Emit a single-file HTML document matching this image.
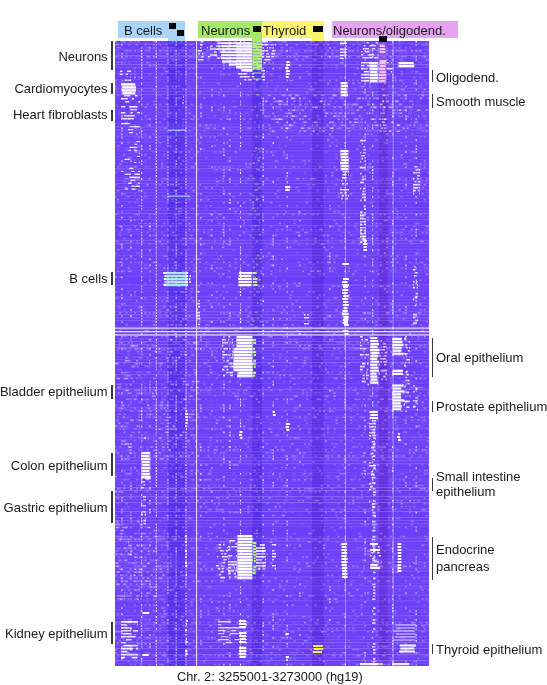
<!DOCTYPE html>
<html><head><meta charset="utf-8">
<style>
html,body{margin:0;padding:0;background:#fff;}
body{width:547px;height:685px;position:relative;overflow:hidden;font-family:"Liberation Sans",sans-serif;color:#1a1a1a;}
.t{position:absolute;font-size:13px;line-height:15px;white-space:nowrap;filter:grayscale(1);}
.r{text-align:right;}
.bar{position:absolute;background:#3a3a3a;width:1.6px;}
.box{position:absolute;}
.sq{position:absolute;background:#000;}
#hm{position:absolute;left:115px;top:41px;filter:blur(0.3px);}
</style></head><body>
<svg id="hm" width="314" height="625" viewBox="0 0 314 625"><rect width="314" height="625" fill="#6b3ef8"/><path fill="#3010d0" fill-opacity="0.3" d="M53.3 0h17.7v625h-17.7z"/><path fill="#3010c0" fill-opacity="0.3" d="M137.2 0h9.8v625h-9.8z"/><path fill="#3a10b8" fill-opacity="0.3" d="M197 0h11.6v625h-11.6z"/><path fill="#5010a0" fill-opacity="0.3" d="M264 0h8.6v625h-8.6z"/><path fill="#ffffff" fill-opacity="0.1" d="M0 2.1h314v0.9h-314zM0 8.1h314v0.9h-314zM0 11h314v0.9h-314zM0 17h314v0.9h-314zM0 20h314v0.9h-314zM0 34.9h314v0.9h-314zM0 37.9h314v0.9h-314zM0 40.8h314v0.9h-314zM0 43.8h314v0.9h-314zM0 55.7h314v0.9h-314zM0 67.7h314v0.9h-314zM0 70.6h314v0.9h-314zM0 73.6h314v0.9h-314zM0 76.6h314v0.9h-314zM0 82.6h314v0.9h-314zM0 91.5h314v0.9h-314zM0 97.5h314v0.9h-314zM0 103.4h314v0.9h-314zM0 106.4h314v0.9h-314zM0 112.4h314v0.9h-314zM0 115.3h314v0.9h-314zM0 118.3h314v0.9h-314zM0 121.3h314v0.9h-314zM0 124.3h314v0.9h-314zM0 130.2h314v0.9h-314zM0 136.2h314v0.9h-314zM0 145.1h314v0.9h-314zM0 148.1h314v0.9h-314zM0 151.1h314v0.9h-314zM0 154.1h314v0.9h-314zM0 157.1h314v0.9h-314zM0 160h314v0.9h-314zM0 166h314v0.9h-314zM0 169h314v0.9h-314zM0 174.9h314v0.9h-314zM0 189.8h314v0.9h-314zM0 192.8h314v0.9h-314zM0 204.7h314v0.9h-314zM0 210.7h314v0.9h-314zM0 216.7h314v0.9h-314zM0 222.6h314v0.9h-314zM0 225.6h314v0.9h-314zM0 228.6h314v0.9h-314zM0 231.6h314v0.9h-314zM0 234.5h314v0.9h-314zM0 246.5h314v0.9h-314zM0 249.4h314v0.9h-314zM0 267.3h314v0.9h-314zM0 285.2h314v0.9h-314zM0 294.1h314v0.9h-314zM0 297.1h314v0.9h-314zM0 309h314v0.9h-314zM0 312h314v0.9h-314zM0 315h314v0.9h-314zM0 318h314v0.9h-314zM0 323.9h314v0.9h-314zM0 329.9h314v0.9h-314zM0 335.9h314v0.9h-314zM0 341.8h314v0.9h-314zM0 350.8h314v0.9h-314zM0 359.7h314v0.9h-314zM0 362.7h314v0.9h-314zM0 374.6h314v0.9h-314zM0 377.6h314v0.9h-314zM0 380.6h314v0.9h-314zM0 383.5h314v0.9h-314zM0 392.5h314v0.9h-314zM0 401.4h314v0.9h-314zM0 404.4h314v0.9h-314zM0 407.4h314v0.9h-314zM0 413.3h314v0.9h-314zM0 428.2h314v0.9h-314zM0 431.2h314v0.9h-314zM0 434.2h314v0.9h-314zM0 437.2h314v0.9h-314zM0 440.2h314v0.9h-314zM0 443.1h314v0.9h-314zM0 458h314v0.9h-314zM0 467h314v0.9h-314zM0 484.9h314v0.9h-314zM0 502.7h314v0.9h-314zM0 505.7h314v0.9h-314zM0 511.7h314v0.9h-314zM0 514.7h314v0.9h-314zM0 517.6h314v0.9h-314zM0 523.6h314v0.9h-314zM0 538.5h314v0.9h-314zM0 541.5h314v0.9h-314zM0 550.4h314v0.9h-314zM0 565.3h314v0.9h-314zM0 568.3h314v0.9h-314zM0 571.3h314v0.9h-314zM0 577.2h314v0.9h-314zM0 580.2h314v0.9h-314zM0 586.2h314v0.9h-314zM0 595.1h314v0.9h-314zM0 598.1h314v0.9h-314zM0 604.1h314v0.9h-314zM0 616h314v0.9h-314zM0 621.9h314v0.9h-314zM0 624.9h314v0.1h-314zM21 0h2.1v1.5h-2.1zM29.4 0h2.1v1.5h-2.1zM54.6 0h2.1v1.5h-2.1zM142.8 0h2.1v1.5h-2.1zM151.2 0h2.1v1.5h-2.1zM189 0h2.1v1.5h-2.1zM212.1 0h2.1v1.5h-2.1zM218.4 0h2.1v1.5h-2.1zM233.1 0h2.1v1.5h-2.1zM245.7 0h2.1v1.5h-2.1zM287.7 0h2.1v1.5h-2.1zM14.7 3h2.1v1.5h-2.1zM18.9 3h2.1v1.5h-2.1zM33.6 3h2.1v1.5h-2.1zM58.8 3h2.1v1.5h-2.1zM98.7 3h2.1v1.5h-2.1zM100.8 3h2.1v1.5h-2.1zM111.3 3h2.1v1.5h-2.1zM117.6 3h2.1v1.5h-2.1zM123.9 3h2.1v1.5h-2.1zM136.5 3h2.1v1.5h-2.1zM165.9 3h2.1v1.5h-2.1zM220.5 3h2.1v1.5h-2.1zM228.9 3h2.1v1.5h-2.1zM262.5 3h2.1v1.5h-2.1zM296.1 3h2.1v1.5h-2.1zM302.4 3h2.1v1.5h-2.1zM8.4 6h2.1v1.5h-2.1zM33.6 6h2.1v1.5h-2.1zM46.2 6h2.1v1.5h-2.1zM58.8 6h2.1v1.5h-2.1zM107.1 6h2.1v1.5h-2.1zM130.2 6h2.1v1.5h-2.1zM151.2 6h2.1v1.5h-2.1zM168 6h2.1v1.5h-2.1zM210 6h2.1v1.5h-2.1zM260.4 6h2.1v1.5h-2.1zM310.8 6h2.1v1.5h-2.1zM0 8.9h2.1v1.5h-2.1zM8.4 8.9h2.1v1.5h-2.1zM37.8 8.9h2.1v1.5h-2.1zM56.7 8.9h2.1v1.5h-2.1zM75.6 8.9h2.1v1.5h-2.1zM94.5 8.9h2.1v1.5h-2.1zM98.7 8.9h2.1v1.5h-2.1zM140.7 8.9h2.1v1.5h-2.1zM161.7 8.9h2.1v1.5h-2.1zM176.4 8.9h2.1v1.5h-2.1zM180.6 8.9h2.1v1.5h-2.1zM218.4 8.9h2.1v1.5h-2.1zM224.7 8.9h2.1v1.5h-2.1zM273 8.9h2.1v1.5h-2.1zM294 8.9h2.1v1.5h-2.1zM310.8 8.9h2.1v1.5h-2.1zM39.9 11.9h2.1v1.5h-2.1zM44.1 11.9h2.1v1.5h-2.1zM67.2 11.9h2.1v1.5h-2.1zM130.2 11.9h2.1v1.5h-2.1zM165.9 11.9h2.1v1.5h-2.1zM170.1 11.9h2.1v1.5h-2.1zM178.5 11.9h2.1v1.5h-2.1zM256.2 11.9h2.1v1.5h-2.1zM283.5 11.9h2.1v1.5h-2.1zM285.6 11.9h2.1v1.5h-2.1zM289.8 11.9h2.1v1.5h-2.1zM298.2 11.9h2.1v1.5h-2.1zM8.4 14.9h2.1v1.5h-2.1zM18.9 14.9h2.1v1.5h-2.1zM23.1 14.9h2.1v1.5h-2.1zM39.9 14.9h2.1v1.5h-2.1zM58.8 14.9h2.1v1.5h-2.1zM65.1 14.9h2.1v1.5h-2.1zM90.3 14.9h2.1v1.5h-2.1zM92.4 14.9h2.1v1.5h-2.1zM107.1 14.9h2.1v1.5h-2.1zM111.3 14.9h2.1v1.5h-2.1zM121.8 14.9h2.1v1.5h-2.1zM123.9 14.9h2.1v1.5h-2.1zM130.2 14.9h2.1v1.5h-2.1zM134.4 14.9h2.1v1.5h-2.1zM136.5 14.9h2.1v1.5h-2.1zM163.8 14.9h2.1v1.5h-2.1zM180.6 14.9h2.1v1.5h-2.1zM193.2 14.9h2.1v1.5h-2.1zM195.3 14.9h2.1v1.5h-2.1zM201.6 14.9h2.1v1.5h-2.1zM203.7 14.9h2.1v1.5h-2.1zM207.9 14.9h2.1v1.5h-2.1zM226.8 14.9h2.1v1.5h-2.1zM235.2 14.9h2.1v1.5h-2.1zM245.7 14.9h2.1v1.5h-2.1zM252 14.9h2.1v1.5h-2.1zM270.9 14.9h2.1v1.5h-2.1zM283.5 14.9h2.1v1.5h-2.1zM302.4 14.9h2.1v1.5h-2.1zM304.5 14.9h2.1v1.5h-2.1zM312.9 14.9h1.1v1.5h-1.1zM23.1 17.9h2.1v1.5h-2.1zM130.2 17.9h2.1v1.5h-2.1zM134.4 17.9h2.1v1.5h-2.1zM142.8 17.9h2.1v1.5h-2.1zM168 17.9h2.1v1.5h-2.1zM178.5 17.9h2.1v1.5h-2.1zM210 17.9h2.1v1.5h-2.1zM222.6 17.9h2.1v1.5h-2.1zM308.7 17.9h2.1v1.5h-2.1zM130.2 20.9h2.1v1.5h-2.1zM165.9 20.9h2.1v1.5h-2.1zM178.5 20.9h2.1v1.5h-2.1zM254.1 20.9h2.1v1.5h-2.1zM281.4 20.9h2.1v1.5h-2.1zM58.8 23.8h2.1v1.5h-2.1zM69.3 23.8h2.1v1.5h-2.1zM75.6 23.8h2.1v1.5h-2.1zM98.7 23.8h2.1v1.5h-2.1zM199.5 23.8h2.1v1.5h-2.1zM210 23.8h2.1v1.5h-2.1zM216.3 23.8h2.1v1.5h-2.1zM273 23.8h2.1v1.5h-2.1zM296.1 23.8h2.1v1.5h-2.1zM142.8 26.8h2.1v1.5h-2.1zM195.3 26.8h2.1v1.5h-2.1zM207.9 26.8h2.1v1.5h-2.1zM245.7 26.8h2.1v1.5h-2.1zM247.8 26.8h2.1v1.5h-2.1zM39.9 29.8h2.1v1.5h-2.1zM48.3 29.8h2.1v1.5h-2.1zM247.8 29.8h2.1v1.5h-2.1zM275.1 29.8h2.1v1.5h-2.1zM73.5 32.8h2.1v1.5h-2.1zM176.4 32.8h2.1v1.5h-2.1zM37.8 35.8h2.1v1.5h-2.1zM50.4 35.8h2.1v1.5h-2.1zM63 35.8h2.1v1.5h-2.1zM65.1 35.8h2.1v1.5h-2.1zM178.5 35.8h2.1v1.5h-2.1zM207.9 35.8h2.1v1.5h-2.1zM252 35.8h2.1v1.5h-2.1zM10.5 38.7h2.1v1.5h-2.1zM44.1 38.7h2.1v1.5h-2.1zM77.7 38.7h2.1v1.5h-2.1zM123.9 38.7h2.1v1.5h-2.1zM207.9 38.7h2.1v1.5h-2.1zM287.7 38.7h2.1v1.5h-2.1zM296.1 38.7h2.1v1.5h-2.1zM31.5 41.7h2.1v1.5h-2.1zM136.5 41.7h2.1v1.5h-2.1zM165.9 41.7h2.1v1.5h-2.1zM174.3 41.7h2.1v1.5h-2.1zM79.8 44.7h2.1v1.5h-2.1zM168 44.7h2.1v1.5h-2.1zM191.1 44.7h2.1v1.5h-2.1zM235.2 44.7h2.1v1.5h-2.1zM266.7 44.7h2.1v1.5h-2.1zM21 47.7h2.1v1.5h-2.1zM117.6 47.7h2.1v1.5h-2.1zM119.7 47.7h2.1v1.5h-2.1zM142.8 47.7h2.1v1.5h-2.1zM144.9 47.7h2.1v1.5h-2.1zM205.8 47.7h2.1v1.5h-2.1zM245.7 47.7h2.1v1.5h-2.1zM254.1 47.7h2.1v1.5h-2.1zM63 50.7h2.1v1.5h-2.1zM224.7 50.7h2.1v1.5h-2.1zM254.1 50.7h2.1v1.5h-2.1zM260.4 50.7h2.1v1.5h-2.1zM310.8 50.7h2.1v1.5h-2.1zM159.6 53.6h2.1v1.5h-2.1zM14.7 56.6h2.1v1.5h-2.1zM65.1 56.6h2.1v1.5h-2.1zM151.2 56.6h2.1v1.5h-2.1zM14.7 59.6h2.1v1.5h-2.1zM39.9 59.6h2.1v1.5h-2.1zM98.7 59.6h2.1v1.5h-2.1zM203.7 59.6h2.1v1.5h-2.1zM0 62.6h2.1v1.5h-2.1zM21 62.6h2.1v1.5h-2.1zM98.7 62.6h2.1v1.5h-2.1zM283.5 62.6h2.1v1.5h-2.1zM285.6 62.6h2.1v1.5h-2.1zM44.1 65.6h2.1v1.5h-2.1zM58.8 65.6h2.1v1.5h-2.1zM67.2 65.6h2.1v1.5h-2.1zM105 65.6h2.1v1.5h-2.1zM138.6 65.6h2.1v1.5h-2.1zM161.7 65.6h2.1v1.5h-2.1zM180.6 65.6h2.1v1.5h-2.1zM191.1 65.6h2.1v1.5h-2.1zM218.4 65.6h2.1v1.5h-2.1zM243.6 65.6h2.1v1.5h-2.1zM50.4 68.5h2.1v1.5h-2.1zM73.5 68.5h2.1v1.5h-2.1zM105 68.5h2.1v1.5h-2.1zM294 68.5h2.1v1.5h-2.1zM304.5 68.5h2.1v1.5h-2.1zM21 71.5h2.1v1.5h-2.1zM44.1 71.5h2.1v1.5h-2.1zM147 71.5h2.1v1.5h-2.1zM189 71.5h2.1v1.5h-2.1zM306.6 71.5h2.1v1.5h-2.1zM107.1 74.5h2.1v1.5h-2.1zM151.2 74.5h2.1v1.5h-2.1zM189 74.5h2.1v1.5h-2.1zM224.7 74.5h2.1v1.5h-2.1zM245.7 74.5h2.1v1.5h-2.1zM8.4 77.5h2.1v1.5h-2.1zM168 77.5h2.1v1.5h-2.1zM180.6 77.5h2.1v1.5h-2.1zM207.9 77.5h2.1v1.5h-2.1zM260.4 77.5h2.1v1.5h-2.1zM266.7 77.5h2.1v1.5h-2.1zM302.4 77.5h2.1v1.5h-2.1zM308.7 77.5h2.1v1.5h-2.1zM254.1 80.5h2.1v1.5h-2.1zM56.7 83.4h2.1v1.5h-2.1zM63 83.4h2.1v1.5h-2.1zM73.5 83.4h2.1v1.5h-2.1zM88.2 83.4h2.1v1.5h-2.1zM92.4 83.4h2.1v1.5h-2.1zM102.9 83.4h2.1v1.5h-2.1zM138.6 83.4h2.1v1.5h-2.1zM201.6 83.4h2.1v1.5h-2.1zM239.4 83.4h2.1v1.5h-2.1zM252 83.4h2.1v1.5h-2.1zM268.8 83.4h2.1v1.5h-2.1zM289.8 83.4h2.1v1.5h-2.1zM44.1 86.4h2.1v1.5h-2.1zM67.2 86.4h2.1v1.5h-2.1zM77.7 86.4h2.1v1.5h-2.1zM79.8 86.4h2.1v1.5h-2.1zM138.6 86.4h2.1v1.5h-2.1zM199.5 86.4h2.1v1.5h-2.1zM220.5 86.4h2.1v1.5h-2.1zM233.1 86.4h2.1v1.5h-2.1zM235.2 86.4h2.1v1.5h-2.1zM306.6 86.4h2.1v1.5h-2.1zM18.9 89.4h2.1v1.5h-2.1zM138.6 89.4h2.1v1.5h-2.1zM142.8 89.4h2.1v1.5h-2.1zM153.3 89.4h2.1v1.5h-2.1zM170.1 89.4h2.1v1.5h-2.1zM176.4 89.4h2.1v1.5h-2.1zM273 89.4h2.1v1.5h-2.1zM279.3 89.4h2.1v1.5h-2.1zM4.2 92.4h2.1v1.5h-2.1zM10.5 92.4h2.1v1.5h-2.1zM33.6 92.4h2.1v1.5h-2.1zM182.7 92.4h2.1v1.5h-2.1zM18.9 95.4h2.1v1.5h-2.1zM29.4 95.4h2.1v1.5h-2.1zM39.9 95.4h2.1v1.5h-2.1zM58.8 95.4h2.1v1.5h-2.1zM69.3 95.4h2.1v1.5h-2.1zM90.3 95.4h2.1v1.5h-2.1zM142.8 95.4h2.1v1.5h-2.1zM176.4 95.4h2.1v1.5h-2.1zM264.6 95.4h2.1v1.5h-2.1zM289.8 95.4h2.1v1.5h-2.1zM69.3 101.3h2.1v1.5h-2.1zM186.9 101.3h2.1v1.5h-2.1zM222.6 101.3h2.1v1.5h-2.1zM296.1 101.3h2.1v1.5h-2.1zM44.1 104.3h2.1v1.5h-2.1zM67.2 104.3h2.1v1.5h-2.1zM136.5 104.3h2.1v1.5h-2.1zM163.8 104.3h2.1v1.5h-2.1zM195.3 104.3h2.1v1.5h-2.1zM84 107.3h2.1v1.5h-2.1zM144.9 107.3h2.1v1.5h-2.1zM165.9 107.3h2.1v1.5h-2.1zM218.4 107.3h2.1v1.5h-2.1zM228.9 107.3h2.1v1.5h-2.1zM37.8 110.3h2.1v1.5h-2.1zM84 110.3h2.1v1.5h-2.1zM142.8 110.3h2.1v1.5h-2.1zM159.6 110.3h2.1v1.5h-2.1zM222.6 110.3h2.1v1.5h-2.1zM270.9 110.3h2.1v1.5h-2.1zM281.4 110.3h2.1v1.5h-2.1zM84 113.2h2.1v1.5h-2.1zM176.4 113.2h2.1v1.5h-2.1zM56.7 116.2h2.1v1.5h-2.1zM119.7 116.2h2.1v1.5h-2.1zM138.6 116.2h2.1v1.5h-2.1zM140.7 116.2h2.1v1.5h-2.1zM161.7 116.2h2.1v1.5h-2.1zM264.6 116.2h2.1v1.5h-2.1zM279.3 116.2h2.1v1.5h-2.1zM111.3 119.2h2.1v1.5h-2.1zM199.5 119.2h2.1v1.5h-2.1zM203.7 119.2h2.1v1.5h-2.1zM262.5 119.2h2.1v1.5h-2.1zM201.6 122.2h2.1v1.5h-2.1zM203.7 122.2h2.1v1.5h-2.1zM310.8 122.2h2.1v1.5h-2.1zM4.2 125.2h2.1v1.5h-2.1zM33.6 125.2h2.1v1.5h-2.1zM50.4 125.2h2.1v1.5h-2.1zM56.7 125.2h2.1v1.5h-2.1zM58.8 125.2h2.1v1.5h-2.1zM92.4 125.2h2.1v1.5h-2.1zM117.6 125.2h2.1v1.5h-2.1zM123.9 125.2h2.1v1.5h-2.1zM138.6 125.2h2.1v1.5h-2.1zM155.4 125.2h2.1v1.5h-2.1zM199.5 125.2h2.1v1.5h-2.1zM285.6 125.2h2.1v1.5h-2.1zM14.7 128.1h2.1v1.5h-2.1zM241.5 128.1h2.1v1.5h-2.1zM98.7 131.1h2.1v1.5h-2.1zM136.5 134.1h2.1v1.5h-2.1zM195.3 134.1h2.1v1.5h-2.1zM264.6 134.1h2.1v1.5h-2.1zM2.1 137.1h2.1v1.5h-2.1zM44.1 137.1h2.1v1.5h-2.1zM54.6 137.1h2.1v1.5h-2.1zM73.5 137.1h2.1v1.5h-2.1zM75.6 137.1h2.1v1.5h-2.1zM130.2 137.1h2.1v1.5h-2.1zM189 137.1h2.1v1.5h-2.1zM210 137.1h2.1v1.5h-2.1zM226.8 137.1h2.1v1.5h-2.1zM235.2 137.1h2.1v1.5h-2.1zM243.6 137.1h2.1v1.5h-2.1zM264.6 137.1h2.1v1.5h-2.1zM273 137.1h2.1v1.5h-2.1zM10.5 140.1h2.1v1.5h-2.1zM25.2 140.1h2.1v1.5h-2.1zM73.5 140.1h2.1v1.5h-2.1zM84 140.1h2.1v1.5h-2.1zM130.2 140.1h2.1v1.5h-2.1zM216.3 140.1h2.1v1.5h-2.1zM37.8 143h2.1v1.5h-2.1zM119.7 143h2.1v1.5h-2.1zM159.6 143h2.1v1.5h-2.1zM199.5 143h2.1v1.5h-2.1zM218.4 143h2.1v1.5h-2.1zM241.5 143h2.1v1.5h-2.1zM302.4 143h2.1v1.5h-2.1zM304.5 143h2.1v1.5h-2.1zM48.3 146h2.1v1.5h-2.1zM50.4 146h2.1v1.5h-2.1zM88.2 146h2.1v1.5h-2.1zM163.8 146h2.1v1.5h-2.1zM178.5 146h2.1v1.5h-2.1zM195.3 146h2.1v1.5h-2.1zM212.1 146h2.1v1.5h-2.1zM218.4 146h2.1v1.5h-2.1zM75.6 149h2.1v1.5h-2.1zM163.8 149h2.1v1.5h-2.1zM310.8 149h2.1v1.5h-2.1zM25.2 152h2.1v1.5h-2.1zM94.5 152h2.1v1.5h-2.1zM193.2 152h2.1v1.5h-2.1zM31.5 155h2.1v1.5h-2.1zM65.1 155h2.1v1.5h-2.1zM102.9 155h2.1v1.5h-2.1zM220.5 155h2.1v1.5h-2.1zM270.9 155h2.1v1.5h-2.1zM8.4 157.9h2.1v1.5h-2.1zM81.9 157.9h2.1v1.5h-2.1zM90.3 157.9h2.1v1.5h-2.1zM228.9 157.9h2.1v1.5h-2.1zM279.3 157.9h2.1v1.5h-2.1zM12.6 160.9h2.1v1.5h-2.1zM14.7 160.9h2.1v1.5h-2.1zM21 160.9h2.1v1.5h-2.1zM23.1 160.9h2.1v1.5h-2.1zM50.4 160.9h2.1v1.5h-2.1zM65.1 160.9h2.1v1.5h-2.1zM136.5 163.9h2.1v1.5h-2.1zM199.5 163.9h2.1v1.5h-2.1zM270.9 163.9h2.1v1.5h-2.1zM90.3 166.9h2.1v1.5h-2.1zM113.4 166.9h2.1v1.5h-2.1zM218.4 166.9h2.1v1.5h-2.1zM58.8 169.9h2.1v1.5h-2.1zM81.9 169.9h2.1v1.5h-2.1zM48.3 172.8h2.1v1.5h-2.1zM159.6 172.8h2.1v1.5h-2.1zM178.5 172.8h2.1v1.5h-2.1zM186.9 172.8h2.1v1.5h-2.1zM224.7 172.8h2.1v1.5h-2.1zM228.9 172.8h2.1v1.5h-2.1zM239.4 172.8h2.1v1.5h-2.1zM56.7 175.8h2.1v1.5h-2.1zM283.5 175.8h2.1v1.5h-2.1zM285.6 175.8h2.1v1.5h-2.1zM63 178.8h2.1v1.5h-2.1zM84 178.8h2.1v1.5h-2.1zM285.6 178.8h2.1v1.5h-2.1zM287.7 178.8h2.1v1.5h-2.1zM168 181.8h2.1v1.5h-2.1zM207.9 181.8h2.1v1.5h-2.1zM44.1 184.8h2.1v1.5h-2.1zM56.7 184.8h2.1v1.5h-2.1zM75.6 184.8h2.1v1.5h-2.1zM142.8 184.8h2.1v1.5h-2.1zM197.4 184.8h2.1v1.5h-2.1zM252 184.8h2.1v1.5h-2.1zM266.7 184.8h2.1v1.5h-2.1zM275.1 184.8h2.1v1.5h-2.1zM0 187.7h2.1v1.5h-2.1zM18.9 187.7h2.1v1.5h-2.1zM56.7 187.7h2.1v1.5h-2.1zM63 187.7h2.1v1.5h-2.1zM67.2 187.7h2.1v1.5h-2.1zM84 187.7h2.1v1.5h-2.1zM92.4 187.7h2.1v1.5h-2.1zM113.4 187.7h2.1v1.5h-2.1zM159.6 187.7h2.1v1.5h-2.1zM191.1 187.7h2.1v1.5h-2.1zM224.7 187.7h2.1v1.5h-2.1zM239.4 187.7h2.1v1.5h-2.1zM308.7 187.7h2.1v1.5h-2.1zM58.8 190.7h2.1v1.5h-2.1zM117.6 190.7h2.1v1.5h-2.1zM218.4 190.7h2.1v1.5h-2.1zM252 190.7h2.1v1.5h-2.1zM264.6 190.7h2.1v1.5h-2.1zM279.3 190.7h2.1v1.5h-2.1zM283.5 190.7h2.1v1.5h-2.1zM294 190.7h2.1v1.5h-2.1zM298.2 190.7h2.1v1.5h-2.1zM54.6 193.7h2.1v1.5h-2.1zM63 193.7h2.1v1.5h-2.1zM73.5 193.7h2.1v1.5h-2.1zM210 193.7h2.1v1.5h-2.1zM239.4 193.7h2.1v1.5h-2.1zM247.8 193.7h2.1v1.5h-2.1zM266.7 193.7h2.1v1.5h-2.1zM270.9 193.7h2.1v1.5h-2.1zM31.5 196.7h2.1v1.5h-2.1zM50.4 196.7h2.1v1.5h-2.1zM65.1 196.7h2.1v1.5h-2.1zM102.9 196.7h2.1v1.5h-2.1zM134.4 196.7h2.1v1.5h-2.1zM153.3 196.7h2.1v1.5h-2.1zM178.5 196.7h2.1v1.5h-2.1zM197.4 196.7h2.1v1.5h-2.1zM254.1 196.7h2.1v1.5h-2.1zM262.5 196.7h2.1v1.5h-2.1zM273 196.7h2.1v1.5h-2.1zM65.1 199.7h2.1v1.5h-2.1zM81.9 199.7h2.1v1.5h-2.1zM84 199.7h2.1v1.5h-2.1zM155.4 199.7h2.1v1.5h-2.1zM2.1 202.6h2.1v1.5h-2.1zM50.4 202.6h2.1v1.5h-2.1zM77.7 202.6h2.1v1.5h-2.1zM98.7 202.6h2.1v1.5h-2.1zM102.9 202.6h2.1v1.5h-2.1zM138.6 202.6h2.1v1.5h-2.1zM153.3 202.6h2.1v1.5h-2.1zM262.5 202.6h2.1v1.5h-2.1zM151.2 205.6h2.1v1.5h-2.1zM155.4 205.6h2.1v1.5h-2.1zM252 205.6h2.1v1.5h-2.1zM212.1 208.6h2.1v1.5h-2.1zM302.4 208.6h2.1v1.5h-2.1zM100.8 211.6h2.1v1.5h-2.1zM123.9 211.6h2.1v1.5h-2.1zM180.6 211.6h2.1v1.5h-2.1zM285.6 211.6h2.1v1.5h-2.1zM8.4 214.6h2.1v1.5h-2.1zM159.6 214.6h2.1v1.5h-2.1zM170.1 214.6h2.1v1.5h-2.1zM247.8 214.6h2.1v1.5h-2.1zM298.2 214.6h2.1v1.5h-2.1zM73.5 217.5h2.1v1.5h-2.1zM98.7 217.5h2.1v1.5h-2.1zM100.8 217.5h2.1v1.5h-2.1zM107.1 217.5h2.1v1.5h-2.1zM128.1 217.5h2.1v1.5h-2.1zM170.1 217.5h2.1v1.5h-2.1zM224.7 217.5h2.1v1.5h-2.1zM287.7 217.5h2.1v1.5h-2.1zM312.9 217.5h1.1v1.5h-1.1zM0 220.5h2.1v1.5h-2.1zM2.1 220.5h2.1v1.5h-2.1zM21 220.5h2.1v1.5h-2.1zM54.6 220.5h2.1v1.5h-2.1zM67.2 220.5h2.1v1.5h-2.1zM79.8 220.5h2.1v1.5h-2.1zM100.8 220.5h2.1v1.5h-2.1zM105 220.5h2.1v1.5h-2.1zM165.9 220.5h2.1v1.5h-2.1zM207.9 220.5h2.1v1.5h-2.1zM222.6 220.5h2.1v1.5h-2.1zM228.9 220.5h2.1v1.5h-2.1zM252 220.5h2.1v1.5h-2.1zM63 223.5h2.1v1.5h-2.1zM79.8 223.5h2.1v1.5h-2.1zM117.6 223.5h2.1v1.5h-2.1zM151.2 223.5h2.1v1.5h-2.1zM159.6 223.5h2.1v1.5h-2.1zM189 223.5h2.1v1.5h-2.1zM233.1 223.5h2.1v1.5h-2.1zM254.1 223.5h2.1v1.5h-2.1zM298.2 223.5h2.1v1.5h-2.1zM312.9 223.5h1.1v1.5h-1.1zM2.1 226.5h2.1v1.5h-2.1zM77.7 226.5h2.1v1.5h-2.1zM102.9 226.5h2.1v1.5h-2.1zM107.1 226.5h2.1v1.5h-2.1zM163.8 226.5h2.1v1.5h-2.1zM189 226.5h2.1v1.5h-2.1zM195.3 226.5h2.1v1.5h-2.1zM199.5 226.5h2.1v1.5h-2.1zM243.6 226.5h2.1v1.5h-2.1zM279.3 226.5h2.1v1.5h-2.1zM308.7 226.5h2.1v1.5h-2.1zM25.2 229.5h2.1v1.5h-2.1zM90.3 229.5h2.1v1.5h-2.1zM275.1 229.5h2.1v1.5h-2.1zM289.8 229.5h2.1v1.5h-2.1zM304.5 229.5h2.1v1.5h-2.1zM308.7 229.5h2.1v1.5h-2.1zM25.2 232.4h2.1v1.5h-2.1zM63 232.4h2.1v1.5h-2.1zM312.9 232.4h1.1v1.5h-1.1zM33.6 235.4h2.1v1.5h-2.1zM46.2 235.4h2.1v1.5h-2.1zM159.6 235.4h2.1v1.5h-2.1zM298.2 235.4h2.1v1.5h-2.1zM2.1 238.4h2.1v1.5h-2.1zM65.1 238.4h2.1v1.5h-2.1zM233.1 238.4h2.1v1.5h-2.1zM241.5 238.4h2.1v1.5h-2.1zM296.1 238.4h2.1v1.5h-2.1zM308.7 238.4h2.1v1.5h-2.1zM12.6 241.4h2.1v1.5h-2.1zM79.8 244.4h2.1v1.5h-2.1zM94.5 244.4h2.1v1.5h-2.1zM100.8 244.4h2.1v1.5h-2.1zM161.7 244.4h2.1v1.5h-2.1zM247.8 244.4h2.1v1.5h-2.1zM262.5 244.4h2.1v1.5h-2.1zM168 247.3h2.1v1.5h-2.1zM2.1 250.3h2.1v1.5h-2.1zM50.4 250.3h2.1v1.5h-2.1zM233.1 250.3h2.1v1.5h-2.1zM247.8 250.3h2.1v1.5h-2.1zM275.1 250.3h2.1v1.5h-2.1zM287.7 250.3h2.1v1.5h-2.1zM306.6 250.3h2.1v1.5h-2.1zM92.4 253.3h2.1v1.5h-2.1zM256.2 253.3h2.1v1.5h-2.1zM14.7 256.3h2.1v1.5h-2.1zM134.4 256.3h2.1v1.5h-2.1zM182.7 256.3h2.1v1.5h-2.1zM10.5 259.3h2.1v1.5h-2.1zM29.4 259.3h2.1v1.5h-2.1zM100.8 259.3h2.1v1.5h-2.1zM222.6 259.3h2.1v1.5h-2.1zM235.2 259.3h2.1v1.5h-2.1zM18.9 262.2h2.1v1.5h-2.1zM39.9 262.2h2.1v1.5h-2.1zM210 262.2h2.1v1.5h-2.1zM73.5 265.2h2.1v1.5h-2.1zM310.8 265.2h2.1v1.5h-2.1zM4.2 268.2h2.1v1.5h-2.1zM29.4 268.2h2.1v1.5h-2.1zM50.4 268.2h2.1v1.5h-2.1zM54.6 268.2h2.1v1.5h-2.1zM98.7 268.2h2.1v1.5h-2.1zM151.2 268.2h2.1v1.5h-2.1zM159.6 268.2h2.1v1.5h-2.1zM205.8 268.2h2.1v1.5h-2.1zM14.7 271.2h2.1v1.5h-2.1zM81.9 271.2h2.1v1.5h-2.1zM170.1 271.2h2.1v1.5h-2.1zM308.7 271.2h2.1v1.5h-2.1zM312.9 271.2h1.1v1.5h-1.1zM203.7 274.2h2.1v1.5h-2.1zM21 277.1h2.1v1.5h-2.1zM134.4 277.1h2.1v1.5h-2.1zM153.3 277.1h2.1v1.5h-2.1zM197.4 277.1h2.1v1.5h-2.1zM285.6 277.1h2.1v1.5h-2.1zM289.8 277.1h2.1v1.5h-2.1zM298.2 277.1h2.1v1.5h-2.1zM310.8 277.1h2.1v1.5h-2.1zM73.5 280.1h2.1v1.5h-2.1zM88.2 280.1h2.1v1.5h-2.1zM92.4 280.1h2.1v1.5h-2.1zM186.9 280.1h2.1v1.5h-2.1zM228.9 280.1h2.1v1.5h-2.1zM245.7 280.1h2.1v1.5h-2.1zM0 283.1h2.1v1.5h-2.1zM23.1 283.1h2.1v1.5h-2.1zM33.6 283.1h2.1v1.5h-2.1zM44.1 283.1h2.1v1.5h-2.1zM69.3 283.1h2.1v1.5h-2.1zM73.5 283.1h2.1v1.5h-2.1zM77.7 283.1h2.1v1.5h-2.1zM161.7 283.1h2.1v1.5h-2.1zM182.7 283.1h2.1v1.5h-2.1zM199.5 283.1h2.1v1.5h-2.1zM247.8 283.1h2.1v1.5h-2.1zM298.2 283.1h2.1v1.5h-2.1zM14.7 286.1h2.1v1.5h-2.1zM77.7 286.1h2.1v1.5h-2.1zM178.5 286.1h2.1v1.5h-2.1zM252 286.1h2.1v1.5h-2.1zM270.9 286.1h2.1v1.5h-2.1zM10.5 289.1h2.1v1.5h-2.1zM50.4 289.1h2.1v1.5h-2.1zM105 289.1h2.1v1.5h-2.1zM203.7 289.1h2.1v1.5h-2.1zM256.2 289.1h2.1v1.5h-2.1zM275.1 289.1h2.1v1.5h-2.1zM151.2 292h2.1v1.5h-2.1zM174.3 292h2.1v1.5h-2.1zM195.3 292h2.1v1.5h-2.1zM237.3 292h2.1v1.5h-2.1zM285.6 292h2.1v1.5h-2.1zM308.7 292h2.1v1.5h-2.1zM88.2 295h2.1v1.5h-2.1zM119.7 295h2.1v1.5h-2.1zM147 295h2.1v1.5h-2.1zM151.2 295h2.1v1.5h-2.1zM222.6 295h2.1v1.5h-2.1zM252 295h2.1v1.5h-2.1zM90.3 298h2.1v1.5h-2.1zM92.4 298h2.1v1.5h-2.1zM151.2 298h2.1v1.5h-2.1zM170.1 298h2.1v1.5h-2.1zM224.7 298h2.1v1.5h-2.1zM8.4 301h2.1v1.5h-2.1zM50.4 301h2.1v1.5h-2.1zM56.7 301h2.1v1.5h-2.1zM58.8 301h2.1v1.5h-2.1zM92.4 301h2.1v1.5h-2.1zM182.7 301h2.1v1.5h-2.1zM212.1 301h2.1v1.5h-2.1zM220.5 301h2.1v1.5h-2.1zM266.7 301h2.1v1.5h-2.1zM294 301h2.1v1.5h-2.1zM18.9 304h2.1v1.5h-2.1zM75.6 304h2.1v1.5h-2.1zM102.9 304h2.1v1.5h-2.1zM105 304h2.1v1.5h-2.1zM180.6 304h2.1v1.5h-2.1zM195.3 304h2.1v1.5h-2.1zM4.2 306.9h2.1v1.5h-2.1zM21 306.9h2.1v1.5h-2.1zM37.8 306.9h2.1v1.5h-2.1zM98.7 306.9h2.1v1.5h-2.1zM128.1 306.9h2.1v1.5h-2.1zM138.6 306.9h2.1v1.5h-2.1zM144.9 306.9h2.1v1.5h-2.1zM151.2 306.9h2.1v1.5h-2.1zM165.9 306.9h2.1v1.5h-2.1zM174.3 306.9h2.1v1.5h-2.1zM178.5 306.9h2.1v1.5h-2.1zM294 306.9h2.1v1.5h-2.1zM136.5 309.9h2.1v1.5h-2.1zM161.7 309.9h2.1v1.5h-2.1zM50.4 312.9h2.1v1.5h-2.1zM65.1 312.9h2.1v1.5h-2.1zM69.3 312.9h2.1v1.5h-2.1zM77.7 312.9h2.1v1.5h-2.1zM165.9 312.9h2.1v1.5h-2.1zM2.1 315.9h2.1v1.5h-2.1zM18.9 315.9h2.1v1.5h-2.1zM94.5 315.9h2.1v1.5h-2.1zM100.8 315.9h2.1v1.5h-2.1zM136.5 315.9h2.1v1.5h-2.1zM147 315.9h2.1v1.5h-2.1zM260.4 315.9h2.1v1.5h-2.1zM186.9 318.9h2.1v1.5h-2.1zM207.9 318.9h2.1v1.5h-2.1zM252 318.9h2.1v1.5h-2.1zM65.1 321.8h2.1v1.5h-2.1zM79.8 321.8h2.1v1.5h-2.1zM105 321.8h2.1v1.5h-2.1zM107.1 321.8h2.1v1.5h-2.1zM111.3 321.8h2.1v1.5h-2.1zM128.1 321.8h2.1v1.5h-2.1zM144.9 321.8h2.1v1.5h-2.1zM218.4 321.8h2.1v1.5h-2.1zM228.9 321.8h2.1v1.5h-2.1zM239.4 321.8h2.1v1.5h-2.1zM281.4 321.8h2.1v1.5h-2.1zM18.9 324.8h2.1v1.5h-2.1zM37.8 324.8h2.1v1.5h-2.1zM48.3 324.8h2.1v1.5h-2.1zM65.1 324.8h2.1v1.5h-2.1zM119.7 324.8h2.1v1.5h-2.1zM174.3 324.8h2.1v1.5h-2.1zM199.5 324.8h2.1v1.5h-2.1zM226.8 324.8h2.1v1.5h-2.1zM140.7 327.8h2.1v1.5h-2.1zM174.3 327.8h2.1v1.5h-2.1zM218.4 327.8h2.1v1.5h-2.1zM285.6 327.8h2.1v1.5h-2.1zM79.8 330.8h2.1v1.5h-2.1zM98.7 330.8h2.1v1.5h-2.1zM189 330.8h2.1v1.5h-2.1zM113.4 333.8h2.1v1.5h-2.1zM199.5 333.8h2.1v1.5h-2.1zM270.9 333.8h2.1v1.5h-2.1zM2.1 336.7h2.1v1.5h-2.1zM44.1 336.7h2.1v1.5h-2.1zM46.2 336.7h2.1v1.5h-2.1zM50.4 336.7h2.1v1.5h-2.1zM77.7 336.7h2.1v1.5h-2.1zM79.8 336.7h2.1v1.5h-2.1zM92.4 336.7h2.1v1.5h-2.1zM224.7 336.7h2.1v1.5h-2.1zM247.8 336.7h2.1v1.5h-2.1zM252 336.7h2.1v1.5h-2.1zM270.9 336.7h2.1v1.5h-2.1zM50.4 339.7h2.1v1.5h-2.1zM73.5 339.7h2.1v1.5h-2.1zM88.2 339.7h2.1v1.5h-2.1zM105 339.7h2.1v1.5h-2.1zM111.3 339.7h2.1v1.5h-2.1zM193.2 339.7h2.1v1.5h-2.1zM243.6 339.7h2.1v1.5h-2.1zM279.3 339.7h2.1v1.5h-2.1zM285.6 339.7h2.1v1.5h-2.1zM0 342.7h2.1v1.5h-2.1zM140.7 342.7h2.1v1.5h-2.1zM199.5 342.7h2.1v1.5h-2.1zM226.8 342.7h2.1v1.5h-2.1zM289.8 342.7h2.1v1.5h-2.1zM23.1 345.7h2.1v1.5h-2.1zM46.2 345.7h2.1v1.5h-2.1zM79.8 345.7h2.1v1.5h-2.1zM84 345.7h2.1v1.5h-2.1zM100.8 345.7h2.1v1.5h-2.1zM216.3 345.7h2.1v1.5h-2.1zM224.7 345.7h2.1v1.5h-2.1zM245.7 345.7h2.1v1.5h-2.1zM39.9 348.7h2.1v1.5h-2.1zM48.3 348.7h2.1v1.5h-2.1zM63 348.7h2.1v1.5h-2.1zM67.2 348.7h2.1v1.5h-2.1zM98.7 348.7h2.1v1.5h-2.1zM105 348.7h2.1v1.5h-2.1zM151.2 348.7h2.1v1.5h-2.1zM165.9 348.7h2.1v1.5h-2.1zM189 348.7h2.1v1.5h-2.1zM220.5 348.7h2.1v1.5h-2.1zM224.7 348.7h2.1v1.5h-2.1zM233.1 348.7h2.1v1.5h-2.1zM254.1 348.7h2.1v1.5h-2.1zM266.7 348.7h2.1v1.5h-2.1zM268.8 348.7h2.1v1.5h-2.1zM279.3 348.7h2.1v1.5h-2.1zM285.6 348.7h2.1v1.5h-2.1zM287.7 348.7h2.1v1.5h-2.1zM312.9 348.7h1.1v1.5h-1.1zM29.4 351.6h2.1v1.5h-2.1zM84 351.6h2.1v1.5h-2.1zM88.2 351.6h2.1v1.5h-2.1zM94.5 351.6h2.1v1.5h-2.1zM119.7 351.6h2.1v1.5h-2.1zM130.2 351.6h2.1v1.5h-2.1zM37.8 354.6h2.1v1.5h-2.1zM207.9 354.6h2.1v1.5h-2.1zM79.8 357.6h2.1v1.5h-2.1zM94.5 357.6h2.1v1.5h-2.1zM100.8 357.6h2.1v1.5h-2.1zM111.3 357.6h2.1v1.5h-2.1zM186.9 357.6h2.1v1.5h-2.1zM207.9 357.6h2.1v1.5h-2.1zM222.6 357.6h2.1v1.5h-2.1zM224.7 357.6h2.1v1.5h-2.1zM308.7 357.6h2.1v1.5h-2.1zM2.1 360.6h2.1v1.5h-2.1zM63 360.6h2.1v1.5h-2.1zM46.2 363.6h2.1v1.5h-2.1zM56.7 363.6h2.1v1.5h-2.1zM94.5 363.6h2.1v1.5h-2.1zM102.9 363.6h2.1v1.5h-2.1zM119.7 363.6h2.1v1.5h-2.1zM168 363.6h2.1v1.5h-2.1zM252 363.6h2.1v1.5h-2.1zM14.7 366.5h2.1v1.5h-2.1zM37.8 366.5h2.1v1.5h-2.1zM39.9 366.5h2.1v1.5h-2.1zM44.1 366.5h2.1v1.5h-2.1zM84 366.5h2.1v1.5h-2.1zM117.6 366.5h2.1v1.5h-2.1zM182.7 366.5h2.1v1.5h-2.1zM241.5 366.5h2.1v1.5h-2.1zM281.4 366.5h2.1v1.5h-2.1zM58.8 369.5h2.1v1.5h-2.1zM130.2 369.5h2.1v1.5h-2.1zM168 369.5h2.1v1.5h-2.1zM241.5 369.5h2.1v1.5h-2.1zM260.4 369.5h2.1v1.5h-2.1zM281.4 369.5h2.1v1.5h-2.1zM65.1 372.5h2.1v1.5h-2.1zM132.3 372.5h2.1v1.5h-2.1zM159.6 372.5h2.1v1.5h-2.1zM254.1 372.5h2.1v1.5h-2.1zM270.9 372.5h2.1v1.5h-2.1zM8.4 375.5h2.1v1.5h-2.1zM14.7 375.5h2.1v1.5h-2.1zM54.6 375.5h2.1v1.5h-2.1zM56.7 375.5h2.1v1.5h-2.1zM65.1 375.5h2.1v1.5h-2.1zM94.5 375.5h2.1v1.5h-2.1zM105 375.5h2.1v1.5h-2.1zM134.4 375.5h2.1v1.5h-2.1zM178.5 375.5h2.1v1.5h-2.1zM191.1 375.5h2.1v1.5h-2.1zM212.1 375.5h2.1v1.5h-2.1zM222.6 375.5h2.1v1.5h-2.1zM233.1 375.5h2.1v1.5h-2.1zM266.7 375.5h2.1v1.5h-2.1zM294 375.5h2.1v1.5h-2.1zM14.7 378.5h2.1v1.5h-2.1zM67.2 378.5h2.1v1.5h-2.1zM75.6 378.5h2.1v1.5h-2.1zM84 378.5h2.1v1.5h-2.1zM144.9 378.5h2.1v1.5h-2.1zM153.3 378.5h2.1v1.5h-2.1zM161.7 378.5h2.1v1.5h-2.1zM201.6 378.5h2.1v1.5h-2.1zM203.7 378.5h2.1v1.5h-2.1zM247.8 378.5h2.1v1.5h-2.1zM262.5 378.5h2.1v1.5h-2.1zM270.9 378.5h2.1v1.5h-2.1zM306.6 378.5h2.1v1.5h-2.1zM31.5 381.4h2.1v1.5h-2.1zM207.9 381.4h2.1v1.5h-2.1zM306.6 381.4h2.1v1.5h-2.1zM2.1 384.4h2.1v1.5h-2.1zM4.2 384.4h2.1v1.5h-2.1zM98.7 384.4h2.1v1.5h-2.1zM140.7 384.4h2.1v1.5h-2.1zM304.5 384.4h2.1v1.5h-2.1zM10.5 387.4h2.1v1.5h-2.1zM73.5 387.4h2.1v1.5h-2.1zM90.3 387.4h2.1v1.5h-2.1zM92.4 387.4h2.1v1.5h-2.1zM117.6 387.4h2.1v1.5h-2.1zM132.3 387.4h2.1v1.5h-2.1zM163.8 387.4h2.1v1.5h-2.1zM176.4 387.4h2.1v1.5h-2.1zM178.5 387.4h2.1v1.5h-2.1zM270.9 387.4h2.1v1.5h-2.1zM312.9 387.4h1.1v1.5h-1.1zM75.6 390.4h2.1v1.5h-2.1zM81.9 390.4h2.1v1.5h-2.1zM107.1 390.4h2.1v1.5h-2.1zM176.4 390.4h2.1v1.5h-2.1zM29.4 393.4h2.1v1.5h-2.1zM31.5 393.4h2.1v1.5h-2.1zM50.4 393.4h2.1v1.5h-2.1zM77.7 393.4h2.1v1.5h-2.1zM100.8 393.4h2.1v1.5h-2.1zM205.8 393.4h2.1v1.5h-2.1zM222.6 393.4h2.1v1.5h-2.1zM18.9 396.3h2.1v1.5h-2.1zM63 396.3h2.1v1.5h-2.1zM65.1 396.3h2.1v1.5h-2.1zM123.9 396.3h2.1v1.5h-2.1zM142.8 396.3h2.1v1.5h-2.1zM199.5 396.3h2.1v1.5h-2.1zM279.3 396.3h2.1v1.5h-2.1zM287.7 396.3h2.1v1.5h-2.1zM289.8 396.3h2.1v1.5h-2.1zM298.2 396.3h2.1v1.5h-2.1zM304.5 396.3h2.1v1.5h-2.1zM10.5 399.3h2.1v1.5h-2.1zM67.2 399.3h2.1v1.5h-2.1zM138.6 399.3h2.1v1.5h-2.1zM140.7 399.3h2.1v1.5h-2.1zM235.2 399.3h2.1v1.5h-2.1zM128.1 402.3h2.1v1.5h-2.1zM161.7 402.3h2.1v1.5h-2.1zM174.3 402.3h2.1v1.5h-2.1zM218.4 402.3h2.1v1.5h-2.1zM294 402.3h2.1v1.5h-2.1zM8.4 405.3h2.1v1.5h-2.1zM18.9 405.3h2.1v1.5h-2.1zM44.1 405.3h2.1v1.5h-2.1zM69.3 405.3h2.1v1.5h-2.1zM98.7 405.3h2.1v1.5h-2.1zM123.9 405.3h2.1v1.5h-2.1zM161.7 405.3h2.1v1.5h-2.1zM197.4 405.3h2.1v1.5h-2.1zM279.3 405.3h2.1v1.5h-2.1zM283.5 405.3h2.1v1.5h-2.1zM287.7 405.3h2.1v1.5h-2.1zM10.5 408.3h2.1v1.5h-2.1zM63 408.3h2.1v1.5h-2.1zM69.3 408.3h2.1v1.5h-2.1zM134.4 408.3h2.1v1.5h-2.1zM199.5 408.3h2.1v1.5h-2.1zM205.8 408.3h2.1v1.5h-2.1zM235.2 408.3h2.1v1.5h-2.1zM266.7 408.3h2.1v1.5h-2.1zM279.3 408.3h2.1v1.5h-2.1zM285.6 408.3h2.1v1.5h-2.1zM298.2 408.3h2.1v1.5h-2.1zM46.2 411.2h2.1v1.5h-2.1zM212.1 411.2h2.1v1.5h-2.1zM218.4 411.2h2.1v1.5h-2.1zM2.1 414.2h2.1v1.5h-2.1zM23.1 414.2h2.1v1.5h-2.1zM29.4 414.2h2.1v1.5h-2.1zM44.1 414.2h2.1v1.5h-2.1zM69.3 414.2h2.1v1.5h-2.1zM98.7 414.2h2.1v1.5h-2.1zM102.9 414.2h2.1v1.5h-2.1zM113.4 414.2h2.1v1.5h-2.1zM168 414.2h2.1v1.5h-2.1zM182.7 414.2h2.1v1.5h-2.1zM224.7 414.2h2.1v1.5h-2.1zM239.4 414.2h2.1v1.5h-2.1zM241.5 414.2h2.1v1.5h-2.1zM254.1 414.2h2.1v1.5h-2.1zM256.2 414.2h2.1v1.5h-2.1zM268.8 414.2h2.1v1.5h-2.1zM283.5 414.2h2.1v1.5h-2.1zM310.8 414.2h2.1v1.5h-2.1zM48.3 417.2h2.1v1.5h-2.1zM65.1 417.2h2.1v1.5h-2.1zM73.5 417.2h2.1v1.5h-2.1zM105 417.2h2.1v1.5h-2.1zM107.1 417.2h2.1v1.5h-2.1zM268.8 417.2h2.1v1.5h-2.1zM67.2 420.2h2.1v1.5h-2.1zM8.4 423.2h2.1v1.5h-2.1zM25.2 423.2h2.1v1.5h-2.1zM37.8 423.2h2.1v1.5h-2.1zM50.4 423.2h2.1v1.5h-2.1zM65.1 423.2h2.1v1.5h-2.1zM132.3 423.2h2.1v1.5h-2.1zM136.5 423.2h2.1v1.5h-2.1zM155.4 423.2h2.1v1.5h-2.1zM182.7 423.2h2.1v1.5h-2.1zM279.3 423.2h2.1v1.5h-2.1zM10.5 426.1h2.1v1.5h-2.1zM37.8 426.1h2.1v1.5h-2.1zM46.2 426.1h2.1v1.5h-2.1zM264.6 426.1h2.1v1.5h-2.1zM88.2 429.1h2.1v1.5h-2.1zM98.7 429.1h2.1v1.5h-2.1zM155.4 429.1h2.1v1.5h-2.1zM197.4 429.1h2.1v1.5h-2.1zM224.7 429.1h2.1v1.5h-2.1zM275.1 429.1h2.1v1.5h-2.1zM279.3 429.1h2.1v1.5h-2.1zM283.5 429.1h2.1v1.5h-2.1zM2.1 432.1h2.1v1.5h-2.1zM8.4 432.1h2.1v1.5h-2.1zM84 432.1h2.1v1.5h-2.1zM128.1 432.1h2.1v1.5h-2.1zM153.3 432.1h2.1v1.5h-2.1zM176.4 432.1h2.1v1.5h-2.1zM212.1 432.1h2.1v1.5h-2.1zM281.4 432.1h2.1v1.5h-2.1zM287.7 432.1h2.1v1.5h-2.1zM304.5 432.1h2.1v1.5h-2.1zM10.5 435.1h2.1v1.5h-2.1zM119.7 435.1h2.1v1.5h-2.1zM153.3 435.1h2.1v1.5h-2.1zM178.5 435.1h2.1v1.5h-2.1zM189 435.1h2.1v1.5h-2.1zM0 438.1h2.1v1.5h-2.1zM4.2 438.1h2.1v1.5h-2.1zM81.9 438.1h2.1v1.5h-2.1zM123.9 438.1h2.1v1.5h-2.1zM176.4 438.1h2.1v1.5h-2.1zM191.1 438.1h2.1v1.5h-2.1zM239.4 438.1h2.1v1.5h-2.1zM260.4 438.1h2.1v1.5h-2.1zM275.1 438.1h2.1v1.5h-2.1zM308.7 438.1h2.1v1.5h-2.1zM186.9 441h2.1v1.5h-2.1zM312.9 441h1.1v1.5h-1.1zM21 444h2.1v1.5h-2.1zM23.1 444h2.1v1.5h-2.1zM44.1 444h2.1v1.5h-2.1zM69.3 444h2.1v1.5h-2.1zM84 444h2.1v1.5h-2.1zM88.2 444h2.1v1.5h-2.1zM98.7 444h2.1v1.5h-2.1zM304.5 444h2.1v1.5h-2.1zM33.6 447h2.1v1.5h-2.1zM81.9 447h2.1v1.5h-2.1zM105 447h2.1v1.5h-2.1zM140.7 447h2.1v1.5h-2.1zM155.4 447h2.1v1.5h-2.1zM199.5 447h2.1v1.5h-2.1zM201.6 447h2.1v1.5h-2.1zM203.7 447h2.1v1.5h-2.1zM29.4 450h2.1v1.5h-2.1zM67.2 450h2.1v1.5h-2.1zM79.8 450h2.1v1.5h-2.1zM102.9 450h2.1v1.5h-2.1zM161.7 450h2.1v1.5h-2.1zM163.8 450h2.1v1.5h-2.1zM197.4 450h2.1v1.5h-2.1zM235.2 450h2.1v1.5h-2.1zM23.1 453h2.1v1.5h-2.1zM29.4 453h2.1v1.5h-2.1zM81.9 453h2.1v1.5h-2.1zM134.4 453h2.1v1.5h-2.1zM142.8 453h2.1v1.5h-2.1zM163.8 453h2.1v1.5h-2.1zM260.4 453h2.1v1.5h-2.1zM8.4 455.9h2.1v1.5h-2.1zM18.9 455.9h2.1v1.5h-2.1zM25.2 455.9h2.1v1.5h-2.1zM31.5 455.9h2.1v1.5h-2.1zM39.9 455.9h2.1v1.5h-2.1zM44.1 455.9h2.1v1.5h-2.1zM48.3 455.9h2.1v1.5h-2.1zM56.7 455.9h2.1v1.5h-2.1zM79.8 455.9h2.1v1.5h-2.1zM88.2 455.9h2.1v1.5h-2.1zM136.5 455.9h2.1v1.5h-2.1zM155.4 455.9h2.1v1.5h-2.1zM176.4 455.9h2.1v1.5h-2.1zM195.3 455.9h2.1v1.5h-2.1zM205.8 455.9h2.1v1.5h-2.1zM243.6 455.9h2.1v1.5h-2.1zM252 455.9h2.1v1.5h-2.1zM283.5 455.9h2.1v1.5h-2.1zM8.4 458.9h2.1v1.5h-2.1zM75.6 458.9h2.1v1.5h-2.1zM140.7 458.9h2.1v1.5h-2.1zM144.9 458.9h2.1v1.5h-2.1zM168 458.9h2.1v1.5h-2.1zM256.2 458.9h2.1v1.5h-2.1zM73.5 461.9h2.1v1.5h-2.1zM121.8 461.9h2.1v1.5h-2.1zM176.4 461.9h2.1v1.5h-2.1zM195.3 461.9h2.1v1.5h-2.1zM205.8 461.9h2.1v1.5h-2.1zM306.6 461.9h2.1v1.5h-2.1zM8.4 464.9h2.1v1.5h-2.1zM222.6 464.9h2.1v1.5h-2.1zM264.6 464.9h2.1v1.5h-2.1zM8.4 467.9h2.1v1.5h-2.1zM12.6 467.9h2.1v1.5h-2.1zM46.2 467.9h2.1v1.5h-2.1zM81.9 467.9h2.1v1.5h-2.1zM113.4 467.9h2.1v1.5h-2.1zM123.9 467.9h2.1v1.5h-2.1zM159.6 467.9h2.1v1.5h-2.1zM161.7 467.9h2.1v1.5h-2.1zM203.7 467.9h2.1v1.5h-2.1zM224.7 467.9h2.1v1.5h-2.1zM226.8 467.9h2.1v1.5h-2.1zM241.5 467.9h2.1v1.5h-2.1zM252 467.9h2.1v1.5h-2.1zM256.2 467.9h2.1v1.5h-2.1zM310.8 467.9h2.1v1.5h-2.1zM18.9 470.8h2.1v1.5h-2.1zM241.5 470.8h2.1v1.5h-2.1zM25.2 473.8h2.1v1.5h-2.1zM29.4 473.8h2.1v1.5h-2.1zM33.6 473.8h2.1v1.5h-2.1zM144.9 473.8h2.1v1.5h-2.1zM182.7 473.8h2.1v1.5h-2.1zM281.4 473.8h2.1v1.5h-2.1zM128.1 476.8h2.1v1.5h-2.1zM14.7 479.8h2.1v1.5h-2.1zM10.5 482.8h2.1v1.5h-2.1zM31.5 482.8h2.1v1.5h-2.1zM165.9 482.8h2.1v1.5h-2.1zM186.9 482.8h2.1v1.5h-2.1zM233.1 482.8h2.1v1.5h-2.1zM264.6 482.8h2.1v1.5h-2.1zM306.6 482.8h2.1v1.5h-2.1zM0 485.7h2.1v1.5h-2.1zM33.6 485.7h2.1v1.5h-2.1zM50.4 485.7h2.1v1.5h-2.1zM84 485.7h2.1v1.5h-2.1zM130.2 485.7h2.1v1.5h-2.1zM193.2 485.7h2.1v1.5h-2.1zM29.4 488.7h2.1v1.5h-2.1zM84 488.7h2.1v1.5h-2.1zM147 488.7h2.1v1.5h-2.1zM159.6 488.7h2.1v1.5h-2.1zM94.5 491.7h2.1v1.5h-2.1zM130.2 491.7h2.1v1.5h-2.1zM144.9 491.7h2.1v1.5h-2.1zM220.5 491.7h2.1v1.5h-2.1zM266.7 491.7h2.1v1.5h-2.1zM77.7 494.7h2.1v1.5h-2.1zM144.9 494.7h2.1v1.5h-2.1zM199.5 494.7h2.1v1.5h-2.1zM302.4 494.7h2.1v1.5h-2.1zM304.5 494.7h2.1v1.5h-2.1zM31.5 497.7h2.1v1.5h-2.1zM56.7 497.7h2.1v1.5h-2.1zM176.4 497.7h2.1v1.5h-2.1zM180.6 497.7h2.1v1.5h-2.1zM186.9 497.7h2.1v1.5h-2.1zM273 497.7h2.1v1.5h-2.1zM283.5 497.7h2.1v1.5h-2.1zM33.6 500.6h2.1v1.5h-2.1zM0 503.6h2.1v1.5h-2.1zM44.1 503.6h2.1v1.5h-2.1zM48.3 503.6h2.1v1.5h-2.1zM73.5 503.6h2.1v1.5h-2.1zM90.3 503.6h2.1v1.5h-2.1zM113.4 503.6h2.1v1.5h-2.1zM178.5 503.6h2.1v1.5h-2.1zM210 503.6h2.1v1.5h-2.1zM252 503.6h2.1v1.5h-2.1zM308.7 503.6h2.1v1.5h-2.1zM0 506.6h2.1v1.5h-2.1zM33.6 506.6h2.1v1.5h-2.1zM37.8 506.6h2.1v1.5h-2.1zM54.6 506.6h2.1v1.5h-2.1zM65.1 506.6h2.1v1.5h-2.1zM168 506.6h2.1v1.5h-2.1zM220.5 506.6h2.1v1.5h-2.1zM243.6 506.6h2.1v1.5h-2.1zM245.7 506.6h2.1v1.5h-2.1zM2.1 509.6h2.1v1.5h-2.1zM18.9 512.6h2.1v1.5h-2.1zM25.2 512.6h2.1v1.5h-2.1zM46.2 512.6h2.1v1.5h-2.1zM56.7 512.6h2.1v1.5h-2.1zM121.8 512.6h2.1v1.5h-2.1zM228.9 512.6h2.1v1.5h-2.1zM247.8 512.6h2.1v1.5h-2.1zM294 512.6h2.1v1.5h-2.1zM10.5 515.5h2.1v1.5h-2.1zM14.7 515.5h2.1v1.5h-2.1zM33.6 515.5h2.1v1.5h-2.1zM81.9 515.5h2.1v1.5h-2.1zM2.1 518.5h2.1v1.5h-2.1zM44.1 518.5h2.1v1.5h-2.1zM50.4 518.5h2.1v1.5h-2.1zM176.4 518.5h2.1v1.5h-2.1zM186.9 518.5h2.1v1.5h-2.1zM245.7 518.5h2.1v1.5h-2.1zM264.6 518.5h2.1v1.5h-2.1zM2.1 521.5h2.1v1.5h-2.1zM18.9 521.5h2.1v1.5h-2.1zM44.1 521.5h2.1v1.5h-2.1zM58.8 521.5h2.1v1.5h-2.1zM90.3 521.5h2.1v1.5h-2.1zM113.4 521.5h2.1v1.5h-2.1zM252 521.5h2.1v1.5h-2.1zM294 521.5h2.1v1.5h-2.1zM304.5 521.5h2.1v1.5h-2.1zM8.4 524.5h2.1v1.5h-2.1zM18.9 524.5h2.1v1.5h-2.1zM37.8 524.5h2.1v1.5h-2.1zM46.2 524.5h2.1v1.5h-2.1zM75.6 524.5h2.1v1.5h-2.1zM123.9 524.5h2.1v1.5h-2.1zM130.2 524.5h2.1v1.5h-2.1zM142.8 524.5h2.1v1.5h-2.1zM168 524.5h2.1v1.5h-2.1zM174.3 524.5h2.1v1.5h-2.1zM228.9 524.5h2.1v1.5h-2.1zM239.4 524.5h2.1v1.5h-2.1zM18.9 527.5h2.1v1.5h-2.1zM25.2 527.5h2.1v1.5h-2.1zM81.9 527.5h2.1v1.5h-2.1zM130.2 527.5h2.1v1.5h-2.1zM10.5 530.4h2.1v1.5h-2.1zM54.6 530.4h2.1v1.5h-2.1zM266.7 530.4h2.1v1.5h-2.1zM8.4 533.4h2.1v1.5h-2.1zM73.5 533.4h2.1v1.5h-2.1zM100.8 533.4h2.1v1.5h-2.1zM105 533.4h2.1v1.5h-2.1zM174.3 533.4h2.1v1.5h-2.1zM228.9 533.4h2.1v1.5h-2.1zM117.6 536.4h2.1v1.5h-2.1zM128.1 536.4h2.1v1.5h-2.1zM130.2 536.4h2.1v1.5h-2.1zM199.5 536.4h2.1v1.5h-2.1zM14.7 539.4h2.1v1.5h-2.1zM37.8 539.4h2.1v1.5h-2.1zM39.9 539.4h2.1v1.5h-2.1zM98.7 539.4h2.1v1.5h-2.1zM151.2 539.4h2.1v1.5h-2.1zM159.6 539.4h2.1v1.5h-2.1zM170.1 539.4h2.1v1.5h-2.1zM180.6 539.4h2.1v1.5h-2.1zM197.4 539.4h2.1v1.5h-2.1zM205.8 539.4h2.1v1.5h-2.1zM237.3 539.4h2.1v1.5h-2.1zM306.6 539.4h2.1v1.5h-2.1zM2.1 542.4h2.1v1.5h-2.1zM37.8 542.4h2.1v1.5h-2.1zM48.3 542.4h2.1v1.5h-2.1zM84 542.4h2.1v1.5h-2.1zM121.8 542.4h2.1v1.5h-2.1zM170.1 542.4h2.1v1.5h-2.1zM29.4 545.3h2.1v1.5h-2.1zM117.6 545.3h2.1v1.5h-2.1zM140.7 545.3h2.1v1.5h-2.1zM222.6 545.3h2.1v1.5h-2.1zM298.2 545.3h2.1v1.5h-2.1zM69.3 548.3h2.1v1.5h-2.1zM90.3 548.3h2.1v1.5h-2.1zM138.6 548.3h2.1v1.5h-2.1zM144.9 548.3h2.1v1.5h-2.1zM222.6 548.3h2.1v1.5h-2.1zM4.2 551.3h2.1v1.5h-2.1zM306.6 551.3h2.1v1.5h-2.1zM39.9 554.3h2.1v1.5h-2.1zM46.2 554.3h2.1v1.5h-2.1zM48.3 554.3h2.1v1.5h-2.1zM84 554.3h2.1v1.5h-2.1zM100.8 554.3h2.1v1.5h-2.1zM128.1 554.3h2.1v1.5h-2.1zM144.9 554.3h2.1v1.5h-2.1zM161.7 554.3h2.1v1.5h-2.1zM176.4 554.3h2.1v1.5h-2.1zM233.1 554.3h2.1v1.5h-2.1zM243.6 554.3h2.1v1.5h-2.1zM270.9 554.3h2.1v1.5h-2.1zM289.8 554.3h2.1v1.5h-2.1zM298.2 554.3h2.1v1.5h-2.1zM310.8 554.3h2.1v1.5h-2.1zM14.7 557.3h2.1v1.5h-2.1zM18.9 557.3h2.1v1.5h-2.1zM21 557.3h2.1v1.5h-2.1zM33.6 557.3h2.1v1.5h-2.1zM69.3 557.3h2.1v1.5h-2.1zM84 557.3h2.1v1.5h-2.1zM92.4 557.3h2.1v1.5h-2.1zM111.3 557.3h2.1v1.5h-2.1zM117.6 557.3h2.1v1.5h-2.1zM132.3 557.3h2.1v1.5h-2.1zM140.7 557.3h2.1v1.5h-2.1zM161.7 557.3h2.1v1.5h-2.1zM189 557.3h2.1v1.5h-2.1zM191.1 557.3h2.1v1.5h-2.1zM233.1 557.3h2.1v1.5h-2.1zM237.3 557.3h2.1v1.5h-2.1zM239.4 557.3h2.1v1.5h-2.1zM245.7 557.3h2.1v1.5h-2.1zM262.5 557.3h2.1v1.5h-2.1zM294 557.3h2.1v1.5h-2.1zM31.5 560.2h2.1v1.5h-2.1zM140.7 560.2h2.1v1.5h-2.1zM222.6 560.2h2.1v1.5h-2.1zM266.7 560.2h2.1v1.5h-2.1zM285.6 560.2h2.1v1.5h-2.1zM25.2 563.2h2.1v1.5h-2.1zM90.3 563.2h2.1v1.5h-2.1zM140.7 563.2h2.1v1.5h-2.1zM142.8 563.2h2.1v1.5h-2.1zM243.6 563.2h2.1v1.5h-2.1zM33.6 566.2h2.1v1.5h-2.1zM92.4 566.2h2.1v1.5h-2.1zM235.2 566.2h2.1v1.5h-2.1zM2.1 569.2h2.1v1.5h-2.1zM10.5 569.2h2.1v1.5h-2.1zM75.6 569.2h2.1v1.5h-2.1zM100.8 569.2h2.1v1.5h-2.1zM107.1 569.2h2.1v1.5h-2.1zM168 569.2h2.1v1.5h-2.1zM304.5 569.2h2.1v1.5h-2.1zM310.8 569.2h2.1v1.5h-2.1zM25.2 572.2h2.1v1.5h-2.1zM67.2 572.2h2.1v1.5h-2.1zM155.4 572.2h2.1v1.5h-2.1zM178.5 572.2h2.1v1.5h-2.1zM285.6 572.2h2.1v1.5h-2.1zM312.9 572.2h1.1v1.5h-1.1zM174.3 575.1h2.1v1.5h-2.1zM178.5 575.1h2.1v1.5h-2.1zM310.8 575.1h2.1v1.5h-2.1zM312.9 575.1h1.1v1.5h-1.1zM31.5 578.1h2.1v1.5h-2.1zM39.9 578.1h2.1v1.5h-2.1zM197.4 578.1h2.1v1.5h-2.1zM212.1 578.1h2.1v1.5h-2.1zM235.2 578.1h2.1v1.5h-2.1zM2.1 581.1h2.1v1.5h-2.1zM29.4 581.1h2.1v1.5h-2.1zM50.4 581.1h2.1v1.5h-2.1zM56.7 581.1h2.1v1.5h-2.1zM119.7 581.1h2.1v1.5h-2.1zM147 581.1h2.1v1.5h-2.1zM165.9 581.1h2.1v1.5h-2.1zM176.4 581.1h2.1v1.5h-2.1zM178.5 581.1h2.1v1.5h-2.1zM285.6 581.1h2.1v1.5h-2.1zM25.2 584.1h2.1v1.5h-2.1zM48.3 584.1h2.1v1.5h-2.1zM63 584.1h2.1v1.5h-2.1zM75.6 584.1h2.1v1.5h-2.1zM105 584.1h2.1v1.5h-2.1zM136.5 584.1h2.1v1.5h-2.1zM159.6 584.1h2.1v1.5h-2.1zM186.9 584.1h2.1v1.5h-2.1zM193.2 584.1h2.1v1.5h-2.1zM310.8 584.1h2.1v1.5h-2.1zM0 587.1h2.1v1.5h-2.1zM2.1 587.1h2.1v1.5h-2.1zM14.7 587.1h2.1v1.5h-2.1zM25.2 587.1h2.1v1.5h-2.1zM48.3 587.1h2.1v1.5h-2.1zM90.3 587.1h2.1v1.5h-2.1zM98.7 587.1h2.1v1.5h-2.1zM140.7 587.1h2.1v1.5h-2.1zM161.7 587.1h2.1v1.5h-2.1zM203.7 587.1h2.1v1.5h-2.1zM228.9 587.1h2.1v1.5h-2.1zM8.4 590h2.1v1.5h-2.1zM14.7 590h2.1v1.5h-2.1zM29.4 590h2.1v1.5h-2.1zM39.9 590h2.1v1.5h-2.1zM50.4 590h2.1v1.5h-2.1zM69.3 590h2.1v1.5h-2.1zM84 590h2.1v1.5h-2.1zM94.5 590h2.1v1.5h-2.1zM121.8 590h2.1v1.5h-2.1zM132.3 590h2.1v1.5h-2.1zM142.8 590h2.1v1.5h-2.1zM174.3 590h2.1v1.5h-2.1zM182.7 590h2.1v1.5h-2.1zM222.6 590h2.1v1.5h-2.1zM239.4 590h2.1v1.5h-2.1zM256.2 590h2.1v1.5h-2.1zM281.4 590h2.1v1.5h-2.1zM296.1 590h2.1v1.5h-2.1zM304.5 590h2.1v1.5h-2.1zM12.6 593h2.1v1.5h-2.1zM69.3 593h2.1v1.5h-2.1zM81.9 593h2.1v1.5h-2.1zM92.4 593h2.1v1.5h-2.1zM138.6 593h2.1v1.5h-2.1zM207.9 593h2.1v1.5h-2.1zM218.4 593h2.1v1.5h-2.1zM222.6 593h2.1v1.5h-2.1zM224.7 593h2.1v1.5h-2.1zM254.1 593h2.1v1.5h-2.1zM4.2 596h2.1v1.5h-2.1zM21 596h2.1v1.5h-2.1zM37.8 596h2.1v1.5h-2.1zM65.1 596h2.1v1.5h-2.1zM88.2 596h2.1v1.5h-2.1zM308.7 596h2.1v1.5h-2.1zM10.5 599h2.1v1.5h-2.1zM33.6 599h2.1v1.5h-2.1zM105 599h2.1v1.5h-2.1zM117.6 599h2.1v1.5h-2.1zM285.6 599h2.1v1.5h-2.1zM163.8 602h2.1v1.5h-2.1zM195.3 602h2.1v1.5h-2.1zM203.7 602h2.1v1.5h-2.1zM235.2 602h2.1v1.5h-2.1zM287.7 602h2.1v1.5h-2.1zM304.5 602h2.1v1.5h-2.1zM31.5 604.9h2.1v1.5h-2.1zM37.8 604.9h2.1v1.5h-2.1zM39.9 604.9h2.1v1.5h-2.1zM44.1 604.9h2.1v1.5h-2.1zM111.3 604.9h2.1v1.5h-2.1zM138.6 604.9h2.1v1.5h-2.1zM182.7 604.9h2.1v1.5h-2.1zM235.2 604.9h2.1v1.5h-2.1zM247.8 604.9h2.1v1.5h-2.1zM289.8 604.9h2.1v1.5h-2.1zM8.4 607.9h2.1v1.5h-2.1zM90.3 607.9h2.1v1.5h-2.1zM243.6 607.9h2.1v1.5h-2.1zM285.6 607.9h2.1v1.5h-2.1zM298.2 607.9h2.1v1.5h-2.1zM113.4 610.9h2.1v1.5h-2.1zM140.7 610.9h2.1v1.5h-2.1zM174.3 610.9h2.1v1.5h-2.1zM178.5 610.9h2.1v1.5h-2.1zM182.7 610.9h2.1v1.5h-2.1zM294 610.9h2.1v1.5h-2.1zM306.6 610.9h2.1v1.5h-2.1zM12.6 613.9h2.1v1.5h-2.1zM31.5 613.9h2.1v1.5h-2.1zM63 613.9h2.1v1.5h-2.1zM67.2 613.9h2.1v1.5h-2.1zM81.9 613.9h2.1v1.5h-2.1zM92.4 613.9h2.1v1.5h-2.1zM121.8 613.9h2.1v1.5h-2.1zM134.4 613.9h2.1v1.5h-2.1zM136.5 613.9h2.1v1.5h-2.1zM178.5 613.9h2.1v1.5h-2.1zM193.2 613.9h2.1v1.5h-2.1zM228.9 613.9h2.1v1.5h-2.1zM237.3 613.9h2.1v1.5h-2.1zM239.4 613.9h2.1v1.5h-2.1zM281.4 613.9h2.1v1.5h-2.1zM287.7 613.9h2.1v1.5h-2.1zM294 613.9h2.1v1.5h-2.1zM298.2 613.9h2.1v1.5h-2.1zM304.5 613.9h2.1v1.5h-2.1zM306.6 613.9h2.1v1.5h-2.1zM308.7 613.9h2.1v1.5h-2.1zM18.9 616.9h2.1v1.5h-2.1zM44.1 616.9h2.1v1.5h-2.1zM262.5 616.9h2.1v1.5h-2.1zM128.1 619.8h2.1v1.5h-2.1zM203.7 619.8h2.1v1.5h-2.1zM266.7 619.8h2.1v1.5h-2.1zM275.1 619.8h2.1v1.5h-2.1zM308.7 619.8h2.1v1.5h-2.1zM4.2 622.8h2.1v1.5h-2.1zM56.7 622.8h2.1v1.5h-2.1zM79.8 622.8h2.1v1.5h-2.1zM151.2 622.8h2.1v1.5h-2.1zM176.4 622.8h2.1v1.5h-2.1zM210 622.8h2.1v1.5h-2.1zM233.1 622.8h2.1v1.5h-2.1z"/><path fill="#ffffff" fill-opacity="0.2" d="M0 14h314v0.9h-314zM0 23h314v0.9h-314zM0 25.9h314v0.9h-314zM0 31.9h314v0.9h-314zM0 46.8h314v0.9h-314zM0 49.8h314v0.9h-314zM0 52.8h314v0.9h-314zM0 64.7h314v0.9h-314zM0 85.5h314v0.9h-314zM0 88.5h314v0.9h-314zM0 94.5h314v0.9h-314zM0 100.4h314v0.9h-314zM0 109.4h314v0.9h-314zM0 127.3h314v0.9h-314zM0 139.2h314v0.9h-314zM0 142.2h314v0.9h-314zM0 172h314v0.9h-314zM0 177.9h314v0.9h-314zM0 183.9h314v0.9h-314zM0 198.8h314v0.9h-314zM0 201.8h314v0.9h-314zM0 207.7h314v0.9h-314zM0 213.7h314v0.9h-314zM0 243.5h314v0.9h-314zM0 255.4h314v0.9h-314zM0 258.4h314v0.9h-314zM0 261.4h314v0.9h-314zM0 264.3h314v0.9h-314zM0 270.3h314v0.9h-314zM0 273.3h314v0.9h-314zM0 276.3h314v0.9h-314zM0 279.2h314v0.9h-314zM0 288.2h314v0.9h-314zM0 291.2h314v0.9h-314zM0 300.1h314v0.9h-314zM0 303.1h314v0.9h-314zM0 306.1h314v0.9h-314zM0 321h314v0.9h-314zM0 332.9h314v0.9h-314zM0 347.8h314v0.9h-314zM0 353.7h314v0.9h-314zM0 365.7h314v0.9h-314zM0 368.6h314v0.9h-314zM0 386.5h314v0.9h-314zM0 395.5h314v0.9h-314zM0 398.4h314v0.9h-314zM0 410.4h314v0.9h-314zM0 416.3h314v0.9h-314zM0 419.3h314v0.9h-314zM0 422.3h314v0.9h-314zM0 446.1h314v0.9h-314zM0 449.1h314v0.9h-314zM0 455.1h314v0.9h-314zM0 461h314v0.9h-314zM0 470h314v0.9h-314zM0 475.9h314v0.9h-314zM0 478.9h314v0.9h-314zM0 481.9h314v0.9h-314zM0 496.8h314v0.9h-314zM0 499.8h314v0.9h-314zM0 508.7h314v0.9h-314zM0 520.6h314v0.9h-314zM0 526.6h314v0.9h-314zM0 529.6h314v0.9h-314zM0 535.5h314v0.9h-314zM0 544.5h314v0.9h-314zM0 547.4h314v0.9h-314zM0 553.4h314v0.9h-314zM0 559.4h314v0.9h-314zM0 574.3h314v0.9h-314zM0 583.2h314v0.9h-314zM0 589.2h314v0.9h-314zM0 601.1h314v0.9h-314zM0 607h314v0.9h-314zM0 613h314v0.9h-314zM0 619h314v0.9h-314zM18.9 0h2.1v1.5h-2.1zM23.1 0h2.1v1.5h-2.1zM37.8 0h2.1v1.5h-2.1zM84 0h2.1v1.5h-2.1zM105 0h2.1v1.5h-2.1zM113.4 0h2.1v1.5h-2.1zM153.3 0h2.1v1.5h-2.1zM161.7 0h2.1v1.5h-2.1zM163.8 0h2.1v1.5h-2.1zM165.9 0h2.1v1.5h-2.1zM203.7 0h2.1v1.5h-2.1zM205.8 0h2.1v1.5h-2.1zM210 0h2.1v1.5h-2.1zM224.7 0h2.1v1.5h-2.1zM241.5 0h2.1v1.5h-2.1zM310.8 0h2.1v1.5h-2.1zM12.6 3h2.1v1.5h-2.1zM44.1 3h2.1v1.5h-2.1zM50.4 3h2.1v1.5h-2.1zM69.3 3h2.1v1.5h-2.1zM73.5 3h2.1v1.5h-2.1zM102.9 3h2.1v1.5h-2.1zM119.7 3h2.1v1.5h-2.1zM159.6 3h2.1v1.5h-2.1zM163.8 3h2.1v1.5h-2.1zM170.1 3h2.1v1.5h-2.1zM195.3 3h2.1v1.5h-2.1zM197.4 3h2.1v1.5h-2.1zM207.9 3h2.1v1.5h-2.1zM256.2 3h2.1v1.5h-2.1zM260.4 3h2.1v1.5h-2.1zM273 3h2.1v1.5h-2.1zM275.1 3h2.1v1.5h-2.1zM283.5 3h2.1v1.5h-2.1zM308.7 3h2.1v1.5h-2.1zM48.3 6h2.1v1.5h-2.1zM54.6 6h2.1v1.5h-2.1zM56.7 6h2.1v1.5h-2.1zM98.7 6h2.1v1.5h-2.1zM117.6 6h2.1v1.5h-2.1zM123.9 6h2.1v1.5h-2.1zM174.3 6h2.1v1.5h-2.1zM176.4 6h2.1v1.5h-2.1zM193.2 6h2.1v1.5h-2.1zM203.7 6h2.1v1.5h-2.1zM241.5 6h2.1v1.5h-2.1zM270.9 6h2.1v1.5h-2.1zM289.8 6h2.1v1.5h-2.1zM294 6h2.1v1.5h-2.1zM2.1 8.9h2.1v1.5h-2.1zM12.6 8.9h2.1v1.5h-2.1zM23.1 8.9h2.1v1.5h-2.1zM25.2 8.9h2.1v1.5h-2.1zM29.4 8.9h2.1v1.5h-2.1zM33.6 8.9h2.1v1.5h-2.1zM39.9 8.9h2.1v1.5h-2.1zM46.2 8.9h2.1v1.5h-2.1zM48.3 8.9h2.1v1.5h-2.1zM63 8.9h2.1v1.5h-2.1zM65.1 8.9h2.1v1.5h-2.1zM69.3 8.9h2.1v1.5h-2.1zM73.5 8.9h2.1v1.5h-2.1zM77.7 8.9h2.1v1.5h-2.1zM79.8 8.9h2.1v1.5h-2.1zM81.9 8.9h2.1v1.5h-2.1zM84 8.9h2.1v1.5h-2.1zM90.3 8.9h2.1v1.5h-2.1zM92.4 8.9h2.1v1.5h-2.1zM102.9 8.9h2.1v1.5h-2.1zM111.3 8.9h2.1v1.5h-2.1zM121.8 8.9h2.1v1.5h-2.1zM153.3 8.9h2.1v1.5h-2.1zM163.8 8.9h2.1v1.5h-2.1zM170.1 8.9h2.1v1.5h-2.1zM178.5 8.9h2.1v1.5h-2.1zM182.7 8.9h2.1v1.5h-2.1zM191.1 8.9h2.1v1.5h-2.1zM193.2 8.9h2.1v1.5h-2.1zM197.4 8.9h2.1v1.5h-2.1zM199.5 8.9h2.1v1.5h-2.1zM205.8 8.9h2.1v1.5h-2.1zM222.6 8.9h2.1v1.5h-2.1zM226.8 8.9h2.1v1.5h-2.1zM256.2 8.9h2.1v1.5h-2.1zM268.8 8.9h2.1v1.5h-2.1zM275.1 8.9h2.1v1.5h-2.1zM279.3 8.9h2.1v1.5h-2.1zM287.7 8.9h2.1v1.5h-2.1zM10.5 11.9h2.1v1.5h-2.1zM50.4 11.9h2.1v1.5h-2.1zM58.8 11.9h2.1v1.5h-2.1zM88.2 11.9h2.1v1.5h-2.1zM90.3 11.9h2.1v1.5h-2.1zM94.5 11.9h2.1v1.5h-2.1zM159.6 11.9h2.1v1.5h-2.1zM161.7 11.9h2.1v1.5h-2.1zM163.8 11.9h2.1v1.5h-2.1zM199.5 11.9h2.1v1.5h-2.1zM266.7 11.9h2.1v1.5h-2.1zM308.7 11.9h2.1v1.5h-2.1zM0 14.9h2.1v1.5h-2.1zM14.7 14.9h2.1v1.5h-2.1zM21 14.9h2.1v1.5h-2.1zM25.2 14.9h2.1v1.5h-2.1zM44.1 14.9h2.1v1.5h-2.1zM46.2 14.9h2.1v1.5h-2.1zM48.3 14.9h2.1v1.5h-2.1zM50.4 14.9h2.1v1.5h-2.1zM63 14.9h2.1v1.5h-2.1zM67.2 14.9h2.1v1.5h-2.1zM69.3 14.9h2.1v1.5h-2.1zM77.7 14.9h2.1v1.5h-2.1zM79.8 14.9h2.1v1.5h-2.1zM84 14.9h2.1v1.5h-2.1zM88.2 14.9h2.1v1.5h-2.1zM98.7 14.9h2.1v1.5h-2.1zM165.9 14.9h2.1v1.5h-2.1zM186.9 14.9h2.1v1.5h-2.1zM216.3 14.9h2.1v1.5h-2.1zM218.4 14.9h2.1v1.5h-2.1zM224.7 14.9h2.1v1.5h-2.1zM247.8 14.9h2.1v1.5h-2.1zM254.1 14.9h2.1v1.5h-2.1zM256.2 14.9h2.1v1.5h-2.1zM262.5 14.9h2.1v1.5h-2.1zM266.7 14.9h2.1v1.5h-2.1zM268.8 14.9h2.1v1.5h-2.1zM273 14.9h2.1v1.5h-2.1zM296.1 14.9h2.1v1.5h-2.1zM298.2 14.9h2.1v1.5h-2.1zM306.6 14.9h2.1v1.5h-2.1zM310.8 14.9h2.1v1.5h-2.1zM8.4 17.9h2.1v1.5h-2.1zM58.8 17.9h2.1v1.5h-2.1zM63 17.9h2.1v1.5h-2.1zM155.4 17.9h2.1v1.5h-2.1zM197.4 17.9h2.1v1.5h-2.1zM216.3 17.9h2.1v1.5h-2.1zM260.4 17.9h2.1v1.5h-2.1zM275.1 17.9h2.1v1.5h-2.1zM283.5 17.9h2.1v1.5h-2.1zM8.4 20.9h2.1v1.5h-2.1zM12.6 20.9h2.1v1.5h-2.1zM33.6 20.9h2.1v1.5h-2.1zM111.3 20.9h2.1v1.5h-2.1zM207.9 20.9h2.1v1.5h-2.1zM241.5 20.9h2.1v1.5h-2.1zM268.8 20.9h2.1v1.5h-2.1zM275.1 20.9h2.1v1.5h-2.1zM304.5 20.9h2.1v1.5h-2.1zM54.6 23.8h2.1v1.5h-2.1zM63 23.8h2.1v1.5h-2.1zM79.8 23.8h2.1v1.5h-2.1zM165.9 23.8h2.1v1.5h-2.1zM193.2 23.8h2.1v1.5h-2.1zM197.4 23.8h2.1v1.5h-2.1zM254.1 23.8h2.1v1.5h-2.1zM310.8 23.8h2.1v1.5h-2.1zM18.9 26.8h2.1v1.5h-2.1zM203.7 26.8h2.1v1.5h-2.1zM220.5 26.8h2.1v1.5h-2.1zM4.2 29.8h2.1v1.5h-2.1zM18.9 29.8h2.1v1.5h-2.1zM105 29.8h2.1v1.5h-2.1zM121.8 29.8h2.1v1.5h-2.1zM134.4 29.8h2.1v1.5h-2.1zM142.8 29.8h2.1v1.5h-2.1zM296.1 29.8h2.1v1.5h-2.1zM302.4 29.8h2.1v1.5h-2.1zM14.7 32.8h2.1v1.5h-2.1zM18.9 32.8h2.1v1.5h-2.1zM33.6 32.8h2.1v1.5h-2.1zM46.2 32.8h2.1v1.5h-2.1zM128.1 32.8h2.1v1.5h-2.1zM203.7 32.8h2.1v1.5h-2.1zM304.5 32.8h2.1v1.5h-2.1zM10.5 35.8h2.1v1.5h-2.1zM123.9 35.8h2.1v1.5h-2.1zM163.8 35.8h2.1v1.5h-2.1zM224.7 35.8h2.1v1.5h-2.1zM304.5 35.8h2.1v1.5h-2.1zM8.4 38.7h2.1v1.5h-2.1zM14.7 38.7h2.1v1.5h-2.1zM63 38.7h2.1v1.5h-2.1zM130.2 38.7h2.1v1.5h-2.1zM155.4 38.7h2.1v1.5h-2.1zM205.8 38.7h2.1v1.5h-2.1zM237.3 38.7h2.1v1.5h-2.1zM241.5 38.7h2.1v1.5h-2.1zM308.7 38.7h2.1v1.5h-2.1zM88.2 41.7h2.1v1.5h-2.1zM100.8 41.7h2.1v1.5h-2.1zM151.2 41.7h2.1v1.5h-2.1zM193.2 41.7h2.1v1.5h-2.1zM224.7 41.7h2.1v1.5h-2.1zM264.6 41.7h2.1v1.5h-2.1zM310.8 41.7h2.1v1.5h-2.1zM8.4 44.7h2.1v1.5h-2.1zM50.4 44.7h2.1v1.5h-2.1zM63 44.7h2.1v1.5h-2.1zM73.5 44.7h2.1v1.5h-2.1zM81.9 44.7h2.1v1.5h-2.1zM138.6 44.7h2.1v1.5h-2.1zM144.9 44.7h2.1v1.5h-2.1zM151.2 44.7h2.1v1.5h-2.1zM161.7 44.7h2.1v1.5h-2.1zM220.5 44.7h2.1v1.5h-2.1zM273 44.7h2.1v1.5h-2.1zM285.6 44.7h2.1v1.5h-2.1zM0 47.7h2.1v1.5h-2.1zM18.9 47.7h2.1v1.5h-2.1zM58.8 47.7h2.1v1.5h-2.1zM113.4 47.7h2.1v1.5h-2.1zM138.6 47.7h2.1v1.5h-2.1zM193.2 47.7h2.1v1.5h-2.1zM268.8 47.7h2.1v1.5h-2.1zM23.1 50.7h2.1v1.5h-2.1zM25.2 50.7h2.1v1.5h-2.1zM102.9 50.7h2.1v1.5h-2.1zM191.1 50.7h2.1v1.5h-2.1zM203.7 50.7h2.1v1.5h-2.1zM2.1 53.6h2.1v1.5h-2.1zM44.1 53.6h2.1v1.5h-2.1zM67.2 53.6h2.1v1.5h-2.1zM77.7 53.6h2.1v1.5h-2.1zM102.9 53.6h2.1v1.5h-2.1zM142.8 53.6h2.1v1.5h-2.1zM165.9 53.6h2.1v1.5h-2.1zM170.1 53.6h2.1v1.5h-2.1zM260.4 53.6h2.1v1.5h-2.1zM310.8 53.6h2.1v1.5h-2.1zM50.4 56.6h2.1v1.5h-2.1zM25.2 59.6h2.1v1.5h-2.1zM117.6 59.6h2.1v1.5h-2.1zM178.5 59.6h2.1v1.5h-2.1zM241.5 59.6h2.1v1.5h-2.1zM287.7 59.6h2.1v1.5h-2.1zM37.8 62.6h2.1v1.5h-2.1zM105 62.6h2.1v1.5h-2.1zM189 62.6h2.1v1.5h-2.1zM191.1 62.6h2.1v1.5h-2.1zM195.3 62.6h2.1v1.5h-2.1zM212.1 62.6h2.1v1.5h-2.1zM264.6 62.6h2.1v1.5h-2.1zM8.4 65.6h2.1v1.5h-2.1zM117.6 65.6h2.1v1.5h-2.1zM163.8 65.6h2.1v1.5h-2.1zM182.7 65.6h2.1v1.5h-2.1zM203.7 65.6h2.1v1.5h-2.1zM235.2 65.6h2.1v1.5h-2.1zM48.3 68.5h2.1v1.5h-2.1zM63 68.5h2.1v1.5h-2.1zM195.3 68.5h2.1v1.5h-2.1zM218.4 68.5h2.1v1.5h-2.1zM243.6 68.5h2.1v1.5h-2.1zM254.1 68.5h2.1v1.5h-2.1zM4.2 71.5h2.1v1.5h-2.1zM65.1 71.5h2.1v1.5h-2.1zM107.1 71.5h2.1v1.5h-2.1zM130.2 71.5h2.1v1.5h-2.1zM12.6 74.5h2.1v1.5h-2.1zM39.9 74.5h2.1v1.5h-2.1zM79.8 74.5h2.1v1.5h-2.1zM98.7 74.5h2.1v1.5h-2.1zM220.5 74.5h2.1v1.5h-2.1zM260.4 74.5h2.1v1.5h-2.1zM31.5 77.5h2.1v1.5h-2.1zM81.9 77.5h2.1v1.5h-2.1zM113.4 77.5h2.1v1.5h-2.1zM119.7 77.5h2.1v1.5h-2.1zM161.7 77.5h2.1v1.5h-2.1zM176.4 77.5h2.1v1.5h-2.1zM67.2 80.5h2.1v1.5h-2.1zM132.3 80.5h2.1v1.5h-2.1zM197.4 80.5h2.1v1.5h-2.1zM203.7 80.5h2.1v1.5h-2.1zM239.4 80.5h2.1v1.5h-2.1zM310.8 80.5h2.1v1.5h-2.1zM18.9 83.4h2.1v1.5h-2.1zM31.5 83.4h2.1v1.5h-2.1zM33.6 83.4h2.1v1.5h-2.1zM67.2 83.4h2.1v1.5h-2.1zM94.5 83.4h2.1v1.5h-2.1zM98.7 83.4h2.1v1.5h-2.1zM142.8 83.4h2.1v1.5h-2.1zM168 83.4h2.1v1.5h-2.1zM235.2 83.4h2.1v1.5h-2.1zM245.7 83.4h2.1v1.5h-2.1zM260.4 83.4h2.1v1.5h-2.1zM281.4 83.4h2.1v1.5h-2.1zM283.5 83.4h2.1v1.5h-2.1zM18.9 86.4h2.1v1.5h-2.1zM21 86.4h2.1v1.5h-2.1zM48.3 86.4h2.1v1.5h-2.1zM90.3 86.4h2.1v1.5h-2.1zM113.4 86.4h2.1v1.5h-2.1zM237.3 86.4h2.1v1.5h-2.1zM256.2 86.4h2.1v1.5h-2.1zM268.8 86.4h2.1v1.5h-2.1zM279.3 86.4h2.1v1.5h-2.1zM39.9 89.4h2.1v1.5h-2.1zM73.5 89.4h2.1v1.5h-2.1zM88.2 89.4h2.1v1.5h-2.1zM203.7 89.4h2.1v1.5h-2.1zM283.5 89.4h2.1v1.5h-2.1zM289.8 89.4h2.1v1.5h-2.1zM306.6 89.4h2.1v1.5h-2.1zM29.4 92.4h2.1v1.5h-2.1zM37.8 92.4h2.1v1.5h-2.1zM79.8 92.4h2.1v1.5h-2.1zM84 92.4h2.1v1.5h-2.1zM105 92.4h2.1v1.5h-2.1zM119.7 92.4h2.1v1.5h-2.1zM195.3 92.4h2.1v1.5h-2.1zM233.1 92.4h2.1v1.5h-2.1zM243.6 92.4h2.1v1.5h-2.1zM256.2 92.4h2.1v1.5h-2.1zM296.1 92.4h2.1v1.5h-2.1zM2.1 95.4h2.1v1.5h-2.1zM23.1 95.4h2.1v1.5h-2.1zM33.6 95.4h2.1v1.5h-2.1zM44.1 95.4h2.1v1.5h-2.1zM94.5 95.4h2.1v1.5h-2.1zM140.7 95.4h2.1v1.5h-2.1zM216.3 95.4h2.1v1.5h-2.1zM247.8 95.4h2.1v1.5h-2.1zM304.5 95.4h2.1v1.5h-2.1zM308.7 95.4h2.1v1.5h-2.1zM81.9 98.3h2.1v1.5h-2.1zM100.8 98.3h2.1v1.5h-2.1zM220.5 98.3h2.1v1.5h-2.1zM12.6 101.3h2.1v1.5h-2.1zM18.9 101.3h2.1v1.5h-2.1zM216.3 101.3h2.1v1.5h-2.1zM268.8 101.3h2.1v1.5h-2.1zM25.2 104.3h2.1v1.5h-2.1zM79.8 104.3h2.1v1.5h-2.1zM155.4 104.3h2.1v1.5h-2.1zM170.1 104.3h2.1v1.5h-2.1zM201.6 104.3h2.1v1.5h-2.1zM243.6 104.3h2.1v1.5h-2.1zM2.1 107.3h2.1v1.5h-2.1zM10.5 107.3h2.1v1.5h-2.1zM18.9 107.3h2.1v1.5h-2.1zM33.6 107.3h2.1v1.5h-2.1zM75.6 107.3h2.1v1.5h-2.1zM88.2 107.3h2.1v1.5h-2.1zM123.9 107.3h2.1v1.5h-2.1zM224.7 107.3h2.1v1.5h-2.1zM98.7 110.3h2.1v1.5h-2.1zM102.9 110.3h2.1v1.5h-2.1zM144.9 110.3h2.1v1.5h-2.1zM210 110.3h2.1v1.5h-2.1zM264.6 110.3h2.1v1.5h-2.1zM69.3 113.2h2.1v1.5h-2.1zM79.8 113.2h2.1v1.5h-2.1zM140.7 113.2h2.1v1.5h-2.1zM220.5 113.2h2.1v1.5h-2.1zM252 113.2h2.1v1.5h-2.1zM90.3 116.2h2.1v1.5h-2.1zM142.8 116.2h2.1v1.5h-2.1zM245.7 116.2h2.1v1.5h-2.1zM266.7 116.2h2.1v1.5h-2.1zM270.9 116.2h2.1v1.5h-2.1zM298.2 116.2h2.1v1.5h-2.1zM29.4 119.2h2.1v1.5h-2.1zM113.4 119.2h2.1v1.5h-2.1zM161.7 119.2h2.1v1.5h-2.1zM186.9 119.2h2.1v1.5h-2.1zM294 119.2h2.1v1.5h-2.1zM140.7 122.2h2.1v1.5h-2.1zM189 122.2h2.1v1.5h-2.1zM308.7 122.2h2.1v1.5h-2.1zM2.1 125.2h2.1v1.5h-2.1zM10.5 125.2h2.1v1.5h-2.1zM14.7 125.2h2.1v1.5h-2.1zM21 125.2h2.1v1.5h-2.1zM29.4 125.2h2.1v1.5h-2.1zM31.5 125.2h2.1v1.5h-2.1zM63 125.2h2.1v1.5h-2.1zM130.2 125.2h2.1v1.5h-2.1zM134.4 125.2h2.1v1.5h-2.1zM168 125.2h2.1v1.5h-2.1zM176.4 125.2h2.1v1.5h-2.1zM182.7 125.2h2.1v1.5h-2.1zM205.8 125.2h2.1v1.5h-2.1zM228.9 125.2h2.1v1.5h-2.1zM233.1 125.2h2.1v1.5h-2.1zM298.2 125.2h2.1v1.5h-2.1zM304.5 125.2h2.1v1.5h-2.1zM2.1 128.1h2.1v1.5h-2.1zM12.6 128.1h2.1v1.5h-2.1zM81.9 128.1h2.1v1.5h-2.1zM98.7 128.1h2.1v1.5h-2.1zM105 128.1h2.1v1.5h-2.1zM199.5 128.1h2.1v1.5h-2.1zM252 128.1h2.1v1.5h-2.1zM304.5 128.1h2.1v1.5h-2.1zM0 131.1h2.1v1.5h-2.1zM79.8 131.1h2.1v1.5h-2.1zM174.3 131.1h2.1v1.5h-2.1zM189 131.1h2.1v1.5h-2.1zM134.4 134.1h2.1v1.5h-2.1zM8.4 137.1h2.1v1.5h-2.1zM12.6 137.1h2.1v1.5h-2.1zM14.7 137.1h2.1v1.5h-2.1zM46.2 137.1h2.1v1.5h-2.1zM48.3 137.1h2.1v1.5h-2.1zM56.7 137.1h2.1v1.5h-2.1zM63 137.1h2.1v1.5h-2.1zM67.2 137.1h2.1v1.5h-2.1zM100.8 137.1h2.1v1.5h-2.1zM113.4 137.1h2.1v1.5h-2.1zM136.5 137.1h2.1v1.5h-2.1zM138.6 137.1h2.1v1.5h-2.1zM186.9 137.1h2.1v1.5h-2.1zM199.5 137.1h2.1v1.5h-2.1zM220.5 137.1h2.1v1.5h-2.1zM233.1 137.1h2.1v1.5h-2.1zM266.7 137.1h2.1v1.5h-2.1zM270.9 137.1h2.1v1.5h-2.1zM275.1 137.1h2.1v1.5h-2.1zM296.1 137.1h2.1v1.5h-2.1zM8.4 140.1h2.1v1.5h-2.1zM18.9 140.1h2.1v1.5h-2.1zM102.9 140.1h2.1v1.5h-2.1zM107.1 140.1h2.1v1.5h-2.1zM147 140.1h2.1v1.5h-2.1zM237.3 140.1h2.1v1.5h-2.1zM260.4 140.1h2.1v1.5h-2.1zM264.6 140.1h2.1v1.5h-2.1zM289.8 140.1h2.1v1.5h-2.1zM310.8 140.1h2.1v1.5h-2.1zM0 143h2.1v1.5h-2.1zM21 143h2.1v1.5h-2.1zM54.6 143h2.1v1.5h-2.1zM63 143h2.1v1.5h-2.1zM100.8 143h2.1v1.5h-2.1zM191.1 143h2.1v1.5h-2.1zM193.2 143h2.1v1.5h-2.1zM226.8 143h2.1v1.5h-2.1zM8.4 146h2.1v1.5h-2.1zM81.9 146h2.1v1.5h-2.1zM144.9 146h2.1v1.5h-2.1zM174.3 146h2.1v1.5h-2.1zM193.2 146h2.1v1.5h-2.1zM25.2 149h2.1v1.5h-2.1zM201.6 149h2.1v1.5h-2.1zM18.9 152h2.1v1.5h-2.1zM29.4 152h2.1v1.5h-2.1zM81.9 152h2.1v1.5h-2.1zM273 152h2.1v1.5h-2.1zM275.1 152h2.1v1.5h-2.1zM0 155h2.1v1.5h-2.1zM10.5 155h2.1v1.5h-2.1zM48.3 155h2.1v1.5h-2.1zM69.3 155h2.1v1.5h-2.1zM90.3 155h2.1v1.5h-2.1zM140.7 155h2.1v1.5h-2.1zM161.7 155h2.1v1.5h-2.1zM207.9 155h2.1v1.5h-2.1zM262.5 155h2.1v1.5h-2.1zM268.8 155h2.1v1.5h-2.1zM312.9 155h1.1v1.5h-1.1zM21 157.9h2.1v1.5h-2.1zM56.7 157.9h2.1v1.5h-2.1zM201.6 157.9h2.1v1.5h-2.1zM266.7 157.9h2.1v1.5h-2.1zM2.1 160.9h2.1v1.5h-2.1zM18.9 160.9h2.1v1.5h-2.1zM63 160.9h2.1v1.5h-2.1zM254.1 160.9h2.1v1.5h-2.1zM256.2 160.9h2.1v1.5h-2.1zM25.2 163.9h2.1v1.5h-2.1zM90.3 163.9h2.1v1.5h-2.1zM180.6 163.9h2.1v1.5h-2.1zM205.8 163.9h2.1v1.5h-2.1zM44.1 166.9h2.1v1.5h-2.1zM75.6 166.9h2.1v1.5h-2.1zM117.6 166.9h2.1v1.5h-2.1zM121.8 166.9h2.1v1.5h-2.1zM2.1 169.9h2.1v1.5h-2.1zM65.1 169.9h2.1v1.5h-2.1zM98.7 169.9h2.1v1.5h-2.1zM18.9 172.8h2.1v1.5h-2.1zM58.8 172.8h2.1v1.5h-2.1zM63 172.8h2.1v1.5h-2.1zM79.8 172.8h2.1v1.5h-2.1zM123.9 172.8h2.1v1.5h-2.1zM128.1 172.8h2.1v1.5h-2.1zM132.3 172.8h2.1v1.5h-2.1zM136.5 172.8h2.1v1.5h-2.1zM138.6 172.8h2.1v1.5h-2.1zM195.3 172.8h2.1v1.5h-2.1zM100.8 175.8h2.1v1.5h-2.1zM18.9 178.8h2.1v1.5h-2.1zM67.2 178.8h2.1v1.5h-2.1zM92.4 178.8h2.1v1.5h-2.1zM121.8 178.8h2.1v1.5h-2.1zM132.3 178.8h2.1v1.5h-2.1zM142.8 178.8h2.1v1.5h-2.1zM178.5 178.8h2.1v1.5h-2.1zM23.1 181.8h2.1v1.5h-2.1zM25.2 181.8h2.1v1.5h-2.1zM90.3 181.8h2.1v1.5h-2.1zM233.1 181.8h2.1v1.5h-2.1zM239.4 181.8h2.1v1.5h-2.1zM241.5 181.8h2.1v1.5h-2.1zM46.2 184.8h2.1v1.5h-2.1zM73.5 184.8h2.1v1.5h-2.1zM113.4 184.8h2.1v1.5h-2.1zM136.5 184.8h2.1v1.5h-2.1zM155.4 184.8h2.1v1.5h-2.1zM170.1 184.8h2.1v1.5h-2.1zM199.5 184.8h2.1v1.5h-2.1zM222.6 184.8h2.1v1.5h-2.1zM256.2 184.8h2.1v1.5h-2.1zM10.5 187.7h2.1v1.5h-2.1zM23.1 187.7h2.1v1.5h-2.1zM88.2 187.7h2.1v1.5h-2.1zM94.5 187.7h2.1v1.5h-2.1zM130.2 187.7h2.1v1.5h-2.1zM138.6 187.7h2.1v1.5h-2.1zM161.7 187.7h2.1v1.5h-2.1zM174.3 187.7h2.1v1.5h-2.1zM199.5 187.7h2.1v1.5h-2.1zM241.5 187.7h2.1v1.5h-2.1zM245.7 187.7h2.1v1.5h-2.1zM275.1 187.7h2.1v1.5h-2.1zM279.3 187.7h2.1v1.5h-2.1zM285.6 187.7h2.1v1.5h-2.1zM310.8 187.7h2.1v1.5h-2.1zM312.9 187.7h1.1v1.5h-1.1zM4.2 190.7h2.1v1.5h-2.1zM12.6 190.7h2.1v1.5h-2.1zM31.5 190.7h2.1v1.5h-2.1zM46.2 190.7h2.1v1.5h-2.1zM92.4 190.7h2.1v1.5h-2.1zM226.8 190.7h2.1v1.5h-2.1zM260.4 190.7h2.1v1.5h-2.1zM275.1 190.7h2.1v1.5h-2.1zM14.7 193.7h2.1v1.5h-2.1zM56.7 193.7h2.1v1.5h-2.1zM58.8 193.7h2.1v1.5h-2.1zM94.5 193.7h2.1v1.5h-2.1zM205.8 193.7h2.1v1.5h-2.1zM224.7 193.7h2.1v1.5h-2.1zM285.6 193.7h2.1v1.5h-2.1zM39.9 196.7h2.1v1.5h-2.1zM46.2 196.7h2.1v1.5h-2.1zM69.3 196.7h2.1v1.5h-2.1zM77.7 196.7h2.1v1.5h-2.1zM98.7 196.7h2.1v1.5h-2.1zM121.8 196.7h2.1v1.5h-2.1zM191.1 196.7h2.1v1.5h-2.1zM228.9 196.7h2.1v1.5h-2.1zM241.5 196.7h2.1v1.5h-2.1zM247.8 196.7h2.1v1.5h-2.1zM0 199.7h2.1v1.5h-2.1zM10.5 199.7h2.1v1.5h-2.1zM21 199.7h2.1v1.5h-2.1zM98.7 199.7h2.1v1.5h-2.1zM178.5 199.7h2.1v1.5h-2.1zM180.6 199.7h2.1v1.5h-2.1zM237.3 199.7h2.1v1.5h-2.1zM247.8 199.7h2.1v1.5h-2.1zM296.1 199.7h2.1v1.5h-2.1zM304.5 199.7h2.1v1.5h-2.1zM4.2 202.6h2.1v1.5h-2.1zM33.6 202.6h2.1v1.5h-2.1zM155.4 202.6h2.1v1.5h-2.1zM163.8 202.6h2.1v1.5h-2.1zM182.7 202.6h2.1v1.5h-2.1zM191.1 202.6h2.1v1.5h-2.1zM197.4 202.6h2.1v1.5h-2.1zM207.9 202.6h2.1v1.5h-2.1zM270.9 202.6h2.1v1.5h-2.1zM296.1 202.6h2.1v1.5h-2.1zM2.1 208.6h2.1v1.5h-2.1zM117.6 208.6h2.1v1.5h-2.1zM210 208.6h2.1v1.5h-2.1zM0 211.6h2.1v1.5h-2.1zM21 211.6h2.1v1.5h-2.1zM23.1 211.6h2.1v1.5h-2.1zM88.2 211.6h2.1v1.5h-2.1zM241.5 211.6h2.1v1.5h-2.1zM262.5 211.6h2.1v1.5h-2.1zM79.8 214.6h2.1v1.5h-2.1zM130.2 214.6h2.1v1.5h-2.1zM155.4 214.6h2.1v1.5h-2.1zM264.6 214.6h2.1v1.5h-2.1zM268.8 214.6h2.1v1.5h-2.1zM18.9 217.5h2.1v1.5h-2.1zM33.6 217.5h2.1v1.5h-2.1zM56.7 217.5h2.1v1.5h-2.1zM79.8 217.5h2.1v1.5h-2.1zM136.5 217.5h2.1v1.5h-2.1zM159.6 217.5h2.1v1.5h-2.1zM186.9 217.5h2.1v1.5h-2.1zM191.1 217.5h2.1v1.5h-2.1zM218.4 217.5h2.1v1.5h-2.1zM310.8 217.5h2.1v1.5h-2.1zM18.9 220.5h2.1v1.5h-2.1zM23.1 220.5h2.1v1.5h-2.1zM39.9 220.5h2.1v1.5h-2.1zM98.7 220.5h2.1v1.5h-2.1zM119.7 220.5h2.1v1.5h-2.1zM144.9 220.5h2.1v1.5h-2.1zM151.2 220.5h2.1v1.5h-2.1zM195.3 220.5h2.1v1.5h-2.1zM205.8 220.5h2.1v1.5h-2.1zM264.6 220.5h2.1v1.5h-2.1zM294 220.5h2.1v1.5h-2.1zM29.4 223.5h2.1v1.5h-2.1zM44.1 223.5h2.1v1.5h-2.1zM58.8 223.5h2.1v1.5h-2.1zM77.7 223.5h2.1v1.5h-2.1zM197.4 223.5h2.1v1.5h-2.1zM228.9 223.5h2.1v1.5h-2.1zM31.5 226.5h2.1v1.5h-2.1zM90.3 226.5h2.1v1.5h-2.1zM94.5 226.5h2.1v1.5h-2.1zM147 226.5h2.1v1.5h-2.1zM151.2 226.5h2.1v1.5h-2.1zM285.6 226.5h2.1v1.5h-2.1zM8.4 229.5h2.1v1.5h-2.1zM54.6 229.5h2.1v1.5h-2.1zM123.9 229.5h2.1v1.5h-2.1zM140.7 229.5h2.1v1.5h-2.1zM163.8 229.5h2.1v1.5h-2.1zM170.1 229.5h2.1v1.5h-2.1zM260.4 229.5h2.1v1.5h-2.1zM266.7 229.5h2.1v1.5h-2.1zM279.3 229.5h2.1v1.5h-2.1zM312.9 229.5h1.1v1.5h-1.1zM203.7 232.4h2.1v1.5h-2.1zM207.9 232.4h2.1v1.5h-2.1zM4.2 235.4h2.1v1.5h-2.1zM56.7 235.4h2.1v1.5h-2.1zM77.7 235.4h2.1v1.5h-2.1zM105 235.4h2.1v1.5h-2.1zM111.3 235.4h2.1v1.5h-2.1zM142.8 235.4h2.1v1.5h-2.1zM197.4 235.4h2.1v1.5h-2.1zM159.6 238.4h2.1v1.5h-2.1zM168 238.4h2.1v1.5h-2.1zM29.4 241.4h2.1v1.5h-2.1zM136.5 241.4h2.1v1.5h-2.1zM256.2 241.4h2.1v1.5h-2.1zM155.4 244.4h2.1v1.5h-2.1zM216.3 244.4h2.1v1.5h-2.1zM233.1 244.4h2.1v1.5h-2.1zM270.9 244.4h2.1v1.5h-2.1zM273 244.4h2.1v1.5h-2.1zM294 244.4h2.1v1.5h-2.1zM302.4 244.4h2.1v1.5h-2.1zM163.8 247.3h2.1v1.5h-2.1zM12.6 250.3h2.1v1.5h-2.1zM58.8 250.3h2.1v1.5h-2.1zM107.1 250.3h2.1v1.5h-2.1zM121.8 250.3h2.1v1.5h-2.1zM136.5 250.3h2.1v1.5h-2.1zM228.9 250.3h2.1v1.5h-2.1zM235.2 250.3h2.1v1.5h-2.1zM252 250.3h2.1v1.5h-2.1zM18.9 253.3h2.1v1.5h-2.1zM73.5 253.3h2.1v1.5h-2.1zM105 253.3h2.1v1.5h-2.1zM176.4 253.3h2.1v1.5h-2.1zM191.1 253.3h2.1v1.5h-2.1zM0 256.3h2.1v1.5h-2.1zM2.1 256.3h2.1v1.5h-2.1zM25.2 256.3h2.1v1.5h-2.1zM37.8 256.3h2.1v1.5h-2.1zM44.1 256.3h2.1v1.5h-2.1zM48.3 256.3h2.1v1.5h-2.1zM50.4 256.3h2.1v1.5h-2.1zM132.3 256.3h2.1v1.5h-2.1zM233.1 256.3h2.1v1.5h-2.1zM235.2 256.3h2.1v1.5h-2.1zM46.2 259.3h2.1v1.5h-2.1zM56.7 259.3h2.1v1.5h-2.1zM180.6 259.3h2.1v1.5h-2.1zM212.1 259.3h2.1v1.5h-2.1zM245.7 259.3h2.1v1.5h-2.1zM260.4 259.3h2.1v1.5h-2.1zM207.9 262.2h2.1v1.5h-2.1zM247.8 262.2h2.1v1.5h-2.1zM283.5 262.2h2.1v1.5h-2.1zM2.1 265.2h2.1v1.5h-2.1zM4.2 265.2h2.1v1.5h-2.1zM165.9 265.2h2.1v1.5h-2.1zM210 265.2h2.1v1.5h-2.1zM222.6 265.2h2.1v1.5h-2.1zM241.5 265.2h2.1v1.5h-2.1zM8.4 268.2h2.1v1.5h-2.1zM44.1 268.2h2.1v1.5h-2.1zM67.2 268.2h2.1v1.5h-2.1zM176.4 268.2h2.1v1.5h-2.1zM275.1 268.2h2.1v1.5h-2.1zM44.1 271.2h2.1v1.5h-2.1zM50.4 271.2h2.1v1.5h-2.1zM111.3 271.2h2.1v1.5h-2.1zM117.6 271.2h2.1v1.5h-2.1zM14.7 274.2h2.1v1.5h-2.1zM31.5 274.2h2.1v1.5h-2.1zM37.8 274.2h2.1v1.5h-2.1zM44.1 274.2h2.1v1.5h-2.1zM123.9 274.2h2.1v1.5h-2.1zM144.9 274.2h2.1v1.5h-2.1zM178.5 274.2h2.1v1.5h-2.1zM193.2 274.2h2.1v1.5h-2.1zM218.4 274.2h2.1v1.5h-2.1zM298.2 274.2h2.1v1.5h-2.1zM54.6 277.1h2.1v1.5h-2.1zM102.9 277.1h2.1v1.5h-2.1zM174.3 277.1h2.1v1.5h-2.1zM210 277.1h2.1v1.5h-2.1zM228.9 277.1h2.1v1.5h-2.1zM256.2 277.1h2.1v1.5h-2.1zM312.9 277.1h1.1v1.5h-1.1zM37.8 280.1h2.1v1.5h-2.1zM56.7 280.1h2.1v1.5h-2.1zM94.5 280.1h2.1v1.5h-2.1zM193.2 280.1h2.1v1.5h-2.1zM241.5 280.1h2.1v1.5h-2.1zM298.2 280.1h2.1v1.5h-2.1zM239.4 283.1h2.1v1.5h-2.1zM283.5 283.1h2.1v1.5h-2.1zM37.8 286.1h2.1v1.5h-2.1zM168 286.1h2.1v1.5h-2.1zM189 286.1h2.1v1.5h-2.1zM195.3 286.1h2.1v1.5h-2.1zM207.9 286.1h2.1v1.5h-2.1zM247.8 286.1h2.1v1.5h-2.1zM46.2 289.1h2.1v1.5h-2.1zM121.8 289.1h2.1v1.5h-2.1zM165.9 289.1h2.1v1.5h-2.1zM182.7 289.1h2.1v1.5h-2.1zM201.6 289.1h2.1v1.5h-2.1zM212.1 289.1h2.1v1.5h-2.1zM243.6 289.1h2.1v1.5h-2.1zM254.1 289.1h2.1v1.5h-2.1zM281.4 289.1h2.1v1.5h-2.1zM142.8 292h2.1v1.5h-2.1zM144.9 292h2.1v1.5h-2.1zM147 292h2.1v1.5h-2.1zM153.3 292h2.1v1.5h-2.1zM189 292h2.1v1.5h-2.1zM239.4 292h2.1v1.5h-2.1zM302.4 292h2.1v1.5h-2.1zM10.5 295h2.1v1.5h-2.1zM50.4 295h2.1v1.5h-2.1zM77.7 295h2.1v1.5h-2.1zM113.4 295h2.1v1.5h-2.1zM132.3 295h2.1v1.5h-2.1zM191.1 295h2.1v1.5h-2.1zM207.9 295h2.1v1.5h-2.1zM210 295h2.1v1.5h-2.1zM216.3 295h2.1v1.5h-2.1zM279.3 295h2.1v1.5h-2.1zM296.1 295h2.1v1.5h-2.1zM25.2 298h2.1v1.5h-2.1zM54.6 298h2.1v1.5h-2.1zM67.2 298h2.1v1.5h-2.1zM73.5 298h2.1v1.5h-2.1zM128.1 298h2.1v1.5h-2.1zM178.5 298h2.1v1.5h-2.1zM180.6 298h2.1v1.5h-2.1zM197.4 298h2.1v1.5h-2.1zM207.9 298h2.1v1.5h-2.1zM302.4 298h2.1v1.5h-2.1zM63 301h2.1v1.5h-2.1zM191.1 301h2.1v1.5h-2.1zM222.6 301h2.1v1.5h-2.1zM224.7 301h2.1v1.5h-2.1zM241.5 301h2.1v1.5h-2.1zM8.4 304h2.1v1.5h-2.1zM14.7 304h2.1v1.5h-2.1zM65.1 304h2.1v1.5h-2.1zM113.4 304h2.1v1.5h-2.1zM121.8 304h2.1v1.5h-2.1zM134.4 304h2.1v1.5h-2.1zM189 304h2.1v1.5h-2.1zM237.3 304h2.1v1.5h-2.1zM312.9 304h1.1v1.5h-1.1zM10.5 306.9h2.1v1.5h-2.1zM14.7 306.9h2.1v1.5h-2.1zM18.9 306.9h2.1v1.5h-2.1zM23.1 306.9h2.1v1.5h-2.1zM33.6 306.9h2.1v1.5h-2.1zM46.2 306.9h2.1v1.5h-2.1zM63 306.9h2.1v1.5h-2.1zM65.1 306.9h2.1v1.5h-2.1zM67.2 306.9h2.1v1.5h-2.1zM100.8 306.9h2.1v1.5h-2.1zM136.5 306.9h2.1v1.5h-2.1zM142.8 306.9h2.1v1.5h-2.1zM168 306.9h2.1v1.5h-2.1zM182.7 306.9h2.1v1.5h-2.1zM191.1 306.9h2.1v1.5h-2.1zM199.5 306.9h2.1v1.5h-2.1zM228.9 306.9h2.1v1.5h-2.1zM233.1 306.9h2.1v1.5h-2.1zM235.2 306.9h2.1v1.5h-2.1zM237.3 306.9h2.1v1.5h-2.1zM252 306.9h2.1v1.5h-2.1zM281.4 306.9h2.1v1.5h-2.1zM2.1 309.9h2.1v1.5h-2.1zM37.8 309.9h2.1v1.5h-2.1zM67.2 309.9h2.1v1.5h-2.1zM75.6 309.9h2.1v1.5h-2.1zM92.4 309.9h2.1v1.5h-2.1zM100.8 309.9h2.1v1.5h-2.1zM144.9 309.9h2.1v1.5h-2.1zM224.7 309.9h2.1v1.5h-2.1zM228.9 309.9h2.1v1.5h-2.1zM294 309.9h2.1v1.5h-2.1zM12.6 312.9h2.1v1.5h-2.1zM163.8 312.9h2.1v1.5h-2.1zM31.5 315.9h2.1v1.5h-2.1zM73.5 315.9h2.1v1.5h-2.1zM119.7 315.9h2.1v1.5h-2.1zM163.8 315.9h2.1v1.5h-2.1zM170.1 315.9h2.1v1.5h-2.1zM191.1 315.9h2.1v1.5h-2.1zM205.8 315.9h2.1v1.5h-2.1zM222.6 315.9h2.1v1.5h-2.1zM233.1 315.9h2.1v1.5h-2.1zM237.3 315.9h2.1v1.5h-2.1zM56.7 318.9h2.1v1.5h-2.1zM134.4 318.9h2.1v1.5h-2.1zM270.9 318.9h2.1v1.5h-2.1zM21 321.8h2.1v1.5h-2.1zM140.7 321.8h2.1v1.5h-2.1zM186.9 321.8h2.1v1.5h-2.1zM210 321.8h2.1v1.5h-2.1zM275.1 321.8h2.1v1.5h-2.1zM296.1 321.8h2.1v1.5h-2.1zM29.4 324.8h2.1v1.5h-2.1zM75.6 324.8h2.1v1.5h-2.1zM84 324.8h2.1v1.5h-2.1zM92.4 324.8h2.1v1.5h-2.1zM142.8 324.8h2.1v1.5h-2.1zM155.4 324.8h2.1v1.5h-2.1zM170.1 324.8h2.1v1.5h-2.1zM186.9 324.8h2.1v1.5h-2.1zM283.5 324.8h2.1v1.5h-2.1zM2.1 327.8h2.1v1.5h-2.1zM69.3 327.8h2.1v1.5h-2.1zM205.8 327.8h2.1v1.5h-2.1zM222.6 327.8h2.1v1.5h-2.1zM226.8 327.8h2.1v1.5h-2.1zM268.8 327.8h2.1v1.5h-2.1zM270.9 327.8h2.1v1.5h-2.1zM281.4 327.8h2.1v1.5h-2.1zM306.6 327.8h2.1v1.5h-2.1zM12.6 330.8h2.1v1.5h-2.1zM25.2 330.8h2.1v1.5h-2.1zM48.3 330.8h2.1v1.5h-2.1zM58.8 330.8h2.1v1.5h-2.1zM161.7 330.8h2.1v1.5h-2.1zM216.3 330.8h2.1v1.5h-2.1zM245.7 330.8h2.1v1.5h-2.1zM260.4 330.8h2.1v1.5h-2.1zM262.5 330.8h2.1v1.5h-2.1zM266.7 330.8h2.1v1.5h-2.1zM0 333.8h2.1v1.5h-2.1zM8.4 333.8h2.1v1.5h-2.1zM29.4 333.8h2.1v1.5h-2.1zM92.4 333.8h2.1v1.5h-2.1zM287.7 333.8h2.1v1.5h-2.1zM306.6 333.8h2.1v1.5h-2.1zM21 336.7h2.1v1.5h-2.1zM25.2 336.7h2.1v1.5h-2.1zM136.5 336.7h2.1v1.5h-2.1zM140.7 336.7h2.1v1.5h-2.1zM147 336.7h2.1v1.5h-2.1zM153.3 336.7h2.1v1.5h-2.1zM159.6 336.7h2.1v1.5h-2.1zM163.8 336.7h2.1v1.5h-2.1zM182.7 336.7h2.1v1.5h-2.1zM189 336.7h2.1v1.5h-2.1zM226.8 336.7h2.1v1.5h-2.1zM262.5 336.7h2.1v1.5h-2.1zM266.7 336.7h2.1v1.5h-2.1zM121.8 339.7h2.1v1.5h-2.1zM168 339.7h2.1v1.5h-2.1zM275.1 339.7h2.1v1.5h-2.1zM296.1 339.7h2.1v1.5h-2.1zM10.5 342.7h2.1v1.5h-2.1zM46.2 342.7h2.1v1.5h-2.1zM88.2 342.7h2.1v1.5h-2.1zM205.8 342.7h2.1v1.5h-2.1zM294 342.7h2.1v1.5h-2.1zM10.5 345.7h2.1v1.5h-2.1zM67.2 345.7h2.1v1.5h-2.1zM75.6 345.7h2.1v1.5h-2.1zM105 345.7h2.1v1.5h-2.1zM113.4 345.7h2.1v1.5h-2.1zM147 345.7h2.1v1.5h-2.1zM193.2 345.7h2.1v1.5h-2.1zM199.5 345.7h2.1v1.5h-2.1zM207.9 345.7h2.1v1.5h-2.1zM228.9 345.7h2.1v1.5h-2.1zM235.2 345.7h2.1v1.5h-2.1zM239.4 345.7h2.1v1.5h-2.1zM247.8 345.7h2.1v1.5h-2.1zM260.4 345.7h2.1v1.5h-2.1zM262.5 345.7h2.1v1.5h-2.1zM266.7 345.7h2.1v1.5h-2.1zM275.1 345.7h2.1v1.5h-2.1zM294 345.7h2.1v1.5h-2.1zM296.1 345.7h2.1v1.5h-2.1zM298.2 345.7h2.1v1.5h-2.1zM306.6 345.7h2.1v1.5h-2.1zM8.4 348.7h2.1v1.5h-2.1zM18.9 348.7h2.1v1.5h-2.1zM37.8 348.7h2.1v1.5h-2.1zM65.1 348.7h2.1v1.5h-2.1zM79.8 348.7h2.1v1.5h-2.1zM81.9 348.7h2.1v1.5h-2.1zM88.2 348.7h2.1v1.5h-2.1zM90.3 348.7h2.1v1.5h-2.1zM94.5 348.7h2.1v1.5h-2.1zM113.4 348.7h2.1v1.5h-2.1zM121.8 348.7h2.1v1.5h-2.1zM123.9 348.7h2.1v1.5h-2.1zM147 348.7h2.1v1.5h-2.1zM174.3 348.7h2.1v1.5h-2.1zM237.3 348.7h2.1v1.5h-2.1zM247.8 348.7h2.1v1.5h-2.1zM260.4 348.7h2.1v1.5h-2.1zM25.2 351.6h2.1v1.5h-2.1zM33.6 351.6h2.1v1.5h-2.1zM92.4 351.6h2.1v1.5h-2.1zM121.8 351.6h2.1v1.5h-2.1zM128.1 351.6h2.1v1.5h-2.1zM138.6 351.6h2.1v1.5h-2.1zM191.1 351.6h2.1v1.5h-2.1zM199.5 351.6h2.1v1.5h-2.1zM203.7 351.6h2.1v1.5h-2.1zM304.5 351.6h2.1v1.5h-2.1zM312.9 351.6h1.1v1.5h-1.1zM56.7 354.6h2.1v1.5h-2.1zM98.7 354.6h2.1v1.5h-2.1zM147 354.6h2.1v1.5h-2.1zM191.1 354.6h2.1v1.5h-2.1zM254.1 354.6h2.1v1.5h-2.1zM260.4 354.6h2.1v1.5h-2.1zM308.7 354.6h2.1v1.5h-2.1zM14.7 357.6h2.1v1.5h-2.1zM18.9 357.6h2.1v1.5h-2.1zM21 357.6h2.1v1.5h-2.1zM46.2 357.6h2.1v1.5h-2.1zM56.7 357.6h2.1v1.5h-2.1zM65.1 357.6h2.1v1.5h-2.1zM90.3 357.6h2.1v1.5h-2.1zM130.2 357.6h2.1v1.5h-2.1zM147 357.6h2.1v1.5h-2.1zM210 357.6h2.1v1.5h-2.1zM241.5 357.6h2.1v1.5h-2.1zM252 357.6h2.1v1.5h-2.1zM302.4 357.6h2.1v1.5h-2.1zM310.8 357.6h2.1v1.5h-2.1zM212.1 360.6h2.1v1.5h-2.1zM0 363.6h2.1v1.5h-2.1zM37.8 363.6h2.1v1.5h-2.1zM54.6 363.6h2.1v1.5h-2.1zM58.8 363.6h2.1v1.5h-2.1zM84 363.6h2.1v1.5h-2.1zM128.1 363.6h2.1v1.5h-2.1zM207.9 363.6h2.1v1.5h-2.1zM237.3 363.6h2.1v1.5h-2.1zM239.4 363.6h2.1v1.5h-2.1zM245.7 363.6h2.1v1.5h-2.1zM260.4 363.6h2.1v1.5h-2.1zM306.6 363.6h2.1v1.5h-2.1zM8.4 366.5h2.1v1.5h-2.1zM31.5 366.5h2.1v1.5h-2.1zM105 366.5h2.1v1.5h-2.1zM178.5 366.5h2.1v1.5h-2.1zM180.6 366.5h2.1v1.5h-2.1zM203.7 366.5h2.1v1.5h-2.1zM233.1 366.5h2.1v1.5h-2.1zM235.2 366.5h2.1v1.5h-2.1zM4.2 369.5h2.1v1.5h-2.1zM25.2 369.5h2.1v1.5h-2.1zM44.1 369.5h2.1v1.5h-2.1zM170.1 369.5h2.1v1.5h-2.1zM199.5 369.5h2.1v1.5h-2.1zM235.2 369.5h2.1v1.5h-2.1zM270.9 369.5h2.1v1.5h-2.1zM275.1 369.5h2.1v1.5h-2.1zM2.1 372.5h2.1v1.5h-2.1zM23.1 372.5h2.1v1.5h-2.1zM25.2 372.5h2.1v1.5h-2.1zM140.7 372.5h2.1v1.5h-2.1zM142.8 372.5h2.1v1.5h-2.1zM197.4 372.5h2.1v1.5h-2.1zM210 372.5h2.1v1.5h-2.1zM2.1 375.5h2.1v1.5h-2.1zM23.1 375.5h2.1v1.5h-2.1zM31.5 375.5h2.1v1.5h-2.1zM39.9 375.5h2.1v1.5h-2.1zM73.5 375.5h2.1v1.5h-2.1zM75.6 375.5h2.1v1.5h-2.1zM84 375.5h2.1v1.5h-2.1zM98.7 375.5h2.1v1.5h-2.1zM102.9 375.5h2.1v1.5h-2.1zM113.4 375.5h2.1v1.5h-2.1zM119.7 375.5h2.1v1.5h-2.1zM121.8 375.5h2.1v1.5h-2.1zM180.6 375.5h2.1v1.5h-2.1zM189 375.5h2.1v1.5h-2.1zM197.4 375.5h2.1v1.5h-2.1zM210 375.5h2.1v1.5h-2.1zM220.5 375.5h2.1v1.5h-2.1zM237.3 375.5h2.1v1.5h-2.1zM243.6 375.5h2.1v1.5h-2.1zM254.1 375.5h2.1v1.5h-2.1zM289.8 375.5h2.1v1.5h-2.1zM304.5 375.5h2.1v1.5h-2.1zM306.6 375.5h2.1v1.5h-2.1zM21 378.5h2.1v1.5h-2.1zM44.1 378.5h2.1v1.5h-2.1zM48.3 378.5h2.1v1.5h-2.1zM102.9 378.5h2.1v1.5h-2.1zM111.3 378.5h2.1v1.5h-2.1zM113.4 378.5h2.1v1.5h-2.1zM132.3 378.5h2.1v1.5h-2.1zM189 378.5h2.1v1.5h-2.1zM239.4 378.5h2.1v1.5h-2.1zM254.1 378.5h2.1v1.5h-2.1zM287.7 378.5h2.1v1.5h-2.1zM155.4 381.4h2.1v1.5h-2.1zM163.8 381.4h2.1v1.5h-2.1zM170.1 381.4h2.1v1.5h-2.1zM191.1 381.4h2.1v1.5h-2.1zM235.2 381.4h2.1v1.5h-2.1zM266.7 381.4h2.1v1.5h-2.1zM279.3 381.4h2.1v1.5h-2.1zM21 384.4h2.1v1.5h-2.1zM33.6 384.4h2.1v1.5h-2.1zM113.4 384.4h2.1v1.5h-2.1zM212.1 384.4h2.1v1.5h-2.1zM256.2 384.4h2.1v1.5h-2.1zM281.4 384.4h2.1v1.5h-2.1zM8.4 387.4h2.1v1.5h-2.1zM50.4 387.4h2.1v1.5h-2.1zM75.6 387.4h2.1v1.5h-2.1zM81.9 387.4h2.1v1.5h-2.1zM98.7 387.4h2.1v1.5h-2.1zM100.8 387.4h2.1v1.5h-2.1zM128.1 387.4h2.1v1.5h-2.1zM136.5 387.4h2.1v1.5h-2.1zM155.4 387.4h2.1v1.5h-2.1zM165.9 387.4h2.1v1.5h-2.1zM174.3 387.4h2.1v1.5h-2.1zM193.2 387.4h2.1v1.5h-2.1zM199.5 387.4h2.1v1.5h-2.1zM207.9 387.4h2.1v1.5h-2.1zM241.5 387.4h2.1v1.5h-2.1zM294 387.4h2.1v1.5h-2.1zM310.8 387.4h2.1v1.5h-2.1zM168 390.4h2.1v1.5h-2.1zM193.2 390.4h2.1v1.5h-2.1zM218.4 390.4h2.1v1.5h-2.1zM247.8 390.4h2.1v1.5h-2.1zM287.7 390.4h2.1v1.5h-2.1zM302.4 390.4h2.1v1.5h-2.1zM46.2 393.4h2.1v1.5h-2.1zM117.6 393.4h2.1v1.5h-2.1zM159.6 393.4h2.1v1.5h-2.1zM260.4 393.4h2.1v1.5h-2.1zM304.5 393.4h2.1v1.5h-2.1zM14.7 396.3h2.1v1.5h-2.1zM23.1 396.3h2.1v1.5h-2.1zM29.4 396.3h2.1v1.5h-2.1zM37.8 396.3h2.1v1.5h-2.1zM44.1 396.3h2.1v1.5h-2.1zM132.3 396.3h2.1v1.5h-2.1zM147 396.3h2.1v1.5h-2.1zM174.3 396.3h2.1v1.5h-2.1zM201.6 396.3h2.1v1.5h-2.1zM216.3 396.3h2.1v1.5h-2.1zM18.9 399.3h2.1v1.5h-2.1zM39.9 399.3h2.1v1.5h-2.1zM94.5 399.3h2.1v1.5h-2.1zM132.3 399.3h2.1v1.5h-2.1zM224.7 399.3h2.1v1.5h-2.1zM283.5 399.3h2.1v1.5h-2.1zM285.6 399.3h2.1v1.5h-2.1zM296.1 399.3h2.1v1.5h-2.1zM310.8 399.3h2.1v1.5h-2.1zM50.4 402.3h2.1v1.5h-2.1zM67.2 402.3h2.1v1.5h-2.1zM73.5 402.3h2.1v1.5h-2.1zM94.5 402.3h2.1v1.5h-2.1zM216.3 402.3h2.1v1.5h-2.1zM243.6 402.3h2.1v1.5h-2.1zM266.7 402.3h2.1v1.5h-2.1zM287.7 402.3h2.1v1.5h-2.1zM289.8 402.3h2.1v1.5h-2.1zM0 405.3h2.1v1.5h-2.1zM12.6 405.3h2.1v1.5h-2.1zM31.5 405.3h2.1v1.5h-2.1zM73.5 405.3h2.1v1.5h-2.1zM144.9 405.3h2.1v1.5h-2.1zM165.9 405.3h2.1v1.5h-2.1zM174.3 405.3h2.1v1.5h-2.1zM191.1 405.3h2.1v1.5h-2.1zM239.4 405.3h2.1v1.5h-2.1zM241.5 405.3h2.1v1.5h-2.1zM252 405.3h2.1v1.5h-2.1zM23.1 408.3h2.1v1.5h-2.1zM25.2 408.3h2.1v1.5h-2.1zM46.2 408.3h2.1v1.5h-2.1zM81.9 408.3h2.1v1.5h-2.1zM88.2 408.3h2.1v1.5h-2.1zM111.3 408.3h2.1v1.5h-2.1zM119.7 408.3h2.1v1.5h-2.1zM121.8 408.3h2.1v1.5h-2.1zM144.9 408.3h2.1v1.5h-2.1zM182.7 408.3h2.1v1.5h-2.1zM273 408.3h2.1v1.5h-2.1zM302.4 408.3h2.1v1.5h-2.1zM310.8 408.3h2.1v1.5h-2.1zM54.6 411.2h2.1v1.5h-2.1zM186.9 411.2h2.1v1.5h-2.1zM266.7 411.2h2.1v1.5h-2.1zM4.2 414.2h2.1v1.5h-2.1zM10.5 414.2h2.1v1.5h-2.1zM25.2 414.2h2.1v1.5h-2.1zM48.3 414.2h2.1v1.5h-2.1zM67.2 414.2h2.1v1.5h-2.1zM136.5 414.2h2.1v1.5h-2.1zM153.3 414.2h2.1v1.5h-2.1zM180.6 414.2h2.1v1.5h-2.1zM199.5 414.2h2.1v1.5h-2.1zM273 414.2h2.1v1.5h-2.1zM279.3 414.2h2.1v1.5h-2.1zM285.6 414.2h2.1v1.5h-2.1zM296.1 414.2h2.1v1.5h-2.1zM304.5 414.2h2.1v1.5h-2.1zM94.5 417.2h2.1v1.5h-2.1zM138.6 417.2h2.1v1.5h-2.1zM212.1 417.2h2.1v1.5h-2.1zM235.2 417.2h2.1v1.5h-2.1zM241.5 417.2h2.1v1.5h-2.1zM294 417.2h2.1v1.5h-2.1zM50.4 420.2h2.1v1.5h-2.1zM113.4 420.2h2.1v1.5h-2.1zM142.8 420.2h2.1v1.5h-2.1zM33.6 423.2h2.1v1.5h-2.1zM56.7 423.2h2.1v1.5h-2.1zM69.3 423.2h2.1v1.5h-2.1zM77.7 423.2h2.1v1.5h-2.1zM121.8 423.2h2.1v1.5h-2.1zM138.6 423.2h2.1v1.5h-2.1zM218.4 423.2h2.1v1.5h-2.1zM226.8 423.2h2.1v1.5h-2.1zM252 423.2h2.1v1.5h-2.1zM260.4 423.2h2.1v1.5h-2.1zM306.6 423.2h2.1v1.5h-2.1zM50.4 426.1h2.1v1.5h-2.1zM54.6 426.1h2.1v1.5h-2.1zM63 426.1h2.1v1.5h-2.1zM65.1 426.1h2.1v1.5h-2.1zM159.6 426.1h2.1v1.5h-2.1zM165.9 426.1h2.1v1.5h-2.1zM201.6 426.1h2.1v1.5h-2.1zM228.9 426.1h2.1v1.5h-2.1zM239.4 426.1h2.1v1.5h-2.1zM252 426.1h2.1v1.5h-2.1zM14.7 429.1h2.1v1.5h-2.1zM39.9 429.1h2.1v1.5h-2.1zM46.2 429.1h2.1v1.5h-2.1zM189 429.1h2.1v1.5h-2.1zM222.6 429.1h2.1v1.5h-2.1zM260.4 429.1h2.1v1.5h-2.1zM273 429.1h2.1v1.5h-2.1zM294 429.1h2.1v1.5h-2.1zM304.5 429.1h2.1v1.5h-2.1zM23.1 432.1h2.1v1.5h-2.1zM63 432.1h2.1v1.5h-2.1zM65.1 432.1h2.1v1.5h-2.1zM117.6 432.1h2.1v1.5h-2.1zM130.2 432.1h2.1v1.5h-2.1zM140.7 432.1h2.1v1.5h-2.1zM168 432.1h2.1v1.5h-2.1zM178.5 432.1h2.1v1.5h-2.1zM186.9 432.1h2.1v1.5h-2.1zM193.2 432.1h2.1v1.5h-2.1zM205.8 432.1h2.1v1.5h-2.1zM247.8 432.1h2.1v1.5h-2.1zM264.6 432.1h2.1v1.5h-2.1zM266.7 432.1h2.1v1.5h-2.1zM285.6 432.1h2.1v1.5h-2.1zM310.8 432.1h2.1v1.5h-2.1zM29.4 435.1h2.1v1.5h-2.1zM191.1 435.1h2.1v1.5h-2.1zM212.1 435.1h2.1v1.5h-2.1zM239.4 435.1h2.1v1.5h-2.1zM10.5 438.1h2.1v1.5h-2.1zM12.6 438.1h2.1v1.5h-2.1zM75.6 438.1h2.1v1.5h-2.1zM102.9 438.1h2.1v1.5h-2.1zM140.7 438.1h2.1v1.5h-2.1zM161.7 438.1h2.1v1.5h-2.1zM165.9 438.1h2.1v1.5h-2.1zM228.9 438.1h2.1v1.5h-2.1zM237.3 438.1h2.1v1.5h-2.1zM256.2 438.1h2.1v1.5h-2.1zM279.3 438.1h2.1v1.5h-2.1zM283.5 438.1h2.1v1.5h-2.1zM304.5 438.1h2.1v1.5h-2.1zM69.3 441h2.1v1.5h-2.1zM294 441h2.1v1.5h-2.1zM77.7 444h2.1v1.5h-2.1zM102.9 444h2.1v1.5h-2.1zM147 444h2.1v1.5h-2.1zM168 444h2.1v1.5h-2.1zM247.8 444h2.1v1.5h-2.1zM298.2 444h2.1v1.5h-2.1zM302.4 444h2.1v1.5h-2.1zM306.6 444h2.1v1.5h-2.1zM4.2 447h2.1v1.5h-2.1zM31.5 447h2.1v1.5h-2.1zM65.1 447h2.1v1.5h-2.1zM69.3 447h2.1v1.5h-2.1zM75.6 447h2.1v1.5h-2.1zM77.7 447h2.1v1.5h-2.1zM92.4 447h2.1v1.5h-2.1zM94.5 447h2.1v1.5h-2.1zM128.1 447h2.1v1.5h-2.1zM130.2 447h2.1v1.5h-2.1zM134.4 447h2.1v1.5h-2.1zM165.9 447h2.1v1.5h-2.1zM189 447h2.1v1.5h-2.1zM191.1 447h2.1v1.5h-2.1zM195.3 447h2.1v1.5h-2.1zM197.4 447h2.1v1.5h-2.1zM239.4 447h2.1v1.5h-2.1zM18.9 450h2.1v1.5h-2.1zM21 450h2.1v1.5h-2.1zM48.3 450h2.1v1.5h-2.1zM73.5 450h2.1v1.5h-2.1zM75.6 450h2.1v1.5h-2.1zM88.2 450h2.1v1.5h-2.1zM94.5 450h2.1v1.5h-2.1zM119.7 450h2.1v1.5h-2.1zM138.6 450h2.1v1.5h-2.1zM155.4 450h2.1v1.5h-2.1zM170.1 450h2.1v1.5h-2.1zM174.3 450h2.1v1.5h-2.1zM189 450h2.1v1.5h-2.1zM193.2 450h2.1v1.5h-2.1zM195.3 450h2.1v1.5h-2.1zM210 450h2.1v1.5h-2.1zM222.6 450h2.1v1.5h-2.1zM228.9 450h2.1v1.5h-2.1zM252 450h2.1v1.5h-2.1zM302.4 450h2.1v1.5h-2.1zM39.9 453h2.1v1.5h-2.1zM67.2 453h2.1v1.5h-2.1zM119.7 453h2.1v1.5h-2.1zM123.9 453h2.1v1.5h-2.1zM186.9 453h2.1v1.5h-2.1zM266.7 453h2.1v1.5h-2.1zM294 453h2.1v1.5h-2.1zM0 455.9h2.1v1.5h-2.1zM46.2 455.9h2.1v1.5h-2.1zM75.6 455.9h2.1v1.5h-2.1zM107.1 455.9h2.1v1.5h-2.1zM138.6 455.9h2.1v1.5h-2.1zM147 455.9h2.1v1.5h-2.1zM170.1 455.9h2.1v1.5h-2.1zM191.1 455.9h2.1v1.5h-2.1zM193.2 455.9h2.1v1.5h-2.1zM207.9 455.9h2.1v1.5h-2.1zM216.3 455.9h2.1v1.5h-2.1zM222.6 455.9h2.1v1.5h-2.1zM226.8 455.9h2.1v1.5h-2.1zM275.1 455.9h2.1v1.5h-2.1zM294 455.9h2.1v1.5h-2.1zM308.7 455.9h2.1v1.5h-2.1zM90.3 458.9h2.1v1.5h-2.1zM102.9 458.9h2.1v1.5h-2.1zM170.1 458.9h2.1v1.5h-2.1zM254.1 458.9h2.1v1.5h-2.1zM298.2 458.9h2.1v1.5h-2.1zM2.1 461.9h2.1v1.5h-2.1zM67.2 461.9h2.1v1.5h-2.1zM161.7 461.9h2.1v1.5h-2.1zM168 461.9h2.1v1.5h-2.1zM222.6 461.9h2.1v1.5h-2.1zM298.2 461.9h2.1v1.5h-2.1zM12.6 464.9h2.1v1.5h-2.1zM73.5 464.9h2.1v1.5h-2.1zM84 464.9h2.1v1.5h-2.1zM100.8 464.9h2.1v1.5h-2.1zM243.6 464.9h2.1v1.5h-2.1zM289.8 464.9h2.1v1.5h-2.1zM294 464.9h2.1v1.5h-2.1zM92.4 467.9h2.1v1.5h-2.1zM102.9 467.9h2.1v1.5h-2.1zM132.3 467.9h2.1v1.5h-2.1zM168 467.9h2.1v1.5h-2.1zM218.4 467.9h2.1v1.5h-2.1zM235.2 467.9h2.1v1.5h-2.1zM239.4 467.9h2.1v1.5h-2.1zM247.8 467.9h2.1v1.5h-2.1zM254.1 467.9h2.1v1.5h-2.1zM294 467.9h2.1v1.5h-2.1zM33.6 470.8h2.1v1.5h-2.1zM58.8 470.8h2.1v1.5h-2.1zM117.6 470.8h2.1v1.5h-2.1zM170.1 470.8h2.1v1.5h-2.1zM176.4 470.8h2.1v1.5h-2.1zM193.2 470.8h2.1v1.5h-2.1zM10.5 473.8h2.1v1.5h-2.1zM54.6 473.8h2.1v1.5h-2.1zM63 473.8h2.1v1.5h-2.1zM73.5 473.8h2.1v1.5h-2.1zM136.5 473.8h2.1v1.5h-2.1zM159.6 473.8h2.1v1.5h-2.1zM220.5 473.8h2.1v1.5h-2.1zM296.1 473.8h2.1v1.5h-2.1zM48.3 476.8h2.1v1.5h-2.1zM210 476.8h2.1v1.5h-2.1zM222.6 476.8h2.1v1.5h-2.1zM226.8 476.8h2.1v1.5h-2.1zM273 476.8h2.1v1.5h-2.1zM283.5 476.8h2.1v1.5h-2.1zM44.1 479.8h2.1v1.5h-2.1zM161.7 479.8h2.1v1.5h-2.1zM205.8 479.8h2.1v1.5h-2.1zM8.4 482.8h2.1v1.5h-2.1zM123.9 482.8h2.1v1.5h-2.1zM245.7 482.8h2.1v1.5h-2.1zM252 482.8h2.1v1.5h-2.1zM296.1 482.8h2.1v1.5h-2.1zM29.4 485.7h2.1v1.5h-2.1zM216.3 485.7h2.1v1.5h-2.1zM235.2 485.7h2.1v1.5h-2.1zM283.5 485.7h2.1v1.5h-2.1zM23.1 488.7h2.1v1.5h-2.1zM69.3 488.7h2.1v1.5h-2.1zM77.7 488.7h2.1v1.5h-2.1zM218.4 488.7h2.1v1.5h-2.1zM8.4 491.7h2.1v1.5h-2.1zM48.3 491.7h2.1v1.5h-2.1zM142.8 491.7h2.1v1.5h-2.1zM178.5 491.7h2.1v1.5h-2.1zM312.9 491.7h1.1v1.5h-1.1zM0 494.7h2.1v1.5h-2.1zM8.4 494.7h2.1v1.5h-2.1zM29.4 494.7h2.1v1.5h-2.1zM37.8 494.7h2.1v1.5h-2.1zM39.9 494.7h2.1v1.5h-2.1zM46.2 494.7h2.1v1.5h-2.1zM48.3 494.7h2.1v1.5h-2.1zM58.8 494.7h2.1v1.5h-2.1zM119.7 494.7h2.1v1.5h-2.1zM159.6 494.7h2.1v1.5h-2.1zM174.3 494.7h2.1v1.5h-2.1zM203.7 494.7h2.1v1.5h-2.1zM245.7 494.7h2.1v1.5h-2.1zM285.6 494.7h2.1v1.5h-2.1zM310.8 494.7h2.1v1.5h-2.1zM4.2 497.7h2.1v1.5h-2.1zM10.5 497.7h2.1v1.5h-2.1zM21 497.7h2.1v1.5h-2.1zM46.2 497.7h2.1v1.5h-2.1zM48.3 497.7h2.1v1.5h-2.1zM75.6 497.7h2.1v1.5h-2.1zM81.9 497.7h2.1v1.5h-2.1zM111.3 497.7h2.1v1.5h-2.1zM159.6 497.7h2.1v1.5h-2.1zM197.4 497.7h2.1v1.5h-2.1zM199.5 497.7h2.1v1.5h-2.1zM207.9 497.7h2.1v1.5h-2.1zM260.4 497.7h2.1v1.5h-2.1zM50.4 500.6h2.1v1.5h-2.1zM153.3 500.6h2.1v1.5h-2.1zM220.5 500.6h2.1v1.5h-2.1zM46.2 503.6h2.1v1.5h-2.1zM100.8 503.6h2.1v1.5h-2.1zM155.4 503.6h2.1v1.5h-2.1zM159.6 503.6h2.1v1.5h-2.1zM163.8 503.6h2.1v1.5h-2.1zM170.1 503.6h2.1v1.5h-2.1zM174.3 503.6h2.1v1.5h-2.1zM226.8 503.6h2.1v1.5h-2.1zM247.8 503.6h2.1v1.5h-2.1zM270.9 503.6h2.1v1.5h-2.1zM287.7 503.6h2.1v1.5h-2.1zM312.9 503.6h1.1v1.5h-1.1zM46.2 506.6h2.1v1.5h-2.1zM81.9 506.6h2.1v1.5h-2.1zM98.7 506.6h2.1v1.5h-2.1zM134.4 506.6h2.1v1.5h-2.1zM178.5 506.6h2.1v1.5h-2.1zM241.5 506.6h2.1v1.5h-2.1zM264.6 506.6h2.1v1.5h-2.1zM275.1 506.6h2.1v1.5h-2.1zM289.8 506.6h2.1v1.5h-2.1zM0 509.6h2.1v1.5h-2.1zM33.6 509.6h2.1v1.5h-2.1zM100.8 509.6h2.1v1.5h-2.1zM268.8 509.6h2.1v1.5h-2.1zM8.4 512.6h2.1v1.5h-2.1zM14.7 512.6h2.1v1.5h-2.1zM21 512.6h2.1v1.5h-2.1zM31.5 512.6h2.1v1.5h-2.1zM33.6 512.6h2.1v1.5h-2.1zM50.4 512.6h2.1v1.5h-2.1zM174.3 512.6h2.1v1.5h-2.1zM207.9 512.6h2.1v1.5h-2.1zM212.1 512.6h2.1v1.5h-2.1zM254.1 512.6h2.1v1.5h-2.1zM279.3 512.6h2.1v1.5h-2.1zM84 515.5h2.1v1.5h-2.1zM117.6 515.5h2.1v1.5h-2.1zM119.7 515.5h2.1v1.5h-2.1zM210 515.5h2.1v1.5h-2.1zM310.8 515.5h2.1v1.5h-2.1zM10.5 518.5h2.1v1.5h-2.1zM18.9 518.5h2.1v1.5h-2.1zM37.8 518.5h2.1v1.5h-2.1zM54.6 518.5h2.1v1.5h-2.1zM107.1 518.5h2.1v1.5h-2.1zM132.3 518.5h2.1v1.5h-2.1zM199.5 518.5h2.1v1.5h-2.1zM262.5 518.5h2.1v1.5h-2.1zM0 521.5h2.1v1.5h-2.1zM12.6 521.5h2.1v1.5h-2.1zM14.7 521.5h2.1v1.5h-2.1zM21 521.5h2.1v1.5h-2.1zM25.2 521.5h2.1v1.5h-2.1zM39.9 521.5h2.1v1.5h-2.1zM48.3 521.5h2.1v1.5h-2.1zM75.6 521.5h2.1v1.5h-2.1zM102.9 521.5h2.1v1.5h-2.1zM226.8 521.5h2.1v1.5h-2.1zM228.9 521.5h2.1v1.5h-2.1zM275.1 521.5h2.1v1.5h-2.1zM4.2 524.5h2.1v1.5h-2.1zM21 524.5h2.1v1.5h-2.1zM50.4 524.5h2.1v1.5h-2.1zM56.7 524.5h2.1v1.5h-2.1zM117.6 524.5h2.1v1.5h-2.1zM153.3 524.5h2.1v1.5h-2.1zM191.1 524.5h2.1v1.5h-2.1zM205.8 524.5h2.1v1.5h-2.1zM233.1 524.5h2.1v1.5h-2.1zM241.5 524.5h2.1v1.5h-2.1zM260.4 524.5h2.1v1.5h-2.1zM266.7 524.5h2.1v1.5h-2.1zM275.1 524.5h2.1v1.5h-2.1zM44.1 527.5h2.1v1.5h-2.1zM224.7 527.5h2.1v1.5h-2.1zM247.8 527.5h2.1v1.5h-2.1zM262.5 527.5h2.1v1.5h-2.1zM281.4 527.5h2.1v1.5h-2.1zM37.8 530.4h2.1v1.5h-2.1zM44.1 530.4h2.1v1.5h-2.1zM46.2 530.4h2.1v1.5h-2.1zM279.3 530.4h2.1v1.5h-2.1zM23.1 533.4h2.1v1.5h-2.1zM25.2 533.4h2.1v1.5h-2.1zM48.3 533.4h2.1v1.5h-2.1zM65.1 533.4h2.1v1.5h-2.1zM75.6 533.4h2.1v1.5h-2.1zM243.6 533.4h2.1v1.5h-2.1zM12.6 536.4h2.1v1.5h-2.1zM18.9 536.4h2.1v1.5h-2.1zM37.8 536.4h2.1v1.5h-2.1zM54.6 536.4h2.1v1.5h-2.1zM138.6 536.4h2.1v1.5h-2.1zM144.9 536.4h2.1v1.5h-2.1zM180.6 536.4h2.1v1.5h-2.1zM302.4 536.4h2.1v1.5h-2.1zM0 539.4h2.1v1.5h-2.1zM8.4 539.4h2.1v1.5h-2.1zM18.9 539.4h2.1v1.5h-2.1zM23.1 539.4h2.1v1.5h-2.1zM44.1 539.4h2.1v1.5h-2.1zM46.2 539.4h2.1v1.5h-2.1zM48.3 539.4h2.1v1.5h-2.1zM56.7 539.4h2.1v1.5h-2.1zM191.1 539.4h2.1v1.5h-2.1zM212.1 539.4h2.1v1.5h-2.1zM218.4 539.4h2.1v1.5h-2.1zM235.2 539.4h2.1v1.5h-2.1zM252 539.4h2.1v1.5h-2.1zM289.8 539.4h2.1v1.5h-2.1zM308.7 539.4h2.1v1.5h-2.1zM10.5 542.4h2.1v1.5h-2.1zM29.4 542.4h2.1v1.5h-2.1zM69.3 542.4h2.1v1.5h-2.1zM207.9 542.4h2.1v1.5h-2.1zM245.7 542.4h2.1v1.5h-2.1zM23.1 545.3h2.1v1.5h-2.1zM39.9 545.3h2.1v1.5h-2.1zM67.2 545.3h2.1v1.5h-2.1zM151.2 545.3h2.1v1.5h-2.1zM189 545.3h2.1v1.5h-2.1zM8.4 548.3h2.1v1.5h-2.1zM18.9 548.3h2.1v1.5h-2.1zM39.9 548.3h2.1v1.5h-2.1zM48.3 548.3h2.1v1.5h-2.1zM56.7 548.3h2.1v1.5h-2.1zM205.8 548.3h2.1v1.5h-2.1zM283.5 548.3h2.1v1.5h-2.1zM10.5 551.3h2.1v1.5h-2.1zM138.6 551.3h2.1v1.5h-2.1zM153.3 551.3h2.1v1.5h-2.1zM186.9 551.3h2.1v1.5h-2.1zM218.4 551.3h2.1v1.5h-2.1zM8.4 554.3h2.1v1.5h-2.1zM14.7 554.3h2.1v1.5h-2.1zM21 554.3h2.1v1.5h-2.1zM29.4 554.3h2.1v1.5h-2.1zM31.5 554.3h2.1v1.5h-2.1zM37.8 554.3h2.1v1.5h-2.1zM44.1 554.3h2.1v1.5h-2.1zM58.8 554.3h2.1v1.5h-2.1zM79.8 554.3h2.1v1.5h-2.1zM102.9 554.3h2.1v1.5h-2.1zM105 554.3h2.1v1.5h-2.1zM111.3 554.3h2.1v1.5h-2.1zM163.8 554.3h2.1v1.5h-2.1zM170.1 554.3h2.1v1.5h-2.1zM195.3 554.3h2.1v1.5h-2.1zM222.6 554.3h2.1v1.5h-2.1zM237.3 554.3h2.1v1.5h-2.1zM302.4 554.3h2.1v1.5h-2.1zM31.5 557.3h2.1v1.5h-2.1zM46.2 557.3h2.1v1.5h-2.1zM48.3 557.3h2.1v1.5h-2.1zM58.8 557.3h2.1v1.5h-2.1zM67.2 557.3h2.1v1.5h-2.1zM75.6 557.3h2.1v1.5h-2.1zM121.8 557.3h2.1v1.5h-2.1zM178.5 557.3h2.1v1.5h-2.1zM182.7 557.3h2.1v1.5h-2.1zM252 557.3h2.1v1.5h-2.1zM273 557.3h2.1v1.5h-2.1zM283.5 557.3h2.1v1.5h-2.1zM298.2 557.3h2.1v1.5h-2.1zM23.1 560.2h2.1v1.5h-2.1zM48.3 560.2h2.1v1.5h-2.1zM168 560.2h2.1v1.5h-2.1zM273 560.2h2.1v1.5h-2.1zM302.4 560.2h2.1v1.5h-2.1zM18.9 563.2h2.1v1.5h-2.1zM63 563.2h2.1v1.5h-2.1zM88.2 563.2h2.1v1.5h-2.1zM119.7 563.2h2.1v1.5h-2.1zM308.7 563.2h2.1v1.5h-2.1zM102.9 566.2h2.1v1.5h-2.1zM132.3 566.2h2.1v1.5h-2.1zM216.3 566.2h2.1v1.5h-2.1zM245.7 566.2h2.1v1.5h-2.1zM18.9 569.2h2.1v1.5h-2.1zM121.8 569.2h2.1v1.5h-2.1zM128.1 569.2h2.1v1.5h-2.1zM147 569.2h2.1v1.5h-2.1zM159.6 569.2h2.1v1.5h-2.1zM170.1 569.2h2.1v1.5h-2.1zM308.7 569.2h2.1v1.5h-2.1zM44.1 572.2h2.1v1.5h-2.1zM144.9 572.2h2.1v1.5h-2.1zM159.6 572.2h2.1v1.5h-2.1zM161.7 572.2h2.1v1.5h-2.1zM226.8 572.2h2.1v1.5h-2.1zM239.4 572.2h2.1v1.5h-2.1zM279.3 572.2h2.1v1.5h-2.1zM48.3 575.1h2.1v1.5h-2.1zM65.1 575.1h2.1v1.5h-2.1zM151.2 575.1h2.1v1.5h-2.1zM189 575.1h2.1v1.5h-2.1zM193.2 575.1h2.1v1.5h-2.1zM233.1 575.1h2.1v1.5h-2.1zM241.5 575.1h2.1v1.5h-2.1zM256.2 575.1h2.1v1.5h-2.1zM294 575.1h2.1v1.5h-2.1zM29.4 578.1h2.1v1.5h-2.1zM46.2 578.1h2.1v1.5h-2.1zM77.7 578.1h2.1v1.5h-2.1zM98.7 578.1h2.1v1.5h-2.1zM111.3 578.1h2.1v1.5h-2.1zM239.4 578.1h2.1v1.5h-2.1zM260.4 578.1h2.1v1.5h-2.1zM266.7 578.1h2.1v1.5h-2.1zM298.2 578.1h2.1v1.5h-2.1zM8.4 581.1h2.1v1.5h-2.1zM10.5 581.1h2.1v1.5h-2.1zM25.2 581.1h2.1v1.5h-2.1zM31.5 581.1h2.1v1.5h-2.1zM33.6 581.1h2.1v1.5h-2.1zM39.9 581.1h2.1v1.5h-2.1zM58.8 581.1h2.1v1.5h-2.1zM67.2 581.1h2.1v1.5h-2.1zM75.6 581.1h2.1v1.5h-2.1zM92.4 581.1h2.1v1.5h-2.1zM98.7 581.1h2.1v1.5h-2.1zM159.6 581.1h2.1v1.5h-2.1zM161.7 581.1h2.1v1.5h-2.1zM201.6 581.1h2.1v1.5h-2.1zM212.1 581.1h2.1v1.5h-2.1zM220.5 581.1h2.1v1.5h-2.1zM235.2 581.1h2.1v1.5h-2.1zM247.8 581.1h2.1v1.5h-2.1zM270.9 581.1h2.1v1.5h-2.1zM279.3 581.1h2.1v1.5h-2.1zM304.5 581.1h2.1v1.5h-2.1zM306.6 581.1h2.1v1.5h-2.1zM29.4 584.1h2.1v1.5h-2.1zM37.8 584.1h2.1v1.5h-2.1zM163.8 584.1h2.1v1.5h-2.1zM237.3 584.1h2.1v1.5h-2.1zM270.9 584.1h2.1v1.5h-2.1zM308.7 584.1h2.1v1.5h-2.1zM312.9 584.1h1.1v1.5h-1.1zM29.4 587.1h2.1v1.5h-2.1zM33.6 587.1h2.1v1.5h-2.1zM63 587.1h2.1v1.5h-2.1zM69.3 587.1h2.1v1.5h-2.1zM73.5 587.1h2.1v1.5h-2.1zM75.6 587.1h2.1v1.5h-2.1zM111.3 587.1h2.1v1.5h-2.1zM159.6 587.1h2.1v1.5h-2.1zM193.2 587.1h2.1v1.5h-2.1zM197.4 587.1h2.1v1.5h-2.1zM207.9 587.1h2.1v1.5h-2.1zM226.8 587.1h2.1v1.5h-2.1zM233.1 587.1h2.1v1.5h-2.1zM10.5 590h2.1v1.5h-2.1zM18.9 590h2.1v1.5h-2.1zM21 590h2.1v1.5h-2.1zM37.8 590h2.1v1.5h-2.1zM44.1 590h2.1v1.5h-2.1zM90.3 590h2.1v1.5h-2.1zM117.6 590h2.1v1.5h-2.1zM136.5 590h2.1v1.5h-2.1zM170.1 590h2.1v1.5h-2.1zM210 590h2.1v1.5h-2.1zM237.3 590h2.1v1.5h-2.1zM275.1 590h2.1v1.5h-2.1zM279.3 590h2.1v1.5h-2.1zM289.8 590h2.1v1.5h-2.1zM298.2 590h2.1v1.5h-2.1zM308.7 590h2.1v1.5h-2.1zM8.4 593h2.1v1.5h-2.1zM67.2 593h2.1v1.5h-2.1zM151.2 593h2.1v1.5h-2.1zM191.1 593h2.1v1.5h-2.1zM212.1 593h2.1v1.5h-2.1zM8.4 596h2.1v1.5h-2.1zM12.6 596h2.1v1.5h-2.1zM48.3 596h2.1v1.5h-2.1zM54.6 596h2.1v1.5h-2.1zM81.9 596h2.1v1.5h-2.1zM98.7 596h2.1v1.5h-2.1zM105 596h2.1v1.5h-2.1zM111.3 596h2.1v1.5h-2.1zM159.6 596h2.1v1.5h-2.1zM197.4 596h2.1v1.5h-2.1zM222.6 596h2.1v1.5h-2.1zM285.6 596h2.1v1.5h-2.1zM287.7 596h2.1v1.5h-2.1zM304.5 596h2.1v1.5h-2.1zM8.4 599h2.1v1.5h-2.1zM21 599h2.1v1.5h-2.1zM39.9 599h2.1v1.5h-2.1zM50.4 599h2.1v1.5h-2.1zM65.1 599h2.1v1.5h-2.1zM69.3 599h2.1v1.5h-2.1zM100.8 599h2.1v1.5h-2.1zM134.4 599h2.1v1.5h-2.1zM138.6 599h2.1v1.5h-2.1zM140.7 599h2.1v1.5h-2.1zM163.8 599h2.1v1.5h-2.1zM191.1 599h2.1v1.5h-2.1zM264.6 599h2.1v1.5h-2.1zM270.9 599h2.1v1.5h-2.1zM294 599h2.1v1.5h-2.1zM308.7 599h2.1v1.5h-2.1zM2.1 602h2.1v1.5h-2.1zM21 602h2.1v1.5h-2.1zM130.2 602h2.1v1.5h-2.1zM252 602h2.1v1.5h-2.1zM260.4 602h2.1v1.5h-2.1zM281.4 602h2.1v1.5h-2.1zM102.9 604.9h2.1v1.5h-2.1zM161.7 604.9h2.1v1.5h-2.1zM201.6 604.9h2.1v1.5h-2.1zM212.1 604.9h2.1v1.5h-2.1zM252 604.9h2.1v1.5h-2.1zM270.9 604.9h2.1v1.5h-2.1zM23.1 607.9h2.1v1.5h-2.1zM180.6 607.9h2.1v1.5h-2.1zM239.4 607.9h2.1v1.5h-2.1zM260.4 607.9h2.1v1.5h-2.1zM29.4 610.9h2.1v1.5h-2.1zM31.5 610.9h2.1v1.5h-2.1zM33.6 610.9h2.1v1.5h-2.1zM44.1 610.9h2.1v1.5h-2.1zM111.3 610.9h2.1v1.5h-2.1zM176.4 610.9h2.1v1.5h-2.1zM180.6 610.9h2.1v1.5h-2.1zM186.9 610.9h2.1v1.5h-2.1zM218.4 610.9h2.1v1.5h-2.1zM268.8 610.9h2.1v1.5h-2.1zM281.4 610.9h2.1v1.5h-2.1zM2.1 613.9h2.1v1.5h-2.1zM8.4 613.9h2.1v1.5h-2.1zM21 613.9h2.1v1.5h-2.1zM23.1 613.9h2.1v1.5h-2.1zM37.8 613.9h2.1v1.5h-2.1zM46.2 613.9h2.1v1.5h-2.1zM50.4 613.9h2.1v1.5h-2.1zM65.1 613.9h2.1v1.5h-2.1zM69.3 613.9h2.1v1.5h-2.1zM79.8 613.9h2.1v1.5h-2.1zM88.2 613.9h2.1v1.5h-2.1zM94.5 613.9h2.1v1.5h-2.1zM98.7 613.9h2.1v1.5h-2.1zM151.2 613.9h2.1v1.5h-2.1zM159.6 613.9h2.1v1.5h-2.1zM163.8 613.9h2.1v1.5h-2.1zM191.1 613.9h2.1v1.5h-2.1zM199.5 613.9h2.1v1.5h-2.1zM207.9 613.9h2.1v1.5h-2.1zM216.3 613.9h2.1v1.5h-2.1zM283.5 613.9h2.1v1.5h-2.1zM289.8 613.9h2.1v1.5h-2.1zM0 616.9h2.1v1.5h-2.1zM25.2 616.9h2.1v1.5h-2.1zM90.3 616.9h2.1v1.5h-2.1zM178.5 616.9h2.1v1.5h-2.1zM275.1 616.9h2.1v1.5h-2.1zM302.4 616.9h2.1v1.5h-2.1zM0 619.8h2.1v1.5h-2.1zM18.9 619.8h2.1v1.5h-2.1zM21 619.8h2.1v1.5h-2.1zM54.6 619.8h2.1v1.5h-2.1zM132.3 619.8h2.1v1.5h-2.1zM151.2 619.8h2.1v1.5h-2.1zM153.3 619.8h2.1v1.5h-2.1zM233.1 619.8h2.1v1.5h-2.1zM260.4 619.8h2.1v1.5h-2.1zM14.7 622.8h2.1v1.5h-2.1zM18.9 622.8h2.1v1.5h-2.1zM33.6 622.8h2.1v1.5h-2.1zM44.1 622.8h2.1v1.5h-2.1zM98.7 622.8h2.1v1.5h-2.1zM128.1 622.8h2.1v1.5h-2.1zM138.6 622.8h2.1v1.5h-2.1zM159.6 622.8h2.1v1.5h-2.1zM174.3 622.8h2.1v1.5h-2.1zM195.3 622.8h2.1v1.5h-2.1zM254.1 622.8h2.1v1.5h-2.1zM266.7 622.8h2.1v1.5h-2.1zM270.9 622.8h2.1v1.5h-2.1zM306 53.6h3v1.6h-3zM184.6 53.6h1.3v1.6h-1.3zM220.2 53.6h2.4v1.6h-2.4zM232.8 53.6h2.2v1.6h-2.2zM179.9 53.6h3.7v1.6h-3.7zM213.7 56.6h3.6v1.6h-3.6zM266.1 56.6h1.8v1.6h-1.8zM201.7 56.6h1.3v1.6h-1.3zM254.3 56.6h1.1v1.6h-1.1zM213.9 59.6h2.7v1.6h-2.7zM219.6 59.6h2.7v1.6h-2.7zM267.8 59.6h1.2v1.6h-1.2zM301.3 59.6h2v1.6h-2zM192 59.6h1.4v1.6h-1.4zM252.2 59.6h3.2v1.6h-3.2zM227.5 62.6h2.7v1.6h-2.7zM184.8 62.6h2.4v1.6h-2.4zM257.6 62.6h2.4v1.6h-2.4zM304.7 62.6h1.1v1.6h-1.1zM300.8 62.6h1.2v1.6h-1.2zM239.5 62.6h1.8v1.6h-1.8zM239.7 62.6h2.7v1.6h-2.7zM267.1 65.6h2.6v1.6h-2.6zM160.4 65.6h1.5v1.6h-1.5zM258.5 65.6h2.6v1.6h-2.6zM164.4 65.6h1.4v1.6h-1.4zM199.9 65.6h1.8v1.6h-1.8zM280.4 65.6h2.9v1.6h-2.9zM222.4 65.6h2.9v1.6h-2.9zM292.7 65.6h1.7v1.6h-1.7zM226 68.5h1.6v1.6h-1.6zM241 68.5h3.4v1.6h-3.4zM296 68.5h1.3v1.6h-1.3zM226.5 68.5h1.5v1.6h-1.5zM266.8 68.5h3.1v1.6h-3.1zM235.9 68.5h3.8v1.6h-3.8zM180.9 68.5h4v1.6h-4zM284 68.5h2.3v1.6h-2.3zM283.4 71.5h3v1.6h-3zM281.3 71.5h1.9v1.6h-1.9zM293.3 71.5h3.4v1.6h-3.4zM281.9 71.5h2.1v1.6h-2.1zM224.3 71.5h3.4v1.6h-3.4zM294.6 71.5h2.5v1.6h-2.5zM276.9 74.5h2.2v1.6h-2.2zM167.6 74.5h3.3v1.6h-3.3zM201.7 74.5h2.4v1.6h-2.4zM162.5 74.5h1.5v1.6h-1.5zM229.5 74.5h1v1.6h-1zM267.7 74.5h1.1v1.6h-1.1zM155.6 77.5h1.9v1.6h-1.9zM268.7 77.5h1.3v1.6h-1.3zM184.3 77.5h2.6v1.6h-2.6zM270.6 77.5h2.7v1.6h-2.7zM202.3 77.5h3.7v1.6h-3.7zM161.8 80.5h2.4v1.6h-2.4zM223.3 80.5h1.1v1.6h-1.1zM234.9 80.5h1.4v1.6h-1.4zM172.5 83.4h3.8v1.6h-3.8zM291.9 83.4h1.5v1.6h-1.5zM243.7 83.4h1.4v1.6h-1.4zM251.5 83.4h3.3v1.6h-3.3zM214.6 86.4h3.8v1.6h-3.8zM286.7 86.4h2.8v1.6h-2.8zM271 86.4h1.6v1.6h-1.6zM174.7 86.4h1.9v1.6h-1.9zM169.8 86.4h3.7v1.6h-3.7zM310.8 89.4h1.9v1.6h-1.9zM251.4 89.4h2.4v1.6h-2.4zM250.4 89.4h2.1v1.6h-2.1zM187.6 89.4h1.5v1.6h-1.5zM206.7 89.4h2.6v1.6h-2.6zM260.2 89.4h2.8v1.6h-2.8zM154.7 89.4h3.6v1.6h-3.6zM188.4 89.4h2.6v1.6h-2.6zM254.6 89.4h2.3v1.6h-2.3zM157.7 89.4h2.9v1.6h-2.9zM38 295h3.5v1.6h-3.5zM8.5 295h2.6v1.6h-2.6zM59.5 295h4v1.6h-4zM65 298h1.3v1.6h-1.3zM56.3 298h2.1v1.6h-2.1zM28.4 301h2.6v1.6h-2.6zM78.6 301h3.1v1.6h-3.1zM3.2 304h2.2v1.6h-2.2zM16.7 304h1.8v1.6h-1.8zM41.3 306.9h3.6v1.6h-3.6zM13.3 306.9h2v1.6h-2zM54.2 309.9h2.2v1.6h-2.2zM60.9 315.9h3.8v1.6h-3.8zM13.2 318.9h3.4v1.6h-3.4zM54.2 324.8h3.7v1.6h-3.7zM79.2 324.8h1.2v1.6h-1.2zM44.8 327.8h1.6v1.6h-1.6zM4 327.8h3.2v1.6h-3.2zM45.5 327.8h1.5v1.6h-1.5zM67.3 327.8h1.6v1.6h-1.6zM21.5 330.8h2.8v1.6h-2.8zM62.8 336.7h1.2v1.6h-1.2zM27.6 339.7h1.2v1.6h-1.2zM40.3 342.7h1.8v1.6h-1.8zM51.8 345.7h2.7v1.6h-2.7zM2.9 345.7h2.6v1.6h-2.6zM73 351.6h1.3v1.6h-1.3zM17.2 354.6h1.4v1.6h-1.4zM20.7 354.6h1.6v1.6h-1.6zM26.9 357.6h3v1.6h-3zM48 357.6h3v1.6h-3zM23.3 360.6h4v1.6h-4zM31.2 360.6h1.9v1.6h-1.9zM33.2 366.5h1.7v1.6h-1.7zM75 366.5h1.2v1.6h-1.2zM48.1 366.5h3v1.6h-3zM2.4 366.5h3.8v1.6h-3.8zM33.6 369.5h4v1.6h-4zM65.3 372.5h1.3v1.6h-1.3zM35 372.5h3.8v1.6h-3.8zM30 375.5h2.7v1.6h-2.7zM11.5 375.5h2.3v1.6h-2.3zM75 378.5h3v1.6h-3zM45 381.4h3.8v1.6h-3.8zM52.7 381.4h4v1.6h-4zM24.1 387.4h2v1.6h-2zM52 387.4h2.4v1.6h-2.4zM19.1 387.4h3.1v1.6h-3.1zM29.5 390.4h3.2v1.6h-3.2zM8.5 390.4h1.4v1.6h-1.4zM23.4 390.4h1.6v1.6h-1.6zM77.9 393.4h2.9v1.6h-2.9zM45.8 399.3h2.5v1.6h-2.5zM6.8 402.3h2.1v1.6h-2.1zM45.8 402.3h3.1v1.6h-3.1zM57.9 402.3h3.8v1.6h-3.8zM27.8 405.3h1v1.6h-1zM47.2 408.3h3.1v1.6h-3.1zM40.1 408.3h3.2v1.6h-3.2zM14 411.2h2v1.6h-2zM17.5 411.2h3.9v1.6h-3.9zM46 417.2h2.9v1.6h-2.9zM13.8 417.2h1.4v1.6h-1.4zM21.5 479.8h2.7v1.6h-2.7zM43 488.7h2.5v1.6h-2.5zM15.6 494.7h2.2v1.6h-2.2zM10.5 494.7h2.8v1.6h-2.8zM19.4 497.7h1.4v1.6h-1.4zM35.9 500.6h1.3v1.6h-1.3zM10.9 500.6h1.1v1.6h-1.1zM28.1 503.6h1.4v1.6h-1.4zM2.1 506.6h4v1.6h-4zM19.7 512.6h1.4v1.6h-1.4zM47.4 512.6h2.4v1.6h-2.4zM7.6 515.5h2.8v1.6h-2.8zM2.9 515.5h2v1.6h-2zM34.6 518.5h3.8v1.6h-3.8zM40.7 518.5h3.4v1.6h-3.4zM40.8 518.5h2.3v1.6h-2.3zM17.8 521.5h4v1.6h-4zM19.6 524.5h1.3v1.6h-1.3zM1.5 524.5h3.1v1.6h-3.1zM43.4 527.5h3.8v1.6h-3.8zM43.4 536.4h2.9v1.6h-2.9zM31.4 539.4h1.8v1.6h-1.8zM34.3 542.4h1.9v1.6h-1.9zM12.8 545.3h1.7v1.6h-1.7zM15.2 548.3h1v1.6h-1zM12.9 548.3h3v1.6h-3zM39.1 554.3h3.7v1.6h-3.7zM15.2 557.3h1.7v1.6h-1.7zM19.6 557.3h3.9v1.6h-3.9zM106 1.3h15.5v3h-15.5zM106 4.3h15.5v3h-15.5zM106 7.3h15.5v3h-15.5zM106 10.2h15.5v3h-15.5zM106 13.2h15.5v3h-15.5zM106 16.2h15.5v3h-15.5zM107.1 19.5h14.4v3h-14.4zM113.7 22.5h7.8v3h-7.8zM123 231h14.2v3h-14.2zM123 234h14.2v3h-14.2zM123 237h14.2v3h-14.2zM123 239.9h14.2v3h-14.2zM123 242.9h14.2v3h-14.2zM255 295.9h7.3v3h-7.3zM255 298.9h8.4v3h-8.4zM255 301.9h9.3v3h-9.3zM255 304.8h7.8v3h-7.8zM255 307.8h9.8v3h-9.8zM255 310.8h9.6v3h-9.6zM255 313.8h8.4v3h-8.4zM255 316.8h7.8v3h-7.8zM255 319.7h9.2v3h-9.2zM255 322.7h7.8v3h-7.8zM255 325.7h9.1v3h-9.1zM255 328.7h9.2v3h-9.2zM255 331.7h7v3h-7zM255 334.6h7.4v3h-7.4zM255 337.6h7.8v3h-7.8zM255 340.6h8.6v3h-8.6zM277.2 296.8h9.8v3h-9.8zM277.2 299.8h10.4v3h-10.4zM277.2 302.8h11.6v3h-11.6zM277.2 305.7h9.9v3h-9.9zM277.2 308.7h9.5v3h-9.5zM277.2 311.7h11.7v3h-11.7zM277.2 343.4h11.7v3h-11.7zM277.2 346.4h9.2v3h-9.2zM277.2 349.4h12.4v3h-12.4zM277.2 352.3h9v3h-9zM277.2 355.3h9.2v3h-9.2zM277.2 358.3h12.1v3h-12.1zM277.2 361.3h9v3h-9zM277.2 364.3h9.9v3h-9.9zM277.2 367.2h9.1v3h-9.1z"/><path fill="#ffffff" fill-opacity="0.3" d="M0 0h2.1v1.5h-2.1zM14.7 0h2.1v1.5h-2.1zM39.9 0h2.1v1.5h-2.1zM56.7 0h2.1v1.5h-2.1zM65.1 0h2.1v1.5h-2.1zM100.8 0h2.1v1.5h-2.1zM128.1 0h2.1v1.5h-2.1zM140.7 0h2.1v1.5h-2.1zM155.4 0h2.1v1.5h-2.1zM168 0h2.1v1.5h-2.1zM170.1 0h2.1v1.5h-2.1zM195.3 0h2.1v1.5h-2.1zM197.4 0h2.1v1.5h-2.1zM228.9 0h2.1v1.5h-2.1zM247.8 0h2.1v1.5h-2.1zM283.5 0h2.1v1.5h-2.1zM0 3h2.1v1.5h-2.1zM21 3h2.1v1.5h-2.1zM29.4 3h2.1v1.5h-2.1zM37.8 3h2.1v1.5h-2.1zM75.6 3h2.1v1.5h-2.1zM132.3 3h2.1v1.5h-2.1zM138.6 3h2.1v1.5h-2.1zM151.2 3h2.1v1.5h-2.1zM191.1 3h2.1v1.5h-2.1zM199.5 3h2.1v1.5h-2.1zM201.6 3h2.1v1.5h-2.1zM224.7 3h2.1v1.5h-2.1zM226.8 3h2.1v1.5h-2.1zM237.3 3h2.1v1.5h-2.1zM243.6 3h2.1v1.5h-2.1zM266.7 3h2.1v1.5h-2.1zM306.6 3h2.1v1.5h-2.1zM310.8 3h2.1v1.5h-2.1zM2.1 6h2.1v1.5h-2.1zM4.2 6h2.1v1.5h-2.1zM31.5 6h2.1v1.5h-2.1zM37.8 6h2.1v1.5h-2.1zM67.2 6h2.1v1.5h-2.1zM77.7 6h2.1v1.5h-2.1zM94.5 6h2.1v1.5h-2.1zM111.3 6h2.1v1.5h-2.1zM113.4 6h2.1v1.5h-2.1zM132.3 6h2.1v1.5h-2.1zM140.7 6h2.1v1.5h-2.1zM155.4 6h2.1v1.5h-2.1zM165.9 6h2.1v1.5h-2.1zM199.5 6h2.1v1.5h-2.1zM218.4 6h2.1v1.5h-2.1zM233.1 6h2.1v1.5h-2.1zM279.3 6h2.1v1.5h-2.1zM283.5 6h2.1v1.5h-2.1zM14.7 8.9h2.1v1.5h-2.1zM18.9 8.9h2.1v1.5h-2.1zM31.5 8.9h2.1v1.5h-2.1zM50.4 8.9h2.1v1.5h-2.1zM54.6 8.9h2.1v1.5h-2.1zM58.8 8.9h2.1v1.5h-2.1zM67.2 8.9h2.1v1.5h-2.1zM105 8.9h2.1v1.5h-2.1zM107.1 8.9h2.1v1.5h-2.1zM113.4 8.9h2.1v1.5h-2.1zM119.7 8.9h2.1v1.5h-2.1zM130.2 8.9h2.1v1.5h-2.1zM132.3 8.9h2.1v1.5h-2.1zM134.4 8.9h2.1v1.5h-2.1zM165.9 8.9h2.1v1.5h-2.1zM174.3 8.9h2.1v1.5h-2.1zM189 8.9h2.1v1.5h-2.1zM195.3 8.9h2.1v1.5h-2.1zM212.1 8.9h2.1v1.5h-2.1zM216.3 8.9h2.1v1.5h-2.1zM220.5 8.9h2.1v1.5h-2.1zM228.9 8.9h2.1v1.5h-2.1zM233.1 8.9h2.1v1.5h-2.1zM235.2 8.9h2.1v1.5h-2.1zM237.3 8.9h2.1v1.5h-2.1zM241.5 8.9h2.1v1.5h-2.1zM252 8.9h2.1v1.5h-2.1zM254.1 8.9h2.1v1.5h-2.1zM260.4 8.9h2.1v1.5h-2.1zM262.5 8.9h2.1v1.5h-2.1zM264.6 8.9h2.1v1.5h-2.1zM266.7 8.9h2.1v1.5h-2.1zM283.5 8.9h2.1v1.5h-2.1zM289.8 8.9h2.1v1.5h-2.1zM302.4 8.9h2.1v1.5h-2.1zM312.9 8.9h1.1v1.5h-1.1zM2.1 11.9h2.1v1.5h-2.1zM63 11.9h2.1v1.5h-2.1zM77.7 11.9h2.1v1.5h-2.1zM180.6 11.9h2.1v1.5h-2.1zM210 11.9h2.1v1.5h-2.1zM216.3 11.9h2.1v1.5h-2.1zM2.1 14.9h2.1v1.5h-2.1zM33.6 14.9h2.1v1.5h-2.1zM54.6 14.9h2.1v1.5h-2.1zM56.7 14.9h2.1v1.5h-2.1zM75.6 14.9h2.1v1.5h-2.1zM81.9 14.9h2.1v1.5h-2.1zM94.5 14.9h2.1v1.5h-2.1zM100.8 14.9h2.1v1.5h-2.1zM105 14.9h2.1v1.5h-2.1zM113.4 14.9h2.1v1.5h-2.1zM128.1 14.9h2.1v1.5h-2.1zM132.3 14.9h2.1v1.5h-2.1zM140.7 14.9h2.1v1.5h-2.1zM144.9 14.9h2.1v1.5h-2.1zM147 14.9h2.1v1.5h-2.1zM151.2 14.9h2.1v1.5h-2.1zM155.4 14.9h2.1v1.5h-2.1zM161.7 14.9h2.1v1.5h-2.1zM182.7 14.9h2.1v1.5h-2.1zM189 14.9h2.1v1.5h-2.1zM212.1 14.9h2.1v1.5h-2.1zM222.6 14.9h2.1v1.5h-2.1zM228.9 14.9h2.1v1.5h-2.1zM241.5 14.9h2.1v1.5h-2.1zM243.6 14.9h2.1v1.5h-2.1zM260.4 14.9h2.1v1.5h-2.1zM281.4 14.9h2.1v1.5h-2.1zM285.6 14.9h2.1v1.5h-2.1zM287.7 14.9h2.1v1.5h-2.1zM289.8 14.9h2.1v1.5h-2.1zM56.7 17.9h2.1v1.5h-2.1zM92.4 17.9h2.1v1.5h-2.1zM111.3 17.9h2.1v1.5h-2.1zM186.9 17.9h2.1v1.5h-2.1zM199.5 17.9h2.1v1.5h-2.1zM226.8 17.9h2.1v1.5h-2.1zM285.6 17.9h2.1v1.5h-2.1zM310.8 17.9h2.1v1.5h-2.1zM2.1 20.9h2.1v1.5h-2.1zM119.7 20.9h2.1v1.5h-2.1zM128.1 20.9h2.1v1.5h-2.1zM174.3 20.9h2.1v1.5h-2.1zM224.7 20.9h2.1v1.5h-2.1zM37.8 23.8h2.1v1.5h-2.1zM65.1 23.8h2.1v1.5h-2.1zM113.4 23.8h2.1v1.5h-2.1zM174.3 23.8h2.1v1.5h-2.1zM220.5 23.8h2.1v1.5h-2.1zM48.3 26.8h2.1v1.5h-2.1zM73.5 26.8h2.1v1.5h-2.1zM77.7 26.8h2.1v1.5h-2.1zM113.4 26.8h2.1v1.5h-2.1zM163.8 26.8h2.1v1.5h-2.1zM63 29.8h2.1v1.5h-2.1zM151.2 29.8h2.1v1.5h-2.1zM170.1 29.8h2.1v1.5h-2.1zM191.1 29.8h2.1v1.5h-2.1zM268.8 29.8h2.1v1.5h-2.1zM285.6 29.8h2.1v1.5h-2.1zM4.2 32.8h2.1v1.5h-2.1zM65.1 32.8h2.1v1.5h-2.1zM79.8 32.8h2.1v1.5h-2.1zM105 32.8h2.1v1.5h-2.1zM113.4 32.8h2.1v1.5h-2.1zM155.4 32.8h2.1v1.5h-2.1zM193.2 32.8h2.1v1.5h-2.1zM239.4 32.8h2.1v1.5h-2.1zM260.4 32.8h2.1v1.5h-2.1zM273 32.8h2.1v1.5h-2.1zM285.6 32.8h2.1v1.5h-2.1zM23.1 35.8h2.1v1.5h-2.1zM81.9 35.8h2.1v1.5h-2.1zM279.3 35.8h2.1v1.5h-2.1zM298.2 35.8h2.1v1.5h-2.1zM0 38.7h2.1v1.5h-2.1zM140.7 38.7h2.1v1.5h-2.1zM174.3 38.7h2.1v1.5h-2.1zM176.4 38.7h2.1v1.5h-2.1zM203.7 38.7h2.1v1.5h-2.1zM220.5 38.7h2.1v1.5h-2.1zM233.1 38.7h2.1v1.5h-2.1zM279.3 38.7h2.1v1.5h-2.1zM283.5 38.7h2.1v1.5h-2.1zM285.6 38.7h2.1v1.5h-2.1zM102.9 41.7h2.1v1.5h-2.1zM138.6 41.7h2.1v1.5h-2.1zM199.5 41.7h2.1v1.5h-2.1zM243.6 41.7h2.1v1.5h-2.1zM254.1 41.7h2.1v1.5h-2.1zM287.7 41.7h2.1v1.5h-2.1zM298.2 41.7h2.1v1.5h-2.1zM0 44.7h2.1v1.5h-2.1zM12.6 44.7h2.1v1.5h-2.1zM56.7 44.7h2.1v1.5h-2.1zM121.8 44.7h2.1v1.5h-2.1zM195.3 44.7h2.1v1.5h-2.1zM245.7 44.7h2.1v1.5h-2.1zM289.8 44.7h2.1v1.5h-2.1zM304.5 44.7h2.1v1.5h-2.1zM37.8 47.7h2.1v1.5h-2.1zM67.2 47.7h2.1v1.5h-2.1zM105 47.7h2.1v1.5h-2.1zM140.7 47.7h2.1v1.5h-2.1zM159.6 47.7h2.1v1.5h-2.1zM195.3 47.7h2.1v1.5h-2.1zM197.4 47.7h2.1v1.5h-2.1zM218.4 47.7h2.1v1.5h-2.1zM222.6 47.7h2.1v1.5h-2.1zM239.4 47.7h2.1v1.5h-2.1zM285.6 47.7h2.1v1.5h-2.1zM287.7 47.7h2.1v1.5h-2.1zM84 50.7h2.1v1.5h-2.1zM247.8 50.7h2.1v1.5h-2.1zM279.3 50.7h2.1v1.5h-2.1zM306.6 50.7h2.1v1.5h-2.1zM25.2 53.6h2.1v1.5h-2.1zM132.3 53.6h2.1v1.5h-2.1zM207.9 53.6h2.1v1.5h-2.1zM268.8 53.6h2.1v1.5h-2.1zM283.5 53.6h2.1v1.5h-2.1zM63 56.6h2.1v1.5h-2.1zM88.2 56.6h2.1v1.5h-2.1zM216.3 56.6h2.1v1.5h-2.1zM226.8 56.6h2.1v1.5h-2.1zM285.6 56.6h2.1v1.5h-2.1zM312.9 56.6h1.1v1.5h-1.1zM37.8 59.6h2.1v1.5h-2.1zM294 59.6h2.1v1.5h-2.1zM31.5 62.6h2.1v1.5h-2.1zM44.1 62.6h2.1v1.5h-2.1zM50.4 62.6h2.1v1.5h-2.1zM75.6 62.6h2.1v1.5h-2.1zM155.4 62.6h2.1v1.5h-2.1zM176.4 62.6h2.1v1.5h-2.1zM18.9 65.6h2.1v1.5h-2.1zM21 65.6h2.1v1.5h-2.1zM119.7 65.6h2.1v1.5h-2.1zM207.9 65.6h2.1v1.5h-2.1zM245.7 65.6h2.1v1.5h-2.1zM273 65.6h2.1v1.5h-2.1zM102.9 68.5h2.1v1.5h-2.1zM136.5 68.5h2.1v1.5h-2.1zM207.9 68.5h2.1v1.5h-2.1zM233.1 68.5h2.1v1.5h-2.1zM241.5 68.5h2.1v1.5h-2.1zM281.4 68.5h2.1v1.5h-2.1zM289.8 68.5h2.1v1.5h-2.1zM14.7 71.5h2.1v1.5h-2.1zM54.6 71.5h2.1v1.5h-2.1zM113.4 71.5h2.1v1.5h-2.1zM119.7 71.5h2.1v1.5h-2.1zM170.1 71.5h2.1v1.5h-2.1zM254.1 71.5h2.1v1.5h-2.1zM29.4 74.5h2.1v1.5h-2.1zM77.7 74.5h2.1v1.5h-2.1zM111.3 74.5h2.1v1.5h-2.1zM153.3 74.5h2.1v1.5h-2.1zM180.6 74.5h2.1v1.5h-2.1zM218.4 74.5h2.1v1.5h-2.1zM226.8 74.5h2.1v1.5h-2.1zM283.5 74.5h2.1v1.5h-2.1zM308.7 74.5h2.1v1.5h-2.1zM39.9 77.5h2.1v1.5h-2.1zM48.3 77.5h2.1v1.5h-2.1zM67.2 77.5h2.1v1.5h-2.1zM75.6 77.5h2.1v1.5h-2.1zM77.7 77.5h2.1v1.5h-2.1zM105 77.5h2.1v1.5h-2.1zM128.1 77.5h2.1v1.5h-2.1zM134.4 77.5h2.1v1.5h-2.1zM165.9 77.5h2.1v1.5h-2.1zM186.9 77.5h2.1v1.5h-2.1zM193.2 77.5h2.1v1.5h-2.1zM226.8 77.5h2.1v1.5h-2.1zM245.7 77.5h2.1v1.5h-2.1zM10.5 80.5h2.1v1.5h-2.1zM44.1 80.5h2.1v1.5h-2.1zM138.6 80.5h2.1v1.5h-2.1zM245.7 80.5h2.1v1.5h-2.1zM153.3 83.4h2.1v1.5h-2.1zM170.1 83.4h2.1v1.5h-2.1zM264.6 83.4h2.1v1.5h-2.1zM294 83.4h2.1v1.5h-2.1zM304.5 83.4h2.1v1.5h-2.1zM25.2 86.4h2.1v1.5h-2.1zM50.4 86.4h2.1v1.5h-2.1zM107.1 86.4h2.1v1.5h-2.1zM132.3 86.4h2.1v1.5h-2.1zM134.4 86.4h2.1v1.5h-2.1zM147 86.4h2.1v1.5h-2.1zM197.4 86.4h2.1v1.5h-2.1zM207.9 86.4h2.1v1.5h-2.1zM222.6 86.4h2.1v1.5h-2.1zM287.7 86.4h2.1v1.5h-2.1zM304.5 86.4h2.1v1.5h-2.1zM25.2 89.4h2.1v1.5h-2.1zM54.6 89.4h2.1v1.5h-2.1zM63 89.4h2.1v1.5h-2.1zM69.3 89.4h2.1v1.5h-2.1zM189 89.4h2.1v1.5h-2.1zM207.9 89.4h2.1v1.5h-2.1zM153.3 92.4h2.1v1.5h-2.1zM201.6 92.4h2.1v1.5h-2.1zM252 92.4h2.1v1.5h-2.1zM270.9 92.4h2.1v1.5h-2.1zM54.6 95.4h2.1v1.5h-2.1zM98.7 95.4h2.1v1.5h-2.1zM228.9 95.4h2.1v1.5h-2.1zM174.3 98.3h2.1v1.5h-2.1zM260.4 98.3h2.1v1.5h-2.1zM270.9 98.3h2.1v1.5h-2.1zM44.1 101.3h2.1v1.5h-2.1zM84 101.3h2.1v1.5h-2.1zM111.3 101.3h2.1v1.5h-2.1zM270.9 101.3h2.1v1.5h-2.1zM285.6 101.3h2.1v1.5h-2.1zM23.1 104.3h2.1v1.5h-2.1zM54.6 104.3h2.1v1.5h-2.1zM98.7 104.3h2.1v1.5h-2.1zM25.2 107.3h2.1v1.5h-2.1zM107.1 107.3h2.1v1.5h-2.1zM195.3 107.3h2.1v1.5h-2.1zM241.5 107.3h2.1v1.5h-2.1zM254.1 107.3h2.1v1.5h-2.1zM18.9 110.3h2.1v1.5h-2.1zM21 110.3h2.1v1.5h-2.1zM23.1 110.3h2.1v1.5h-2.1zM39.9 110.3h2.1v1.5h-2.1zM58.8 110.3h2.1v1.5h-2.1zM73.5 110.3h2.1v1.5h-2.1zM81.9 110.3h2.1v1.5h-2.1zM105 110.3h2.1v1.5h-2.1zM151.2 110.3h2.1v1.5h-2.1zM296.1 110.3h2.1v1.5h-2.1zM298.2 110.3h2.1v1.5h-2.1zM8.4 113.2h2.1v1.5h-2.1zM29.4 113.2h2.1v1.5h-2.1zM48.3 113.2h2.1v1.5h-2.1zM136.5 113.2h2.1v1.5h-2.1zM168 113.2h2.1v1.5h-2.1zM12.6 116.2h2.1v1.5h-2.1zM14.7 116.2h2.1v1.5h-2.1zM33.6 116.2h2.1v1.5h-2.1zM39.9 116.2h2.1v1.5h-2.1zM75.6 116.2h2.1v1.5h-2.1zM113.4 116.2h2.1v1.5h-2.1zM170.1 116.2h2.1v1.5h-2.1zM220.5 116.2h2.1v1.5h-2.1zM233.1 116.2h2.1v1.5h-2.1zM285.6 116.2h2.1v1.5h-2.1zM67.2 119.2h2.1v1.5h-2.1zM142.8 119.2h2.1v1.5h-2.1zM159.6 119.2h2.1v1.5h-2.1zM176.4 119.2h2.1v1.5h-2.1zM189 119.2h2.1v1.5h-2.1zM193.2 119.2h2.1v1.5h-2.1zM266.7 119.2h2.1v1.5h-2.1zM308.7 119.2h2.1v1.5h-2.1zM4.2 122.2h2.1v1.5h-2.1zM39.9 122.2h2.1v1.5h-2.1zM46.2 122.2h2.1v1.5h-2.1zM65.1 122.2h2.1v1.5h-2.1zM287.7 122.2h2.1v1.5h-2.1zM18.9 125.2h2.1v1.5h-2.1zM46.2 125.2h2.1v1.5h-2.1zM75.6 125.2h2.1v1.5h-2.1zM77.7 125.2h2.1v1.5h-2.1zM98.7 125.2h2.1v1.5h-2.1zM102.9 125.2h2.1v1.5h-2.1zM111.3 125.2h2.1v1.5h-2.1zM132.3 125.2h2.1v1.5h-2.1zM144.9 125.2h2.1v1.5h-2.1zM178.5 125.2h2.1v1.5h-2.1zM203.7 125.2h2.1v1.5h-2.1zM218.4 125.2h2.1v1.5h-2.1zM243.6 125.2h2.1v1.5h-2.1zM245.7 125.2h2.1v1.5h-2.1zM252 125.2h2.1v1.5h-2.1zM254.1 125.2h2.1v1.5h-2.1zM256.2 125.2h2.1v1.5h-2.1zM308.7 125.2h2.1v1.5h-2.1zM100.8 128.1h2.1v1.5h-2.1zM111.3 128.1h2.1v1.5h-2.1zM121.8 128.1h2.1v1.5h-2.1zM220.5 128.1h2.1v1.5h-2.1zM279.3 128.1h2.1v1.5h-2.1zM65.1 131.1h2.1v1.5h-2.1zM216.3 131.1h2.1v1.5h-2.1zM254.1 131.1h2.1v1.5h-2.1zM312.9 131.1h1.1v1.5h-1.1zM210 134.1h2.1v1.5h-2.1zM235.2 134.1h2.1v1.5h-2.1zM18.9 137.1h2.1v1.5h-2.1zM21 137.1h2.1v1.5h-2.1zM50.4 137.1h2.1v1.5h-2.1zM107.1 137.1h2.1v1.5h-2.1zM132.3 137.1h2.1v1.5h-2.1zM144.9 137.1h2.1v1.5h-2.1zM151.2 137.1h2.1v1.5h-2.1zM161.7 137.1h2.1v1.5h-2.1zM180.6 137.1h2.1v1.5h-2.1zM182.7 137.1h2.1v1.5h-2.1zM228.9 137.1h2.1v1.5h-2.1zM289.8 137.1h2.1v1.5h-2.1zM304.5 137.1h2.1v1.5h-2.1zM310.8 137.1h2.1v1.5h-2.1zM46.2 140.1h2.1v1.5h-2.1zM100.8 140.1h2.1v1.5h-2.1zM210 140.1h2.1v1.5h-2.1zM304.5 140.1h2.1v1.5h-2.1zM44.1 143h2.1v1.5h-2.1zM84 143h2.1v1.5h-2.1zM197.4 143h2.1v1.5h-2.1zM220.5 143h2.1v1.5h-2.1zM65.1 146h2.1v1.5h-2.1zM75.6 146h2.1v1.5h-2.1zM90.3 146h2.1v1.5h-2.1zM107.1 146h2.1v1.5h-2.1zM142.8 146h2.1v1.5h-2.1zM180.6 146h2.1v1.5h-2.1zM224.7 146h2.1v1.5h-2.1zM289.8 146h2.1v1.5h-2.1zM306.6 146h2.1v1.5h-2.1zM58.8 149h2.1v1.5h-2.1zM161.7 149h2.1v1.5h-2.1zM182.7 149h2.1v1.5h-2.1zM212.1 149h2.1v1.5h-2.1zM262.5 149h2.1v1.5h-2.1zM270.9 149h2.1v1.5h-2.1zM285.6 149h2.1v1.5h-2.1zM8.4 152h2.1v1.5h-2.1zM113.4 152h2.1v1.5h-2.1zM134.4 152h2.1v1.5h-2.1zM159.6 152h2.1v1.5h-2.1zM222.6 152h2.1v1.5h-2.1zM270.9 152h2.1v1.5h-2.1zM306.6 152h2.1v1.5h-2.1zM12.6 155h2.1v1.5h-2.1zM29.4 155h2.1v1.5h-2.1zM73.5 155h2.1v1.5h-2.1zM117.6 155h2.1v1.5h-2.1zM222.6 155h2.1v1.5h-2.1zM285.6 155h2.1v1.5h-2.1zM73.5 157.9h2.1v1.5h-2.1zM92.4 157.9h2.1v1.5h-2.1zM134.4 157.9h2.1v1.5h-2.1zM308.7 157.9h2.1v1.5h-2.1zM113.4 160.9h2.1v1.5h-2.1zM136.5 160.9h2.1v1.5h-2.1zM191.1 160.9h2.1v1.5h-2.1zM226.8 160.9h2.1v1.5h-2.1zM23.1 163.9h2.1v1.5h-2.1zM81.9 163.9h2.1v1.5h-2.1zM94.5 163.9h2.1v1.5h-2.1zM163.8 163.9h2.1v1.5h-2.1zM222.6 163.9h2.1v1.5h-2.1zM63 166.9h2.1v1.5h-2.1zM65.1 166.9h2.1v1.5h-2.1zM77.7 166.9h2.1v1.5h-2.1zM136.5 166.9h2.1v1.5h-2.1zM279.3 166.9h2.1v1.5h-2.1zM23.1 169.9h2.1v1.5h-2.1zM170.1 169.9h2.1v1.5h-2.1zM182.7 169.9h2.1v1.5h-2.1zM218.4 169.9h2.1v1.5h-2.1zM222.6 169.9h2.1v1.5h-2.1zM281.4 169.9h2.1v1.5h-2.1zM0 172.8h2.1v1.5h-2.1zM21 172.8h2.1v1.5h-2.1zM23.1 172.8h2.1v1.5h-2.1zM33.6 172.8h2.1v1.5h-2.1zM37.8 172.8h2.1v1.5h-2.1zM81.9 172.8h2.1v1.5h-2.1zM94.5 172.8h2.1v1.5h-2.1zM102.9 172.8h2.1v1.5h-2.1zM105 172.8h2.1v1.5h-2.1zM134.4 172.8h2.1v1.5h-2.1zM140.7 172.8h2.1v1.5h-2.1zM142.8 172.8h2.1v1.5h-2.1zM147 172.8h2.1v1.5h-2.1zM161.7 172.8h2.1v1.5h-2.1zM168 172.8h2.1v1.5h-2.1zM176.4 172.8h2.1v1.5h-2.1zM182.7 172.8h2.1v1.5h-2.1zM189 172.8h2.1v1.5h-2.1zM197.4 172.8h2.1v1.5h-2.1zM201.6 172.8h2.1v1.5h-2.1zM256.2 172.8h2.1v1.5h-2.1zM264.6 172.8h2.1v1.5h-2.1zM268.8 172.8h2.1v1.5h-2.1zM281.4 172.8h2.1v1.5h-2.1zM287.7 172.8h2.1v1.5h-2.1zM14.7 175.8h2.1v1.5h-2.1zM33.6 175.8h2.1v1.5h-2.1zM73.5 175.8h2.1v1.5h-2.1zM138.6 175.8h2.1v1.5h-2.1zM147 175.8h2.1v1.5h-2.1zM233.1 175.8h2.1v1.5h-2.1zM273 175.8h2.1v1.5h-2.1zM281.4 175.8h2.1v1.5h-2.1zM312.9 175.8h1.1v1.5h-1.1zM128.1 178.8h2.1v1.5h-2.1zM218.4 178.8h2.1v1.5h-2.1zM252 178.8h2.1v1.5h-2.1zM268.8 178.8h2.1v1.5h-2.1zM270.9 178.8h2.1v1.5h-2.1zM29.4 181.8h2.1v1.5h-2.1zM37.8 181.8h2.1v1.5h-2.1zM48.3 181.8h2.1v1.5h-2.1zM56.7 181.8h2.1v1.5h-2.1zM63 181.8h2.1v1.5h-2.1zM65.1 181.8h2.1v1.5h-2.1zM102.9 181.8h2.1v1.5h-2.1zM128.1 181.8h2.1v1.5h-2.1zM178.5 181.8h2.1v1.5h-2.1zM260.4 181.8h2.1v1.5h-2.1zM264.6 181.8h2.1v1.5h-2.1zM302.4 181.8h2.1v1.5h-2.1zM18.9 184.8h2.1v1.5h-2.1zM25.2 184.8h2.1v1.5h-2.1zM182.7 184.8h2.1v1.5h-2.1zM216.3 184.8h2.1v1.5h-2.1zM224.7 184.8h2.1v1.5h-2.1zM239.4 184.8h2.1v1.5h-2.1zM260.4 184.8h2.1v1.5h-2.1zM298.2 184.8h2.1v1.5h-2.1zM310.8 184.8h2.1v1.5h-2.1zM312.9 184.8h1.1v1.5h-1.1zM12.6 187.7h2.1v1.5h-2.1zM14.7 187.7h2.1v1.5h-2.1zM21 187.7h2.1v1.5h-2.1zM33.6 187.7h2.1v1.5h-2.1zM37.8 187.7h2.1v1.5h-2.1zM77.7 187.7h2.1v1.5h-2.1zM81.9 187.7h2.1v1.5h-2.1zM142.8 187.7h2.1v1.5h-2.1zM165.9 187.7h2.1v1.5h-2.1zM186.9 187.7h2.1v1.5h-2.1zM195.3 187.7h2.1v1.5h-2.1zM203.7 187.7h2.1v1.5h-2.1zM222.6 187.7h2.1v1.5h-2.1zM264.6 187.7h2.1v1.5h-2.1zM287.7 187.7h2.1v1.5h-2.1zM296.1 187.7h2.1v1.5h-2.1zM302.4 187.7h2.1v1.5h-2.1zM88.2 190.7h2.1v1.5h-2.1zM107.1 190.7h2.1v1.5h-2.1zM128.1 190.7h2.1v1.5h-2.1zM147 190.7h2.1v1.5h-2.1zM180.6 190.7h2.1v1.5h-2.1zM189 190.7h2.1v1.5h-2.1zM191.1 190.7h2.1v1.5h-2.1zM233.1 190.7h2.1v1.5h-2.1zM281.4 190.7h2.1v1.5h-2.1zM285.6 190.7h2.1v1.5h-2.1zM306.6 190.7h2.1v1.5h-2.1zM310.8 190.7h2.1v1.5h-2.1zM4.2 193.7h2.1v1.5h-2.1zM37.8 193.7h2.1v1.5h-2.1zM48.3 193.7h2.1v1.5h-2.1zM75.6 193.7h2.1v1.5h-2.1zM134.4 193.7h2.1v1.5h-2.1zM159.6 193.7h2.1v1.5h-2.1zM207.9 193.7h2.1v1.5h-2.1zM235.2 193.7h2.1v1.5h-2.1zM296.1 193.7h2.1v1.5h-2.1zM8.4 196.7h2.1v1.5h-2.1zM73.5 196.7h2.1v1.5h-2.1zM84 196.7h2.1v1.5h-2.1zM105 196.7h2.1v1.5h-2.1zM216.3 196.7h2.1v1.5h-2.1zM243.6 196.7h2.1v1.5h-2.1zM252 196.7h2.1v1.5h-2.1zM256.2 196.7h2.1v1.5h-2.1zM260.4 196.7h2.1v1.5h-2.1zM279.3 196.7h2.1v1.5h-2.1zM285.6 196.7h2.1v1.5h-2.1zM298.2 196.7h2.1v1.5h-2.1zM2.1 199.7h2.1v1.5h-2.1zM79.8 199.7h2.1v1.5h-2.1zM140.7 199.7h2.1v1.5h-2.1zM199.5 199.7h2.1v1.5h-2.1zM212.1 199.7h2.1v1.5h-2.1zM224.7 199.7h2.1v1.5h-2.1zM266.7 199.7h2.1v1.5h-2.1zM294 199.7h2.1v1.5h-2.1zM46.2 202.6h2.1v1.5h-2.1zM67.2 202.6h2.1v1.5h-2.1zM88.2 202.6h2.1v1.5h-2.1zM107.1 202.6h2.1v1.5h-2.1zM111.3 202.6h2.1v1.5h-2.1zM243.6 202.6h2.1v1.5h-2.1zM279.3 202.6h2.1v1.5h-2.1zM174.3 205.6h2.1v1.5h-2.1zM207.9 205.6h2.1v1.5h-2.1zM216.3 205.6h2.1v1.5h-2.1zM270.9 205.6h2.1v1.5h-2.1zM12.6 208.6h2.1v1.5h-2.1zM56.7 208.6h2.1v1.5h-2.1zM241.5 208.6h2.1v1.5h-2.1zM262.5 208.6h2.1v1.5h-2.1zM65.1 211.6h2.1v1.5h-2.1zM302.4 211.6h2.1v1.5h-2.1zM48.3 214.6h2.1v1.5h-2.1zM50.4 214.6h2.1v1.5h-2.1zM151.2 214.6h2.1v1.5h-2.1zM212.1 214.6h2.1v1.5h-2.1zM220.5 214.6h2.1v1.5h-2.1zM275.1 214.6h2.1v1.5h-2.1zM281.4 214.6h2.1v1.5h-2.1zM77.7 217.5h2.1v1.5h-2.1zM84 217.5h2.1v1.5h-2.1zM102.9 217.5h2.1v1.5h-2.1zM119.7 217.5h2.1v1.5h-2.1zM155.4 217.5h2.1v1.5h-2.1zM279.3 217.5h2.1v1.5h-2.1zM75.6 220.5h2.1v1.5h-2.1zM90.3 220.5h2.1v1.5h-2.1zM113.4 220.5h2.1v1.5h-2.1zM182.7 220.5h2.1v1.5h-2.1zM193.2 220.5h2.1v1.5h-2.1zM201.6 220.5h2.1v1.5h-2.1zM218.4 220.5h2.1v1.5h-2.1zM270.9 220.5h2.1v1.5h-2.1zM281.4 220.5h2.1v1.5h-2.1zM304.5 220.5h2.1v1.5h-2.1zM306.6 220.5h2.1v1.5h-2.1zM25.2 223.5h2.1v1.5h-2.1zM155.4 223.5h2.1v1.5h-2.1zM241.5 223.5h2.1v1.5h-2.1zM308.7 223.5h2.1v1.5h-2.1zM29.4 226.5h2.1v1.5h-2.1zM56.7 226.5h2.1v1.5h-2.1zM73.5 226.5h2.1v1.5h-2.1zM79.8 226.5h2.1v1.5h-2.1zM100.8 226.5h2.1v1.5h-2.1zM105 226.5h2.1v1.5h-2.1zM119.7 226.5h2.1v1.5h-2.1zM218.4 226.5h2.1v1.5h-2.1zM233.1 226.5h2.1v1.5h-2.1zM270.9 226.5h2.1v1.5h-2.1zM310.8 226.5h2.1v1.5h-2.1zM2.1 229.5h2.1v1.5h-2.1zM12.6 229.5h2.1v1.5h-2.1zM14.7 229.5h2.1v1.5h-2.1zM58.8 229.5h2.1v1.5h-2.1zM67.2 229.5h2.1v1.5h-2.1zM77.7 229.5h2.1v1.5h-2.1zM79.8 229.5h2.1v1.5h-2.1zM84 229.5h2.1v1.5h-2.1zM98.7 229.5h2.1v1.5h-2.1zM113.4 229.5h2.1v1.5h-2.1zM144.9 229.5h2.1v1.5h-2.1zM155.4 229.5h2.1v1.5h-2.1zM186.9 229.5h2.1v1.5h-2.1zM195.3 229.5h2.1v1.5h-2.1zM197.4 229.5h2.1v1.5h-2.1zM203.7 229.5h2.1v1.5h-2.1zM216.3 229.5h2.1v1.5h-2.1zM228.9 229.5h2.1v1.5h-2.1zM233.1 229.5h2.1v1.5h-2.1zM239.4 229.5h2.1v1.5h-2.1zM254.1 229.5h2.1v1.5h-2.1zM69.3 232.4h2.1v1.5h-2.1zM102.9 232.4h2.1v1.5h-2.1zM128.1 232.4h2.1v1.5h-2.1zM132.3 232.4h2.1v1.5h-2.1zM155.4 232.4h2.1v1.5h-2.1zM193.2 232.4h2.1v1.5h-2.1zM262.5 232.4h2.1v1.5h-2.1zM0 235.4h2.1v1.5h-2.1zM69.3 235.4h2.1v1.5h-2.1zM138.6 235.4h2.1v1.5h-2.1zM44.1 238.4h2.1v1.5h-2.1zM56.7 238.4h2.1v1.5h-2.1zM142.8 238.4h2.1v1.5h-2.1zM239.4 238.4h2.1v1.5h-2.1zM264.6 238.4h2.1v1.5h-2.1zM304.5 238.4h2.1v1.5h-2.1zM92.4 241.4h2.1v1.5h-2.1zM178.5 241.4h2.1v1.5h-2.1zM182.7 241.4h2.1v1.5h-2.1zM285.6 241.4h2.1v1.5h-2.1zM289.8 241.4h2.1v1.5h-2.1zM132.3 244.4h2.1v1.5h-2.1zM180.6 244.4h2.1v1.5h-2.1zM182.7 244.4h2.1v1.5h-2.1zM218.4 244.4h2.1v1.5h-2.1zM222.6 244.4h2.1v1.5h-2.1zM266.7 244.4h2.1v1.5h-2.1zM75.6 247.3h2.1v1.5h-2.1zM128.1 247.3h2.1v1.5h-2.1zM138.6 247.3h2.1v1.5h-2.1zM0 250.3h2.1v1.5h-2.1zM18.9 250.3h2.1v1.5h-2.1zM65.1 250.3h2.1v1.5h-2.1zM75.6 250.3h2.1v1.5h-2.1zM111.3 250.3h2.1v1.5h-2.1zM123.9 250.3h2.1v1.5h-2.1zM134.4 250.3h2.1v1.5h-2.1zM140.7 250.3h2.1v1.5h-2.1zM142.8 250.3h2.1v1.5h-2.1zM159.6 250.3h2.1v1.5h-2.1zM176.4 250.3h2.1v1.5h-2.1zM193.2 250.3h2.1v1.5h-2.1zM197.4 250.3h2.1v1.5h-2.1zM270.9 250.3h2.1v1.5h-2.1zM281.4 250.3h2.1v1.5h-2.1zM138.6 253.3h2.1v1.5h-2.1zM174.3 253.3h2.1v1.5h-2.1zM203.7 253.3h2.1v1.5h-2.1zM207.9 253.3h2.1v1.5h-2.1zM228.9 253.3h2.1v1.5h-2.1zM29.4 256.3h2.1v1.5h-2.1zM75.6 256.3h2.1v1.5h-2.1zM100.8 256.3h2.1v1.5h-2.1zM119.7 256.3h2.1v1.5h-2.1zM174.3 256.3h2.1v1.5h-2.1zM218.4 256.3h2.1v1.5h-2.1zM220.5 256.3h2.1v1.5h-2.1zM308.7 256.3h2.1v1.5h-2.1zM21 259.3h2.1v1.5h-2.1zM50.4 259.3h2.1v1.5h-2.1zM77.7 259.3h2.1v1.5h-2.1zM92.4 259.3h2.1v1.5h-2.1zM147 259.3h2.1v1.5h-2.1zM8.4 262.2h2.1v1.5h-2.1zM65.1 262.2h2.1v1.5h-2.1zM94.5 262.2h2.1v1.5h-2.1zM102.9 262.2h2.1v1.5h-2.1zM144.9 262.2h2.1v1.5h-2.1zM262.5 262.2h2.1v1.5h-2.1zM275.1 262.2h2.1v1.5h-2.1zM304.5 262.2h2.1v1.5h-2.1zM23.1 265.2h2.1v1.5h-2.1zM132.3 265.2h2.1v1.5h-2.1zM161.7 265.2h2.1v1.5h-2.1zM201.6 265.2h2.1v1.5h-2.1zM268.8 265.2h2.1v1.5h-2.1zM25.2 268.2h2.1v1.5h-2.1zM69.3 268.2h2.1v1.5h-2.1zM130.2 268.2h2.1v1.5h-2.1zM168 268.2h2.1v1.5h-2.1zM304.5 268.2h2.1v1.5h-2.1zM308.7 268.2h2.1v1.5h-2.1zM10.5 271.2h2.1v1.5h-2.1zM18.9 271.2h2.1v1.5h-2.1zM33.6 271.2h2.1v1.5h-2.1zM37.8 271.2h2.1v1.5h-2.1zM54.6 271.2h2.1v1.5h-2.1zM105 271.2h2.1v1.5h-2.1zM134.4 271.2h2.1v1.5h-2.1zM186.9 271.2h2.1v1.5h-2.1zM195.3 271.2h2.1v1.5h-2.1zM224.7 271.2h2.1v1.5h-2.1zM254.1 271.2h2.1v1.5h-2.1zM273 271.2h2.1v1.5h-2.1zM287.7 271.2h2.1v1.5h-2.1zM304.5 271.2h2.1v1.5h-2.1zM50.4 274.2h2.1v1.5h-2.1zM56.7 274.2h2.1v1.5h-2.1zM121.8 274.2h2.1v1.5h-2.1zM212.1 274.2h2.1v1.5h-2.1zM281.4 274.2h2.1v1.5h-2.1zM39.9 277.1h2.1v1.5h-2.1zM84 277.1h2.1v1.5h-2.1zM113.4 277.1h2.1v1.5h-2.1zM207.9 277.1h2.1v1.5h-2.1zM245.7 277.1h2.1v1.5h-2.1zM262.5 277.1h2.1v1.5h-2.1zM287.7 277.1h2.1v1.5h-2.1zM39.9 280.1h2.1v1.5h-2.1zM65.1 280.1h2.1v1.5h-2.1zM84 280.1h2.1v1.5h-2.1zM132.3 280.1h2.1v1.5h-2.1zM147 280.1h2.1v1.5h-2.1zM151.2 280.1h2.1v1.5h-2.1zM224.7 280.1h2.1v1.5h-2.1zM252 280.1h2.1v1.5h-2.1zM260.4 280.1h2.1v1.5h-2.1zM310.8 280.1h2.1v1.5h-2.1zM10.5 283.1h2.1v1.5h-2.1zM54.6 283.1h2.1v1.5h-2.1zM56.7 283.1h2.1v1.5h-2.1zM63 283.1h2.1v1.5h-2.1zM65.1 283.1h2.1v1.5h-2.1zM90.3 283.1h2.1v1.5h-2.1zM92.4 283.1h2.1v1.5h-2.1zM117.6 283.1h2.1v1.5h-2.1zM134.4 283.1h2.1v1.5h-2.1zM168 283.1h2.1v1.5h-2.1zM170.1 283.1h2.1v1.5h-2.1zM203.7 283.1h2.1v1.5h-2.1zM212.1 283.1h2.1v1.5h-2.1zM220.5 283.1h2.1v1.5h-2.1zM264.6 283.1h2.1v1.5h-2.1zM304.5 283.1h2.1v1.5h-2.1zM312.9 283.1h1.1v1.5h-1.1zM90.3 286.1h2.1v1.5h-2.1zM205.8 286.1h2.1v1.5h-2.1zM306.6 286.1h2.1v1.5h-2.1zM4.2 289.1h2.1v1.5h-2.1zM29.4 289.1h2.1v1.5h-2.1zM90.3 289.1h2.1v1.5h-2.1zM180.6 289.1h2.1v1.5h-2.1zM222.6 289.1h2.1v1.5h-2.1zM241.5 289.1h2.1v1.5h-2.1zM268.8 289.1h2.1v1.5h-2.1zM58.8 292h2.1v1.5h-2.1zM105 292h2.1v1.5h-2.1zM176.4 292h2.1v1.5h-2.1zM182.7 292h2.1v1.5h-2.1zM18.9 295h2.1v1.5h-2.1zM46.2 295h2.1v1.5h-2.1zM79.8 295h2.1v1.5h-2.1zM153.3 295h2.1v1.5h-2.1zM168 295h2.1v1.5h-2.1zM195.3 295h2.1v1.5h-2.1zM233.1 295h2.1v1.5h-2.1zM254.1 295h2.1v1.5h-2.1zM302.4 295h2.1v1.5h-2.1zM4.2 298h2.1v1.5h-2.1zM134.4 298h2.1v1.5h-2.1zM174.3 298h2.1v1.5h-2.1zM270.9 298h2.1v1.5h-2.1zM4.2 301h2.1v1.5h-2.1zM12.6 301h2.1v1.5h-2.1zM77.7 301h2.1v1.5h-2.1zM81.9 301h2.1v1.5h-2.1zM90.3 301h2.1v1.5h-2.1zM147 301h2.1v1.5h-2.1zM170.1 301h2.1v1.5h-2.1zM174.3 301h2.1v1.5h-2.1zM226.8 301h2.1v1.5h-2.1zM233.1 301h2.1v1.5h-2.1zM247.8 301h2.1v1.5h-2.1zM312.9 301h1.1v1.5h-1.1zM31.5 304h2.1v1.5h-2.1zM90.3 304h2.1v1.5h-2.1zM304.5 304h2.1v1.5h-2.1zM308.7 304h2.1v1.5h-2.1zM25.2 306.9h2.1v1.5h-2.1zM44.1 306.9h2.1v1.5h-2.1zM48.3 306.9h2.1v1.5h-2.1zM54.6 306.9h2.1v1.5h-2.1zM58.8 306.9h2.1v1.5h-2.1zM75.6 306.9h2.1v1.5h-2.1zM79.8 306.9h2.1v1.5h-2.1zM81.9 306.9h2.1v1.5h-2.1zM88.2 306.9h2.1v1.5h-2.1zM147 306.9h2.1v1.5h-2.1zM186.9 306.9h2.1v1.5h-2.1zM189 306.9h2.1v1.5h-2.1zM193.2 306.9h2.1v1.5h-2.1zM203.7 306.9h2.1v1.5h-2.1zM205.8 306.9h2.1v1.5h-2.1zM241.5 306.9h2.1v1.5h-2.1zM243.6 306.9h2.1v1.5h-2.1zM247.8 306.9h2.1v1.5h-2.1zM270.9 306.9h2.1v1.5h-2.1zM273 306.9h2.1v1.5h-2.1zM312.9 306.9h1.1v1.5h-1.1zM12.6 309.9h2.1v1.5h-2.1zM44.1 309.9h2.1v1.5h-2.1zM65.1 309.9h2.1v1.5h-2.1zM69.3 309.9h2.1v1.5h-2.1zM113.4 309.9h2.1v1.5h-2.1zM247.8 309.9h2.1v1.5h-2.1zM270.9 309.9h2.1v1.5h-2.1zM275.1 309.9h2.1v1.5h-2.1zM283.5 309.9h2.1v1.5h-2.1zM308.7 309.9h2.1v1.5h-2.1zM117.6 312.9h2.1v1.5h-2.1zM132.3 312.9h2.1v1.5h-2.1zM201.6 312.9h2.1v1.5h-2.1zM216.3 312.9h2.1v1.5h-2.1zM10.5 315.9h2.1v1.5h-2.1zM23.1 315.9h2.1v1.5h-2.1zM25.2 315.9h2.1v1.5h-2.1zM50.4 315.9h2.1v1.5h-2.1zM63 315.9h2.1v1.5h-2.1zM98.7 315.9h2.1v1.5h-2.1zM111.3 315.9h2.1v1.5h-2.1zM178.5 315.9h2.1v1.5h-2.1zM180.6 315.9h2.1v1.5h-2.1zM189 315.9h2.1v1.5h-2.1zM220.5 315.9h2.1v1.5h-2.1zM245.7 315.9h2.1v1.5h-2.1zM296.1 315.9h2.1v1.5h-2.1zM10.5 318.9h2.1v1.5h-2.1zM12.6 318.9h2.1v1.5h-2.1zM92.4 318.9h2.1v1.5h-2.1zM189 318.9h2.1v1.5h-2.1zM0 321.8h2.1v1.5h-2.1zM8.4 321.8h2.1v1.5h-2.1zM23.1 321.8h2.1v1.5h-2.1zM88.2 321.8h2.1v1.5h-2.1zM90.3 321.8h2.1v1.5h-2.1zM174.3 321.8h2.1v1.5h-2.1zM189 321.8h2.1v1.5h-2.1zM205.8 321.8h2.1v1.5h-2.1zM233.1 321.8h2.1v1.5h-2.1zM285.6 321.8h2.1v1.5h-2.1zM287.7 321.8h2.1v1.5h-2.1zM31.5 324.8h2.1v1.5h-2.1zM44.1 324.8h2.1v1.5h-2.1zM94.5 324.8h2.1v1.5h-2.1zM113.4 324.8h2.1v1.5h-2.1zM195.3 324.8h2.1v1.5h-2.1zM203.7 324.8h2.1v1.5h-2.1zM224.7 324.8h2.1v1.5h-2.1zM310.8 324.8h2.1v1.5h-2.1zM77.7 327.8h2.1v1.5h-2.1zM94.5 327.8h2.1v1.5h-2.1zM117.6 327.8h2.1v1.5h-2.1zM119.7 327.8h2.1v1.5h-2.1zM168 327.8h2.1v1.5h-2.1zM182.7 327.8h2.1v1.5h-2.1zM8.4 330.8h2.1v1.5h-2.1zM10.5 330.8h2.1v1.5h-2.1zM31.5 330.8h2.1v1.5h-2.1zM33.6 330.8h2.1v1.5h-2.1zM65.1 330.8h2.1v1.5h-2.1zM94.5 330.8h2.1v1.5h-2.1zM147 330.8h2.1v1.5h-2.1zM151.2 330.8h2.1v1.5h-2.1zM153.3 330.8h2.1v1.5h-2.1zM228.9 330.8h2.1v1.5h-2.1zM233.1 330.8h2.1v1.5h-2.1zM298.2 330.8h2.1v1.5h-2.1zM73.5 333.8h2.1v1.5h-2.1zM79.8 333.8h2.1v1.5h-2.1zM102.9 333.8h2.1v1.5h-2.1zM163.8 333.8h2.1v1.5h-2.1zM174.3 333.8h2.1v1.5h-2.1zM296.1 333.8h2.1v1.5h-2.1zM37.8 336.7h2.1v1.5h-2.1zM65.1 336.7h2.1v1.5h-2.1zM67.2 336.7h2.1v1.5h-2.1zM100.8 336.7h2.1v1.5h-2.1zM123.9 336.7h2.1v1.5h-2.1zM176.4 336.7h2.1v1.5h-2.1zM178.5 336.7h2.1v1.5h-2.1zM197.4 336.7h2.1v1.5h-2.1zM201.6 336.7h2.1v1.5h-2.1zM218.4 336.7h2.1v1.5h-2.1zM235.2 336.7h2.1v1.5h-2.1zM275.1 336.7h2.1v1.5h-2.1zM283.5 336.7h2.1v1.5h-2.1zM308.7 336.7h2.1v1.5h-2.1zM54.6 339.7h2.1v1.5h-2.1zM79.8 339.7h2.1v1.5h-2.1zM174.3 339.7h2.1v1.5h-2.1zM195.3 339.7h2.1v1.5h-2.1zM254.1 339.7h2.1v1.5h-2.1zM287.7 339.7h2.1v1.5h-2.1zM4.2 342.7h2.1v1.5h-2.1zM67.2 342.7h2.1v1.5h-2.1zM178.5 342.7h2.1v1.5h-2.1zM262.5 342.7h2.1v1.5h-2.1zM2.1 345.7h2.1v1.5h-2.1zM29.4 345.7h2.1v1.5h-2.1zM37.8 345.7h2.1v1.5h-2.1zM90.3 345.7h2.1v1.5h-2.1zM94.5 345.7h2.1v1.5h-2.1zM132.3 345.7h2.1v1.5h-2.1zM174.3 345.7h2.1v1.5h-2.1zM210 345.7h2.1v1.5h-2.1zM222.6 345.7h2.1v1.5h-2.1zM264.6 345.7h2.1v1.5h-2.1zM279.3 345.7h2.1v1.5h-2.1zM302.4 345.7h2.1v1.5h-2.1zM304.5 345.7h2.1v1.5h-2.1zM10.5 348.7h2.1v1.5h-2.1zM12.6 348.7h2.1v1.5h-2.1zM21 348.7h2.1v1.5h-2.1zM23.1 348.7h2.1v1.5h-2.1zM29.4 348.7h2.1v1.5h-2.1zM75.6 348.7h2.1v1.5h-2.1zM77.7 348.7h2.1v1.5h-2.1zM92.4 348.7h2.1v1.5h-2.1zM128.1 348.7h2.1v1.5h-2.1zM130.2 348.7h2.1v1.5h-2.1zM142.8 348.7h2.1v1.5h-2.1zM155.4 348.7h2.1v1.5h-2.1zM163.8 348.7h2.1v1.5h-2.1zM186.9 348.7h2.1v1.5h-2.1zM195.3 348.7h2.1v1.5h-2.1zM216.3 348.7h2.1v1.5h-2.1zM228.9 348.7h2.1v1.5h-2.1zM239.4 348.7h2.1v1.5h-2.1zM256.2 348.7h2.1v1.5h-2.1zM273 348.7h2.1v1.5h-2.1zM14.7 351.6h2.1v1.5h-2.1zM46.2 351.6h2.1v1.5h-2.1zM81.9 351.6h2.1v1.5h-2.1zM117.6 351.6h2.1v1.5h-2.1zM186.9 351.6h2.1v1.5h-2.1zM287.7 351.6h2.1v1.5h-2.1zM73.5 354.6h2.1v1.5h-2.1zM121.8 354.6h2.1v1.5h-2.1zM134.4 354.6h2.1v1.5h-2.1zM136.5 354.6h2.1v1.5h-2.1zM178.5 354.6h2.1v1.5h-2.1zM210 354.6h2.1v1.5h-2.1zM212.1 354.6h2.1v1.5h-2.1zM256.2 354.6h2.1v1.5h-2.1zM294 354.6h2.1v1.5h-2.1zM302.4 354.6h2.1v1.5h-2.1zM10.5 357.6h2.1v1.5h-2.1zM12.6 357.6h2.1v1.5h-2.1zM54.6 357.6h2.1v1.5h-2.1zM69.3 357.6h2.1v1.5h-2.1zM73.5 357.6h2.1v1.5h-2.1zM77.7 357.6h2.1v1.5h-2.1zM81.9 357.6h2.1v1.5h-2.1zM84 357.6h2.1v1.5h-2.1zM128.1 357.6h2.1v1.5h-2.1zM159.6 357.6h2.1v1.5h-2.1zM161.7 357.6h2.1v1.5h-2.1zM168 357.6h2.1v1.5h-2.1zM174.3 357.6h2.1v1.5h-2.1zM176.4 357.6h2.1v1.5h-2.1zM191.1 357.6h2.1v1.5h-2.1zM201.6 357.6h2.1v1.5h-2.1zM203.7 357.6h2.1v1.5h-2.1zM218.4 357.6h2.1v1.5h-2.1zM228.9 357.6h2.1v1.5h-2.1zM243.6 357.6h2.1v1.5h-2.1zM254.1 357.6h2.1v1.5h-2.1zM264.6 357.6h2.1v1.5h-2.1zM273 357.6h2.1v1.5h-2.1zM275.1 357.6h2.1v1.5h-2.1zM142.8 360.6h2.1v1.5h-2.1zM12.6 363.6h2.1v1.5h-2.1zM50.4 363.6h2.1v1.5h-2.1zM107.1 363.6h2.1v1.5h-2.1zM287.7 363.6h2.1v1.5h-2.1zM298.2 363.6h2.1v1.5h-2.1zM18.9 366.5h2.1v1.5h-2.1zM33.6 366.5h2.1v1.5h-2.1zM48.3 366.5h2.1v1.5h-2.1zM218.4 366.5h2.1v1.5h-2.1zM264.6 366.5h2.1v1.5h-2.1zM270.9 366.5h2.1v1.5h-2.1zM308.7 366.5h2.1v1.5h-2.1zM23.1 369.5h2.1v1.5h-2.1zM29.4 369.5h2.1v1.5h-2.1zM50.4 369.5h2.1v1.5h-2.1zM178.5 369.5h2.1v1.5h-2.1zM203.7 369.5h2.1v1.5h-2.1zM207.9 369.5h2.1v1.5h-2.1zM216.3 369.5h2.1v1.5h-2.1zM268.8 369.5h2.1v1.5h-2.1zM4.2 372.5h2.1v1.5h-2.1zM8.4 372.5h2.1v1.5h-2.1zM81.9 372.5h2.1v1.5h-2.1zM94.5 372.5h2.1v1.5h-2.1zM193.2 372.5h2.1v1.5h-2.1zM201.6 372.5h2.1v1.5h-2.1zM241.5 372.5h2.1v1.5h-2.1zM33.6 375.5h2.1v1.5h-2.1zM44.1 375.5h2.1v1.5h-2.1zM50.4 375.5h2.1v1.5h-2.1zM81.9 375.5h2.1v1.5h-2.1zM88.2 375.5h2.1v1.5h-2.1zM90.3 375.5h2.1v1.5h-2.1zM107.1 375.5h2.1v1.5h-2.1zM117.6 375.5h2.1v1.5h-2.1zM136.5 375.5h2.1v1.5h-2.1zM140.7 375.5h2.1v1.5h-2.1zM142.8 375.5h2.1v1.5h-2.1zM151.2 375.5h2.1v1.5h-2.1zM165.9 375.5h2.1v1.5h-2.1zM226.8 375.5h2.1v1.5h-2.1zM235.2 375.5h2.1v1.5h-2.1zM245.7 375.5h2.1v1.5h-2.1zM247.8 375.5h2.1v1.5h-2.1zM256.2 375.5h2.1v1.5h-2.1zM273 375.5h2.1v1.5h-2.1zM279.3 375.5h2.1v1.5h-2.1zM281.4 375.5h2.1v1.5h-2.1zM308.7 375.5h2.1v1.5h-2.1zM312.9 375.5h1.1v1.5h-1.1zM25.2 378.5h2.1v1.5h-2.1zM50.4 378.5h2.1v1.5h-2.1zM77.7 378.5h2.1v1.5h-2.1zM79.8 378.5h2.1v1.5h-2.1zM100.8 378.5h2.1v1.5h-2.1zM235.2 378.5h2.1v1.5h-2.1zM260.4 378.5h2.1v1.5h-2.1zM268.8 378.5h2.1v1.5h-2.1zM296.1 378.5h2.1v1.5h-2.1zM302.4 378.5h2.1v1.5h-2.1zM308.7 378.5h2.1v1.5h-2.1zM10.5 381.4h2.1v1.5h-2.1zM144.9 381.4h2.1v1.5h-2.1zM220.5 381.4h2.1v1.5h-2.1zM252 381.4h2.1v1.5h-2.1zM8.4 384.4h2.1v1.5h-2.1zM10.5 384.4h2.1v1.5h-2.1zM81.9 384.4h2.1v1.5h-2.1zM111.3 384.4h2.1v1.5h-2.1zM182.7 384.4h2.1v1.5h-2.1zM243.6 384.4h2.1v1.5h-2.1zM4.2 387.4h2.1v1.5h-2.1zM46.2 387.4h2.1v1.5h-2.1zM56.7 387.4h2.1v1.5h-2.1zM58.8 387.4h2.1v1.5h-2.1zM77.7 387.4h2.1v1.5h-2.1zM134.4 387.4h2.1v1.5h-2.1zM140.7 387.4h2.1v1.5h-2.1zM153.3 387.4h2.1v1.5h-2.1zM205.8 387.4h2.1v1.5h-2.1zM212.1 387.4h2.1v1.5h-2.1zM218.4 387.4h2.1v1.5h-2.1zM228.9 387.4h2.1v1.5h-2.1zM254.1 387.4h2.1v1.5h-2.1zM266.7 387.4h2.1v1.5h-2.1zM279.3 387.4h2.1v1.5h-2.1zM281.4 387.4h2.1v1.5h-2.1zM8.4 390.4h2.1v1.5h-2.1zM212.1 390.4h2.1v1.5h-2.1zM273 390.4h2.1v1.5h-2.1zM39.9 393.4h2.1v1.5h-2.1zM142.8 393.4h2.1v1.5h-2.1zM161.7 393.4h2.1v1.5h-2.1zM207.9 393.4h2.1v1.5h-2.1zM245.7 393.4h2.1v1.5h-2.1zM56.7 396.3h2.1v1.5h-2.1zM77.7 396.3h2.1v1.5h-2.1zM94.5 396.3h2.1v1.5h-2.1zM178.5 396.3h2.1v1.5h-2.1zM180.6 396.3h2.1v1.5h-2.1zM182.7 396.3h2.1v1.5h-2.1zM237.3 396.3h2.1v1.5h-2.1zM273 396.3h2.1v1.5h-2.1zM312.9 396.3h1.1v1.5h-1.1zM37.8 399.3h2.1v1.5h-2.1zM105 399.3h2.1v1.5h-2.1zM163.8 399.3h2.1v1.5h-2.1zM195.3 399.3h2.1v1.5h-2.1zM312.9 399.3h1.1v1.5h-1.1zM14.7 402.3h2.1v1.5h-2.1zM84 402.3h2.1v1.5h-2.1zM130.2 402.3h2.1v1.5h-2.1zM151.2 402.3h2.1v1.5h-2.1zM189 402.3h2.1v1.5h-2.1zM193.2 402.3h2.1v1.5h-2.1zM220.5 402.3h2.1v1.5h-2.1zM270.9 402.3h2.1v1.5h-2.1zM4.2 405.3h2.1v1.5h-2.1zM56.7 405.3h2.1v1.5h-2.1zM67.2 405.3h2.1v1.5h-2.1zM79.8 405.3h2.1v1.5h-2.1zM84 405.3h2.1v1.5h-2.1zM100.8 405.3h2.1v1.5h-2.1zM119.7 405.3h2.1v1.5h-2.1zM132.3 405.3h2.1v1.5h-2.1zM159.6 405.3h2.1v1.5h-2.1zM218.4 405.3h2.1v1.5h-2.1zM237.3 405.3h2.1v1.5h-2.1zM245.7 405.3h2.1v1.5h-2.1zM262.5 405.3h2.1v1.5h-2.1zM264.6 405.3h2.1v1.5h-2.1zM266.7 405.3h2.1v1.5h-2.1zM0 408.3h2.1v1.5h-2.1zM12.6 408.3h2.1v1.5h-2.1zM31.5 408.3h2.1v1.5h-2.1zM37.8 408.3h2.1v1.5h-2.1zM155.4 408.3h2.1v1.5h-2.1zM168 408.3h2.1v1.5h-2.1zM180.6 408.3h2.1v1.5h-2.1zM210 408.3h2.1v1.5h-2.1zM216.3 408.3h2.1v1.5h-2.1zM256.2 408.3h2.1v1.5h-2.1zM264.6 408.3h2.1v1.5h-2.1zM275.1 408.3h2.1v1.5h-2.1zM281.4 408.3h2.1v1.5h-2.1zM308.7 408.3h2.1v1.5h-2.1zM31.5 411.2h2.1v1.5h-2.1zM39.9 411.2h2.1v1.5h-2.1zM63 411.2h2.1v1.5h-2.1zM98.7 411.2h2.1v1.5h-2.1zM105 411.2h2.1v1.5h-2.1zM155.4 411.2h2.1v1.5h-2.1zM189 411.2h2.1v1.5h-2.1zM235.2 411.2h2.1v1.5h-2.1zM294 411.2h2.1v1.5h-2.1zM298.2 411.2h2.1v1.5h-2.1zM310.8 411.2h2.1v1.5h-2.1zM12.6 414.2h2.1v1.5h-2.1zM18.9 414.2h2.1v1.5h-2.1zM37.8 414.2h2.1v1.5h-2.1zM50.4 414.2h2.1v1.5h-2.1zM65.1 414.2h2.1v1.5h-2.1zM81.9 414.2h2.1v1.5h-2.1zM92.4 414.2h2.1v1.5h-2.1zM170.1 414.2h2.1v1.5h-2.1zM178.5 414.2h2.1v1.5h-2.1zM186.9 414.2h2.1v1.5h-2.1zM210 414.2h2.1v1.5h-2.1zM212.1 414.2h2.1v1.5h-2.1zM216.3 414.2h2.1v1.5h-2.1zM228.9 414.2h2.1v1.5h-2.1zM233.1 414.2h2.1v1.5h-2.1zM245.7 414.2h2.1v1.5h-2.1zM264.6 414.2h2.1v1.5h-2.1zM266.7 414.2h2.1v1.5h-2.1zM281.4 414.2h2.1v1.5h-2.1zM287.7 414.2h2.1v1.5h-2.1zM46.2 417.2h2.1v1.5h-2.1zM178.5 417.2h2.1v1.5h-2.1zM228.9 417.2h2.1v1.5h-2.1zM266.7 417.2h2.1v1.5h-2.1zM79.8 420.2h2.1v1.5h-2.1zM123.9 420.2h2.1v1.5h-2.1zM197.4 420.2h2.1v1.5h-2.1zM247.8 420.2h2.1v1.5h-2.1zM75.6 423.2h2.1v1.5h-2.1zM105 423.2h2.1v1.5h-2.1zM186.9 423.2h2.1v1.5h-2.1zM270.9 423.2h2.1v1.5h-2.1zM294 423.2h2.1v1.5h-2.1zM312.9 423.2h1.1v1.5h-1.1zM48.3 426.1h2.1v1.5h-2.1zM170.1 426.1h2.1v1.5h-2.1zM247.8 426.1h2.1v1.5h-2.1zM8.4 429.1h2.1v1.5h-2.1zM21 429.1h2.1v1.5h-2.1zM81.9 429.1h2.1v1.5h-2.1zM94.5 429.1h2.1v1.5h-2.1zM138.6 429.1h2.1v1.5h-2.1zM203.7 429.1h2.1v1.5h-2.1zM247.8 429.1h2.1v1.5h-2.1zM308.7 429.1h2.1v1.5h-2.1zM310.8 429.1h2.1v1.5h-2.1zM10.5 432.1h2.1v1.5h-2.1zM75.6 432.1h2.1v1.5h-2.1zM92.4 432.1h2.1v1.5h-2.1zM94.5 432.1h2.1v1.5h-2.1zM163.8 432.1h2.1v1.5h-2.1zM189 432.1h2.1v1.5h-2.1zM195.3 432.1h2.1v1.5h-2.1zM224.7 432.1h2.1v1.5h-2.1zM226.8 432.1h2.1v1.5h-2.1zM228.9 432.1h2.1v1.5h-2.1zM252 432.1h2.1v1.5h-2.1zM254.1 432.1h2.1v1.5h-2.1zM256.2 432.1h2.1v1.5h-2.1zM308.7 432.1h2.1v1.5h-2.1zM56.7 435.1h2.1v1.5h-2.1zM67.2 435.1h2.1v1.5h-2.1zM163.8 435.1h2.1v1.5h-2.1zM220.5 435.1h2.1v1.5h-2.1zM222.6 435.1h2.1v1.5h-2.1zM247.8 435.1h2.1v1.5h-2.1zM8.4 438.1h2.1v1.5h-2.1zM21 438.1h2.1v1.5h-2.1zM31.5 438.1h2.1v1.5h-2.1zM77.7 438.1h2.1v1.5h-2.1zM88.2 438.1h2.1v1.5h-2.1zM92.4 438.1h2.1v1.5h-2.1zM94.5 438.1h2.1v1.5h-2.1zM100.8 438.1h2.1v1.5h-2.1zM117.6 438.1h2.1v1.5h-2.1zM134.4 438.1h2.1v1.5h-2.1zM136.5 438.1h2.1v1.5h-2.1zM178.5 438.1h2.1v1.5h-2.1zM182.7 438.1h2.1v1.5h-2.1zM195.3 438.1h2.1v1.5h-2.1zM222.6 438.1h2.1v1.5h-2.1zM235.2 438.1h2.1v1.5h-2.1zM243.6 438.1h2.1v1.5h-2.1zM287.7 438.1h2.1v1.5h-2.1zM298.2 438.1h2.1v1.5h-2.1zM312.9 438.1h1.1v1.5h-1.1zM14.7 441h2.1v1.5h-2.1zM170.1 441h2.1v1.5h-2.1zM8.4 444h2.1v1.5h-2.1zM25.2 444h2.1v1.5h-2.1zM81.9 444h2.1v1.5h-2.1zM92.4 444h2.1v1.5h-2.1zM134.4 444h2.1v1.5h-2.1zM138.6 444h2.1v1.5h-2.1zM170.1 444h2.1v1.5h-2.1zM205.8 444h2.1v1.5h-2.1zM212.1 444h2.1v1.5h-2.1zM222.6 444h2.1v1.5h-2.1zM245.7 444h2.1v1.5h-2.1zM8.4 447h2.1v1.5h-2.1zM21 447h2.1v1.5h-2.1zM29.4 447h2.1v1.5h-2.1zM56.7 447h2.1v1.5h-2.1zM58.8 447h2.1v1.5h-2.1zM67.2 447h2.1v1.5h-2.1zM117.6 447h2.1v1.5h-2.1zM123.9 447h2.1v1.5h-2.1zM176.4 447h2.1v1.5h-2.1zM182.7 447h2.1v1.5h-2.1zM193.2 447h2.1v1.5h-2.1zM205.8 447h2.1v1.5h-2.1zM216.3 447h2.1v1.5h-2.1zM256.2 447h2.1v1.5h-2.1zM281.4 447h2.1v1.5h-2.1zM304.5 447h2.1v1.5h-2.1zM306.6 447h2.1v1.5h-2.1zM312.9 447h1.1v1.5h-1.1zM2.1 450h2.1v1.5h-2.1zM4.2 450h2.1v1.5h-2.1zM31.5 450h2.1v1.5h-2.1zM46.2 450h2.1v1.5h-2.1zM111.3 450h2.1v1.5h-2.1zM140.7 450h2.1v1.5h-2.1zM199.5 450h2.1v1.5h-2.1zM203.7 450h2.1v1.5h-2.1zM245.7 450h2.1v1.5h-2.1zM260.4 450h2.1v1.5h-2.1zM283.5 450h2.1v1.5h-2.1zM310.8 450h2.1v1.5h-2.1zM2.1 453h2.1v1.5h-2.1zM14.7 453h2.1v1.5h-2.1zM33.6 453h2.1v1.5h-2.1zM48.3 453h2.1v1.5h-2.1zM113.4 453h2.1v1.5h-2.1zM245.7 453h2.1v1.5h-2.1zM14.7 455.9h2.1v1.5h-2.1zM50.4 455.9h2.1v1.5h-2.1zM100.8 455.9h2.1v1.5h-2.1zM102.9 455.9h2.1v1.5h-2.1zM142.8 455.9h2.1v1.5h-2.1zM237.3 455.9h2.1v1.5h-2.1zM241.5 455.9h2.1v1.5h-2.1zM245.7 455.9h2.1v1.5h-2.1zM289.8 455.9h2.1v1.5h-2.1zM142.8 458.9h2.1v1.5h-2.1zM182.7 458.9h2.1v1.5h-2.1zM186.9 458.9h2.1v1.5h-2.1zM199.5 458.9h2.1v1.5h-2.1zM201.6 458.9h2.1v1.5h-2.1zM281.4 458.9h2.1v1.5h-2.1zM285.6 458.9h2.1v1.5h-2.1zM302.4 458.9h2.1v1.5h-2.1zM10.5 461.9h2.1v1.5h-2.1zM44.1 461.9h2.1v1.5h-2.1zM88.2 461.9h2.1v1.5h-2.1zM98.7 461.9h2.1v1.5h-2.1zM102.9 461.9h2.1v1.5h-2.1zM113.4 461.9h2.1v1.5h-2.1zM117.6 461.9h2.1v1.5h-2.1zM151.2 461.9h2.1v1.5h-2.1zM203.7 461.9h2.1v1.5h-2.1zM233.1 461.9h2.1v1.5h-2.1zM237.3 461.9h2.1v1.5h-2.1zM260.4 461.9h2.1v1.5h-2.1zM273 461.9h2.1v1.5h-2.1zM308.7 461.9h2.1v1.5h-2.1zM90.3 464.9h2.1v1.5h-2.1zM136.5 464.9h2.1v1.5h-2.1zM163.8 464.9h2.1v1.5h-2.1zM262.5 464.9h2.1v1.5h-2.1zM285.6 464.9h2.1v1.5h-2.1zM298.2 464.9h2.1v1.5h-2.1zM33.6 467.9h2.1v1.5h-2.1zM37.8 467.9h2.1v1.5h-2.1zM69.3 467.9h2.1v1.5h-2.1zM94.5 467.9h2.1v1.5h-2.1zM100.8 467.9h2.1v1.5h-2.1zM105 467.9h2.1v1.5h-2.1zM107.1 467.9h2.1v1.5h-2.1zM140.7 467.9h2.1v1.5h-2.1zM153.3 467.9h2.1v1.5h-2.1zM191.1 467.9h2.1v1.5h-2.1zM205.8 467.9h2.1v1.5h-2.1zM279.3 467.9h2.1v1.5h-2.1zM308.7 467.9h2.1v1.5h-2.1zM90.3 470.8h2.1v1.5h-2.1zM107.1 470.8h2.1v1.5h-2.1zM119.7 470.8h2.1v1.5h-2.1zM121.8 470.8h2.1v1.5h-2.1zM132.3 470.8h2.1v1.5h-2.1zM210 470.8h2.1v1.5h-2.1zM220.5 470.8h2.1v1.5h-2.1zM224.7 470.8h2.1v1.5h-2.1zM294 470.8h2.1v1.5h-2.1zM0 473.8h2.1v1.5h-2.1zM50.4 473.8h2.1v1.5h-2.1zM67.2 473.8h2.1v1.5h-2.1zM165.9 473.8h2.1v1.5h-2.1zM205.8 473.8h2.1v1.5h-2.1zM310.8 473.8h2.1v1.5h-2.1zM75.6 476.8h2.1v1.5h-2.1zM252 476.8h2.1v1.5h-2.1zM281.4 476.8h2.1v1.5h-2.1zM159.6 479.8h2.1v1.5h-2.1zM296.1 479.8h2.1v1.5h-2.1zM98.7 482.8h2.1v1.5h-2.1zM260.4 482.8h2.1v1.5h-2.1zM10.5 485.7h2.1v1.5h-2.1zM25.2 485.7h2.1v1.5h-2.1zM67.2 485.7h2.1v1.5h-2.1zM273 485.7h2.1v1.5h-2.1zM48.3 488.7h2.1v1.5h-2.1zM197.4 488.7h2.1v1.5h-2.1zM207.9 488.7h2.1v1.5h-2.1zM4.2 491.7h2.1v1.5h-2.1zM23.1 491.7h2.1v1.5h-2.1zM33.6 491.7h2.1v1.5h-2.1zM39.9 491.7h2.1v1.5h-2.1zM81.9 491.7h2.1v1.5h-2.1zM92.4 491.7h2.1v1.5h-2.1zM111.3 491.7h2.1v1.5h-2.1zM138.6 491.7h2.1v1.5h-2.1zM195.3 491.7h2.1v1.5h-2.1zM243.6 491.7h2.1v1.5h-2.1zM264.6 491.7h2.1v1.5h-2.1zM2.1 494.7h2.1v1.5h-2.1zM4.2 494.7h2.1v1.5h-2.1zM56.7 494.7h2.1v1.5h-2.1zM63 494.7h2.1v1.5h-2.1zM92.4 494.7h2.1v1.5h-2.1zM123.9 494.7h2.1v1.5h-2.1zM130.2 494.7h2.1v1.5h-2.1zM140.7 494.7h2.1v1.5h-2.1zM212.1 494.7h2.1v1.5h-2.1zM222.6 494.7h2.1v1.5h-2.1zM243.6 494.7h2.1v1.5h-2.1zM260.4 494.7h2.1v1.5h-2.1zM268.8 494.7h2.1v1.5h-2.1zM275.1 494.7h2.1v1.5h-2.1zM308.7 494.7h2.1v1.5h-2.1zM14.7 497.7h2.1v1.5h-2.1zM18.9 497.7h2.1v1.5h-2.1zM33.6 497.7h2.1v1.5h-2.1zM44.1 497.7h2.1v1.5h-2.1zM79.8 497.7h2.1v1.5h-2.1zM84 497.7h2.1v1.5h-2.1zM94.5 497.7h2.1v1.5h-2.1zM136.5 497.7h2.1v1.5h-2.1zM155.4 497.7h2.1v1.5h-2.1zM182.7 497.7h2.1v1.5h-2.1zM212.1 497.7h2.1v1.5h-2.1zM256.2 497.7h2.1v1.5h-2.1zM264.6 497.7h2.1v1.5h-2.1zM310.8 497.7h2.1v1.5h-2.1zM105 500.6h2.1v1.5h-2.1zM121.8 500.6h2.1v1.5h-2.1zM203.7 500.6h2.1v1.5h-2.1zM21 503.6h2.1v1.5h-2.1zM29.4 503.6h2.1v1.5h-2.1zM33.6 503.6h2.1v1.5h-2.1zM50.4 503.6h2.1v1.5h-2.1zM67.2 503.6h2.1v1.5h-2.1zM121.8 503.6h2.1v1.5h-2.1zM144.9 503.6h2.1v1.5h-2.1zM224.7 503.6h2.1v1.5h-2.1zM273 503.6h2.1v1.5h-2.1zM12.6 506.6h2.1v1.5h-2.1zM18.9 506.6h2.1v1.5h-2.1zM29.4 506.6h2.1v1.5h-2.1zM31.5 506.6h2.1v1.5h-2.1zM39.9 506.6h2.1v1.5h-2.1zM75.6 506.6h2.1v1.5h-2.1zM77.7 506.6h2.1v1.5h-2.1zM90.3 506.6h2.1v1.5h-2.1zM100.8 506.6h2.1v1.5h-2.1zM121.8 506.6h2.1v1.5h-2.1zM199.5 506.6h2.1v1.5h-2.1zM10.5 509.6h2.1v1.5h-2.1zM25.2 509.6h2.1v1.5h-2.1zM123.9 509.6h2.1v1.5h-2.1zM252 509.6h2.1v1.5h-2.1zM254.1 509.6h2.1v1.5h-2.1zM12.6 512.6h2.1v1.5h-2.1zM54.6 512.6h2.1v1.5h-2.1zM123.9 512.6h2.1v1.5h-2.1zM136.5 512.6h2.1v1.5h-2.1zM151.2 512.6h2.1v1.5h-2.1zM252 512.6h2.1v1.5h-2.1zM308.7 512.6h2.1v1.5h-2.1zM312.9 512.6h1.1v1.5h-1.1zM18.9 515.5h2.1v1.5h-2.1zM25.2 515.5h2.1v1.5h-2.1zM29.4 515.5h2.1v1.5h-2.1zM44.1 515.5h2.1v1.5h-2.1zM54.6 515.5h2.1v1.5h-2.1zM186.9 515.5h2.1v1.5h-2.1zM191.1 515.5h2.1v1.5h-2.1zM201.6 515.5h2.1v1.5h-2.1zM39.9 518.5h2.1v1.5h-2.1zM136.5 518.5h2.1v1.5h-2.1zM216.3 518.5h2.1v1.5h-2.1zM247.8 518.5h2.1v1.5h-2.1zM31.5 521.5h2.1v1.5h-2.1zM73.5 521.5h2.1v1.5h-2.1zM84 521.5h2.1v1.5h-2.1zM105 521.5h2.1v1.5h-2.1zM121.8 521.5h2.1v1.5h-2.1zM123.9 521.5h2.1v1.5h-2.1zM182.7 521.5h2.1v1.5h-2.1zM197.4 521.5h2.1v1.5h-2.1zM210 521.5h2.1v1.5h-2.1zM262.5 521.5h2.1v1.5h-2.1zM264.6 521.5h2.1v1.5h-2.1zM273 521.5h2.1v1.5h-2.1zM308.7 521.5h2.1v1.5h-2.1zM0 524.5h2.1v1.5h-2.1zM23.1 524.5h2.1v1.5h-2.1zM29.4 524.5h2.1v1.5h-2.1zM48.3 524.5h2.1v1.5h-2.1zM54.6 524.5h2.1v1.5h-2.1zM67.2 524.5h2.1v1.5h-2.1zM88.2 524.5h2.1v1.5h-2.1zM121.8 524.5h2.1v1.5h-2.1zM128.1 524.5h2.1v1.5h-2.1zM147 524.5h2.1v1.5h-2.1zM178.5 524.5h2.1v1.5h-2.1zM220.5 524.5h2.1v1.5h-2.1zM237.3 524.5h2.1v1.5h-2.1zM247.8 524.5h2.1v1.5h-2.1zM279.3 524.5h2.1v1.5h-2.1zM281.4 524.5h2.1v1.5h-2.1zM289.8 524.5h2.1v1.5h-2.1zM308.7 524.5h2.1v1.5h-2.1zM14.7 527.5h2.1v1.5h-2.1zM37.8 527.5h2.1v1.5h-2.1zM90.3 527.5h2.1v1.5h-2.1zM119.7 527.5h2.1v1.5h-2.1zM140.7 527.5h2.1v1.5h-2.1zM21 530.4h2.1v1.5h-2.1zM23.1 530.4h2.1v1.5h-2.1zM25.2 530.4h2.1v1.5h-2.1zM31.5 530.4h2.1v1.5h-2.1zM105 530.4h2.1v1.5h-2.1zM113.4 530.4h2.1v1.5h-2.1zM121.8 530.4h2.1v1.5h-2.1zM136.5 530.4h2.1v1.5h-2.1zM182.7 530.4h2.1v1.5h-2.1zM245.7 530.4h2.1v1.5h-2.1zM302.4 530.4h2.1v1.5h-2.1zM0 533.4h2.1v1.5h-2.1zM10.5 533.4h2.1v1.5h-2.1zM18.9 533.4h2.1v1.5h-2.1zM67.2 533.4h2.1v1.5h-2.1zM79.8 533.4h2.1v1.5h-2.1zM212.1 533.4h2.1v1.5h-2.1zM216.3 533.4h2.1v1.5h-2.1zM296.1 533.4h2.1v1.5h-2.1zM21 536.4h2.1v1.5h-2.1zM46.2 536.4h2.1v1.5h-2.1zM119.7 536.4h2.1v1.5h-2.1zM123.9 536.4h2.1v1.5h-2.1zM159.6 536.4h2.1v1.5h-2.1zM195.3 536.4h2.1v1.5h-2.1zM228.9 536.4h2.1v1.5h-2.1zM298.2 536.4h2.1v1.5h-2.1zM21 539.4h2.1v1.5h-2.1zM25.2 539.4h2.1v1.5h-2.1zM29.4 539.4h2.1v1.5h-2.1zM31.5 539.4h2.1v1.5h-2.1zM84 539.4h2.1v1.5h-2.1zM90.3 539.4h2.1v1.5h-2.1zM105 539.4h2.1v1.5h-2.1zM128.1 539.4h2.1v1.5h-2.1zM165.9 539.4h2.1v1.5h-2.1zM222.6 539.4h2.1v1.5h-2.1zM254.1 539.4h2.1v1.5h-2.1zM262.5 539.4h2.1v1.5h-2.1zM270.9 539.4h2.1v1.5h-2.1zM273 539.4h2.1v1.5h-2.1zM312.9 539.4h1.1v1.5h-1.1zM8.4 542.4h2.1v1.5h-2.1zM14.7 542.4h2.1v1.5h-2.1zM21 542.4h2.1v1.5h-2.1zM25.2 542.4h2.1v1.5h-2.1zM163.8 542.4h2.1v1.5h-2.1zM235.2 542.4h2.1v1.5h-2.1zM37.8 545.3h2.1v1.5h-2.1zM58.8 545.3h2.1v1.5h-2.1zM92.4 545.3h2.1v1.5h-2.1zM94.5 545.3h2.1v1.5h-2.1zM163.8 545.3h2.1v1.5h-2.1zM178.5 545.3h2.1v1.5h-2.1zM228.9 545.3h2.1v1.5h-2.1zM289.8 545.3h2.1v1.5h-2.1zM73.5 548.3h2.1v1.5h-2.1zM119.7 548.3h2.1v1.5h-2.1zM168 548.3h2.1v1.5h-2.1zM306.6 548.3h2.1v1.5h-2.1zM312.9 548.3h1.1v1.5h-1.1zM4.2 554.3h2.1v1.5h-2.1zM10.5 554.3h2.1v1.5h-2.1zM12.6 554.3h2.1v1.5h-2.1zM23.1 554.3h2.1v1.5h-2.1zM88.2 554.3h2.1v1.5h-2.1zM174.3 554.3h2.1v1.5h-2.1zM193.2 554.3h2.1v1.5h-2.1zM197.4 554.3h2.1v1.5h-2.1zM210 554.3h2.1v1.5h-2.1zM226.8 554.3h2.1v1.5h-2.1zM245.7 554.3h2.1v1.5h-2.1zM283.5 554.3h2.1v1.5h-2.1zM2.1 557.3h2.1v1.5h-2.1zM4.2 557.3h2.1v1.5h-2.1zM8.4 557.3h2.1v1.5h-2.1zM12.6 557.3h2.1v1.5h-2.1zM25.2 557.3h2.1v1.5h-2.1zM37.8 557.3h2.1v1.5h-2.1zM39.9 557.3h2.1v1.5h-2.1zM44.1 557.3h2.1v1.5h-2.1zM77.7 557.3h2.1v1.5h-2.1zM94.5 557.3h2.1v1.5h-2.1zM123.9 557.3h2.1v1.5h-2.1zM130.2 557.3h2.1v1.5h-2.1zM138.6 557.3h2.1v1.5h-2.1zM153.3 557.3h2.1v1.5h-2.1zM159.6 557.3h2.1v1.5h-2.1zM212.1 557.3h2.1v1.5h-2.1zM268.8 557.3h2.1v1.5h-2.1zM306.6 557.3h2.1v1.5h-2.1zM310.8 557.3h2.1v1.5h-2.1zM58.8 560.2h2.1v1.5h-2.1zM69.3 560.2h2.1v1.5h-2.1zM102.9 560.2h2.1v1.5h-2.1zM220.5 560.2h2.1v1.5h-2.1zM8.4 563.2h2.1v1.5h-2.1zM29.4 563.2h2.1v1.5h-2.1zM37.8 563.2h2.1v1.5h-2.1zM75.6 563.2h2.1v1.5h-2.1zM132.3 563.2h2.1v1.5h-2.1zM191.1 563.2h2.1v1.5h-2.1zM199.5 563.2h2.1v1.5h-2.1zM245.7 563.2h2.1v1.5h-2.1zM46.2 566.2h2.1v1.5h-2.1zM48.3 566.2h2.1v1.5h-2.1zM25.2 569.2h2.1v1.5h-2.1zM37.8 569.2h2.1v1.5h-2.1zM73.5 569.2h2.1v1.5h-2.1zM92.4 569.2h2.1v1.5h-2.1zM113.4 569.2h2.1v1.5h-2.1zM117.6 569.2h2.1v1.5h-2.1zM138.6 569.2h2.1v1.5h-2.1zM237.3 569.2h2.1v1.5h-2.1zM262.5 569.2h2.1v1.5h-2.1zM279.3 569.2h2.1v1.5h-2.1zM294 569.2h2.1v1.5h-2.1zM2.1 572.2h2.1v1.5h-2.1zM48.3 572.2h2.1v1.5h-2.1zM50.4 572.2h2.1v1.5h-2.1zM75.6 572.2h2.1v1.5h-2.1zM92.4 572.2h2.1v1.5h-2.1zM46.2 575.1h2.1v1.5h-2.1zM67.2 575.1h2.1v1.5h-2.1zM132.3 575.1h2.1v1.5h-2.1zM186.9 575.1h2.1v1.5h-2.1zM8.4 578.1h2.1v1.5h-2.1zM12.6 578.1h2.1v1.5h-2.1zM25.2 578.1h2.1v1.5h-2.1zM33.6 578.1h2.1v1.5h-2.1zM100.8 578.1h2.1v1.5h-2.1zM163.8 578.1h2.1v1.5h-2.1zM168 578.1h2.1v1.5h-2.1zM195.3 578.1h2.1v1.5h-2.1zM289.8 578.1h2.1v1.5h-2.1zM0 581.1h2.1v1.5h-2.1zM4.2 581.1h2.1v1.5h-2.1zM12.6 581.1h2.1v1.5h-2.1zM14.7 581.1h2.1v1.5h-2.1zM18.9 581.1h2.1v1.5h-2.1zM21 581.1h2.1v1.5h-2.1zM37.8 581.1h2.1v1.5h-2.1zM46.2 581.1h2.1v1.5h-2.1zM48.3 581.1h2.1v1.5h-2.1zM77.7 581.1h2.1v1.5h-2.1zM84 581.1h2.1v1.5h-2.1zM113.4 581.1h2.1v1.5h-2.1zM121.8 581.1h2.1v1.5h-2.1zM123.9 581.1h2.1v1.5h-2.1zM132.3 581.1h2.1v1.5h-2.1zM199.5 581.1h2.1v1.5h-2.1zM222.6 581.1h2.1v1.5h-2.1zM266.7 581.1h2.1v1.5h-2.1zM283.5 581.1h2.1v1.5h-2.1zM44.1 584.1h2.1v1.5h-2.1zM67.2 584.1h2.1v1.5h-2.1zM210 584.1h2.1v1.5h-2.1zM10.5 587.1h2.1v1.5h-2.1zM31.5 587.1h2.1v1.5h-2.1zM44.1 587.1h2.1v1.5h-2.1zM107.1 587.1h2.1v1.5h-2.1zM113.4 587.1h2.1v1.5h-2.1zM128.1 587.1h2.1v1.5h-2.1zM136.5 587.1h2.1v1.5h-2.1zM182.7 587.1h2.1v1.5h-2.1zM212.1 587.1h2.1v1.5h-2.1zM216.3 587.1h2.1v1.5h-2.1zM220.5 587.1h2.1v1.5h-2.1zM237.3 587.1h2.1v1.5h-2.1zM283.5 587.1h2.1v1.5h-2.1zM308.7 587.1h2.1v1.5h-2.1zM0 590h2.1v1.5h-2.1zM2.1 590h2.1v1.5h-2.1zM4.2 590h2.1v1.5h-2.1zM73.5 590h2.1v1.5h-2.1zM77.7 590h2.1v1.5h-2.1zM123.9 590h2.1v1.5h-2.1zM128.1 590h2.1v1.5h-2.1zM130.2 590h2.1v1.5h-2.1zM168 590h2.1v1.5h-2.1zM195.3 590h2.1v1.5h-2.1zM207.9 590h2.1v1.5h-2.1zM252 590h2.1v1.5h-2.1zM260.4 590h2.1v1.5h-2.1zM270.9 590h2.1v1.5h-2.1zM306.6 590h2.1v1.5h-2.1zM37.8 593h2.1v1.5h-2.1zM260.4 593h2.1v1.5h-2.1zM0 596h2.1v1.5h-2.1zM25.2 596h2.1v1.5h-2.1zM29.4 596h2.1v1.5h-2.1zM31.5 596h2.1v1.5h-2.1zM44.1 596h2.1v1.5h-2.1zM92.4 596h2.1v1.5h-2.1zM128.1 596h2.1v1.5h-2.1zM165.9 596h2.1v1.5h-2.1zM168 596h2.1v1.5h-2.1zM193.2 596h2.1v1.5h-2.1zM247.8 596h2.1v1.5h-2.1zM256.2 596h2.1v1.5h-2.1zM264.6 596h2.1v1.5h-2.1zM4.2 599h2.1v1.5h-2.1zM44.1 599h2.1v1.5h-2.1zM77.7 599h2.1v1.5h-2.1zM111.3 599h2.1v1.5h-2.1zM147 599h2.1v1.5h-2.1zM178.5 599h2.1v1.5h-2.1zM189 599h2.1v1.5h-2.1zM233.1 599h2.1v1.5h-2.1zM306.6 599h2.1v1.5h-2.1zM23.1 602h2.1v1.5h-2.1zM29.4 602h2.1v1.5h-2.1zM46.2 602h2.1v1.5h-2.1zM56.7 602h2.1v1.5h-2.1zM73.5 602h2.1v1.5h-2.1zM151.2 602h2.1v1.5h-2.1zM186.9 602h2.1v1.5h-2.1zM79.8 604.9h2.1v1.5h-2.1zM228.9 604.9h2.1v1.5h-2.1zM233.1 604.9h2.1v1.5h-2.1zM262.5 604.9h2.1v1.5h-2.1zM266.7 604.9h2.1v1.5h-2.1zM268.8 604.9h2.1v1.5h-2.1zM296.1 604.9h2.1v1.5h-2.1zM298.2 604.9h2.1v1.5h-2.1zM0 607.9h2.1v1.5h-2.1zM73.5 607.9h2.1v1.5h-2.1zM134.4 607.9h2.1v1.5h-2.1zM163.8 607.9h2.1v1.5h-2.1zM201.6 607.9h2.1v1.5h-2.1zM205.8 607.9h2.1v1.5h-2.1zM237.3 607.9h2.1v1.5h-2.1zM241.5 607.9h2.1v1.5h-2.1zM0 610.9h2.1v1.5h-2.1zM48.3 610.9h2.1v1.5h-2.1zM128.1 610.9h2.1v1.5h-2.1zM134.4 610.9h2.1v1.5h-2.1zM136.5 610.9h2.1v1.5h-2.1zM226.8 610.9h2.1v1.5h-2.1zM247.8 610.9h2.1v1.5h-2.1zM298.2 610.9h2.1v1.5h-2.1zM302.4 610.9h2.1v1.5h-2.1zM14.7 613.9h2.1v1.5h-2.1zM58.8 613.9h2.1v1.5h-2.1zM77.7 613.9h2.1v1.5h-2.1zM107.1 613.9h2.1v1.5h-2.1zM113.4 613.9h2.1v1.5h-2.1zM130.2 613.9h2.1v1.5h-2.1zM140.7 613.9h2.1v1.5h-2.1zM144.9 613.9h2.1v1.5h-2.1zM218.4 613.9h2.1v1.5h-2.1zM241.5 613.9h2.1v1.5h-2.1zM243.6 613.9h2.1v1.5h-2.1zM266.7 613.9h2.1v1.5h-2.1zM268.8 613.9h2.1v1.5h-2.1zM310.8 613.9h2.1v1.5h-2.1zM155.4 616.9h2.1v1.5h-2.1zM174.3 616.9h2.1v1.5h-2.1zM203.7 616.9h2.1v1.5h-2.1zM247.8 616.9h2.1v1.5h-2.1zM12.6 619.8h2.1v1.5h-2.1zM88.2 619.8h2.1v1.5h-2.1zM144.9 619.8h2.1v1.5h-2.1zM256.2 619.8h2.1v1.5h-2.1zM264.6 619.8h2.1v1.5h-2.1zM298.2 619.8h2.1v1.5h-2.1zM25.2 622.8h2.1v1.5h-2.1zM46.2 622.8h2.1v1.5h-2.1zM102.9 622.8h2.1v1.5h-2.1zM186.9 622.8h2.1v1.5h-2.1zM226.8 622.8h2.1v1.5h-2.1zM268.8 622.8h2.1v1.5h-2.1zM296.1 622.8h2.1v1.5h-2.1zM218.7 53.6h2.9v1.6h-2.9zM288.3 53.6h3.1v1.6h-3.1zM303 53.6h1.7v1.6h-1.7zM270 53.6h3.6v1.6h-3.6zM152.3 53.6h3.9v1.6h-3.9zM179.9 53.6h3.9v1.6h-3.9zM306.4 53.6h3.3v1.6h-3.3zM229.1 53.6h3.1v1.6h-3.1zM282.5 53.6h1.1v1.6h-1.1zM250.7 53.6h3.6v1.6h-3.6zM179.1 56.6h1.7v1.6h-1.7zM224.5 56.6h3.9v1.6h-3.9zM188.1 56.6h1.7v1.6h-1.7zM258 56.6h3.9v1.6h-3.9zM304.6 56.6h1.7v1.6h-1.7zM188.5 56.6h2.3v1.6h-2.3zM244 56.6h2.1v1.6h-2.1zM286.6 56.6h1.1v1.6h-1.1zM280.7 59.6h3.2v1.6h-3.2zM178.4 59.6h1.5v1.6h-1.5zM158.6 59.6h3.9v1.6h-3.9zM205.2 59.6h2.7v1.6h-2.7zM295.6 59.6h2.8v1.6h-2.8zM183.5 59.6h2.7v1.6h-2.7zM231.8 62.6h3.9v1.6h-3.9zM155.5 62.6h1.8v1.6h-1.8zM275.1 62.6h1.9v1.6h-1.9zM283.6 62.6h3.5v1.6h-3.5zM163.2 62.6h1.3v1.6h-1.3zM239.6 62.6h4v1.6h-4zM212.4 62.6h2.9v1.6h-2.9zM218.6 65.6h2.3v1.6h-2.3zM289.3 65.6h3.5v1.6h-3.5zM295.5 65.6h2.2v1.6h-2.2zM230.5 65.6h3.1v1.6h-3.1zM248.5 68.5h2v1.6h-2zM208.7 68.5h2.4v1.6h-2.4zM288.1 68.5h2.6v1.6h-2.6zM149 68.5h1.1v1.6h-1.1zM175.9 68.5h3.5v1.6h-3.5zM215.4 71.5h2.4v1.6h-2.4zM307.4 74.5h4v1.6h-4zM149.2 74.5h3v1.6h-3zM158.9 74.5h2.2v1.6h-2.2zM177.1 74.5h1.8v1.6h-1.8zM277.9 74.5h1v1.6h-1zM210.7 74.5h1.1v1.6h-1.1zM157.1 77.5h3.3v1.6h-3.3zM163.8 77.5h3.8v1.6h-3.8zM187.1 80.5h2.4v1.6h-2.4zM199.1 80.5h1.1v1.6h-1.1zM235.8 80.5h1.5v1.6h-1.5zM178.1 80.5h3.3v1.6h-3.3zM295.8 80.5h1.2v1.6h-1.2zM244.7 80.5h3.1v1.6h-3.1zM270.3 83.4h2.5v1.6h-2.5zM176.7 83.4h2.1v1.6h-2.1zM174 83.4h1.6v1.6h-1.6zM211 83.4h2.9v1.6h-2.9zM200.5 83.4h2.5v1.6h-2.5zM298.1 83.4h2.9v1.6h-2.9zM188.7 83.4h2v1.6h-2zM298.6 83.4h1.3v1.6h-1.3zM282.1 83.4h2.5v1.6h-2.5zM217.5 83.4h3.7v1.6h-3.7zM225.2 83.4h2.1v1.6h-2.1zM186 86.4h3.5v1.6h-3.5zM224.7 86.4h1.8v1.6h-1.8zM194.6 86.4h1.8v1.6h-1.8zM230.9 86.4h4v1.6h-4zM302.3 86.4h1.1v1.6h-1.1zM203.6 86.4h2.6v1.6h-2.6zM244.5 86.4h2.1v1.6h-2.1zM169.9 89.4h2v1.6h-2zM309.9 89.4h2.2v1.6h-2.2zM216 89.4h2.3v1.6h-2.3zM281.3 89.4h1.1v1.6h-1.1zM196.7 89.4h3v1.6h-3zM269.9 53.6h1.2v1.6h-1.2zM264.6 65.6h2v1.6h-2zM268.2 68.5h1.3v1.6h-1.3zM264.8 74.5h1.5v1.6h-1.5zM267.8 83.4h1.3v1.6h-1.3zM63.7 295h3.1v1.6h-3.1zM60.6 295h1.9v1.6h-1.9zM72.4 301h2.5v1.6h-2.5zM36.7 304h3.8v1.6h-3.8zM19.7 306.9h3.4v1.6h-3.4zM43 309.9h1.6v1.6h-1.6zM12.1 309.9h1.1v1.6h-1.1zM76.2 312.9h2.7v1.6h-2.7zM25.8 312.9h2.8v1.6h-2.8zM11.4 315.9h2.2v1.6h-2.2zM57 321.8h1.9v1.6h-1.9zM19.2 321.8h3.8v1.6h-3.8zM34.1 324.8h1.3v1.6h-1.3zM21.9 324.8h2.1v1.6h-2.1zM78.8 327.8h2.6v1.6h-2.6zM43.2 330.8h1.1v1.6h-1.1zM33 330.8h1.5v1.6h-1.5zM78.9 330.8h2.9v1.6h-2.9zM10.5 333.8h2.5v1.6h-2.5zM22.7 333.8h2.7v1.6h-2.7zM49.8 333.8h1.1v1.6h-1.1zM68.8 333.8h1.9v1.6h-1.9zM12.6 333.8h3.1v1.6h-3.1zM38.3 336.7h3.2v1.6h-3.2zM17.4 339.7h2.1v1.6h-2.1zM81.2 345.7h1.9v1.6h-1.9zM21.3 351.6h3.7v1.6h-3.7zM30.1 351.6h1.4v1.6h-1.4zM2.3 351.6h2.5v1.6h-2.5zM49.5 354.6h1.8v1.6h-1.8zM39.4 354.6h1.9v1.6h-1.9zM30.8 357.6h3.5v1.6h-3.5zM65.3 360.6h2v1.6h-2zM73.6 360.6h1.4v1.6h-1.4zM32 363.6h1.5v1.6h-1.5zM43.7 363.6h2.1v1.6h-2.1zM15.3 369.5h3.1v1.6h-3.1zM77.2 369.5h2v1.6h-2zM52.5 369.5h3.1v1.6h-3.1zM65.5 372.5h1.3v1.6h-1.3zM8.3 375.5h1.9v1.6h-1.9zM49.7 378.5h1.7v1.6h-1.7zM1.1 378.5h2.6v1.6h-2.6zM59 381.4h1.6v1.6h-1.6zM11.5 381.4h2.1v1.6h-2.1zM70.8 384.4h3.1v1.6h-3.1zM50.2 384.4h3.2v1.6h-3.2zM58.3 384.4h1v1.6h-1zM7.5 387.4h1.4v1.6h-1.4zM16.4 390.4h3.3v1.6h-3.3zM43.3 396.3h3.9v1.6h-3.9zM53.1 399.3h3.1v1.6h-3.1zM34.8 405.3h3.8v1.6h-3.8zM38.2 408.3h2.5v1.6h-2.5zM52.8 408.3h3.1v1.6h-3.1zM0.8 411.2h3.6v1.6h-3.6zM13 417.2h1.3v1.6h-1.3zM21.8 479.8h3.3v1.6h-3.3zM15.8 479.8h1.3v1.6h-1.3zM24.3 482.8h3.1v1.6h-3.1zM0.2 488.7h2v1.6h-2zM34.7 491.7h1.5v1.6h-1.5zM18.6 491.7h3.4v1.6h-3.4zM28.7 491.7h2.7v1.6h-2.7zM41.5 497.7h1.9v1.6h-1.9zM3.2 497.7h2.4v1.6h-2.4zM9.1 506.6h3.2v1.6h-3.2zM28.2 506.6h3.5v1.6h-3.5zM16.5 509.6h1.1v1.6h-1.1zM17.3 521.5h1.7v1.6h-1.7zM44.5 527.5h2.2v1.6h-2.2zM3.1 530.4h1.6v1.6h-1.6zM20.9 530.4h2.9v1.6h-2.9zM5.3 536.4h2.4v1.6h-2.4zM25.9 542.4h3.5v1.6h-3.5zM35.6 545.3h2v1.6h-2zM38.4 545.3h2.9v1.6h-2.9zM19.5 548.3h3v1.6h-3zM35.2 548.3h1.4v1.6h-1.4zM32.2 551.3h3.4v1.6h-3.4zM8.7 551.3h1.2v1.6h-1.2zM225 41h8v3h-8zM225 44h8v3h-8zM225 47h8v3h-8zM225 49.9h8v3h-8zM225 52.9h8v3h-8zM282.6 21h16.4v3h-16.4zM282.6 24h16.4v3h-16.4zM6.2 42.3h14.8v3h-14.8zM6.2 45.3h14.8v3h-14.8zM6.2 48.3h14.8v3h-14.8zM6.2 51.2h14.8v3h-14.8zM225 109h9v3h-9zM225 112h9v3h-9zM225 115h9v3h-9zM225 117.9h9v3h-9zM225 120.9h9v3h-9zM225 123.9h9v3h-9zM225 126.9h9v3h-9zM26 411h9.5v3h-9.5zM26 414h9.5v3h-9.5zM26 417h9.5v3h-9.5zM26 419.9h9.5v3h-9.5zM26 422.9h9.5v3h-9.5zM26 425.9h9.5v3h-9.5zM26 428.9h9.5v3h-9.5zM26 431.9h9.5v3h-9.5zM26 434.8h9.5v3h-9.5z"/><path fill="#ffffff" fill-opacity="0.6" d="M6.4 0h1.1v1.8h-1.1zM157.6 3h1.1v1.8h-1.1zM171.6 3h1.1v1.8h-1.1zM40.8 6h1.1v1.8h-1.1zM229.6 6h1.1v1.8h-1.1zM277.2 8.9h1.1v1.8h-1.1zM277.2 11.9h1.1v1.8h-1.1zM70.4 14.9h1.1v1.8h-1.1zM249.6 17.9h1.1v1.8h-1.1zM277.2 17.9h1.1v1.8h-1.1zM6.4 20.9h1.1v1.8h-1.1zM26.2 20.9h1.1v1.8h-1.1zM40.8 20.9h1.1v1.8h-1.1zM171.6 20.9h1.1v1.8h-1.1zM70.4 23.8h1.1v1.8h-1.1zM184.4 23.8h1.1v1.8h-1.1zM70.4 26.8h1.1v1.8h-1.1zM96.4 26.8h1.1v1.8h-1.1zM108.4 26.8h1.1v1.8h-1.1zM300.6 29.8h1.1v1.8h-1.1zM40.8 32.8h1.1v1.8h-1.1zM108.4 32.8h1.1v1.8h-1.1zM70.4 35.8h1.1v1.8h-1.1zM6.4 38.7h1.1v1.8h-1.1zM40.8 38.7h1.1v1.8h-1.1zM171.6 38.7h1.1v1.8h-1.1zM214.4 38.7h1.1v1.8h-1.1zM40.8 41.7h1.1v1.8h-1.1zM40.8 47.7h1.1v1.8h-1.1zM70.4 50.7h1.1v1.8h-1.1zM277.2 53.6h1.1v1.8h-1.1zM70.4 56.6h1.1v1.8h-1.1zM171.6 56.6h1.1v1.8h-1.1zM125 59.6h1.1v1.8h-1.1zM125 62.6h1.1v1.8h-1.1zM171.6 62.6h1.1v1.8h-1.1zM15.4 65.6h1.1v1.8h-1.1zM147.6 65.6h1.1v1.8h-1.1zM40.8 68.5h1.1v1.8h-1.1zM108.4 68.5h1.1v1.8h-1.1zM125 71.5h1.1v1.8h-1.1zM157.6 71.5h1.1v1.8h-1.1zM277.2 71.5h1.1v1.8h-1.1zM40.8 74.5h1.1v1.8h-1.1zM26.2 77.5h1.1v1.8h-1.1zM70.4 77.5h1.1v1.8h-1.1zM184.4 77.5h1.1v1.8h-1.1zM34.4 83.4h1.1v1.8h-1.1zM6.4 89.4h1.1v1.8h-1.1zM70.4 89.4h1.1v1.8h-1.1zM184.4 89.4h1.1v1.8h-1.1zM34.4 95.4h1.1v1.8h-1.1zM249.6 95.4h1.1v1.8h-1.1zM290.4 95.4h1.1v1.8h-1.1zM40.8 104.3h1.1v1.8h-1.1zM214.4 104.3h1.1v1.8h-1.1zM290.4 104.3h1.1v1.8h-1.1zM26.2 107.3h1.1v1.8h-1.1zM34.4 107.3h1.1v1.8h-1.1zM108.4 107.3h1.1v1.8h-1.1zM108.4 110.3h1.1v1.8h-1.1zM147.6 113.2h1.1v1.8h-1.1zM70.4 119.2h1.1v1.8h-1.1zM257.2 119.2h1.1v1.8h-1.1zM70.4 122.2h1.1v1.8h-1.1zM96.4 125.2h1.1v1.8h-1.1zM257.2 125.2h1.1v1.8h-1.1zM125 128.1h1.1v1.8h-1.1zM40.8 131.1h1.1v1.8h-1.1zM108.4 131.1h1.1v1.8h-1.1zM277.2 131.1h1.1v1.8h-1.1zM70.4 134.1h1.1v1.8h-1.1zM249.6 134.1h1.1v1.8h-1.1zM257.2 134.1h1.1v1.8h-1.1zM125 137.1h1.1v1.8h-1.1zM40.8 143h1.1v1.8h-1.1zM40.8 146h1.1v1.8h-1.1zM96.4 146h1.1v1.8h-1.1zM229.6 146h1.1v1.8h-1.1zM108.4 149h1.1v1.8h-1.1zM229.6 149h1.1v1.8h-1.1zM249.6 149h1.1v1.8h-1.1zM257.2 149h1.1v1.8h-1.1zM6.4 152h1.1v1.8h-1.1zM277.2 152h1.1v1.8h-1.1zM26.2 155h1.1v1.8h-1.1zM70.4 157.9h1.1v1.8h-1.1zM26.2 160.9h1.1v1.8h-1.1zM40.8 160.9h1.1v1.8h-1.1zM108.4 160.9h1.1v1.8h-1.1zM277.2 160.9h1.1v1.8h-1.1zM214.4 163.9h1.1v1.8h-1.1zM290.4 163.9h1.1v1.8h-1.1zM70.4 166.9h1.1v1.8h-1.1zM184.4 169.9h1.1v1.8h-1.1zM277.2 169.9h1.1v1.8h-1.1zM40.8 172.8h1.1v1.8h-1.1zM157.6 175.8h1.1v1.8h-1.1zM277.2 178.8h1.1v1.8h-1.1zM229.6 181.8h1.1v1.8h-1.1zM70.4 184.8h1.1v1.8h-1.1zM108.4 184.8h1.1v1.8h-1.1zM290.4 184.8h1.1v1.8h-1.1zM40.8 187.7h1.1v1.8h-1.1zM70.4 187.7h1.1v1.8h-1.1zM96.4 187.7h1.1v1.8h-1.1zM114.4 187.7h1.1v1.8h-1.1zM257.2 187.7h1.1v1.8h-1.1zM26.2 190.7h1.1v1.8h-1.1zM40.8 190.7h1.1v1.8h-1.1zM229.6 190.7h1.1v1.8h-1.1zM277.2 190.7h1.1v1.8h-1.1zM300.6 190.7h1.1v1.8h-1.1zM184.4 193.7h1.1v1.8h-1.1zM277.2 193.7h1.1v1.8h-1.1zM40.8 196.7h1.1v1.8h-1.1zM114.4 196.7h1.1v1.8h-1.1zM171.6 199.7h1.1v1.8h-1.1zM26.2 202.6h1.1v1.8h-1.1zM125 208.6h1.1v1.8h-1.1zM277.2 208.6h1.1v1.8h-1.1zM40.8 211.6h1.1v1.8h-1.1zM214.4 211.6h1.1v1.8h-1.1zM300.6 211.6h1.1v1.8h-1.1zM157.6 217.5h1.1v1.8h-1.1zM214.4 217.5h1.1v1.8h-1.1zM300.6 217.5h1.1v1.8h-1.1zM6.4 220.5h1.1v1.8h-1.1zM15.4 220.5h1.1v1.8h-1.1zM108.4 220.5h1.1v1.8h-1.1zM70.4 223.5h1.1v1.8h-1.1zM96.4 223.5h1.1v1.8h-1.1zM114.4 223.5h1.1v1.8h-1.1zM249.6 223.5h1.1v1.8h-1.1zM290.4 226.5h1.1v1.8h-1.1zM300.6 226.5h1.1v1.8h-1.1zM26.2 229.5h1.1v1.8h-1.1zM40.8 229.5h1.1v1.8h-1.1zM214.4 229.5h1.1v1.8h-1.1zM229.6 229.5h1.1v1.8h-1.1zM40.8 235.4h1.1v1.8h-1.1zM249.6 235.4h1.1v1.8h-1.1zM34.4 238.4h1.1v1.8h-1.1zM70.4 241.4h1.1v1.8h-1.1zM85.4 241.4h1.1v1.8h-1.1zM184.4 241.4h1.1v1.8h-1.1zM249.6 244.4h1.1v1.8h-1.1zM257.2 244.4h1.1v1.8h-1.1zM26.2 247.3h1.1v1.8h-1.1zM125 247.3h1.1v1.8h-1.1zM157.6 247.3h1.1v1.8h-1.1zM229.6 247.3h1.1v1.8h-1.1zM26.2 250.3h1.1v1.8h-1.1zM40.8 250.3h1.1v1.8h-1.1zM70.4 250.3h1.1v1.8h-1.1zM70.4 253.3h1.1v1.8h-1.1zM70.4 256.3h1.1v1.8h-1.1zM108.4 256.3h1.1v1.8h-1.1zM6.4 262.2h1.1v1.8h-1.1zM125 262.2h1.1v1.8h-1.1zM257.2 262.2h1.1v1.8h-1.1zM300.6 262.2h1.1v1.8h-1.1zM171.6 265.2h1.1v1.8h-1.1zM147.6 268.2h1.1v1.8h-1.1zM277.2 268.2h1.1v1.8h-1.1zM290.4 268.2h1.1v1.8h-1.1zM70.4 271.2h1.1v1.8h-1.1zM108.4 271.2h1.1v1.8h-1.1zM125 271.2h1.1v1.8h-1.1zM229.6 271.2h1.1v1.8h-1.1zM290.4 271.2h1.1v1.8h-1.1zM300.6 274.2h1.1v1.8h-1.1zM26.2 277.1h1.1v1.8h-1.1zM171.6 277.1h1.1v1.8h-1.1zM6.4 280.1h1.1v1.8h-1.1zM108.4 280.1h1.1v1.8h-1.1zM300.6 280.1h1.1v1.8h-1.1zM26.2 283.1h1.1v1.8h-1.1zM40.8 283.1h1.1v1.8h-1.1zM40.8 289.1h1.1v1.8h-1.1zM70.4 289.1h1.1v1.8h-1.1zM15.4 295h1.1v1.8h-1.1zM147.6 298h1.1v1.8h-1.1zM214.4 298h1.1v1.8h-1.1zM229.6 298h1.1v1.8h-1.1zM114.4 301h1.1v1.8h-1.1zM125 301h1.1v1.8h-1.1zM171.6 301h1.1v1.8h-1.1zM229.6 301h1.1v1.8h-1.1zM157.6 304h1.1v1.8h-1.1zM108.4 306.9h1.1v1.8h-1.1zM147.6 306.9h1.1v1.8h-1.1zM26.2 309.9h1.1v1.8h-1.1zM70.4 309.9h1.1v1.8h-1.1zM96.4 309.9h1.1v1.8h-1.1zM257.2 312.9h1.1v1.8h-1.1zM70.4 315.9h1.1v1.8h-1.1zM40.8 318.9h1.1v1.8h-1.1zM157.6 318.9h1.1v1.8h-1.1zM249.6 321.8h1.1v1.8h-1.1zM40.8 324.8h1.1v1.8h-1.1zM290.4 324.8h1.1v1.8h-1.1zM40.8 327.8h1.1v1.8h-1.1zM96.4 330.8h1.1v1.8h-1.1zM147.6 330.8h1.1v1.8h-1.1zM277.2 333.8h1.1v1.8h-1.1zM108.4 339.7h1.1v1.8h-1.1zM34.4 342.7h1.1v1.8h-1.1zM96.4 342.7h1.1v1.8h-1.1zM26.2 348.7h1.1v1.8h-1.1zM34.4 348.7h1.1v1.8h-1.1zM85.4 348.7h1.1v1.8h-1.1zM108.4 351.6h1.1v1.8h-1.1zM229.6 351.6h1.1v1.8h-1.1zM229.6 354.6h1.1v1.8h-1.1zM229.6 357.6h1.1v1.8h-1.1zM171.6 360.6h1.1v1.8h-1.1zM96.4 369.5h1.1v1.8h-1.1zM300.6 372.5h1.1v1.8h-1.1zM15.4 378.5h1.1v1.8h-1.1zM125 378.5h1.1v1.8h-1.1zM257.2 378.5h1.1v1.8h-1.1zM290.4 378.5h1.1v1.8h-1.1zM70.4 381.4h1.1v1.8h-1.1zM229.6 384.4h1.1v1.8h-1.1zM184.4 387.4h1.1v1.8h-1.1zM40.8 390.4h1.1v1.8h-1.1zM277.2 390.4h1.1v1.8h-1.1zM290.4 390.4h1.1v1.8h-1.1zM70.4 393.4h1.1v1.8h-1.1zM26.2 396.3h1.1v1.8h-1.1zM40.8 399.3h1.1v1.8h-1.1zM6.4 402.3h1.1v1.8h-1.1zM15.4 402.3h1.1v1.8h-1.1zM257.2 405.3h1.1v1.8h-1.1zM70.4 408.3h1.1v1.8h-1.1zM108.4 411.2h1.1v1.8h-1.1zM157.6 411.2h1.1v1.8h-1.1zM249.6 411.2h1.1v1.8h-1.1zM34.4 414.2h1.1v1.8h-1.1zM147.6 414.2h1.1v1.8h-1.1zM171.6 414.2h1.1v1.8h-1.1zM70.4 417.2h1.1v1.8h-1.1zM277.2 417.2h1.1v1.8h-1.1zM40.8 420.2h1.1v1.8h-1.1zM70.4 420.2h1.1v1.8h-1.1zM96.4 426.1h1.1v1.8h-1.1zM147.6 426.1h1.1v1.8h-1.1zM277.2 426.1h1.1v1.8h-1.1zM6.4 429.1h1.1v1.8h-1.1zM249.6 429.1h1.1v1.8h-1.1zM147.6 432.1h1.1v1.8h-1.1zM26.2 438.1h1.1v1.8h-1.1zM6.4 441h1.1v1.8h-1.1zM147.6 441h1.1v1.8h-1.1zM277.2 441h1.1v1.8h-1.1zM70.4 450h1.1v1.8h-1.1zM147.6 450h1.1v1.8h-1.1zM184.4 450h1.1v1.8h-1.1zM40.8 453h1.1v1.8h-1.1zM70.4 455.9h1.1v1.8h-1.1zM85.4 455.9h1.1v1.8h-1.1zM125 461.9h1.1v1.8h-1.1zM257.2 461.9h1.1v1.8h-1.1zM70.4 464.9h1.1v1.8h-1.1zM85.4 464.9h1.1v1.8h-1.1zM229.6 464.9h1.1v1.8h-1.1zM6.4 467.9h1.1v1.8h-1.1zM40.8 467.9h1.1v1.8h-1.1zM229.6 467.9h1.1v1.8h-1.1zM277.2 467.9h1.1v1.8h-1.1zM15.4 470.8h1.1v1.8h-1.1zM40.8 470.8h1.1v1.8h-1.1zM70.4 470.8h1.1v1.8h-1.1zM114.4 470.8h1.1v1.8h-1.1zM157.6 473.8h1.1v1.8h-1.1zM257.2 473.8h1.1v1.8h-1.1zM26.2 476.8h1.1v1.8h-1.1zM6.4 479.8h1.1v1.8h-1.1zM125 479.8h1.1v1.8h-1.1zM6.4 482.8h1.1v1.8h-1.1zM125 482.8h1.1v1.8h-1.1zM257.2 482.8h1.1v1.8h-1.1zM26.2 485.7h1.1v1.8h-1.1zM70.4 485.7h1.1v1.8h-1.1zM229.6 485.7h1.1v1.8h-1.1zM26.2 491.7h1.1v1.8h-1.1zM157.6 491.7h1.1v1.8h-1.1zM6.4 494.7h1.1v1.8h-1.1zM125 494.7h1.1v1.8h-1.1zM257.2 494.7h1.1v1.8h-1.1zM171.6 497.7h1.1v1.8h-1.1zM249.6 497.7h1.1v1.8h-1.1zM257.2 497.7h1.1v1.8h-1.1zM114.4 506.6h1.1v1.8h-1.1zM26.2 509.6h1.1v1.8h-1.1zM249.6 509.6h1.1v1.8h-1.1zM147.6 515.5h1.1v1.8h-1.1zM171.6 515.5h1.1v1.8h-1.1zM229.6 515.5h1.1v1.8h-1.1zM26.2 518.5h1.1v1.8h-1.1zM257.2 518.5h1.1v1.8h-1.1zM300.6 518.5h1.1v1.8h-1.1zM40.8 521.5h1.1v1.8h-1.1zM257.2 521.5h1.1v1.8h-1.1zM70.4 527.5h1.1v1.8h-1.1zM125 527.5h1.1v1.8h-1.1zM184.4 527.5h1.1v1.8h-1.1zM26.2 530.4h1.1v1.8h-1.1zM125 533.4h1.1v1.8h-1.1zM96.4 539.4h1.1v1.8h-1.1zM277.2 539.4h1.1v1.8h-1.1zM26.2 542.4h1.1v1.8h-1.1zM26.2 551.3h1.1v1.8h-1.1zM70.4 551.3h1.1v1.8h-1.1zM114.4 551.3h1.1v1.8h-1.1zM249.6 551.3h1.1v1.8h-1.1zM300.6 551.3h1.1v1.8h-1.1zM6.4 554.3h1.1v1.8h-1.1zM108.4 554.3h1.1v1.8h-1.1zM277.2 554.3h1.1v1.8h-1.1zM40.8 560.2h1.1v1.8h-1.1zM85.4 560.2h1.1v1.8h-1.1zM157.6 560.2h1.1v1.8h-1.1zM26.2 566.2h1.1v1.8h-1.1zM290.4 566.2h1.1v1.8h-1.1zM85.4 572.2h1.1v1.8h-1.1zM171.6 572.2h1.1v1.8h-1.1zM85.4 575.1h1.1v1.8h-1.1zM157.6 575.1h1.1v1.8h-1.1zM40.8 578.1h1.1v1.8h-1.1zM70.4 578.1h1.1v1.8h-1.1zM125 578.1h1.1v1.8h-1.1zM125 581.1h1.1v1.8h-1.1zM171.6 587.1h1.1v1.8h-1.1zM300.6 587.1h1.1v1.8h-1.1zM96.4 590h1.1v1.8h-1.1zM15.4 593h1.1v1.8h-1.1zM40.8 596h1.1v1.8h-1.1zM96.4 596h1.1v1.8h-1.1zM114.4 596h1.1v1.8h-1.1zM257.2 596h1.1v1.8h-1.1zM125 602h1.1v1.8h-1.1zM290.4 602h1.1v1.8h-1.1zM40.8 604.9h1.1v1.8h-1.1zM15.4 607.9h1.1v1.8h-1.1zM40.8 607.9h1.1v1.8h-1.1zM277.2 607.9h1.1v1.8h-1.1zM70.4 610.9h1.1v1.8h-1.1zM114.4 610.9h1.1v1.8h-1.1zM277.2 613.9h1.1v1.8h-1.1zM171.6 616.9h1.1v1.8h-1.1zM70.4 619.8h1.1v1.8h-1.1zM258 387.4h2.5v1.8h-2.5zM258 423.2h2.5v1.8h-2.5zM258 426.1h2.5v1.8h-2.5zM258 447h2.5v1.8h-2.5zM258 453h2.5v1.8h-2.5zM258 482.8h2.5v1.8h-2.5zM258 485.7h2.5v1.8h-2.5zM258 497.7h2.5v1.8h-2.5zM258 503.6h2.5v1.8h-2.5zM258 506.6h2.5v1.8h-2.5zM258 548.3h2.5v1.8h-2.5zM258 554.3h2.5v1.8h-2.5zM258 587.1h2.5v1.8h-2.5zM267.1 59.6h1.5v1.6h-1.5zM268.3 65.6h1.8v1.6h-1.8zM269 77.5h2.5v1.6h-2.5zM267.4 80.5h2.6v1.6h-2.6zM149.6 506h0.4v1.9h-0.4zM144 511.9h4.3v1.9h-4.3zM148.4 511.9h1.6v1.9h-1.6zM147.4 514.9h2.6v1.9h-2.6zM147.6 520.9h2.4v1.9h-2.4zM147.6 526.8h2.4v1.9h-2.4zM127.4 580h4.6v1.4h-4.6zM103 583h3.1v1.4h-3.1zM131.2 583h0.8v1.4h-0.8zM124.2 586h6.3v1.4h-6.3zM129.7 591.9h2.3v1.4h-2.3zM106.4 594.9h6.7v1.4h-6.7zM126.6 594.9h5.3v1.4h-5.3zM124.3 600.9h4.8v1.4h-4.8z"/><path fill="#ffffff" fill-opacity="0.4" d="M8.4 0h2.1v1.5h-2.1zM102.9 0h2.1v1.5h-2.1zM119.7 0h2.1v1.5h-2.1zM2.1 3h2.1v1.5h-2.1zM153.3 3h2.1v1.5h-2.1zM180.6 3h2.1v1.5h-2.1zM212.1 3h2.1v1.5h-2.1zM264.6 3h2.1v1.5h-2.1zM102.9 6h2.1v1.5h-2.1zM136.5 6h2.1v1.5h-2.1zM138.6 6h2.1v1.5h-2.1zM10.5 8.9h2.1v1.5h-2.1zM44.1 8.9h2.1v1.5h-2.1zM123.9 8.9h2.1v1.5h-2.1zM128.1 8.9h2.1v1.5h-2.1zM144.9 8.9h2.1v1.5h-2.1zM270.9 8.9h2.1v1.5h-2.1zM281.4 8.9h2.1v1.5h-2.1zM285.6 8.9h2.1v1.5h-2.1zM296.1 8.9h2.1v1.5h-2.1zM304.5 8.9h2.1v1.5h-2.1zM247.8 11.9h2.1v1.5h-2.1zM270.9 11.9h2.1v1.5h-2.1zM10.5 14.9h2.1v1.5h-2.1zM31.5 14.9h2.1v1.5h-2.1zM37.8 14.9h2.1v1.5h-2.1zM73.5 14.9h2.1v1.5h-2.1zM138.6 14.9h2.1v1.5h-2.1zM153.3 14.9h2.1v1.5h-2.1zM159.6 14.9h2.1v1.5h-2.1zM174.3 14.9h2.1v1.5h-2.1zM178.5 14.9h2.1v1.5h-2.1zM191.1 14.9h2.1v1.5h-2.1zM205.8 14.9h2.1v1.5h-2.1zM220.5 14.9h2.1v1.5h-2.1zM233.1 14.9h2.1v1.5h-2.1zM275.1 14.9h2.1v1.5h-2.1zM308.7 14.9h2.1v1.5h-2.1zM123.9 17.9h2.1v1.5h-2.1zM151.2 17.9h2.1v1.5h-2.1zM180.6 17.9h2.1v1.5h-2.1zM270.9 17.9h2.1v1.5h-2.1zM312.9 17.9h1.1v1.5h-1.1zM31.5 20.9h2.1v1.5h-2.1zM153.3 20.9h2.1v1.5h-2.1zM226.8 20.9h2.1v1.5h-2.1zM298.2 23.8h2.1v1.5h-2.1zM147 26.8h2.1v1.5h-2.1zM241.5 26.8h2.1v1.5h-2.1zM273 26.8h2.1v1.5h-2.1zM50.4 29.8h2.1v1.5h-2.1zM18.9 35.8h2.1v1.5h-2.1zM212.1 41.7h2.1v1.5h-2.1zM237.3 41.7h2.1v1.5h-2.1zM268.8 41.7h2.1v1.5h-2.1zM247.8 44.7h2.1v1.5h-2.1zM254.1 44.7h2.1v1.5h-2.1zM266.7 47.7h2.1v1.5h-2.1zM308.7 47.7h2.1v1.5h-2.1zM12.6 53.6h2.1v1.5h-2.1zM205.8 53.6h2.1v1.5h-2.1zM176.4 56.6h2.1v1.5h-2.1zM163.8 59.6h2.1v1.5h-2.1zM29.4 65.6h2.1v1.5h-2.1zM224.7 65.6h2.1v1.5h-2.1zM268.8 65.6h2.1v1.5h-2.1zM294 65.6h2.1v1.5h-2.1zM144.9 68.5h2.1v1.5h-2.1zM178.5 68.5h2.1v1.5h-2.1zM73.5 71.5h2.1v1.5h-2.1zM222.6 74.5h2.1v1.5h-2.1zM243.6 74.5h2.1v1.5h-2.1zM111.3 77.5h2.1v1.5h-2.1zM268.8 77.5h2.1v1.5h-2.1zM161.7 80.5h2.1v1.5h-2.1zM84 83.4h2.1v1.5h-2.1zM90.3 83.4h2.1v1.5h-2.1zM226.8 83.4h2.1v1.5h-2.1zM237.3 83.4h2.1v1.5h-2.1zM92.4 86.4h2.1v1.5h-2.1zM98.7 86.4h2.1v1.5h-2.1zM165.9 86.4h2.1v1.5h-2.1zM216.3 86.4h2.1v1.5h-2.1zM233.1 89.4h2.1v1.5h-2.1zM21 92.4h2.1v1.5h-2.1zM111.3 92.4h2.1v1.5h-2.1zM147 95.4h2.1v1.5h-2.1zM161.7 95.4h2.1v1.5h-2.1zM212.1 98.3h2.1v1.5h-2.1zM245.7 98.3h2.1v1.5h-2.1zM2.1 104.3h2.1v1.5h-2.1zM220.5 104.3h2.1v1.5h-2.1zM142.8 107.3h2.1v1.5h-2.1zM65.1 110.3h2.1v1.5h-2.1zM119.7 110.3h2.1v1.5h-2.1zM155.4 110.3h2.1v1.5h-2.1zM168 110.3h2.1v1.5h-2.1zM285.6 113.2h2.1v1.5h-2.1zM63 116.2h2.1v1.5h-2.1zM79.8 122.2h2.1v1.5h-2.1zM130.2 122.2h2.1v1.5h-2.1zM134.4 122.2h2.1v1.5h-2.1zM254.1 122.2h2.1v1.5h-2.1zM304.5 122.2h2.1v1.5h-2.1zM159.6 125.2h2.1v1.5h-2.1zM142.8 128.1h2.1v1.5h-2.1zM39.9 134.1h2.1v1.5h-2.1zM216.3 134.1h2.1v1.5h-2.1zM10.5 137.1h2.1v1.5h-2.1zM23.1 137.1h2.1v1.5h-2.1zM33.6 137.1h2.1v1.5h-2.1zM170.1 137.1h2.1v1.5h-2.1zM195.3 137.1h2.1v1.5h-2.1zM197.4 137.1h2.1v1.5h-2.1zM247.8 137.1h2.1v1.5h-2.1zM283.5 137.1h2.1v1.5h-2.1zM31.5 143h2.1v1.5h-2.1zM56.7 143h2.1v1.5h-2.1zM308.7 143h2.1v1.5h-2.1zM10.5 146h2.1v1.5h-2.1zM302.4 146h2.1v1.5h-2.1zM2.1 149h2.1v1.5h-2.1zM23.1 149h2.1v1.5h-2.1zM77.7 149h2.1v1.5h-2.1zM235.2 152h2.1v1.5h-2.1zM2.1 157.9h2.1v1.5h-2.1zM140.7 157.9h2.1v1.5h-2.1zM121.8 160.9h2.1v1.5h-2.1zM128.1 160.9h2.1v1.5h-2.1zM155.4 160.9h2.1v1.5h-2.1zM63 169.9h2.1v1.5h-2.1zM119.7 169.9h2.1v1.5h-2.1zM245.7 169.9h2.1v1.5h-2.1zM226.8 172.8h2.1v1.5h-2.1zM304.5 172.8h2.1v1.5h-2.1zM252 175.8h2.1v1.5h-2.1zM33.6 181.8h2.1v1.5h-2.1zM73.5 181.8h2.1v1.5h-2.1zM163.8 181.8h2.1v1.5h-2.1zM220.5 181.8h2.1v1.5h-2.1zM4.2 184.8h2.1v1.5h-2.1zM33.6 184.8h2.1v1.5h-2.1zM54.6 184.8h2.1v1.5h-2.1zM73.5 187.7h2.1v1.5h-2.1zM107.1 187.7h2.1v1.5h-2.1zM136.5 187.7h2.1v1.5h-2.1zM205.8 187.7h2.1v1.5h-2.1zM56.7 190.7h2.1v1.5h-2.1zM182.7 190.7h2.1v1.5h-2.1zM123.9 193.7h2.1v1.5h-2.1zM182.7 193.7h2.1v1.5h-2.1zM212.1 193.7h2.1v1.5h-2.1zM67.2 196.7h2.1v1.5h-2.1zM75.6 196.7h2.1v1.5h-2.1zM199.5 196.7h2.1v1.5h-2.1zM270.9 196.7h2.1v1.5h-2.1zM44.1 199.7h2.1v1.5h-2.1zM270.9 199.7h2.1v1.5h-2.1zM306.6 199.7h2.1v1.5h-2.1zM205.8 202.6h2.1v1.5h-2.1zM247.8 202.6h2.1v1.5h-2.1zM107.1 205.6h2.1v1.5h-2.1zM153.3 211.6h2.1v1.5h-2.1zM268.8 211.6h2.1v1.5h-2.1zM105 214.6h2.1v1.5h-2.1zM10.5 217.5h2.1v1.5h-2.1zM81.9 217.5h2.1v1.5h-2.1zM165.9 217.5h2.1v1.5h-2.1zM4.2 220.5h2.1v1.5h-2.1zM37.8 220.5h2.1v1.5h-2.1zM58.8 220.5h2.1v1.5h-2.1zM84 220.5h2.1v1.5h-2.1zM128.1 220.5h2.1v1.5h-2.1zM212.1 220.5h2.1v1.5h-2.1zM275.1 220.5h2.1v1.5h-2.1zM132.3 223.5h2.1v1.5h-2.1zM264.6 223.5h2.1v1.5h-2.1zM12.6 226.5h2.1v1.5h-2.1zM48.3 226.5h2.1v1.5h-2.1zM201.6 229.5h2.1v1.5h-2.1zM107.1 232.4h2.1v1.5h-2.1zM237.3 232.4h2.1v1.5h-2.1zM310.8 232.4h2.1v1.5h-2.1zM67.2 235.4h2.1v1.5h-2.1zM130.2 235.4h2.1v1.5h-2.1zM63 244.4h2.1v1.5h-2.1zM142.8 244.4h2.1v1.5h-2.1zM163.8 244.4h2.1v1.5h-2.1zM264.6 244.4h2.1v1.5h-2.1zM268.8 247.3h2.1v1.5h-2.1zM67.2 250.3h2.1v1.5h-2.1zM100.8 250.3h2.1v1.5h-2.1zM233.1 253.3h2.1v1.5h-2.1zM285.6 253.3h2.1v1.5h-2.1zM201.6 256.3h2.1v1.5h-2.1zM298.2 256.3h2.1v1.5h-2.1zM176.4 262.2h2.1v1.5h-2.1zM25.2 265.2h2.1v1.5h-2.1zM48.3 265.2h2.1v1.5h-2.1zM54.6 265.2h2.1v1.5h-2.1zM58.8 265.2h2.1v1.5h-2.1zM88.2 268.2h2.1v1.5h-2.1zM220.5 268.2h2.1v1.5h-2.1zM283.5 268.2h2.1v1.5h-2.1zM4.2 271.2h2.1v1.5h-2.1zM29.4 271.2h2.1v1.5h-2.1zM123.9 271.2h2.1v1.5h-2.1zM165.9 271.2h2.1v1.5h-2.1zM226.8 271.2h2.1v1.5h-2.1zM247.8 271.2h2.1v1.5h-2.1zM252 271.2h2.1v1.5h-2.1zM270.9 271.2h2.1v1.5h-2.1zM302.4 271.2h2.1v1.5h-2.1zM73.5 274.2h2.1v1.5h-2.1zM132.3 274.2h2.1v1.5h-2.1zM226.8 274.2h2.1v1.5h-2.1zM67.2 277.1h2.1v1.5h-2.1zM136.5 277.1h2.1v1.5h-2.1zM163.8 277.1h2.1v1.5h-2.1zM105 280.1h2.1v1.5h-2.1zM144.9 280.1h2.1v1.5h-2.1zM275.1 280.1h2.1v1.5h-2.1zM37.8 283.1h2.1v1.5h-2.1zM136.5 283.1h2.1v1.5h-2.1zM176.4 283.1h2.1v1.5h-2.1zM260.4 283.1h2.1v1.5h-2.1zM296.1 283.1h2.1v1.5h-2.1zM312.9 286.1h1.1v1.5h-1.1zM31.5 289.1h2.1v1.5h-2.1zM56.7 289.1h2.1v1.5h-2.1zM92.4 289.1h2.1v1.5h-2.1zM119.7 289.1h2.1v1.5h-2.1zM199.5 289.1h2.1v1.5h-2.1zM226.8 289.1h2.1v1.5h-2.1zM306.6 289.1h2.1v1.5h-2.1zM88.2 292h2.1v1.5h-2.1zM218.4 292h2.1v1.5h-2.1zM294 292h2.1v1.5h-2.1zM21 295h2.1v1.5h-2.1zM155.4 295h2.1v1.5h-2.1zM289.8 295h2.1v1.5h-2.1zM308.7 295h2.1v1.5h-2.1zM216.3 298h2.1v1.5h-2.1zM138.6 301h2.1v1.5h-2.1zM180.6 301h2.1v1.5h-2.1zM252 301h2.1v1.5h-2.1zM117.6 304h2.1v1.5h-2.1zM132.3 304h2.1v1.5h-2.1zM193.2 304h2.1v1.5h-2.1zM203.7 304h2.1v1.5h-2.1zM8.4 306.9h2.1v1.5h-2.1zM31.5 306.9h2.1v1.5h-2.1zM94.5 306.9h2.1v1.5h-2.1zM105 306.9h2.1v1.5h-2.1zM218.4 306.9h2.1v1.5h-2.1zM222.6 306.9h2.1v1.5h-2.1zM239.4 306.9h2.1v1.5h-2.1zM39.9 309.9h2.1v1.5h-2.1zM283.5 312.9h2.1v1.5h-2.1zM56.7 315.9h2.1v1.5h-2.1zM287.7 315.9h2.1v1.5h-2.1zM21 318.9h2.1v1.5h-2.1zM100.8 318.9h2.1v1.5h-2.1zM33.6 321.8h2.1v1.5h-2.1zM46.2 321.8h2.1v1.5h-2.1zM153.3 321.8h2.1v1.5h-2.1zM247.8 321.8h2.1v1.5h-2.1zM304.5 321.8h2.1v1.5h-2.1zM130.2 324.8h2.1v1.5h-2.1zM275.1 324.8h2.1v1.5h-2.1zM210 327.8h2.1v1.5h-2.1zM54.6 330.8h2.1v1.5h-2.1zM195.3 330.8h2.1v1.5h-2.1zM212.1 330.8h2.1v1.5h-2.1zM224.7 330.8h2.1v1.5h-2.1zM168 333.8h2.1v1.5h-2.1zM8.4 336.7h2.1v1.5h-2.1zM144.9 336.7h2.1v1.5h-2.1zM220.5 336.7h2.1v1.5h-2.1zM228.9 336.7h2.1v1.5h-2.1zM304.5 336.7h2.1v1.5h-2.1zM4.2 345.7h2.1v1.5h-2.1zM81.9 345.7h2.1v1.5h-2.1zM153.3 345.7h2.1v1.5h-2.1zM12.6 351.6h2.1v1.5h-2.1zM218.4 351.6h2.1v1.5h-2.1zM241.5 351.6h2.1v1.5h-2.1zM75.6 354.6h2.1v1.5h-2.1zM119.7 354.6h2.1v1.5h-2.1zM180.6 354.6h2.1v1.5h-2.1zM218.4 354.6h2.1v1.5h-2.1zM37.8 357.6h2.1v1.5h-2.1zM121.8 357.6h2.1v1.5h-2.1zM140.7 357.6h2.1v1.5h-2.1zM239.4 357.6h2.1v1.5h-2.1zM247.8 357.6h2.1v1.5h-2.1zM266.7 357.6h2.1v1.5h-2.1zM228.9 360.6h2.1v1.5h-2.1zM262.5 360.6h2.1v1.5h-2.1zM306.6 360.6h2.1v1.5h-2.1zM197.4 366.5h2.1v1.5h-2.1zM285.6 369.5h2.1v1.5h-2.1zM31.5 372.5h2.1v1.5h-2.1zM48.3 372.5h2.1v1.5h-2.1zM73.5 372.5h2.1v1.5h-2.1zM75.6 372.5h2.1v1.5h-2.1zM37.8 375.5h2.1v1.5h-2.1zM199.5 375.5h2.1v1.5h-2.1zM296.1 375.5h2.1v1.5h-2.1zM23.1 378.5h2.1v1.5h-2.1zM220.5 378.5h2.1v1.5h-2.1zM279.3 378.5h2.1v1.5h-2.1zM100.8 381.4h2.1v1.5h-2.1zM289.8 381.4h2.1v1.5h-2.1zM0 384.4h2.1v1.5h-2.1zM128.1 384.4h2.1v1.5h-2.1zM302.4 384.4h2.1v1.5h-2.1zM54.6 387.4h2.1v1.5h-2.1zM105 387.4h2.1v1.5h-2.1zM23.1 390.4h2.1v1.5h-2.1zM155.4 390.4h2.1v1.5h-2.1zM75.6 393.4h2.1v1.5h-2.1zM283.5 396.3h2.1v1.5h-2.1zM100.8 399.3h2.1v1.5h-2.1zM113.4 399.3h2.1v1.5h-2.1zM147 399.3h2.1v1.5h-2.1zM210 399.3h2.1v1.5h-2.1zM10.5 402.3h2.1v1.5h-2.1zM176.4 402.3h2.1v1.5h-2.1zM92.4 405.3h2.1v1.5h-2.1zM107.1 405.3h2.1v1.5h-2.1zM113.4 405.3h2.1v1.5h-2.1zM268.8 405.3h2.1v1.5h-2.1zM310.8 405.3h2.1v1.5h-2.1zM92.4 408.3h2.1v1.5h-2.1zM98.7 408.3h2.1v1.5h-2.1zM100.8 408.3h2.1v1.5h-2.1zM117.6 408.3h2.1v1.5h-2.1zM161.7 408.3h2.1v1.5h-2.1zM165.9 408.3h2.1v1.5h-2.1zM294 408.3h2.1v1.5h-2.1zM306.6 408.3h2.1v1.5h-2.1zM67.2 411.2h2.1v1.5h-2.1zM151.2 411.2h2.1v1.5h-2.1zM247.8 411.2h2.1v1.5h-2.1zM56.7 414.2h2.1v1.5h-2.1zM130.2 414.2h2.1v1.5h-2.1zM176.4 414.2h2.1v1.5h-2.1zM222.6 414.2h2.1v1.5h-2.1zM237.3 414.2h2.1v1.5h-2.1zM247.8 414.2h2.1v1.5h-2.1zM90.3 423.2h2.1v1.5h-2.1zM117.6 423.2h2.1v1.5h-2.1zM119.7 423.2h2.1v1.5h-2.1zM142.8 423.2h2.1v1.5h-2.1zM233.1 423.2h2.1v1.5h-2.1zM262.5 423.2h2.1v1.5h-2.1zM18.9 426.1h2.1v1.5h-2.1zM178.5 426.1h2.1v1.5h-2.1zM75.6 429.1h2.1v1.5h-2.1zM12.6 432.1h2.1v1.5h-2.1zM14.7 432.1h2.1v1.5h-2.1zM79.8 432.1h2.1v1.5h-2.1zM134.4 432.1h2.1v1.5h-2.1zM245.7 432.1h2.1v1.5h-2.1zM0 435.1h2.1v1.5h-2.1zM65.1 435.1h2.1v1.5h-2.1zM144.9 435.1h2.1v1.5h-2.1zM84 438.1h2.1v1.5h-2.1zM90.3 438.1h2.1v1.5h-2.1zM189 438.1h2.1v1.5h-2.1zM2.1 447h2.1v1.5h-2.1zM25.2 447h2.1v1.5h-2.1zM54.6 447h2.1v1.5h-2.1zM79.8 447h2.1v1.5h-2.1zM88.2 447h2.1v1.5h-2.1zM237.3 447h2.1v1.5h-2.1zM294 447h2.1v1.5h-2.1zM308.7 447h2.1v1.5h-2.1zM0 450h2.1v1.5h-2.1zM123.9 450h2.1v1.5h-2.1zM2.1 455.9h2.1v1.5h-2.1zM58.8 455.9h2.1v1.5h-2.1zM111.3 455.9h2.1v1.5h-2.1zM153.3 455.9h2.1v1.5h-2.1zM81.9 458.9h2.1v1.5h-2.1zM237.3 458.9h2.1v1.5h-2.1zM294 458.9h2.1v1.5h-2.1zM285.6 461.9h2.1v1.5h-2.1zM312.9 461.9h1.1v1.5h-1.1zM132.3 464.9h2.1v1.5h-2.1zM159.6 464.9h2.1v1.5h-2.1zM63 467.9h2.1v1.5h-2.1zM216.3 467.9h2.1v1.5h-2.1zM228.9 467.9h2.1v1.5h-2.1zM262.5 467.9h2.1v1.5h-2.1zM306.6 467.9h2.1v1.5h-2.1zM29.4 470.8h2.1v1.5h-2.1zM14.7 473.8h2.1v1.5h-2.1zM168 473.8h2.1v1.5h-2.1zM29.4 476.8h2.1v1.5h-2.1zM73.5 476.8h2.1v1.5h-2.1zM94.5 485.7h2.1v1.5h-2.1zM224.7 485.7h2.1v1.5h-2.1zM140.7 488.7h2.1v1.5h-2.1zM140.7 491.7h2.1v1.5h-2.1zM193.2 491.7h2.1v1.5h-2.1zM14.7 494.7h2.1v1.5h-2.1zM25.2 494.7h2.1v1.5h-2.1zM31.5 494.7h2.1v1.5h-2.1zM69.3 494.7h2.1v1.5h-2.1zM100.8 494.7h2.1v1.5h-2.1zM287.7 494.7h2.1v1.5h-2.1zM8.4 497.7h2.1v1.5h-2.1zM12.6 497.7h2.1v1.5h-2.1zM23.1 497.7h2.1v1.5h-2.1zM58.8 497.7h2.1v1.5h-2.1zM239.4 497.7h2.1v1.5h-2.1zM155.4 500.6h2.1v1.5h-2.1zM193.2 500.6h2.1v1.5h-2.1zM207.9 503.6h2.1v1.5h-2.1zM306.6 503.6h2.1v1.5h-2.1zM8.4 506.6h2.1v1.5h-2.1zM14.7 506.6h2.1v1.5h-2.1zM207.9 506.6h2.1v1.5h-2.1zM4.2 512.6h2.1v1.5h-2.1zM92.4 512.6h2.1v1.5h-2.1zM21 515.5h2.1v1.5h-2.1zM228.9 515.5h2.1v1.5h-2.1zM4.2 518.5h2.1v1.5h-2.1zM29.4 518.5h2.1v1.5h-2.1zM260.4 518.5h2.1v1.5h-2.1zM54.6 521.5h2.1v1.5h-2.1zM128.1 521.5h2.1v1.5h-2.1zM155.4 521.5h2.1v1.5h-2.1zM191.1 521.5h2.1v1.5h-2.1zM298.2 521.5h2.1v1.5h-2.1zM2.1 524.5h2.1v1.5h-2.1zM44.1 524.5h2.1v1.5h-2.1zM138.6 524.5h2.1v1.5h-2.1zM193.2 524.5h2.1v1.5h-2.1zM264.6 524.5h2.1v1.5h-2.1zM287.7 524.5h2.1v1.5h-2.1zM294 524.5h2.1v1.5h-2.1zM4.2 527.5h2.1v1.5h-2.1zM111.3 527.5h2.1v1.5h-2.1zM178.5 527.5h2.1v1.5h-2.1zM12.6 530.4h2.1v1.5h-2.1zM18.9 530.4h2.1v1.5h-2.1zM65.1 530.4h2.1v1.5h-2.1zM281.4 530.4h2.1v1.5h-2.1zM44.1 536.4h2.1v1.5h-2.1zM67.2 539.4h2.1v1.5h-2.1zM77.7 539.4h2.1v1.5h-2.1zM81.9 539.4h2.1v1.5h-2.1zM107.1 539.4h2.1v1.5h-2.1zM153.3 539.4h2.1v1.5h-2.1zM294 542.4h2.1v1.5h-2.1zM33.6 545.3h2.1v1.5h-2.1zM65.1 545.3h2.1v1.5h-2.1zM304.5 545.3h2.1v1.5h-2.1zM23.1 548.3h2.1v1.5h-2.1zM54.6 548.3h2.1v1.5h-2.1zM241.5 548.3h2.1v1.5h-2.1zM233.1 551.3h2.1v1.5h-2.1zM252 551.3h2.1v1.5h-2.1zM2.1 554.3h2.1v1.5h-2.1zM235.2 554.3h2.1v1.5h-2.1zM218.4 557.3h2.1v1.5h-2.1zM220.5 557.3h2.1v1.5h-2.1zM75.6 560.2h2.1v1.5h-2.1zM33.6 563.2h2.1v1.5h-2.1zM176.4 563.2h2.1v1.5h-2.1zM100.8 566.2h2.1v1.5h-2.1zM210 566.2h2.1v1.5h-2.1zM48.3 569.2h2.1v1.5h-2.1zM102.9 569.2h2.1v1.5h-2.1zM56.7 572.2h2.1v1.5h-2.1zM245.7 572.2h2.1v1.5h-2.1zM14.7 578.1h2.1v1.5h-2.1zM65.1 578.1h2.1v1.5h-2.1zM102.9 578.1h2.1v1.5h-2.1zM113.4 578.1h2.1v1.5h-2.1zM201.6 578.1h2.1v1.5h-2.1zM256.2 578.1h2.1v1.5h-2.1zM79.8 581.1h2.1v1.5h-2.1zM138.6 581.1h2.1v1.5h-2.1zM153.3 581.1h2.1v1.5h-2.1zM189 581.1h2.1v1.5h-2.1zM296.1 581.1h2.1v1.5h-2.1zM298.2 581.1h2.1v1.5h-2.1zM310.8 581.1h2.1v1.5h-2.1zM10.5 584.1h2.1v1.5h-2.1zM94.5 584.1h2.1v1.5h-2.1zM130.2 584.1h2.1v1.5h-2.1zM306.6 584.1h2.1v1.5h-2.1zM58.8 587.1h2.1v1.5h-2.1zM264.6 587.1h2.1v1.5h-2.1zM281.4 587.1h2.1v1.5h-2.1zM111.3 590h2.1v1.5h-2.1zM113.4 590h2.1v1.5h-2.1zM147 590h2.1v1.5h-2.1zM176.4 590h2.1v1.5h-2.1zM205.8 590h2.1v1.5h-2.1zM216.3 590h2.1v1.5h-2.1zM18.9 593h2.1v1.5h-2.1zM170.1 593h2.1v1.5h-2.1zM23.1 596h2.1v1.5h-2.1zM174.3 596h2.1v1.5h-2.1zM102.9 599h2.1v1.5h-2.1zM94.5 604.9h2.1v1.5h-2.1zM14.7 607.9h2.1v1.5h-2.1zM195.3 607.9h2.1v1.5h-2.1zM12.6 610.9h2.1v1.5h-2.1zM155.4 610.9h2.1v1.5h-2.1zM285.6 610.9h2.1v1.5h-2.1zM39.9 613.9h2.1v1.5h-2.1zM48.3 613.9h2.1v1.5h-2.1zM102.9 613.9h2.1v1.5h-2.1zM224.7 613.9h2.1v1.5h-2.1zM207.9 619.8h2.1v1.5h-2.1zM241.5 622.8h2.1v1.5h-2.1zM273 622.8h2.1v1.5h-2.1zM198.6 53.6h2.9v1.6h-2.9zM167.5 53.6h2.5v1.6h-2.5zM217.1 53.6h3.3v1.6h-3.3zM305.6 56.6h1.6v1.6h-1.6zM241.4 56.6h3.9v1.6h-3.9zM261.6 56.6h2.2v1.6h-2.2zM254.2 56.6h1.5v1.6h-1.5zM206.3 56.6h2.2v1.6h-2.2zM247 56.6h2v1.6h-2zM249.8 56.6h2.3v1.6h-2.3zM208.5 59.6h2.2v1.6h-2.2zM279.6 59.6h3.6v1.6h-3.6zM163.5 62.6h3.6v1.6h-3.6zM252 62.6h3.2v1.6h-3.2zM168.2 62.6h3.1v1.6h-3.1zM296.9 62.6h1.7v1.6h-1.7zM208.2 62.6h2.7v1.6h-2.7zM236.5 62.6h3.6v1.6h-3.6zM243.4 65.6h3.9v1.6h-3.9zM244 65.6h2.8v1.6h-2.8zM255.5 65.6h1.9v1.6h-1.9zM179.1 65.6h1.6v1.6h-1.6zM186.1 68.5h3v1.6h-3zM310.4 68.5h2.6v1.6h-2.6zM165.3 68.5h1.1v1.6h-1.1zM286.1 71.5h1.1v1.6h-1.1zM265 71.5h3.1v1.6h-3.1zM219.5 71.5h2.4v1.6h-2.4zM253.8 71.5h1.4v1.6h-1.4zM223.6 71.5h2.8v1.6h-2.8zM251.3 71.5h1.7v1.6h-1.7zM284.8 71.5h2.3v1.6h-2.3zM278.9 71.5h1.6v1.6h-1.6zM232.3 71.5h2v1.6h-2zM235.9 71.5h3.7v1.6h-3.7zM286.7 74.5h1.3v1.6h-1.3zM218.2 74.5h2.9v1.6h-2.9zM292.1 74.5h1.6v1.6h-1.6zM175.1 74.5h4v1.6h-4zM160 77.5h2.6v1.6h-2.6zM239 77.5h1.9v1.6h-1.9zM290.3 77.5h1.6v1.6h-1.6zM239.6 77.5h3.7v1.6h-3.7zM175.8 77.5h1.8v1.6h-1.8zM222.5 77.5h2.7v1.6h-2.7zM259.6 77.5h1.4v1.6h-1.4zM231.1 77.5h2.1v1.6h-2.1zM256.9 77.5h3.9v1.6h-3.9zM295.9 77.5h1v1.6h-1zM161.9 77.5h3v1.6h-3zM275.6 80.5h3.1v1.6h-3.1zM189.2 80.5h2.9v1.6h-2.9zM238.9 80.5h1.9v1.6h-1.9zM226 80.5h2v1.6h-2zM160.9 80.5h2.6v1.6h-2.6zM199.3 80.5h3.2v1.6h-3.2zM299 80.5h2.3v1.6h-2.3zM299.3 80.5h3.8v1.6h-3.8zM174 83.4h3.5v1.6h-3.5zM265.1 83.4h1.2v1.6h-1.2zM310.4 83.4h2.7v1.6h-2.7zM197 83.4h1.3v1.6h-1.3zM170.3 86.4h4v1.6h-4zM252 86.4h1.4v1.6h-1.4zM154.3 86.4h2v1.6h-2zM291.3 86.4h2.4v1.6h-2.4zM192.4 86.4h2.7v1.6h-2.7zM185.8 86.4h2.9v1.6h-2.9zM265.7 89.4h1.2v1.6h-1.2zM198 89.4h1.6v1.6h-1.6zM268.3 89.4h3.1v1.6h-3.1zM273.6 89.4h2.1v1.6h-2.1zM270.7 56.6h1.2v1.6h-1.2zM266.6 80.5h2.4v1.6h-2.4zM269.2 86.4h2v1.6h-2zM268.5 89.4h2.1v1.6h-2.1zM264.2 89.4h1.9v1.6h-1.9zM68.2 298h2.6v1.6h-2.6zM16.2 301h1.5v1.6h-1.5zM20.5 304h2.3v1.6h-2.3zM2.3 306.9h2v1.6h-2zM55.2 309.9h2.8v1.6h-2.8zM22.1 309.9h2.1v1.6h-2.1zM65.7 312.9h1.5v1.6h-1.5zM68.6 312.9h3.7v1.6h-3.7zM64.1 315.9h1.2v1.6h-1.2zM39.5 315.9h2.9v1.6h-2.9zM10.5 315.9h1.4v1.6h-1.4zM59.4 318.9h2.8v1.6h-2.8zM9.8 318.9h3v1.6h-3zM73.6 318.9h2.5v1.6h-2.5zM2 321.8h1.1v1.6h-1.1zM43.7 321.8h3.5v1.6h-3.5zM0.1 321.8h3.7v1.6h-3.7zM16.4 324.8h3.5v1.6h-3.5zM55.1 330.8h1.9v1.6h-1.9zM15.5 336.7h2.3v1.6h-2.3zM34.7 339.7h1.3v1.6h-1.3zM77.4 342.7h1.3v1.6h-1.3zM55.6 342.7h3.7v1.6h-3.7zM75.5 345.7h2.1v1.6h-2.1zM48.9 345.7h2.1v1.6h-2.1zM55 348.7h2.7v1.6h-2.7zM11 348.7h2.5v1.6h-2.5zM40.5 348.7h1.2v1.6h-1.2zM62.7 348.7h2.4v1.6h-2.4zM37 351.6h2v1.6h-2zM36.8 354.6h1.9v1.6h-1.9zM67.6 357.6h3.6v1.6h-3.6zM18.7 357.6h2v1.6h-2zM45.4 360.6h3v1.6h-3zM6.3 363.6h3v1.6h-3zM32.5 363.6h1.8v1.6h-1.8zM45.3 363.6h3v1.6h-3zM45.8 366.5h1.5v1.6h-1.5zM67.9 366.5h2.1v1.6h-2.1zM78.8 372.5h1.1v1.6h-1.1zM76.9 372.5h2.9v1.6h-2.9zM8 375.5h1.1v1.6h-1.1zM73.6 375.5h1.9v1.6h-1.9zM3.1 381.4h2.4v1.6h-2.4zM22.4 384.4h2.6v1.6h-2.6zM49.7 390.4h4v1.6h-4zM26.5 393.4h1.3v1.6h-1.3zM59.4 393.4h1.2v1.6h-1.2zM65.1 393.4h1.2v1.6h-1.2zM29.1 396.3h2.1v1.6h-2.1zM32.6 396.3h1.6v1.6h-1.6zM7.7 399.3h2.9v1.6h-2.9zM80 399.3h2.2v1.6h-2.2zM72.3 399.3h2.3v1.6h-2.3zM24.8 405.3h2.3v1.6h-2.3zM47.1 405.3h2.8v1.6h-2.8zM53.7 408.3h1.9v1.6h-1.9zM76.5 411.2h2.4v1.6h-2.4zM43.3 411.2h2.6v1.6h-2.6zM54.6 414.2h3.9v1.6h-3.9zM40 414.2h2.8v1.6h-2.8zM73 414.2h2.1v1.6h-2.1zM64.2 414.2h2.8v1.6h-2.8zM9 417.2h3.6v1.6h-3.6zM44.5 417.2h1.9v1.6h-1.9zM1.1 479.8h2.7v1.6h-2.7zM2.7 482.8h2.6v1.6h-2.6zM0.1 482.8h3.4v1.6h-3.4zM8.8 485.7h3.9v1.6h-3.9zM6.8 485.7h3.4v1.6h-3.4zM38.2 488.7h2v1.6h-2zM26.2 491.7h3.3v1.6h-3.3zM39.7 494.7h3.9v1.6h-3.9zM44.1 494.7h1.5v1.6h-1.5zM25.8 503.6h2.2v1.6h-2.2zM13.1 503.6h2.4v1.6h-2.4zM21.8 503.6h3v1.6h-3zM15.5 506.6h1.6v1.6h-1.6zM12.3 512.6h3.4v1.6h-3.4zM19.4 515.5h3.7v1.6h-3.7zM24.1 515.5h1.5v1.6h-1.5zM8.9 518.5h3.1v1.6h-3.1zM26.8 524.5h3.7v1.6h-3.7zM41.3 524.5h3.4v1.6h-3.4zM1.6 530.4h2.9v1.6h-2.9zM23.6 530.4h1.9v1.6h-1.9zM5 533.4h3.4v1.6h-3.4zM26.8 536.4h2.6v1.6h-2.6zM10.3 539.4h2.7v1.6h-2.7zM18.5 539.4h2.1v1.6h-2.1zM8.7 542.4h1.1v1.6h-1.1zM11.5 545.3h1.2v1.6h-1.2zM21.5 554.3h1.3v1.6h-1.3zM38.3 554.3h3.8v1.6h-3.8zM4.9 557.3h2.9v1.6h-2.9zM22 557.3h1.7v1.6h-1.7zM230 0h1v625h-1zM277.6 0h1v625h-1zM121 1.3h16.2v3h-16.2zM121 4.3h16.2v3h-16.2zM121 7.3h16.2v3h-16.2zM121 10.2h16.2v3h-16.2zM121 13.2h16.2v3h-16.2zM121 16.2h16.2v3h-16.2zM121 19.2h16.2v3h-16.2zM121 22.2h16.2v3h-16.2zM121 25.1h16.2v3h-16.2zM126.3 28.1h10.9v3h-10.9zM254.3 21h9.1v3h-9.1zM254.3 24h9.1v3h-9.1zM254.3 27h9.1v3h-9.1zM254.3 29.9h9.1v3h-9.1zM254.3 32.9h9.1v3h-9.1zM254.3 35.9h9.1v3h-9.1zM254.3 38.9h9.1v3h-9.1zM121 295h17v3h-17zM121 298h17v3h-17zM121 301h17v3h-17zM121 303.9h17v3h-17zM118 306.9h20v3h-20zM118 309.9h20v3h-20zM118 312.9h20v3h-20zM118 315.9h20v3h-20zM118 318.8h20v3h-20zM118 321.8h20v3h-20zM118 324.8h20v3h-20zM118 327.8h20v3h-20zM122 330.8h16v3h-16zM122 333.7h16v3h-16zM122.3 494h15.2v3h-15.2zM122.3 497h15.2v3h-15.2zM122.3 500h15.2v3h-15.2zM122.3 502.9h15.2v3h-15.2zM122.3 505.9h15.2v3h-15.2zM122.3 508.9h15.2v3h-15.2zM122.3 511.9h15.2v3h-15.2zM122.3 514.9h15.2v3h-15.2zM122.3 517.8h15.2v3h-15.2zM122.3 520.8h15.2v3h-15.2zM122.3 523.8h15.2v3h-15.2zM122.3 526.8h15.2v3h-15.2zM122.3 529.8h15.2v3h-15.2zM122.3 532.7h15.2v3h-15.2zM122.3 535.7h15.2v3h-15.2zM280.4 583h20.8v2.1h-20.8zM280.7 586h19.4v2.1h-19.4zM278.7 588.9h20.6v2.1h-20.6zM280.9 591.9h19.7v2.1h-19.7zM279.8 594.9h20.8v2.1h-20.8zM278.6 597.9h21.5v2.1h-21.5z"/><path fill="#ffffff" fill-opacity="0.7" d="M40.8 0h1.1v1.8h-1.1zM70.4 6h1.1v1.8h-1.1zM214.4 6h1.1v1.8h-1.1zM70.4 8.9h1.1v1.8h-1.1zM229.6 8.9h1.1v1.8h-1.1zM257.2 8.9h1.1v1.8h-1.1zM300.6 8.9h1.1v1.8h-1.1zM171.6 14.9h1.1v1.8h-1.1zM300.6 14.9h1.1v1.8h-1.1zM114.4 17.9h1.1v1.8h-1.1zM70.4 20.9h1.1v1.8h-1.1zM108.4 20.9h1.1v1.8h-1.1zM34.4 23.8h1.1v1.8h-1.1zM108.4 23.8h1.1v1.8h-1.1zM229.6 23.8h1.1v1.8h-1.1zM26.2 29.8h1.1v1.8h-1.1zM26.2 32.8h1.1v1.8h-1.1zM277.2 35.8h1.1v1.8h-1.1zM70.4 38.7h1.1v1.8h-1.1zM277.2 38.7h1.1v1.8h-1.1zM300.6 38.7h1.1v1.8h-1.1zM6.4 41.7h1.1v1.8h-1.1zM249.6 41.7h1.1v1.8h-1.1zM6.4 47.7h1.1v1.8h-1.1zM96.4 47.7h1.1v1.8h-1.1zM40.8 50.7h1.1v1.8h-1.1zM125 50.7h1.1v1.8h-1.1zM249.6 50.7h1.1v1.8h-1.1zM70.4 53.6h1.1v1.8h-1.1zM257.2 53.6h1.1v1.8h-1.1zM40.8 56.6h1.1v1.8h-1.1zM70.4 62.6h1.1v1.8h-1.1zM184.4 62.6h1.1v1.8h-1.1zM70.4 68.5h1.1v1.8h-1.1zM114.4 68.5h1.1v1.8h-1.1zM277.2 68.5h1.1v1.8h-1.1zM26.2 71.5h1.1v1.8h-1.1zM147.6 71.5h1.1v1.8h-1.1zM184.4 71.5h1.1v1.8h-1.1zM70.4 74.5h1.1v1.8h-1.1zM171.6 74.5h1.1v1.8h-1.1zM34.4 77.5h1.1v1.8h-1.1zM114.4 77.5h1.1v1.8h-1.1zM290.4 77.5h1.1v1.8h-1.1zM229.6 83.4h1.1v1.8h-1.1zM40.8 86.4h1.1v1.8h-1.1zM125 89.4h1.1v1.8h-1.1zM26.2 92.4h1.1v1.8h-1.1zM40.8 92.4h1.1v1.8h-1.1zM214.4 92.4h1.1v1.8h-1.1zM26.2 95.4h1.1v1.8h-1.1zM70.4 95.4h1.1v1.8h-1.1zM171.6 95.4h1.1v1.8h-1.1zM40.8 98.3h1.1v1.8h-1.1zM70.4 98.3h1.1v1.8h-1.1zM114.4 98.3h1.1v1.8h-1.1zM40.8 101.3h1.1v1.8h-1.1zM108.4 101.3h1.1v1.8h-1.1zM96.4 104.3h1.1v1.8h-1.1zM70.4 110.3h1.1v1.8h-1.1zM26.2 113.2h1.1v1.8h-1.1zM70.4 113.2h1.1v1.8h-1.1zM157.6 113.2h1.1v1.8h-1.1zM171.6 113.2h1.1v1.8h-1.1zM70.4 116.2h1.1v1.8h-1.1zM171.6 116.2h1.1v1.8h-1.1zM147.6 122.2h1.1v1.8h-1.1zM290.4 122.2h1.1v1.8h-1.1zM70.4 125.2h1.1v1.8h-1.1zM147.6 125.2h1.1v1.8h-1.1zM70.4 128.1h1.1v1.8h-1.1zM108.4 128.1h1.1v1.8h-1.1zM114.4 128.1h1.1v1.8h-1.1zM229.6 131.1h1.1v1.8h-1.1zM171.6 134.1h1.1v1.8h-1.1zM277.2 134.1h1.1v1.8h-1.1zM114.4 137.1h1.1v1.8h-1.1zM114.4 140.1h1.1v1.8h-1.1zM125 140.1h1.1v1.8h-1.1zM147.6 140.1h1.1v1.8h-1.1zM70.4 146h1.1v1.8h-1.1zM257.2 146h1.1v1.8h-1.1zM40.8 152h1.1v1.8h-1.1zM85.4 152h1.1v1.8h-1.1zM114.4 152h1.1v1.8h-1.1zM229.6 152h1.1v1.8h-1.1zM171.6 155h1.1v1.8h-1.1zM40.8 163.9h1.1v1.8h-1.1zM125 163.9h1.1v1.8h-1.1zM26.2 166.9h1.1v1.8h-1.1zM70.4 172.8h1.1v1.8h-1.1zM40.8 175.8h1.1v1.8h-1.1zM229.6 175.8h1.1v1.8h-1.1zM290.4 175.8h1.1v1.8h-1.1zM184.4 178.8h1.1v1.8h-1.1zM70.4 181.8h1.1v1.8h-1.1zM108.4 181.8h1.1v1.8h-1.1zM257.2 181.8h1.1v1.8h-1.1zM6.4 184.8h1.1v1.8h-1.1zM26.2 184.8h1.1v1.8h-1.1zM40.8 184.8h1.1v1.8h-1.1zM6.4 187.7h1.1v1.8h-1.1zM249.6 187.7h1.1v1.8h-1.1zM26.2 193.7h1.1v1.8h-1.1zM70.4 193.7h1.1v1.8h-1.1zM229.6 193.7h1.1v1.8h-1.1zM171.6 196.7h1.1v1.8h-1.1zM290.4 196.7h1.1v1.8h-1.1zM40.8 202.6h1.1v1.8h-1.1zM114.4 202.6h1.1v1.8h-1.1zM257.2 202.6h1.1v1.8h-1.1zM96.4 205.6h1.1v1.8h-1.1zM26.2 211.6h1.1v1.8h-1.1zM85.4 211.6h1.1v1.8h-1.1zM15.4 214.6h1.1v1.8h-1.1zM34.4 217.5h1.1v1.8h-1.1zM40.8 217.5h1.1v1.8h-1.1zM257.2 217.5h1.1v1.8h-1.1zM277.2 217.5h1.1v1.8h-1.1zM290.4 217.5h1.1v1.8h-1.1zM277.2 220.5h1.1v1.8h-1.1zM184.4 223.5h1.1v1.8h-1.1zM125 226.5h1.1v1.8h-1.1zM6.4 229.5h1.1v1.8h-1.1zM34.4 229.5h1.1v1.8h-1.1zM70.4 229.5h1.1v1.8h-1.1zM125 229.5h1.1v1.8h-1.1zM70.4 232.4h1.1v1.8h-1.1zM290.4 235.4h1.1v1.8h-1.1zM249.6 238.4h1.1v1.8h-1.1zM257.2 238.4h1.1v1.8h-1.1zM96.4 241.4h1.1v1.8h-1.1zM171.6 241.4h1.1v1.8h-1.1zM108.4 244.4h1.1v1.8h-1.1zM171.6 244.4h1.1v1.8h-1.1zM171.6 250.3h1.1v1.8h-1.1zM6.4 253.3h1.1v1.8h-1.1zM15.4 253.3h1.1v1.8h-1.1zM40.8 253.3h1.1v1.8h-1.1zM229.6 253.3h1.1v1.8h-1.1zM40.8 262.2h1.1v1.8h-1.1zM70.4 262.2h1.1v1.8h-1.1zM26.2 265.2h1.1v1.8h-1.1zM108.4 265.2h1.1v1.8h-1.1zM26.2 268.2h1.1v1.8h-1.1zM157.6 268.2h1.1v1.8h-1.1zM6.4 274.2h1.1v1.8h-1.1zM26.2 274.2h1.1v1.8h-1.1zM114.4 274.2h1.1v1.8h-1.1zM70.4 277.1h1.1v1.8h-1.1zM249.6 277.1h1.1v1.8h-1.1zM257.2 280.1h1.1v1.8h-1.1zM157.6 283.1h1.1v1.8h-1.1zM125 286.1h1.1v1.8h-1.1zM157.6 289.1h1.1v1.8h-1.1zM171.6 292h1.1v1.8h-1.1zM257.2 292h1.1v1.8h-1.1zM6.4 295h1.1v1.8h-1.1zM171.6 295h1.1v1.8h-1.1zM70.4 298h1.1v1.8h-1.1zM125 298h1.1v1.8h-1.1zM249.6 298h1.1v1.8h-1.1zM290.4 298h1.1v1.8h-1.1zM157.6 301h1.1v1.8h-1.1zM70.4 304h1.1v1.8h-1.1zM184.4 304h1.1v1.8h-1.1zM277.2 304h1.1v1.8h-1.1zM290.4 304h1.1v1.8h-1.1zM70.4 306.9h1.1v1.8h-1.1zM125 306.9h1.1v1.8h-1.1zM125 312.9h1.1v1.8h-1.1zM290.4 312.9h1.1v1.8h-1.1zM114.4 315.9h1.1v1.8h-1.1zM125 315.9h1.1v1.8h-1.1zM229.6 315.9h1.1v1.8h-1.1zM108.4 318.9h1.1v1.8h-1.1zM229.6 321.8h1.1v1.8h-1.1zM277.2 321.8h1.1v1.8h-1.1zM125 324.8h1.1v1.8h-1.1zM70.4 327.8h1.1v1.8h-1.1zM6.4 330.8h1.1v1.8h-1.1zM157.6 330.8h1.1v1.8h-1.1zM277.2 330.8h1.1v1.8h-1.1zM290.4 330.8h1.1v1.8h-1.1zM125 333.8h1.1v1.8h-1.1zM70.4 339.7h1.1v1.8h-1.1zM114.4 339.7h1.1v1.8h-1.1zM15.4 342.7h1.1v1.8h-1.1zM70.4 342.7h1.1v1.8h-1.1zM26.2 345.7h1.1v1.8h-1.1zM70.4 345.7h1.1v1.8h-1.1zM257.2 345.7h1.1v1.8h-1.1zM6.4 351.6h1.1v1.8h-1.1zM70.4 351.6h1.1v1.8h-1.1zM40.8 360.6h1.1v1.8h-1.1zM125 360.6h1.1v1.8h-1.1zM108.4 363.6h1.1v1.8h-1.1zM26.2 366.5h1.1v1.8h-1.1zM85.4 369.5h1.1v1.8h-1.1zM214.4 369.5h1.1v1.8h-1.1zM249.6 369.5h1.1v1.8h-1.1zM34.4 372.5h1.1v1.8h-1.1zM171.6 372.5h1.1v1.8h-1.1zM277.2 372.5h1.1v1.8h-1.1zM184.4 375.5h1.1v1.8h-1.1zM277.2 375.5h1.1v1.8h-1.1zM40.8 378.5h1.1v1.8h-1.1zM229.6 378.5h1.1v1.8h-1.1zM40.8 381.4h1.1v1.8h-1.1zM257.2 381.4h1.1v1.8h-1.1zM34.4 384.4h1.1v1.8h-1.1zM249.6 387.4h1.1v1.8h-1.1zM15.4 393.4h1.1v1.8h-1.1zM171.6 393.4h1.1v1.8h-1.1zM257.2 393.4h1.1v1.8h-1.1zM26.2 399.3h1.1v1.8h-1.1zM70.4 399.3h1.1v1.8h-1.1zM40.8 402.3h1.1v1.8h-1.1zM290.4 402.3h1.1v1.8h-1.1zM15.4 408.3h1.1v1.8h-1.1zM114.4 408.3h1.1v1.8h-1.1zM157.6 408.3h1.1v1.8h-1.1zM229.6 408.3h1.1v1.8h-1.1zM40.8 411.2h1.1v1.8h-1.1zM70.4 411.2h1.1v1.8h-1.1zM6.4 414.2h1.1v1.8h-1.1zM229.6 417.2h1.1v1.8h-1.1zM257.2 417.2h1.1v1.8h-1.1zM257.2 420.2h1.1v1.8h-1.1zM26.2 426.1h1.1v1.8h-1.1zM26.2 429.1h1.1v1.8h-1.1zM125 432.1h1.1v1.8h-1.1zM34.4 435.1h1.1v1.8h-1.1zM70.4 441h1.1v1.8h-1.1zM125 441h1.1v1.8h-1.1zM229.6 441h1.1v1.8h-1.1zM300.6 441h1.1v1.8h-1.1zM290.4 444h1.1v1.8h-1.1zM147.6 447h1.1v1.8h-1.1zM277.2 447h1.1v1.8h-1.1zM6.4 450h1.1v1.8h-1.1zM171.6 453h1.1v1.8h-1.1zM6.4 458.9h1.1v1.8h-1.1zM40.8 458.9h1.1v1.8h-1.1zM6.4 470.8h1.1v1.8h-1.1zM70.4 473.8h1.1v1.8h-1.1zM70.4 476.8h1.1v1.8h-1.1zM26.2 479.8h1.1v1.8h-1.1zM229.6 479.8h1.1v1.8h-1.1zM108.4 482.8h1.1v1.8h-1.1zM300.6 485.7h1.1v1.8h-1.1zM70.4 488.7h1.1v1.8h-1.1zM108.4 488.7h1.1v1.8h-1.1zM171.6 488.7h1.1v1.8h-1.1zM257.2 488.7h1.1v1.8h-1.1zM277.2 488.7h1.1v1.8h-1.1zM40.8 494.7h1.1v1.8h-1.1zM70.4 494.7h1.1v1.8h-1.1zM229.6 494.7h1.1v1.8h-1.1zM26.2 497.7h1.1v1.8h-1.1zM70.4 497.7h1.1v1.8h-1.1zM114.4 500.6h1.1v1.8h-1.1zM15.4 503.6h1.1v1.8h-1.1zM34.4 503.6h1.1v1.8h-1.1zM40.8 503.6h1.1v1.8h-1.1zM184.4 503.6h1.1v1.8h-1.1zM40.8 506.6h1.1v1.8h-1.1zM147.6 509.6h1.1v1.8h-1.1zM6.4 512.6h1.1v1.8h-1.1zM249.6 512.6h1.1v1.8h-1.1zM277.2 515.5h1.1v1.8h-1.1zM125 518.5h1.1v1.8h-1.1zM300.6 521.5h1.1v1.8h-1.1zM40.8 524.5h1.1v1.8h-1.1zM108.4 524.5h1.1v1.8h-1.1zM147.6 524.5h1.1v1.8h-1.1zM85.4 527.5h1.1v1.8h-1.1zM300.6 527.5h1.1v1.8h-1.1zM40.8 530.4h1.1v1.8h-1.1zM114.4 530.4h1.1v1.8h-1.1zM15.4 533.4h1.1v1.8h-1.1zM26.2 533.4h1.1v1.8h-1.1zM147.6 533.4h1.1v1.8h-1.1zM229.6 536.4h1.1v1.8h-1.1zM40.8 539.4h1.1v1.8h-1.1zM257.2 542.4h1.1v1.8h-1.1zM26.2 545.3h1.1v1.8h-1.1zM40.8 545.3h1.1v1.8h-1.1zM70.4 545.3h1.1v1.8h-1.1zM214.4 545.3h1.1v1.8h-1.1zM26.2 554.3h1.1v1.8h-1.1zM40.8 554.3h1.1v1.8h-1.1zM114.4 554.3h1.1v1.8h-1.1zM184.4 554.3h1.1v1.8h-1.1zM277.2 557.3h1.1v1.8h-1.1zM96.4 560.2h1.1v1.8h-1.1zM249.6 560.2h1.1v1.8h-1.1zM114.4 566.2h1.1v1.8h-1.1zM70.4 572.2h1.1v1.8h-1.1zM108.4 572.2h1.1v1.8h-1.1zM277.2 575.1h1.1v1.8h-1.1zM300.6 578.1h1.1v1.8h-1.1zM147.6 581.1h1.1v1.8h-1.1zM257.2 581.1h1.1v1.8h-1.1zM26.2 584.1h1.1v1.8h-1.1zM229.6 584.1h1.1v1.8h-1.1zM70.4 590h1.1v1.8h-1.1zM85.4 599h1.1v1.8h-1.1zM277.2 599h1.1v1.8h-1.1zM26.2 602h1.1v1.8h-1.1zM40.8 602h1.1v1.8h-1.1zM85.4 602h1.1v1.8h-1.1zM15.4 604.9h1.1v1.8h-1.1zM26.2 604.9h1.1v1.8h-1.1zM147.6 607.9h1.1v1.8h-1.1zM125 610.9h1.1v1.8h-1.1zM114.4 613.9h1.1v1.8h-1.1zM70.4 616.9h1.1v1.8h-1.1zM290.4 619.8h1.1v1.8h-1.1zM70.4 622.8h1.1v1.8h-1.1zM300.6 622.8h1.1v1.8h-1.1zM258 381.4h2.5v1.8h-2.5zM258 390.4h2.5v1.8h-2.5zM258 396.3h2.5v1.8h-2.5zM258 441h2.5v1.8h-2.5zM258 461.9h2.5v1.8h-2.5zM258 464.9h2.5v1.8h-2.5zM258 470.8h2.5v1.8h-2.5zM258 515.5h2.5v1.8h-2.5zM258 542.4h2.5v1.8h-2.5zM258 545.3h2.5v1.8h-2.5zM258 557.3h2.5v1.8h-2.5zM258 572.2h2.5v1.8h-2.5zM258 578.1h2.5v1.8h-2.5zM258 581.1h2.5v1.8h-2.5zM258 602h2.5v1.8h-2.5zM258 619.8h2.5v1.8h-2.5zM95 4.3h2.9v1.6h-2.9zM98.2 7.3h2v1.6h-2zM88.3 0h0.2v1.6h-0.2zM85 6h1.6v1.6h-1.6zM85.8 14.9h1.1v1.6h-1.1zM148.3 20.9h2.7v1.6h-2.7zM159.6 3h1.4v1.6h-1.4zM148.1 32h1.9v1.6h-1.9zM127 35h2.2v1.6h-2.2zM231.2 4.5h0.8v1.6h-0.8zM228.6 7.5h2.6v1.6h-2.6zM230.1 10.4h1.9v1.6h-1.9zM231.6 13.4h0.4v1.6h-0.4zM251.4 1h1.2v1.6h-1.2zM252.6 1h1.3v1.6h-1.3zM249.6 7h2.3v1.6h-2.3zM246 9.9h1.7v1.6h-1.7zM252.6 12.9h1.1v1.6h-1.1zM247.5 15.9h2.3v1.6h-2.3zM250.4 27h2.8v1.6h-2.8zM257 4h3.9v1.6h-3.9zM12.4 38.4h2.7v1.6h-2.7zM15 68h4.6v1.5h-4.6zM19.6 68h2.4v1.5h-2.4zM15.8 87.9h2.5v1.3h-2.5zM19.6 102.8h2.7v1.3h-2.7zM9.5 132.6h3.8v1.3h-3.8zM15.4 138.6h4.7v1.3h-4.7zM22.6 141.6h2.4v1.3h-2.4zM16.3 144.6h4.1v1.3h-4.1zM229.5 130h1.9v1.6h-1.9zM231.4 130h1.2v1.6h-1.2zM230.3 138.9h1.1v1.6h-1.1zM225 150.9h2.7v1.6h-2.7zM230.3 153.8h1.6v1.6h-1.6zM230.4 156.8h2.6v1.6h-2.6zM246.7 102h1.2v1.6h-1.2zM245 110.9h1.3v1.6h-1.3zM248.1 110.9h2.8v1.6h-2.8zM249.5 122.8h1.5v1.6h-1.5zM246.9 134.8h1.7v1.6h-1.7zM249.8 143.7h1.2v1.6h-1.2zM247 155.6h2.2v1.6h-2.2zM245 158.6h1.6v1.6h-1.6zM247.8 173.5h2.1v1.6h-2.1zM248.8 171h2v1.6h-2zM247.4 174h2.3v1.6h-2.3zM248.6 177h2.3v1.6h-2.3zM246.5 179.9h2v1.6h-2zM250.6 179.9h0.4v1.6h-0.4zM247.2 185.9h1.1v1.6h-1.1zM249.8 194.8h1.2v1.6h-1.2zM300.3 131h2v1.6h-2zM301.5 136.9h2.7v1.6h-2.7zM302 142.9h1.5v1.6h-1.5zM302.7 148.8h1.8v1.6h-1.8zM299.6 230.9h1.5v1.6h-1.5zM300 233.9h1.9v1.6h-1.9zM301.3 245.8h1.7v1.6h-1.7zM302.4 254.8h0.6v1.6h-0.6zM82 267.8h1.2v1.6h-1.2zM116.8 298h1.2v1.6h-1.2zM107 312.9h2.6v1.6h-2.6zM112.4 312.9h1.7v1.6h-1.7zM107 315.9h2.4v1.6h-2.4zM108.4 324.8h2.1v1.6h-2.1zM115.2 324.8h1.8v1.6h-1.8zM245 301h1.1v1.6h-1.1zM246.5 306.9h2.4v1.6h-2.4zM249.7 312.9h1.1v1.6h-1.1zM247.7 324.8h2.2v1.6h-2.2zM247.6 333.7h2.1v1.6h-2.1zM247.3 336.7h2.7v1.6h-2.7zM251.2 336.7h1.8v1.6h-1.8zM290.1 303h2.4v1.6h-2.4zM291 311.9h1.8v1.6h-1.8zM291.2 314.9h1.1v1.6h-1.1zM293.6 320.8h1.4v1.6h-1.4zM290.3 338.7h2.3v1.6h-2.3zM289 344.7h2v1.6h-2zM294.6 347.7h0.4v1.6h-0.4zM298 344h2.1v1.6h-2.1zM301.5 355.9h1.2v1.6h-1.2zM298 358.9h2.2v1.6h-2.2zM300.2 358.9h2.3v1.6h-2.3zM302.1 361.9h0.9v1.6h-0.9zM27.7 440h2.2v1.6h-2.2zM28.3 457.9h2.5v1.6h-2.5zM27.4 463.9h2.8v1.6h-2.8zM27.2 469.9h2v1.6h-2zM26 478.8h1.2v1.6h-1.2zM28.5 481.8h2.5v1.6h-2.5zM254 385h1.2v1.6h-1.2zM259.7 385h1.3v1.6h-1.3zM256.3 387.9h2.1v1.6h-2.1zM254 396.9h1.2v1.6h-1.2zM258.5 417.9h1.6v1.6h-1.6zM254 420.9h1.1v1.6h-1.1zM255.1 420.9h1.2v1.6h-1.2zM258.5 426.9h1.9v1.6h-1.9zM118.1 505h1.7v1.6h-1.7zM113 516.9h1.1v1.6h-1.1zM122.2 525.8h0.1v1.6h-0.1zM115.4 528.8h1.6v1.6h-1.6zM119.3 534.8h2.5v1.6h-2.5zM104.7 506h1.7v1.6h-1.7zM102.6 526.8h1.3v1.6h-1.3zM103.6 532.8h2.4v1.6h-2.4zM144.8 503h5v1.9h-5zM141 506h2.8v1.9h-2.8zM149.4 509h0.6v1.9h-0.6zM141 511.9h3v1.9h-3zM143.6 517.9h3.6v1.9h-3.6zM144.6 520.9h3v1.9h-3zM141 523.9h2.5v1.9h-2.5zM143.5 523.9h2.8v1.9h-2.8zM147 503h2.5v1.6h-2.5zM150.7 511.9h0.3v1.6h-0.3zM149.9 514.9h1.1v1.6h-1.1zM255 502h1.8v1.6h-1.8zM258.2 505h1.3v1.6h-1.3zM257 516.9h2.6v1.6h-2.6zM259.1 519.9h2.3v1.6h-2.3zM261.4 519.9h2.5v1.6h-2.5zM256.4 525.8h1.4v1.6h-1.4zM262.4 525.8h2.7v1.6h-2.7zM6 583h5.7v1.7h-5.7zM12.4 586h4.1v1.7h-4.1zM6 588.9h4.9v1.7h-4.9zM10.9 588.9h5.1v1.7h-5.1zM6 591.9h2.4v1.7h-2.4zM6 600.9h4.7v1.7h-4.7zM103 586h6.6v1.4h-6.6zM114.7 586h4v1.4h-4zM103 591.9h6.5v1.4h-6.5zM122.7 591.9h7.1v1.4h-7.1zM103 597.9h3.2v1.4h-3.2zM129.1 600.9h2.9v1.4h-2.9z"/><path fill="#d0e8ff" fill-opacity="0.9" d="M60.6 0h1.1v1.8h-1.1zM52.4 11.9h1.1v1.8h-1.1zM60.6 44.7h1.1v1.8h-1.1zM60.6 56.6h1.1v1.8h-1.1zM60.6 62.6h1.1v1.8h-1.1zM52.4 71.5h1.1v1.8h-1.1zM60.6 71.5h1.1v1.8h-1.1zM52.4 74.5h1.1v1.8h-1.1zM60.6 80.5h1.1v1.8h-1.1zM52.4 95.4h1.1v1.8h-1.1zM60.6 98.3h1.1v1.8h-1.1zM60.6 107.3h1.1v1.8h-1.1zM52.4 116.2h1.1v1.8h-1.1zM60.6 119.2h1.1v1.8h-1.1zM52.4 125.2h1.1v1.8h-1.1zM52.4 131.1h1.1v1.8h-1.1zM60.6 140.1h1.1v1.8h-1.1zM60.6 143h1.1v1.8h-1.1zM52.4 157.9h1.1v1.8h-1.1zM60.6 160.9h1.1v1.8h-1.1zM60.6 166.9h1.1v1.8h-1.1zM60.6 205.6h1.1v1.8h-1.1zM60.6 208.6h1.1v1.8h-1.1zM60.6 211.6h1.1v1.8h-1.1zM60.6 223.5h1.1v1.8h-1.1zM60.6 226.5h1.1v1.8h-1.1zM60.6 241.4h1.1v1.8h-1.1zM52.4 250.3h1.1v1.8h-1.1zM52.4 256.3h1.1v1.8h-1.1zM52.4 268.2h1.1v1.8h-1.1zM60.6 295h1.1v1.8h-1.1zM52.4 306.9h1.1v1.8h-1.1zM52.4 318.9h1.1v1.8h-1.1zM52.4 324.8h1.1v1.8h-1.1zM60.6 324.8h1.1v1.8h-1.1zM60.6 327.8h1.1v1.8h-1.1zM60.6 360.6h1.1v1.8h-1.1zM60.6 369.5h1.1v1.8h-1.1zM52.4 372.5h1.1v1.8h-1.1zM52.4 381.4h1.1v1.8h-1.1zM60.6 387.4h1.1v1.8h-1.1zM52.4 414.2h1.1v1.8h-1.1zM60.6 417.2h1.1v1.8h-1.1zM52.4 438.1h1.1v1.8h-1.1zM60.6 438.1h1.1v1.8h-1.1zM60.6 441h1.1v1.8h-1.1zM52.4 447h1.1v1.8h-1.1zM60.6 453h1.1v1.8h-1.1zM52.4 458.9h1.1v1.8h-1.1zM52.4 461.9h1.1v1.8h-1.1zM52.4 473.8h1.1v1.8h-1.1zM60.6 506.6h1.1v1.8h-1.1zM52.4 527.5h1.1v1.8h-1.1zM60.6 533.4h1.1v1.8h-1.1zM52.4 539.4h1.1v1.8h-1.1zM52.4 545.3h1.1v1.8h-1.1zM52.4 551.3h1.1v1.8h-1.1zM60.6 551.3h1.1v1.8h-1.1zM60.6 569.2h1.1v1.8h-1.1zM52.4 578.1h1.1v1.8h-1.1zM60.6 596h1.1v1.8h-1.1zM60.6 607.9h1.1v1.8h-1.1zM60.6 610.9h1.1v1.8h-1.1zM60.6 616.9h1.1v1.8h-1.1z"/><path fill="#ffffff" fill-opacity="0.8" d="M70.4 0h1.1v1.8h-1.1zM85.4 3h1.1v1.8h-1.1zM114.4 3h1.1v1.8h-1.1zM257.2 3h1.1v1.8h-1.1zM300.6 3h1.1v1.8h-1.1zM26.2 6h1.1v1.8h-1.1zM34.4 6h1.1v1.8h-1.1zM6.4 11.9h1.1v1.8h-1.1zM40.8 11.9h1.1v1.8h-1.1zM147.6 11.9h1.1v1.8h-1.1zM257.2 11.9h1.1v1.8h-1.1zM300.6 17.9h1.1v1.8h-1.1zM125 20.9h1.1v1.8h-1.1zM40.8 23.8h1.1v1.8h-1.1zM257.2 23.8h1.1v1.8h-1.1zM157.6 26.8h1.1v1.8h-1.1zM277.2 26.8h1.1v1.8h-1.1zM147.6 32.8h1.1v1.8h-1.1zM249.6 32.8h1.1v1.8h-1.1zM277.2 32.8h1.1v1.8h-1.1zM85.4 35.8h1.1v1.8h-1.1zM184.4 35.8h1.1v1.8h-1.1zM277.2 44.7h1.1v1.8h-1.1zM26.2 47.7h1.1v1.8h-1.1zM70.4 47.7h1.1v1.8h-1.1zM229.6 47.7h1.1v1.8h-1.1zM300.6 47.7h1.1v1.8h-1.1zM15.4 50.7h1.1v1.8h-1.1zM96.4 53.6h1.1v1.8h-1.1zM290.4 53.6h1.1v1.8h-1.1zM26.2 56.6h1.1v1.8h-1.1zM147.6 56.6h1.1v1.8h-1.1zM184.4 56.6h1.1v1.8h-1.1zM229.6 59.6h1.1v1.8h-1.1zM277.2 59.6h1.1v1.8h-1.1zM26.2 62.6h1.1v1.8h-1.1zM40.8 62.6h1.1v1.8h-1.1zM85.4 62.6h1.1v1.8h-1.1zM85.4 65.6h1.1v1.8h-1.1zM290.4 68.5h1.1v1.8h-1.1zM229.6 71.5h1.1v1.8h-1.1zM85.4 74.5h1.1v1.8h-1.1zM125 77.5h1.1v1.8h-1.1zM300.6 77.5h1.1v1.8h-1.1zM277.2 80.5h1.1v1.8h-1.1zM125 83.4h1.1v1.8h-1.1zM147.6 83.4h1.1v1.8h-1.1zM125 86.4h1.1v1.8h-1.1zM249.6 86.4h1.1v1.8h-1.1zM257.2 86.4h1.1v1.8h-1.1zM157.6 89.4h1.1v1.8h-1.1zM6.4 92.4h1.1v1.8h-1.1zM277.2 92.4h1.1v1.8h-1.1zM6.4 95.4h1.1v1.8h-1.1zM125 95.4h1.1v1.8h-1.1zM70.4 101.3h1.1v1.8h-1.1zM125 101.3h1.1v1.8h-1.1zM300.6 104.3h1.1v1.8h-1.1zM300.6 110.3h1.1v1.8h-1.1zM249.6 116.2h1.1v1.8h-1.1zM6.4 119.2h1.1v1.8h-1.1zM26.2 119.2h1.1v1.8h-1.1zM40.8 119.2h1.1v1.8h-1.1zM114.4 119.2h1.1v1.8h-1.1zM26.2 122.2h1.1v1.8h-1.1zM40.8 122.2h1.1v1.8h-1.1zM290.4 125.2h1.1v1.8h-1.1zM147.6 128.1h1.1v1.8h-1.1zM300.6 128.1h1.1v1.8h-1.1zM257.2 131.1h1.1v1.8h-1.1zM108.4 134.1h1.1v1.8h-1.1zM70.4 137.1h1.1v1.8h-1.1zM249.6 137.1h1.1v1.8h-1.1zM257.2 137.1h1.1v1.8h-1.1zM70.4 140.1h1.1v1.8h-1.1zM171.6 140.1h1.1v1.8h-1.1zM147.6 143h1.1v1.8h-1.1zM300.6 146h1.1v1.8h-1.1zM26.2 149h1.1v1.8h-1.1zM40.8 149h1.1v1.8h-1.1zM40.8 155h1.1v1.8h-1.1zM257.2 155h1.1v1.8h-1.1zM85.4 157.9h1.1v1.8h-1.1zM171.6 163.9h1.1v1.8h-1.1zM249.6 163.9h1.1v1.8h-1.1zM249.6 166.9h1.1v1.8h-1.1zM70.4 169.9h1.1v1.8h-1.1zM125 169.9h1.1v1.8h-1.1zM249.6 172.8h1.1v1.8h-1.1zM257.2 172.8h1.1v1.8h-1.1zM85.4 175.8h1.1v1.8h-1.1zM108.4 175.8h1.1v1.8h-1.1zM125 175.8h1.1v1.8h-1.1zM15.4 178.8h1.1v1.8h-1.1zM26.2 178.8h1.1v1.8h-1.1zM70.4 178.8h1.1v1.8h-1.1zM96.4 178.8h1.1v1.8h-1.1zM70.4 190.7h1.1v1.8h-1.1zM108.4 190.7h1.1v1.8h-1.1zM15.4 193.7h1.1v1.8h-1.1zM34.4 193.7h1.1v1.8h-1.1zM40.8 193.7h1.1v1.8h-1.1zM96.4 193.7h1.1v1.8h-1.1zM108.4 193.7h1.1v1.8h-1.1zM157.6 193.7h1.1v1.8h-1.1zM85.4 196.7h1.1v1.8h-1.1zM157.6 196.7h1.1v1.8h-1.1zM15.4 199.7h1.1v1.8h-1.1zM26.2 199.7h1.1v1.8h-1.1zM70.4 199.7h1.1v1.8h-1.1zM108.4 199.7h1.1v1.8h-1.1zM114.4 199.7h1.1v1.8h-1.1zM157.6 199.7h1.1v1.8h-1.1zM70.4 202.6h1.1v1.8h-1.1zM157.6 202.6h1.1v1.8h-1.1zM6.4 205.6h1.1v1.8h-1.1zM40.8 205.6h1.1v1.8h-1.1zM125 205.6h1.1v1.8h-1.1zM26.2 208.6h1.1v1.8h-1.1zM34.4 208.6h1.1v1.8h-1.1zM70.4 211.6h1.1v1.8h-1.1zM125 211.6h1.1v1.8h-1.1zM70.4 214.6h1.1v1.8h-1.1zM147.6 214.6h1.1v1.8h-1.1zM249.6 214.6h1.1v1.8h-1.1zM229.6 217.5h1.1v1.8h-1.1zM40.8 220.5h1.1v1.8h-1.1zM214.4 220.5h1.1v1.8h-1.1zM6.4 223.5h1.1v1.8h-1.1zM26.2 226.5h1.1v1.8h-1.1zM40.8 232.4h1.1v1.8h-1.1zM147.6 232.4h1.1v1.8h-1.1zM26.2 235.4h1.1v1.8h-1.1zM26.2 238.4h1.1v1.8h-1.1zM40.8 241.4h1.1v1.8h-1.1zM26.2 244.4h1.1v1.8h-1.1zM40.8 244.4h1.1v1.8h-1.1zM70.4 244.4h1.1v1.8h-1.1zM214.4 247.3h1.1v1.8h-1.1zM96.4 253.3h1.1v1.8h-1.1zM26.2 256.3h1.1v1.8h-1.1zM257.2 256.3h1.1v1.8h-1.1zM40.8 259.3h1.1v1.8h-1.1zM300.6 259.3h1.1v1.8h-1.1zM114.4 262.2h1.1v1.8h-1.1zM40.8 265.2h1.1v1.8h-1.1zM15.4 268.2h1.1v1.8h-1.1zM257.2 268.2h1.1v1.8h-1.1zM249.6 271.2h1.1v1.8h-1.1zM257.2 271.2h1.1v1.8h-1.1zM277.2 271.2h1.1v1.8h-1.1zM125 277.1h1.1v1.8h-1.1zM157.6 277.1h1.1v1.8h-1.1zM70.4 283.1h1.1v1.8h-1.1zM70.4 286.1h1.1v1.8h-1.1zM277.2 286.1h1.1v1.8h-1.1zM40.8 292h1.1v1.8h-1.1zM147.6 292h1.1v1.8h-1.1zM229.6 292h1.1v1.8h-1.1zM125 295h1.1v1.8h-1.1zM229.6 295h1.1v1.8h-1.1zM290.4 295h1.1v1.8h-1.1zM85.4 298h1.1v1.8h-1.1zM125 304h1.1v1.8h-1.1zM257.2 304h1.1v1.8h-1.1zM34.4 306.9h1.1v1.8h-1.1zM229.6 306.9h1.1v1.8h-1.1zM300.6 306.9h1.1v1.8h-1.1zM34.4 312.9h1.1v1.8h-1.1zM96.4 312.9h1.1v1.8h-1.1zM277.2 312.9h1.1v1.8h-1.1zM40.8 315.9h1.1v1.8h-1.1zM147.6 315.9h1.1v1.8h-1.1zM249.6 315.9h1.1v1.8h-1.1zM70.4 318.9h1.1v1.8h-1.1zM125 318.9h1.1v1.8h-1.1zM40.8 321.8h1.1v1.8h-1.1zM70.4 321.8h1.1v1.8h-1.1zM70.4 324.8h1.1v1.8h-1.1zM125 327.8h1.1v1.8h-1.1zM40.8 333.8h1.1v1.8h-1.1zM26.2 342.7h1.1v1.8h-1.1zM229.6 342.7h1.1v1.8h-1.1zM300.6 345.7h1.1v1.8h-1.1zM147.6 351.6h1.1v1.8h-1.1zM40.8 357.6h1.1v1.8h-1.1zM125 357.6h1.1v1.8h-1.1zM171.6 357.6h1.1v1.8h-1.1zM277.2 357.6h1.1v1.8h-1.1zM229.6 360.6h1.1v1.8h-1.1zM290.4 360.6h1.1v1.8h-1.1zM70.4 363.6h1.1v1.8h-1.1zM114.4 363.6h1.1v1.8h-1.1zM249.6 363.6h1.1v1.8h-1.1zM6.4 366.5h1.1v1.8h-1.1zM40.8 366.5h1.1v1.8h-1.1zM114.4 366.5h1.1v1.8h-1.1zM229.6 366.5h1.1v1.8h-1.1zM70.4 372.5h1.1v1.8h-1.1zM229.6 372.5h1.1v1.8h-1.1zM26.2 375.5h1.1v1.8h-1.1zM40.8 375.5h1.1v1.8h-1.1zM70.4 375.5h1.1v1.8h-1.1zM171.6 378.5h1.1v1.8h-1.1zM249.6 378.5h1.1v1.8h-1.1zM26.2 384.4h1.1v1.8h-1.1zM40.8 384.4h1.1v1.8h-1.1zM257.2 384.4h1.1v1.8h-1.1zM96.4 387.4h1.1v1.8h-1.1zM171.6 387.4h1.1v1.8h-1.1zM125 390.4h1.1v1.8h-1.1zM147.6 390.4h1.1v1.8h-1.1zM114.4 399.3h1.1v1.8h-1.1zM70.4 402.3h1.1v1.8h-1.1zM229.6 402.3h1.1v1.8h-1.1zM125 408.3h1.1v1.8h-1.1zM300.6 408.3h1.1v1.8h-1.1zM257.2 411.2h1.1v1.8h-1.1zM277.2 411.2h1.1v1.8h-1.1zM125 414.2h1.1v1.8h-1.1zM157.6 414.2h1.1v1.8h-1.1zM277.2 414.2h1.1v1.8h-1.1zM184.4 420.2h1.1v1.8h-1.1zM114.4 423.2h1.1v1.8h-1.1zM171.6 423.2h1.1v1.8h-1.1zM229.6 426.1h1.1v1.8h-1.1zM300.6 426.1h1.1v1.8h-1.1zM257.2 429.1h1.1v1.8h-1.1zM26.2 432.1h1.1v1.8h-1.1zM40.8 432.1h1.1v1.8h-1.1zM157.6 432.1h1.1v1.8h-1.1zM249.6 432.1h1.1v1.8h-1.1zM40.8 435.1h1.1v1.8h-1.1zM70.4 435.1h1.1v1.8h-1.1zM108.4 435.1h1.1v1.8h-1.1zM290.4 435.1h1.1v1.8h-1.1zM40.8 438.1h1.1v1.8h-1.1zM70.4 438.1h1.1v1.8h-1.1zM85.4 438.1h1.1v1.8h-1.1zM171.6 438.1h1.1v1.8h-1.1zM257.2 438.1h1.1v1.8h-1.1zM40.8 441h1.1v1.8h-1.1zM257.2 441h1.1v1.8h-1.1zM290.4 441h1.1v1.8h-1.1zM70.4 444h1.1v1.8h-1.1zM15.4 447h1.1v1.8h-1.1zM34.4 447h1.1v1.8h-1.1zM96.4 450h1.1v1.8h-1.1zM6.4 455.9h1.1v1.8h-1.1zM125 458.9h1.1v1.8h-1.1zM34.4 461.9h1.1v1.8h-1.1zM34.4 467.9h1.1v1.8h-1.1zM15.4 476.8h1.1v1.8h-1.1zM70.4 479.8h1.1v1.8h-1.1zM40.8 482.8h1.1v1.8h-1.1zM157.6 482.8h1.1v1.8h-1.1zM171.6 482.8h1.1v1.8h-1.1zM40.8 485.7h1.1v1.8h-1.1zM125 488.7h1.1v1.8h-1.1zM6.4 491.7h1.1v1.8h-1.1zM26.2 494.7h1.1v1.8h-1.1zM85.4 494.7h1.1v1.8h-1.1zM229.6 497.7h1.1v1.8h-1.1zM40.8 500.6h1.1v1.8h-1.1zM125 500.6h1.1v1.8h-1.1zM70.4 506.6h1.1v1.8h-1.1zM229.6 509.6h1.1v1.8h-1.1zM277.2 509.6h1.1v1.8h-1.1zM70.4 512.6h1.1v1.8h-1.1zM26.2 515.5h1.1v1.8h-1.1zM300.6 515.5h1.1v1.8h-1.1zM70.4 518.5h1.1v1.8h-1.1zM249.6 518.5h1.1v1.8h-1.1zM26.2 521.5h1.1v1.8h-1.1zM70.4 521.5h1.1v1.8h-1.1zM147.6 521.5h1.1v1.8h-1.1zM96.4 527.5h1.1v1.8h-1.1zM277.2 527.5h1.1v1.8h-1.1zM277.2 530.4h1.1v1.8h-1.1zM40.8 533.4h1.1v1.8h-1.1zM6.4 536.4h1.1v1.8h-1.1zM15.4 536.4h1.1v1.8h-1.1zM40.8 536.4h1.1v1.8h-1.1zM171.6 539.4h1.1v1.8h-1.1zM70.4 542.4h1.1v1.8h-1.1zM184.4 542.4h1.1v1.8h-1.1zM229.6 542.4h1.1v1.8h-1.1zM125 545.3h1.1v1.8h-1.1zM15.4 551.3h1.1v1.8h-1.1zM40.8 551.3h1.1v1.8h-1.1zM85.4 557.3h1.1v1.8h-1.1zM147.6 557.3h1.1v1.8h-1.1zM257.2 557.3h1.1v1.8h-1.1zM125 560.2h1.1v1.8h-1.1zM26.2 563.2h1.1v1.8h-1.1zM40.8 563.2h1.1v1.8h-1.1zM70.4 563.2h1.1v1.8h-1.1zM171.6 563.2h1.1v1.8h-1.1zM277.2 563.2h1.1v1.8h-1.1zM6.4 566.2h1.1v1.8h-1.1zM70.4 566.2h1.1v1.8h-1.1zM26.2 569.2h1.1v1.8h-1.1zM70.4 569.2h1.1v1.8h-1.1zM85.4 569.2h1.1v1.8h-1.1zM300.6 569.2h1.1v1.8h-1.1zM125 572.2h1.1v1.8h-1.1zM157.6 572.2h1.1v1.8h-1.1zM229.6 572.2h1.1v1.8h-1.1zM300.6 572.2h1.1v1.8h-1.1zM26.2 575.1h1.1v1.8h-1.1zM229.6 575.1h1.1v1.8h-1.1zM157.6 578.1h1.1v1.8h-1.1zM40.8 581.1h1.1v1.8h-1.1zM70.4 581.1h1.1v1.8h-1.1zM157.6 584.1h1.1v1.8h-1.1zM171.6 584.1h1.1v1.8h-1.1zM300.6 584.1h1.1v1.8h-1.1zM26.2 587.1h1.1v1.8h-1.1zM40.8 587.1h1.1v1.8h-1.1zM157.6 587.1h1.1v1.8h-1.1zM26.2 590h1.1v1.8h-1.1zM26.2 593h1.1v1.8h-1.1zM125 593h1.1v1.8h-1.1zM157.6 596h1.1v1.8h-1.1zM277.2 596h1.1v1.8h-1.1zM70.4 599h1.1v1.8h-1.1zM114.4 599h1.1v1.8h-1.1zM34.4 602h1.1v1.8h-1.1zM6.4 604.9h1.1v1.8h-1.1zM257.2 604.9h1.1v1.8h-1.1zM70.4 607.9h1.1v1.8h-1.1zM229.6 610.9h1.1v1.8h-1.1zM300.6 610.9h1.1v1.8h-1.1zM40.8 613.9h1.1v1.8h-1.1zM249.6 613.9h1.1v1.8h-1.1zM40.8 619.8h1.1v1.8h-1.1zM114.4 622.8h1.1v1.8h-1.1zM171.6 622.8h1.1v1.8h-1.1zM81 0h1.1v625h-1.1zM258 393.4h2.5v1.8h-2.5zM258 402.3h2.5v1.8h-2.5zM258 414.2h2.5v1.8h-2.5zM258 458.9h2.5v1.8h-2.5zM258 473.8h2.5v1.8h-2.5zM258 479.8h2.5v1.8h-2.5zM258 488.7h2.5v1.8h-2.5zM258 494.7h2.5v1.8h-2.5zM258 509.6h2.5v1.8h-2.5zM258 518.5h2.5v1.8h-2.5zM258 530.4h2.5v1.8h-2.5zM258 536.4h2.5v1.8h-2.5zM258 551.3h2.5v1.8h-2.5zM258 566.2h2.5v1.8h-2.5zM258 607.9h2.5v1.8h-2.5zM258 610.9h2.5v1.8h-2.5zM258 616.9h2.5v1.8h-2.5zM91.7 6h1.1v1.6h-1.1zM102.4 1.3h3.6v1.6h-3.6zM101.2 4.3h4.1v1.6h-4.1zM95 7.3h3.2v1.6h-3.2zM104.6 10.2h1.4v1.6h-1.4zM95 13.2h3.8v1.6h-3.8zM102.2 16.2h3.2v1.6h-3.2zM85.6 0h2.7v1.6h-2.7zM84.7 8.9h1v1.6h-1zM85.7 8.9h1.4v1.6h-1.4zM88.4 8.9h0.1v1.6h-0.1zM83 11.9h1.9v1.6h-1.9zM86.8 11.9h1.7v1.6h-1.7zM83 17.9h2.7v1.6h-2.7zM85.7 17.9h1.2v1.6h-1.2zM151.2 0h1.8v1.6h-1.8zM148.2 3h1.5v1.6h-1.5zM149.7 3h2.4v1.6h-2.4zM152.1 3h0.9v1.6h-0.9zM147 8.9h1v1.6h-1zM148 8.9h2.3v1.6h-2.3zM147 11.9h2.2v1.6h-2.2zM150.9 14.9h2.1v1.6h-2.1zM149.4 17.9h2.4v1.6h-2.4zM151.9 17.9h1.1v1.6h-1.1zM156.8 8.9h2.1v1.6h-2.1zM158.9 8.9h1.9v1.6h-1.9zM153 14.9h2v1.6h-2zM156.4 14.9h2.8v1.6h-2.8zM153 17.9h2.4v1.6h-2.4zM135.1 29h2.7v1.6h-2.7zM146 29h1.8v1.6h-1.8zM131.3 32h1.2v1.6h-1.2zM136.8 32h2.5v1.6h-2.5zM131.1 35h1.2v1.6h-1.2zM136.9 35h2.5v1.6h-2.5zM146.2 35h2.5v1.6h-2.5zM148.7 35h1.3v1.6h-1.3zM129 37.9h2.4v1.6h-2.4zM134.2 37.9h2.5v1.6h-2.5zM141.4 37.9h1.8v1.6h-1.8zM231.7 1.5h0.3v1.6h-0.3zM227.4 10.4h2.7v1.6h-2.7zM228.7 13.4h2.9v1.6h-2.9zM225 16.4h3.6v1.6h-3.6zM251.9 7h1.2v1.6h-1.2zM253.1 7h1.2v1.6h-1.2zM249.9 9.9h2.8v1.6h-2.8zM246 12.9h2v1.6h-2zM249.8 15.9h2.1v1.6h-2.1zM251.9 15.9h1.8v1.6h-1.8zM251 21h2.1v1.6h-2.1zM246 24h3.5v1.6h-3.5zM248.1 27h2.3v1.6h-2.3zM246 32.9h3.4v1.6h-3.4zM248.7 35.9h2.3v1.6h-2.3zM246 38.9h3.8v1.6h-3.8zM260.7 1h2.1v1.6h-2.1zM254.3 4h2.7v1.6h-2.7zM256.7 7h3.6v1.6h-3.6zM262.8 7h0.6v1.6h-0.6zM261.5 15.9h1.9v1.6h-1.9zM274 27h1.4v1.6h-1.4zM5 29.5h2.6v1.6h-2.6zM11.9 29.5h1.8v1.6h-1.8zM5 32.5h2.7v1.6h-2.7zM10.8 32.5h2.2v1.6h-2.2zM15.5 35.5h0.5v1.6h-0.5zM9.8 38.4h2.6v1.6h-2.6zM8.3 51h5v1.5h-5zM9 54h3.2v1.5h-3.2zM12.1 54h3.2v1.5h-3.2zM9.1 57h3.8v1.5h-3.8zM6 65h4.2v1.5h-4.2zM22.2 71h2.8v1.5h-2.8zM8.9 73.9h2.9v1.5h-2.9zM11.9 73.9h4.2v1.5h-4.2zM16.1 73.9h3.9v1.5h-3.9zM6 76.9h4.7v1.5h-4.7zM10.7 76.9h2.1v1.5h-2.1zM15.9 76.9h3v1.5h-3zM16.9 85h3.1v1.3h-3.1zM13 87.9h2.8v1.3h-2.8zM21.2 99.9h3.8v1.3h-3.8zM18.7 105.8h3.6v1.3h-3.6zM13.4 108.8h2.5v1.3h-2.5zM19.2 108.8h3.2v1.3h-3.2zM21.9 114.8h3.1v1.3h-3.1zM11.7 117.7h3.6v1.3h-3.6zM6 129.7h2.5v1.3h-2.5zM16.2 129.7h3.4v1.3h-3.4zM13.3 132.6h2.7v1.3h-2.7zM21.9 135.6h3.1v1.3h-3.1zM20.4 144.6h4.2v1.3h-4.2zM24.6 144.6h0.4v1.3h-0.4zM9.9 147.5h3.3v1.3h-3.3zM233.1 133h0.9v1.6h-0.9zM225 147.9h2.6v1.6h-2.6zM227.6 147.9h1.7v1.6h-1.7zM229.3 147.9h2v1.6h-2zM231.3 147.9h1.5v1.6h-1.5zM226.6 153.8h2.4v1.6h-2.4zM245 99h1.9v1.6h-1.9zM246.9 99h1.8v1.6h-1.8zM248.5 105h1.4v1.6h-1.4zM248.5 107.9h2.3v1.6h-2.3zM246.2 113.9h1.5v1.6h-1.5zM245 119.9h1.1v1.6h-1.1zM245 125.8h1.1v1.6h-1.1zM246.1 125.8h2.3v1.6h-2.3zM250.6 125.8h0.4v1.6h-0.4zM245 131.8h1.5v1.6h-1.5zM250.9 131.8h0.1v1.6h-0.1zM247.2 149.7h2.2v1.6h-2.2zM249.5 152.6h1.5v1.6h-1.5zM245 170.5h2.3v1.6h-2.3zM245 176.5h1.6v1.6h-1.6zM249 191.4h1.4v1.6h-1.4zM246.3 194.4h2.2v1.6h-2.2zM250.9 200.3h0.1v1.6h-0.1zM245 171h1.7v1.6h-1.7zM250.8 171h0.2v1.6h-0.2zM245 174h2.4v1.6h-2.4zM245 177h1.5v1.6h-1.5zM250.9 177h0.1v1.6h-0.1zM245 179.9h1.5v1.6h-1.5zM246.4 182.9h1.1v1.6h-1.1zM248.3 185.9h1.1v1.6h-1.1zM249.4 185.9h1.2v1.6h-1.2zM245 188.9h1.3v1.6h-1.3zM248.8 188.9h1.9v1.6h-1.9zM245 191.9h1.9v1.6h-1.9zM246.9 191.9h1.8v1.6h-1.8zM246.1 194.8h1.5v1.6h-1.5zM299.8 125h2.7v1.6h-2.7zM298 131h2.3v1.6h-2.3zM302.3 131h1.1v1.6h-1.1zM303.4 131h1.1v1.6h-1.1zM302 133.9h1.4v1.6h-1.4zM303.4 133.9h1.4v1.6h-1.4zM304.8 133.9h0.2v1.6h-0.2zM299.6 139.9h1.8v1.6h-1.8zM302.6 139.9h1.6v1.6h-1.6zM303.5 142.9h1.5v1.6h-1.5zM304.1 145.9h0.9v1.6h-0.9zM298 151.8h1.3v1.6h-1.3zM302.7 222h0.3v1.6h-0.3zM299.4 225h1.3v1.6h-1.3zM298 242.9h1.1v1.6h-1.1zM301.8 251.8h1.2v1.6h-1.2zM298 275.6h2.5v1.6h-2.5zM302.6 275.6h0.4v1.6h-0.4zM300.5 278.6h1.4v1.6h-1.4zM302 278.6h1v1.6h-1zM298 281.6h2.2v1.6h-2.2zM300.2 281.6h1.6v1.6h-1.6zM81 244h1.5v1.6h-1.5zM84.5 244h0.5v1.6h-0.5zM81 261.9h1.9v1.6h-1.9zM82.9 261.9h2.1v1.6h-2.1zM82.4 270.8h2.6v1.6h-2.6zM81 276.8h2.5v1.6h-2.5zM84.7 279.8h0.3v1.6h-0.3zM192 273h1.4v1.6h-1.4zM189 276h2.5v1.6h-2.5zM191.5 276h2.3v1.6h-2.3zM193.6 279h0.4v1.6h-0.4zM191.1 281.9h2.2v1.6h-2.2zM193.4 281.9h0.6v1.6h-0.6zM0 286.5h314v1.3h-314zM0 290h314v1.3h-314zM0 293.2h314v1.3h-314zM109.2 298h1.7v1.6h-1.7zM107 301h1.3v1.6h-1.3zM108.3 301h2.6v1.6h-2.6zM110.9 301h2.2v1.6h-2.2zM107 303.9h1.5v1.6h-1.5zM110.7 306.9h2.3v1.6h-2.3zM107 309.9h1.8v1.6h-1.8zM116.9 309.9h1.1v1.6h-1.1zM116 315.9h2v1.6h-2zM113.8 321.8h2.1v1.6h-2.1zM115.9 321.8h1.6v1.6h-1.6zM110.5 324.8h2.5v1.6h-2.5zM108.3 333.7h1.9v1.6h-1.9zM246.3 298h1.9v1.6h-1.9zM245 303.9h2.1v1.6h-2.1zM245 306.9h1.5v1.6h-1.5zM248.9 306.9h2.5v1.6h-2.5zM253.6 315.9h0.4v1.6h-0.4zM245 324.8h2.7v1.6h-2.7zM251.8 327.8h1.6v1.6h-1.6zM252.3 333.7h1.7v1.6h-1.7zM252.3 342.7h1.7v1.6h-1.7zM290.9 305.9h2v1.6h-2zM293 308.9h1.7v1.6h-1.7zM290.1 320.8h1.3v1.6h-1.3zM291.4 332.8h2.5v1.6h-2.5zM290.6 350.6h1.6v1.6h-1.6zM293.6 359.6h1.4v1.6h-1.4zM298 350h1.6v1.6h-1.6zM300.3 355.9h1.3v1.6h-1.3zM302.5 358.9h0.5v1.6h-0.5zM26 437h1.5v1.6h-1.5zM28.5 443h1.6v1.6h-1.6zM27.6 445.9h1.1v1.6h-1.1zM27.9 455h2.8v1.6h-2.8zM30.8 457.9h0.2v1.6h-0.2zM30.7 466.9h0.3v1.6h-0.3zM256.8 379h1.7v1.6h-1.7zM254 382h1.4v1.6h-1.4zM258.9 382h1.8v1.6h-1.8zM258.6 385h1.1v1.6h-1.1zM255.5 390.9h2v1.6h-2zM257.5 390.9h2.4v1.6h-2.4zM259.1 393.9h1.1v1.6h-1.1zM260.2 393.9h0.8v1.6h-0.8zM260.1 396.9h0.9v1.6h-0.9zM256.5 399.9h2.2v1.6h-2.2zM257.8 405.8h1.6v1.6h-1.6zM259.2 409h1.2v1.6h-1.2zM256.7 415h1.5v1.6h-1.5zM258.1 435.8h2.4v1.6h-2.4zM254 441.8h2.5v1.6h-2.5zM258.8 441.8h1.1v1.6h-1.1zM254 459.7h1.1v1.6h-1.1zM256.7 462.6h1.8v1.6h-1.8zM115.9 499h1v1.6h-1zM120.3 502h2v1.6h-2zM113 507.9h2.3v1.6h-2.3zM121.2 507.9h1.1v1.6h-1.1zM113 513.9h2.5v1.6h-2.5zM113 519.9h1.9v1.6h-1.9zM121.5 519.9h0.8v1.6h-0.8zM113 522.8h1.7v1.6h-1.7zM114.7 522.8h2.6v1.6h-2.6zM120.5 528.8h1.6v1.6h-1.6zM122 528.8h0.3v1.6h-0.3zM113 531.8h1.4v1.6h-1.4zM114.4 531.8h1.4v1.6h-1.4zM104.8 509h2.2v1.6h-2.2zM106.3 511.9h1.5v1.6h-1.5zM108.8 511.9h2.7v1.6h-2.7zM111 514.9h2v1.6h-2zM108.5 517.9h1.8v1.6h-1.8zM102.9 523.9h1.4v1.6h-1.4zM105.9 523.9h1.8v1.6h-1.8zM112.7 526.8h0.3v1.6h-0.3zM149.7 503h0.3v1.9h-0.3zM143.8 506h2.8v1.9h-2.8zM146.6 506h3v1.9h-3zM141 509h3.9v1.9h-3.9zM144.9 509h4.5v1.9h-4.5zM141 514.9h3.6v1.9h-3.6zM144.6 514.9h2.8v1.9h-2.8zM141 517.9h2.6v1.9h-2.6zM141 520.9h3.6v1.9h-3.6zM146.3 523.9h3.7v1.9h-3.7zM143 526.8h2.5v1.9h-2.5zM149.7 517.9h1.3v1.6h-1.3zM149.6 520.9h1.4v1.6h-1.4zM150.6 526.8h0.4v1.6h-0.4zM157 503h1.7v1.6h-1.7zM157 509h2.4v1.6h-2.4zM157 517.9h1.9v1.6h-1.9zM159.2 523.9h1.8v1.6h-1.8zM159.5 526.8h1.5v1.6h-1.5zM256.8 508h1.1v1.6h-1.1zM256.2 510.9h2.3v1.6h-2.3zM262.3 510.9h2.5v1.6h-2.5zM255 513.9h1.5v1.6h-1.5zM258.9 513.9h1.2v1.6h-1.2zM255 522.9h1.5v1.6h-1.5zM261.4 522.9h1.9v1.6h-1.9zM255 525.8h1.4v1.6h-1.4zM257.8 525.8h2.6v1.6h-2.6zM22.4 583h0.6v1.7h-0.6zM9 586h3.4v1.7h-3.4zM18 588.9h3.5v1.7h-3.5zM6 594.9h5.7v1.7h-5.7zM14.1 597.9h2.5v1.7h-2.5zM16 603.8h3.8v1.7h-3.8zM19.9 603.8h3.1v1.7h-3.1zM8.8 612.8h4.7v1.7h-4.7zM15.5 612.8h4v1.7h-4zM19.5 612.8h3.5v1.7h-3.5zM103 580h5.4v1.4h-5.4zM108.4 580h7.7v1.4h-7.7zM109.6 586h5.1v1.4h-5.1zM118.6 586h5.6v1.4h-5.6zM103 588.9h7.6v1.4h-7.6zM116 588.9h5.1v1.4h-5.1zM115.2 591.9h7.4v1.4h-7.4zM106.2 597.9h3.8v1.4h-3.8zM110 597.9h3.8v1.4h-3.8zM119.7 597.9h4.4v1.4h-4.4zM129.8 597.9h2.2v1.4h-2.2zM110.6 600.9h6.7v1.4h-6.7z"/><path fill="#ffffff" fill-opacity="0.9" d="M125 0h1.1v1.8h-1.1zM229.6 0h1.1v1.8h-1.1zM6.4 3h1.1v1.8h-1.1zM70.4 3h1.1v1.8h-1.1zM157.6 6h1.1v1.8h-1.1zM26.2 8.9h1.1v1.8h-1.1zM108.4 8.9h1.1v1.8h-1.1zM125 8.9h1.1v1.8h-1.1zM157.6 8.9h1.1v1.8h-1.1zM171.6 8.9h1.1v1.8h-1.1zM249.6 8.9h1.1v1.8h-1.1zM26.2 11.9h1.1v1.8h-1.1zM70.4 11.9h1.1v1.8h-1.1zM229.6 11.9h1.1v1.8h-1.1zM40.8 14.9h1.1v1.8h-1.1zM214.4 14.9h1.1v1.8h-1.1zM229.6 14.9h1.1v1.8h-1.1zM257.2 14.9h1.1v1.8h-1.1zM26.2 17.9h1.1v1.8h-1.1zM70.4 17.9h1.1v1.8h-1.1zM26.2 23.8h1.1v1.8h-1.1zM171.6 23.8h1.1v1.8h-1.1zM26.2 26.8h1.1v1.8h-1.1zM171.6 26.8h1.1v1.8h-1.1zM70.4 29.8h1.1v1.8h-1.1zM171.6 29.8h1.1v1.8h-1.1zM70.4 32.8h1.1v1.8h-1.1zM249.6 38.7h1.1v1.8h-1.1zM26.2 41.7h1.1v1.8h-1.1zM249.6 47.7h1.1v1.8h-1.1zM229.6 50.7h1.1v1.8h-1.1zM257.2 50.7h1.1v1.8h-1.1zM40.8 53.6h1.1v1.8h-1.1zM108.4 53.6h1.1v1.8h-1.1zM125 53.6h1.1v1.8h-1.1zM290.4 56.6h1.1v1.8h-1.1zM70.4 59.6h1.1v1.8h-1.1zM171.6 59.6h1.1v1.8h-1.1zM147.6 62.6h1.1v1.8h-1.1zM277.2 62.6h1.1v1.8h-1.1zM96.4 65.6h1.1v1.8h-1.1zM108.4 65.6h1.1v1.8h-1.1zM157.6 65.6h1.1v1.8h-1.1zM96.4 68.5h1.1v1.8h-1.1zM147.6 68.5h1.1v1.8h-1.1zM257.2 68.5h1.1v1.8h-1.1zM70.4 71.5h1.1v1.8h-1.1zM85.4 71.5h1.1v1.8h-1.1zM125 74.5h1.1v1.8h-1.1zM229.6 74.5h1.1v1.8h-1.1zM277.2 74.5h1.1v1.8h-1.1zM70.4 80.5h1.1v1.8h-1.1zM214.4 80.5h1.1v1.8h-1.1zM249.6 80.5h1.1v1.8h-1.1zM257.2 83.4h1.1v1.8h-1.1zM171.6 86.4h1.1v1.8h-1.1zM26.2 89.4h1.1v1.8h-1.1zM147.6 92.4h1.1v1.8h-1.1zM85.4 95.4h1.1v1.8h-1.1zM249.6 98.3h1.1v1.8h-1.1zM300.6 98.3h1.1v1.8h-1.1zM6.4 101.3h1.1v1.8h-1.1zM229.6 101.3h1.1v1.8h-1.1zM26.2 104.3h1.1v1.8h-1.1zM34.4 104.3h1.1v1.8h-1.1zM70.4 104.3h1.1v1.8h-1.1zM229.6 104.3h1.1v1.8h-1.1zM257.2 104.3h1.1v1.8h-1.1zM40.8 107.3h1.1v1.8h-1.1zM300.6 107.3h1.1v1.8h-1.1zM147.6 110.3h1.1v1.8h-1.1zM290.4 110.3h1.1v1.8h-1.1zM40.8 113.2h1.1v1.8h-1.1zM147.6 116.2h1.1v1.8h-1.1zM277.2 116.2h1.1v1.8h-1.1zM300.6 116.2h1.1v1.8h-1.1zM15.4 119.2h1.1v1.8h-1.1zM40.8 125.2h1.1v1.8h-1.1zM40.8 128.1h1.1v1.8h-1.1zM26.2 131.1h1.1v1.8h-1.1zM26.2 137.1h1.1v1.8h-1.1zM157.6 140.1h1.1v1.8h-1.1zM277.2 140.1h1.1v1.8h-1.1zM70.4 143h1.1v1.8h-1.1zM277.2 143h1.1v1.8h-1.1zM171.6 146h1.1v1.8h-1.1zM70.4 152h1.1v1.8h-1.1zM147.6 155h1.1v1.8h-1.1zM300.6 155h1.1v1.8h-1.1zM26.2 157.9h1.1v1.8h-1.1zM114.4 157.9h1.1v1.8h-1.1zM147.6 157.9h1.1v1.8h-1.1zM70.4 160.9h1.1v1.8h-1.1zM114.4 160.9h1.1v1.8h-1.1zM300.6 160.9h1.1v1.8h-1.1zM6.4 163.9h1.1v1.8h-1.1zM257.2 163.9h1.1v1.8h-1.1zM114.4 166.9h1.1v1.8h-1.1zM40.8 169.9h1.1v1.8h-1.1zM96.4 172.8h1.1v1.8h-1.1zM70.4 175.8h1.1v1.8h-1.1zM257.2 175.8h1.1v1.8h-1.1zM40.8 178.8h1.1v1.8h-1.1zM147.6 178.8h1.1v1.8h-1.1zM257.2 178.8h1.1v1.8h-1.1zM40.8 181.8h1.1v1.8h-1.1zM277.2 181.8h1.1v1.8h-1.1zM125 184.8h1.1v1.8h-1.1zM171.6 184.8h1.1v1.8h-1.1zM214.4 184.8h1.1v1.8h-1.1zM147.6 187.7h1.1v1.8h-1.1zM257.2 193.7h1.1v1.8h-1.1zM300.6 193.7h1.1v1.8h-1.1zM26.2 196.7h1.1v1.8h-1.1zM229.6 196.7h1.1v1.8h-1.1zM40.8 199.7h1.1v1.8h-1.1zM277.2 199.7h1.1v1.8h-1.1zM6.4 202.6h1.1v1.8h-1.1zM15.4 205.6h1.1v1.8h-1.1zM171.6 205.6h1.1v1.8h-1.1zM229.6 205.6h1.1v1.8h-1.1zM277.2 205.6h1.1v1.8h-1.1zM257.2 208.6h1.1v1.8h-1.1zM26.2 214.6h1.1v1.8h-1.1zM214.4 214.6h1.1v1.8h-1.1zM290.4 214.6h1.1v1.8h-1.1zM70.4 217.5h1.1v1.8h-1.1zM125 217.5h1.1v1.8h-1.1zM26.2 220.5h1.1v1.8h-1.1zM257.2 220.5h1.1v1.8h-1.1zM257.2 223.5h1.1v1.8h-1.1zM40.8 226.5h1.1v1.8h-1.1zM70.4 226.5h1.1v1.8h-1.1zM96.4 226.5h1.1v1.8h-1.1zM171.6 226.5h1.1v1.8h-1.1zM214.4 226.5h1.1v1.8h-1.1zM257.2 229.5h1.1v1.8h-1.1zM125 232.4h1.1v1.8h-1.1zM6.4 235.4h1.1v1.8h-1.1zM40.8 238.4h1.1v1.8h-1.1zM70.4 238.4h1.1v1.8h-1.1zM300.6 238.4h1.1v1.8h-1.1zM157.6 241.4h1.1v1.8h-1.1zM277.2 241.4h1.1v1.8h-1.1zM300.6 241.4h1.1v1.8h-1.1zM147.6 244.4h1.1v1.8h-1.1zM6.4 247.3h1.1v1.8h-1.1zM40.8 247.3h1.1v1.8h-1.1zM70.4 247.3h1.1v1.8h-1.1zM125 250.3h1.1v1.8h-1.1zM277.2 250.3h1.1v1.8h-1.1zM125 253.3h1.1v1.8h-1.1zM40.8 256.3h1.1v1.8h-1.1zM229.6 256.3h1.1v1.8h-1.1zM249.6 256.3h1.1v1.8h-1.1zM300.6 256.3h1.1v1.8h-1.1zM147.6 259.3h1.1v1.8h-1.1zM277.2 259.3h1.1v1.8h-1.1zM70.4 265.2h1.1v1.8h-1.1zM277.2 265.2h1.1v1.8h-1.1zM290.4 265.2h1.1v1.8h-1.1zM40.8 268.2h1.1v1.8h-1.1zM125 268.2h1.1v1.8h-1.1zM40.8 271.2h1.1v1.8h-1.1zM114.4 271.2h1.1v1.8h-1.1zM15.4 274.2h1.1v1.8h-1.1zM40.8 274.2h1.1v1.8h-1.1zM70.4 274.2h1.1v1.8h-1.1zM214.4 274.2h1.1v1.8h-1.1zM257.2 274.2h1.1v1.8h-1.1zM26.2 280.1h1.1v1.8h-1.1zM40.8 280.1h1.1v1.8h-1.1zM147.6 283.1h1.1v1.8h-1.1zM40.8 286.1h1.1v1.8h-1.1zM171.6 286.1h1.1v1.8h-1.1zM257.2 289.1h1.1v1.8h-1.1zM26.2 292h1.1v1.8h-1.1zM70.4 292h1.1v1.8h-1.1zM184.4 292h1.1v1.8h-1.1zM85.4 295h1.1v1.8h-1.1zM108.4 295h1.1v1.8h-1.1zM40.8 298h1.1v1.8h-1.1zM26.2 301h1.1v1.8h-1.1zM40.8 304h1.1v1.8h-1.1zM26.2 306.9h1.1v1.8h-1.1zM40.8 306.9h1.1v1.8h-1.1zM114.4 306.9h1.1v1.8h-1.1zM108.4 309.9h1.1v1.8h-1.1zM70.4 312.9h1.1v1.8h-1.1zM108.4 312.9h1.1v1.8h-1.1zM171.6 318.9h1.1v1.8h-1.1zM125 321.8h1.1v1.8h-1.1zM157.6 324.8h1.1v1.8h-1.1zM229.6 324.8h1.1v1.8h-1.1zM70.4 330.8h1.1v1.8h-1.1zM114.4 330.8h1.1v1.8h-1.1zM257.2 330.8h1.1v1.8h-1.1zM108.4 333.8h1.1v1.8h-1.1zM229.6 336.7h1.1v1.8h-1.1zM40.8 339.7h1.1v1.8h-1.1zM157.6 339.7h1.1v1.8h-1.1zM249.6 339.7h1.1v1.8h-1.1zM125 342.7h1.1v1.8h-1.1zM34.4 345.7h1.1v1.8h-1.1zM108.4 345.7h1.1v1.8h-1.1zM70.4 348.7h1.1v1.8h-1.1zM300.6 348.7h1.1v1.8h-1.1zM26.2 351.6h1.1v1.8h-1.1zM40.8 351.6h1.1v1.8h-1.1zM257.2 351.6h1.1v1.8h-1.1zM70.4 354.6h1.1v1.8h-1.1zM26.2 357.6h1.1v1.8h-1.1zM6.4 360.6h1.1v1.8h-1.1zM257.2 360.6h1.1v1.8h-1.1zM40.8 363.6h1.1v1.8h-1.1zM125 363.6h1.1v1.8h-1.1zM157.6 363.6h1.1v1.8h-1.1zM229.6 363.6h1.1v1.8h-1.1zM257.2 363.6h1.1v1.8h-1.1zM70.4 366.5h1.1v1.8h-1.1zM85.4 366.5h1.1v1.8h-1.1zM108.4 369.5h1.1v1.8h-1.1zM277.2 369.5h1.1v1.8h-1.1zM290.4 369.5h1.1v1.8h-1.1zM26.2 372.5h1.1v1.8h-1.1zM40.8 372.5h1.1v1.8h-1.1zM108.4 375.5h1.1v1.8h-1.1zM229.6 375.5h1.1v1.8h-1.1zM26.2 378.5h1.1v1.8h-1.1zM6.4 384.4h1.1v1.8h-1.1zM114.4 384.4h1.1v1.8h-1.1zM300.6 384.4h1.1v1.8h-1.1zM40.8 387.4h1.1v1.8h-1.1zM114.4 390.4h1.1v1.8h-1.1zM257.2 390.4h1.1v1.8h-1.1zM70.4 396.3h1.1v1.8h-1.1zM40.8 405.3h1.1v1.8h-1.1zM70.4 405.3h1.1v1.8h-1.1zM147.6 405.3h1.1v1.8h-1.1zM300.6 405.3h1.1v1.8h-1.1zM85.4 408.3h1.1v1.8h-1.1zM15.4 411.2h1.1v1.8h-1.1zM184.4 411.2h1.1v1.8h-1.1zM40.8 414.2h1.1v1.8h-1.1zM70.4 414.2h1.1v1.8h-1.1zM6.4 417.2h1.1v1.8h-1.1zM34.4 417.2h1.1v1.8h-1.1zM40.8 417.2h1.1v1.8h-1.1zM157.6 417.2h1.1v1.8h-1.1zM171.6 417.2h1.1v1.8h-1.1zM114.4 420.2h1.1v1.8h-1.1zM229.6 420.2h1.1v1.8h-1.1zM249.6 420.2h1.1v1.8h-1.1zM70.4 423.2h1.1v1.8h-1.1zM85.4 423.2h1.1v1.8h-1.1zM114.4 426.1h1.1v1.8h-1.1zM40.8 429.1h1.1v1.8h-1.1zM70.4 429.1h1.1v1.8h-1.1zM70.4 432.1h1.1v1.8h-1.1zM85.4 432.1h1.1v1.8h-1.1zM26.2 435.1h1.1v1.8h-1.1zM147.6 438.1h1.1v1.8h-1.1zM26.2 441h1.1v1.8h-1.1zM157.6 441h1.1v1.8h-1.1zM15.4 444h1.1v1.8h-1.1zM108.4 444h1.1v1.8h-1.1zM157.6 444h1.1v1.8h-1.1zM171.6 444h1.1v1.8h-1.1zM300.6 444h1.1v1.8h-1.1zM70.4 447h1.1v1.8h-1.1zM229.6 450h1.1v1.8h-1.1zM26.2 453h1.1v1.8h-1.1zM125 453h1.1v1.8h-1.1zM40.8 455.9h1.1v1.8h-1.1zM70.4 458.9h1.1v1.8h-1.1zM96.4 458.9h1.1v1.8h-1.1zM229.6 458.9h1.1v1.8h-1.1zM40.8 461.9h1.1v1.8h-1.1zM70.4 467.9h1.1v1.8h-1.1zM125 467.9h1.1v1.8h-1.1zM26.2 470.8h1.1v1.8h-1.1zM34.4 470.8h1.1v1.8h-1.1zM125 470.8h1.1v1.8h-1.1zM249.6 470.8h1.1v1.8h-1.1zM85.4 473.8h1.1v1.8h-1.1zM147.6 473.8h1.1v1.8h-1.1zM229.6 473.8h1.1v1.8h-1.1zM108.4 476.8h1.1v1.8h-1.1zM229.6 476.8h1.1v1.8h-1.1zM171.6 479.8h1.1v1.8h-1.1zM257.2 479.8h1.1v1.8h-1.1zM26.2 482.8h1.1v1.8h-1.1zM147.6 482.8h1.1v1.8h-1.1zM300.6 488.7h1.1v1.8h-1.1zM125 491.7h1.1v1.8h-1.1zM171.6 491.7h1.1v1.8h-1.1zM147.6 494.7h1.1v1.8h-1.1zM26.2 503.6h1.1v1.8h-1.1zM70.4 503.6h1.1v1.8h-1.1zM171.6 503.6h1.1v1.8h-1.1zM257.2 503.6h1.1v1.8h-1.1zM249.6 506.6h1.1v1.8h-1.1zM277.2 506.6h1.1v1.8h-1.1zM15.4 509.6h1.1v1.8h-1.1zM40.8 509.6h1.1v1.8h-1.1zM70.4 509.6h1.1v1.8h-1.1zM125 509.6h1.1v1.8h-1.1zM70.4 515.5h1.1v1.8h-1.1zM171.6 518.5h1.1v1.8h-1.1zM26.2 527.5h1.1v1.8h-1.1zM40.8 527.5h1.1v1.8h-1.1zM229.6 527.5h1.1v1.8h-1.1zM70.4 530.4h1.1v1.8h-1.1zM125 530.4h1.1v1.8h-1.1zM70.4 533.4h1.1v1.8h-1.1zM70.4 536.4h1.1v1.8h-1.1zM114.4 536.4h1.1v1.8h-1.1zM125 536.4h1.1v1.8h-1.1zM249.6 536.4h1.1v1.8h-1.1zM6.4 539.4h1.1v1.8h-1.1zM26.2 539.4h1.1v1.8h-1.1zM34.4 539.4h1.1v1.8h-1.1zM70.4 539.4h1.1v1.8h-1.1zM34.4 542.4h1.1v1.8h-1.1zM40.8 542.4h1.1v1.8h-1.1zM277.2 545.3h1.1v1.8h-1.1zM6.4 548.3h1.1v1.8h-1.1zM40.8 548.3h1.1v1.8h-1.1zM157.6 548.3h1.1v1.8h-1.1zM214.4 548.3h1.1v1.8h-1.1zM229.6 548.3h1.1v1.8h-1.1zM125 551.3h1.1v1.8h-1.1zM184.4 551.3h1.1v1.8h-1.1zM290.4 551.3h1.1v1.8h-1.1zM70.4 554.3h1.1v1.8h-1.1zM171.6 554.3h1.1v1.8h-1.1zM70.4 557.3h1.1v1.8h-1.1zM214.4 557.3h1.1v1.8h-1.1zM147.6 560.2h1.1v1.8h-1.1zM114.4 563.2h1.1v1.8h-1.1zM40.8 566.2h1.1v1.8h-1.1zM40.8 569.2h1.1v1.8h-1.1zM6.4 572.2h1.1v1.8h-1.1zM277.2 581.1h1.1v1.8h-1.1zM70.4 584.1h1.1v1.8h-1.1zM15.4 587.1h1.1v1.8h-1.1zM6.4 590h1.1v1.8h-1.1zM108.4 590h1.1v1.8h-1.1zM257.2 590h1.1v1.8h-1.1zM34.4 593h1.1v1.8h-1.1zM184.4 593h1.1v1.8h-1.1zM300.6 593h1.1v1.8h-1.1zM171.6 596h1.1v1.8h-1.1zM125 599h1.1v1.8h-1.1zM147.6 599h1.1v1.8h-1.1zM70.4 602h1.1v1.8h-1.1zM171.6 602h1.1v1.8h-1.1zM277.2 602h1.1v1.8h-1.1zM34.4 604.9h1.1v1.8h-1.1zM125 604.9h1.1v1.8h-1.1zM157.6 604.9h1.1v1.8h-1.1zM40.8 610.9h1.1v1.8h-1.1zM249.6 610.9h1.1v1.8h-1.1zM70.4 613.9h1.1v1.8h-1.1zM6.4 616.9h1.1v1.8h-1.1zM26.2 616.9h1.1v1.8h-1.1zM40.8 616.9h1.1v1.8h-1.1zM26.2 619.8h1.1v1.8h-1.1zM277.2 619.8h1.1v1.8h-1.1zM108.4 622.8h1.1v1.8h-1.1zM125 622.8h1.1v1.8h-1.1zM229.6 622.8h1.1v1.8h-1.1zM92.8 14.9h2v1.6h-2zM100.3 7.3h4.3v1.6h-4.3zM104.6 7.3h1.4v1.6h-1.4zM98.9 10.2h2.7v1.6h-2.7zM86.9 14.9h1.6v1.6h-1.6zM86.9 17.9h1.3v1.6h-1.3zM88.2 17.9h0.3v1.6h-0.3zM147 0h1.5v1.6h-1.5zM148.5 0h2.7v1.6h-2.7zM147 3h1.2v1.6h-1.2zM150.4 8.9h2.5v1.6h-2.5zM152.6 11.9h0.4v1.6h-0.4zM147 14.9h2.2v1.6h-2.2zM156.3 3h1v1.6h-1zM154.2 6h1.4v1.6h-1.4zM153 11.9h1.1v1.6h-1.1zM158.3 11.9h1.7v1.6h-1.7zM131.1 29h2.7v1.6h-2.7zM147.9 29h2.1v1.6h-2.1zM123 32h2.2v1.6h-2.2zM127.7 32h1.5v1.6h-1.5zM129.2 32h2.1v1.6h-2.1zM125.1 35h1.9v1.6h-1.9zM132.3 35h2.4v1.6h-2.4zM132.9 37.9h1.3v1.6h-1.3zM225 1.5h3.5v1.6h-3.5zM228.5 1.5h3.2v1.6h-3.2zM225 7.5h3.6v1.6h-3.6zM231.2 7.5h0.8v1.6h-0.8zM225 10.4h2.4v1.6h-2.4zM225 13.4h3.7v1.6h-3.7zM231.5 16.4h0.5v1.6h-0.5zM248.7 4h1.7v1.6h-1.7zM247.9 7h1.8v1.6h-1.8zM252.6 9.9h1.7v1.6h-1.7zM253.8 12.9h0.5v1.6h-0.5zM246 21h2.7v1.6h-2.7zM248.7 21h2.4v1.6h-2.4zM251.6 24h2.3v1.6h-2.3zM253.9 24h0.4v1.6h-0.4zM246 27h2.1v1.6h-2.1zM252.8 29.9h1.5v1.6h-1.5zM246 35.9h2.7v1.6h-2.7zM251 35.9h2.5v1.6h-2.5zM253.5 35.9h0.8v1.6h-0.8zM254.3 12.9h2.7v1.6h-2.7zM257 12.9h2.2v1.6h-2.2zM254.3 15.9h2.9v1.6h-2.9zM259.2 15.9h2.2v1.6h-2.2zM271.7 27h2.3v1.6h-2.3zM275.3 27h1.7v1.6h-1.7zM275.8 29.9h1.2v1.6h-1.2zM19.8 54h2.8v1.5h-2.8zM16.9 57h2v1.5h-2zM10.2 59.9h4.1v1.5h-4.1zM23.1 59.9h1.9v1.5h-1.9zM14.3 65h2.1v1.5h-2.1zM20.2 65h2.2v1.5h-2.2zM6 71h4.4v1.5h-4.4zM15.7 71h2.1v1.5h-2.1zM6 82h5v1.3h-5zM11 82h4.3v1.3h-4.3zM14.7 85h2.2v1.3h-2.2zM24.3 90.9h0.7v1.3h-0.7zM24.2 111.8h0.8v1.3h-0.8zM19.2 120.7h2.1v1.3h-2.1zM24.3 120.7h0.7v1.3h-0.7zM14.3 126.7h4v1.3h-4zM22.9 129.7h2.1v1.3h-2.1zM19.4 132.6h3v1.3h-3zM22.4 132.6h2.6v1.3h-2.6zM14.4 135.6h4.4v1.3h-4.4zM18.8 135.6h3.1v1.3h-3.1zM13.2 141.6h3.3v1.3h-3.3zM227.7 130h1.8v1.6h-1.8zM232.6 130h1.4v1.6h-1.4zM227.4 133h1.4v1.6h-1.4zM233.9 136h0.1v1.6h-0.1zM226.4 138.9h1.1v1.6h-1.1zM227.1 141.9h2.3v1.6h-2.3zM231.2 141.9h1.9v1.6h-1.9zM232.8 147.9h1.2v1.6h-1.2zM226.3 156.8h1.2v1.6h-1.2zM248.7 99h1.7v1.6h-1.7zM250.9 110.9h0.1v1.6h-0.1zM248.4 125.8h2.3v1.6h-2.3zM246.8 137.7h2.3v1.6h-2.3zM245 140.7h2v1.6h-2zM245 146.7h1.1v1.6h-1.1zM248 146.7h2.4v1.6h-2.4zM246.8 152.6h2.7v1.6h-2.7zM249.1 158.6h1.5v1.6h-1.5zM249 167.5h2v1.6h-2zM246.6 176.5h1.4v1.6h-1.4zM249.6 179.5h1v1.6h-1zM250.6 179.5h0.4v1.6h-0.4zM245 182.4h1.9v1.6h-1.9zM248.8 182.4h2.2v1.6h-2.2zM246.9 197.3h1.2v1.6h-1.2zM248.2 197.3h2.8v1.6h-2.8zM250.9 197.3h0.1v1.6h-0.1zM245 200.3h2.4v1.6h-2.4zM249.4 200.3h1.5v1.6h-1.5zM246.5 177h2.1v1.6h-2.1zM245 182.9h1.4v1.6h-1.4zM250.1 182.9h0.9v1.6h-0.9zM245 185.9h2.2v1.6h-2.2zM250.6 185.9h0.4v1.6h-0.4zM250.2 191.9h0.8v1.6h-0.8zM245 194.8h1.1v1.6h-1.1zM246.5 197.8h1v1.6h-1zM247.6 197.8h1.5v1.6h-1.5zM249.1 197.8h1.9v1.6h-1.9zM302.1 128h1.6v1.6h-1.6zM304.5 131h0.5v1.6h-0.5zM304.2 139.9h0.8v1.6h-0.8zM298 142.9h1.7v1.6h-1.7zM299.7 142.9h2.3v1.6h-2.3zM298 145.9h2.4v1.6h-2.4zM300.4 145.9h2.4v1.6h-2.4zM304.5 148.8h0.5v1.6h-0.5zM298 228h2.5v1.6h-2.5zM298 239.9h1.6v1.6h-1.6zM301.2 239.9h1.4v1.6h-1.4zM301.9 242.9h1.1v1.6h-1.1zM300.7 251.8h1.1v1.6h-1.1zM300.1 254.8h2.3v1.6h-2.3zM299.8 263.7h1.5v1.6h-1.5zM298 272.7h1.8v1.6h-1.8zM299.8 272.7h2.1v1.6h-2.1zM82.5 250h2.1v1.6h-2.1zM82.9 264.9h2.1v1.6h-2.1zM81 273.8h2.3v1.6h-2.3zM83.5 276.8h1.5v1.6h-1.5zM83 282.7h2v1.6h-2zM84.4 285.7h0.6v1.6h-0.6zM189 281.9h2.1v1.6h-2.1zM113.5 295h1.8v1.6h-1.8zM107 298h2.2v1.6h-2.2zM113.3 298h1v1.6h-1zM117.6 306.9h0.4v1.6h-0.4zM109.6 312.9h2.7v1.6h-2.7zM116.8 312.9h1.2v1.6h-1.2zM111.6 318.8h2.2v1.6h-2.2zM117 324.8h1v1.6h-1zM107 327.8h2.4v1.6h-2.4zM111.3 330.8h2.2v1.6h-2.2zM115.2 330.8h1.7v1.6h-1.7zM116.9 330.8h1.1v1.6h-1.1zM115.3 333.7h2.7v1.6h-2.7zM245 295h2.7v1.6h-2.7zM245 312.9h1.7v1.6h-1.7zM246.7 312.9h2v1.6h-2zM252.3 312.9h1.7v1.6h-1.7zM247 321.8h2.8v1.6h-2.8zM245 327.8h2.7v1.6h-2.7zM250.8 333.7h1.5v1.6h-1.5zM246.8 339.7h2.7v1.6h-2.7zM289 297h2v1.6h-2zM293.6 300h1.4v1.6h-1.4zM294.2 305.9h0.8v1.6h-0.8zM289 311.9h2v1.6h-2zM294.7 314.9h0.3v1.6h-0.3zM291.3 317.9h1.8v1.6h-1.8zM293.1 317.9h1.2v1.6h-1.2zM289 323.8h2v1.6h-2zM290.5 335.7h1.4v1.6h-1.4zM292.6 338.7h1.9v1.6h-1.9zM293.5 341.7h1v1.6h-1zM292.2 350.6h1.9v1.6h-1.9zM290.7 359.6h1.3v1.6h-1.3zM291.3 365.5h1.8v1.6h-1.8zM293.1 365.5h1.3v1.6h-1.3zM302.8 355.9h0.2v1.6h-0.2zM30.2 437h2.1v1.6h-2.1zM32.3 437h1.7v1.6h-1.7zM34 437h1.3v1.6h-1.3zM35.3 437h0.2v1.6h-0.2zM26 440h1.7v1.6h-1.7zM34.6 440h0.9v1.6h-0.9zM34.5 445.9h1v1.6h-1zM30.7 455h0.3v1.6h-0.3zM26 463.9h1.4v1.6h-1.4zM30.2 463.9h0.8v1.6h-0.8zM29.2 469.9h1.2v1.6h-1.2zM28.4 478.8h2.4v1.6h-2.4zM258.5 379h1.6v1.6h-1.6zM260.2 379h0.8v1.6h-0.8zM255.4 382h1.4v1.6h-1.4zM255.2 385h1.6v1.6h-1.6zM258.4 387.9h1.8v1.6h-1.8zM254 390.9h1.5v1.6h-1.5zM258.7 399.9h1.5v1.6h-1.5zM257.7 402.8h2.4v1.6h-2.4zM255.5 412h2.8v1.6h-2.8zM254 423.9h2.1v1.6h-2.1zM256.1 423.9h2.1v1.6h-2.1zM258.3 423.9h2.6v1.6h-2.6zM260.4 426.9h0.6v1.6h-0.6zM256.6 435.8h1.4v1.6h-1.4zM255.1 444.8h2.8v1.6h-2.8zM258.2 450.7h2.5v1.6h-2.5zM257.4 465.6h2.2v1.6h-2.2zM117 499h2.7v1.6h-2.7zM113 505h2.2v1.6h-2.2zM116.5 505h1.6v1.6h-1.6zM119.8 505h1.5v1.6h-1.5zM121.3 505h1v1.6h-1zM115.5 513.9h1.8v1.6h-1.8zM121 513.9h1.3v1.6h-1.3zM114.9 519.9h1.7v1.6h-1.7zM118 519.9h2.4v1.6h-2.4zM119.6 522.8h1.6v1.6h-1.6zM121.2 522.8h1.1v1.6h-1.1zM113 525.8h1.4v1.6h-1.4zM114.4 525.8h1.9v1.6h-1.9zM118.6 525.8h1.1v1.6h-1.1zM121.1 525.8h1.1v1.6h-1.1zM117 528.8h1.8v1.6h-1.8zM118.5 531.8h2.3v1.6h-2.3zM114.3 534.8h1.2v1.6h-1.2zM103.5 503h2.6v1.6h-2.6zM108.1 503h1.4v1.6h-1.4zM103.4 506h1.3v1.6h-1.3zM112.2 506h0.8v1.6h-0.8zM107 509h1.7v1.6h-1.7zM110.7 509h2.2v1.6h-2.2zM106.8 514.9h2.8v1.6h-2.8zM110.3 517.9h1.2v1.6h-1.2zM107.6 520.9h2.4v1.6h-2.4zM101 523.9h1.9v1.6h-1.9zM103.9 526.8h1.4v1.6h-1.4zM106.7 526.8h2v1.6h-2zM106.5 529.8h2.2v1.6h-2.2zM105.3 535.8h1.9v1.6h-1.9zM107.2 535.8h2.7v1.6h-2.7zM147 506h2.6v1.6h-2.6zM149.6 509h1.2v1.6h-1.2zM150.8 509h0.2v1.6h-0.2zM147 514.9h1.6v1.6h-1.6zM148.9 523.9h2.1v1.6h-2.1zM157 511.9h1.1v1.6h-1.1zM158.1 511.9h1.3v1.6h-1.3zM157 514.9h1.6v1.6h-1.6zM158.6 514.9h1.7v1.6h-1.7zM160.2 514.9h0.8v1.6h-0.8zM157 523.9h2.2v1.6h-2.2zM262.8 505h1.8v1.6h-1.8zM259.6 508h1.5v1.6h-1.5zM266.4 519.9h0.6v1.6h-0.6zM6 580h6v1.7h-6zM18.5 580h2.2v1.7h-2.2zM20.7 580h2.3v1.7h-2.3zM6 586h3v1.7h-3zM8.4 591.9h6v1.7h-6zM14.3 591.9h2v1.7h-2zM11.7 594.9h2.8v1.7h-2.8zM14.6 594.9h2.3v1.7h-2.3zM16.9 594.9h3.6v1.7h-3.6zM11.1 597.9h2.9v1.7h-2.9zM6 606.8h5.7v1.7h-5.7zM20.8 606.8h2.2v1.7h-2.2zM6 609.8h6.6v1.7h-6.6zM13.5 612.8h2v1.7h-2zM16.8 615.8h5.6v1.7h-5.6zM245 622h18v2.2h-18zM277 622h17.5v2.2h-17.5z"/><path fill="#ffffff" d="M277.2 0h1.1v1.8h-1.1zM300.6 0h1.1v1.8h-1.1zM147.6 6h1.1v1.8h-1.1zM147.6 8.9h1.1v1.8h-1.1zM6.4 14.9h1.1v1.8h-1.1zM26.2 14.9h1.1v1.8h-1.1zM125 23.8h1.1v1.8h-1.1zM40.8 26.8h1.1v1.8h-1.1zM26.2 35.8h1.1v1.8h-1.1zM40.8 35.8h1.1v1.8h-1.1zM229.6 35.8h1.1v1.8h-1.1zM125 41.7h1.1v1.8h-1.1zM229.6 41.7h1.1v1.8h-1.1zM300.6 41.7h1.1v1.8h-1.1zM40.8 44.7h1.1v1.8h-1.1zM171.6 47.7h1.1v1.8h-1.1zM147.6 59.6h1.1v1.8h-1.1zM229.6 62.6h1.1v1.8h-1.1zM257.2 62.6h1.1v1.8h-1.1zM40.8 65.6h1.1v1.8h-1.1zM70.4 65.6h1.1v1.8h-1.1zM6.4 74.5h1.1v1.8h-1.1zM290.4 74.5h1.1v1.8h-1.1zM40.8 80.5h1.1v1.8h-1.1zM171.6 80.5h1.1v1.8h-1.1zM6.4 86.4h1.1v1.8h-1.1zM70.4 86.4h1.1v1.8h-1.1zM108.4 86.4h1.1v1.8h-1.1zM40.8 89.4h1.1v1.8h-1.1zM249.6 92.4h1.1v1.8h-1.1zM40.8 95.4h1.1v1.8h-1.1zM147.6 95.4h1.1v1.8h-1.1zM157.6 101.3h1.1v1.8h-1.1zM114.4 104.3h1.1v1.8h-1.1zM125 104.3h1.1v1.8h-1.1zM85.4 107.3h1.1v1.8h-1.1zM147.6 107.3h1.1v1.8h-1.1zM40.8 110.3h1.1v1.8h-1.1zM229.6 110.3h1.1v1.8h-1.1zM108.4 113.2h1.1v1.8h-1.1zM229.6 119.2h1.1v1.8h-1.1zM249.6 119.2h1.1v1.8h-1.1zM257.2 128.1h1.1v1.8h-1.1zM125 131.1h1.1v1.8h-1.1zM171.6 131.1h1.1v1.8h-1.1zM40.8 134.1h1.1v1.8h-1.1zM147.6 134.1h1.1v1.8h-1.1zM40.8 140.1h1.1v1.8h-1.1zM290.4 143h1.1v1.8h-1.1zM108.4 152h1.1v1.8h-1.1zM249.6 157.9h1.1v1.8h-1.1zM40.8 166.9h1.1v1.8h-1.1zM300.6 172.8h1.1v1.8h-1.1zM6.4 175.8h1.1v1.8h-1.1zM34.4 184.8h1.1v1.8h-1.1zM300.6 187.7h1.1v1.8h-1.1zM249.6 190.7h1.1v1.8h-1.1zM70.4 196.7h1.1v1.8h-1.1zM257.2 196.7h1.1v1.8h-1.1zM229.6 199.7h1.1v1.8h-1.1zM257.2 199.7h1.1v1.8h-1.1zM85.4 202.6h1.1v1.8h-1.1zM277.2 211.6h1.1v1.8h-1.1zM157.6 214.6h1.1v1.8h-1.1zM70.4 220.5h1.1v1.8h-1.1zM34.4 223.5h1.1v1.8h-1.1zM40.8 223.5h1.1v1.8h-1.1zM157.6 223.5h1.1v1.8h-1.1zM277.2 223.5h1.1v1.8h-1.1zM290.4 223.5h1.1v1.8h-1.1zM70.4 235.4h1.1v1.8h-1.1zM125 235.4h1.1v1.8h-1.1zM6.4 256.3h1.1v1.8h-1.1zM96.4 265.2h1.1v1.8h-1.1zM184.4 265.2h1.1v1.8h-1.1zM26.2 271.2h1.1v1.8h-1.1zM229.6 277.1h1.1v1.8h-1.1zM96.4 280.1h1.1v1.8h-1.1zM125 280.1h1.1v1.8h-1.1zM147.6 289.1h1.1v1.8h-1.1zM229.6 289.1h1.1v1.8h-1.1zM70.4 295h1.1v1.8h-1.1zM147.6 301h1.1v1.8h-1.1zM229.6 304h1.1v1.8h-1.1zM6.4 306.9h1.1v1.8h-1.1zM85.4 306.9h1.1v1.8h-1.1zM40.8 309.9h1.1v1.8h-1.1zM114.4 312.9h1.1v1.8h-1.1zM300.6 318.9h1.1v1.8h-1.1zM229.6 333.8h1.1v1.8h-1.1zM300.6 336.7h1.1v1.8h-1.1zM108.4 342.7h1.1v1.8h-1.1zM157.6 342.7h1.1v1.8h-1.1zM40.8 345.7h1.1v1.8h-1.1zM214.4 348.7h1.1v1.8h-1.1zM277.2 351.6h1.1v1.8h-1.1zM70.4 357.6h1.1v1.8h-1.1zM300.6 360.6h1.1v1.8h-1.1zM184.4 363.6h1.1v1.8h-1.1zM108.4 366.5h1.1v1.8h-1.1zM26.2 369.5h1.1v1.8h-1.1zM40.8 369.5h1.1v1.8h-1.1zM70.4 369.5h1.1v1.8h-1.1zM257.2 369.5h1.1v1.8h-1.1zM114.4 378.5h1.1v1.8h-1.1zM125 381.4h1.1v1.8h-1.1zM125 384.4h1.1v1.8h-1.1zM249.6 384.4h1.1v1.8h-1.1zM70.4 390.4h1.1v1.8h-1.1zM108.4 390.4h1.1v1.8h-1.1zM114.4 393.4h1.1v1.8h-1.1zM229.6 393.4h1.1v1.8h-1.1zM85.4 405.3h1.1v1.8h-1.1zM114.4 405.3h1.1v1.8h-1.1zM277.2 405.3h1.1v1.8h-1.1zM26.2 411.2h1.1v1.8h-1.1zM108.4 417.2h1.1v1.8h-1.1zM40.8 426.1h1.1v1.8h-1.1zM277.2 429.1h1.1v1.8h-1.1zM257.2 432.1h1.1v1.8h-1.1zM40.8 444h1.1v1.8h-1.1zM34.4 458.9h1.1v1.8h-1.1zM277.2 458.9h1.1v1.8h-1.1zM26.2 461.9h1.1v1.8h-1.1zM257.2 464.9h1.1v1.8h-1.1zM277.2 464.9h1.1v1.8h-1.1zM257.2 467.9h1.1v1.8h-1.1zM300.6 470.8h1.1v1.8h-1.1zM40.8 473.8h1.1v1.8h-1.1zM6.4 476.8h1.1v1.8h-1.1zM277.2 476.8h1.1v1.8h-1.1zM249.6 479.8h1.1v1.8h-1.1zM277.2 482.8h1.1v1.8h-1.1zM40.8 488.7h1.1v1.8h-1.1zM157.6 488.7h1.1v1.8h-1.1zM249.6 500.6h1.1v1.8h-1.1zM15.4 512.6h1.1v1.8h-1.1zM229.6 518.5h1.1v1.8h-1.1zM70.4 524.5h1.1v1.8h-1.1zM6.4 527.5h1.1v1.8h-1.1zM147.6 539.4h1.1v1.8h-1.1zM214.4 560.2h1.1v1.8h-1.1zM277.2 566.2h1.1v1.8h-1.1zM257.2 569.2h1.1v1.8h-1.1zM277.2 569.2h1.1v1.8h-1.1zM40.8 575.1h1.1v1.8h-1.1zM214.4 578.1h1.1v1.8h-1.1zM147.6 584.1h1.1v1.8h-1.1zM70.4 593h1.1v1.8h-1.1zM114.4 593h1.1v1.8h-1.1zM147.6 593h1.1v1.8h-1.1zM40.8 599h1.1v1.8h-1.1zM300.6 599h1.1v1.8h-1.1zM108.4 602h1.1v1.8h-1.1zM290.4 607.9h1.1v1.8h-1.1zM40.8 622.8h1.1v1.8h-1.1zM121.3 1.3h15.4v2.1h-15.4zM121.1 4.3h16v2.1h-16zM121 7.3h16.1v2.1h-16.1zM121.4 10.2h15.6v2.1h-15.6zM121.5 13.2h15.4v2.1h-15.4zM121.5 16.2h15.3v2.1h-15.3zM121.4 19.2h15.8v2.1h-15.8zM121.4 22.2h15.4v2.1h-15.4zM121.3 25.1h15.6v2.1h-15.6zM126.4 28.1h10.5v2.1h-10.5zM106.2 1.3h15.3v1.7h-15.3zM106.3 4.3h15.1v1.7h-15.1zM106.2 7.3h15.2v1.7h-15.2zM106.2 10.2h15.2v1.7h-15.2zM106 13.2h15.4v1.7h-15.4zM106 16.2h15.3v1.7h-15.3zM107.1 19.5h14.4v1.9h-14.4zM114 22.5h7.4v1.9h-7.4zM105.4 4.3h0.6v1.6h-0.6zM98.8 13.2h3.4v1.6h-3.4zM85.2 3h2.3v1.6h-2.3zM83 8.9h1.7v1.6h-1.7zM152.1 6h0.9v1.6h-0.9zM151.4 11.9h1.2v1.6h-1.2zM156.1 11.9h2.1v1.6h-2.1zM125.2 32h2.4v1.6h-2.4zM129.3 35h1.9v1.6h-1.9zM147.6 37.9h2.3v1.6h-2.3zM171.5 20h3v2.1h-3zM171 23h3.8v2.1h-3.8zM170.2 26h3.4v2.1h-3.4zM171 28.9h3.8v2.1h-3.8zM170.9 31.9h3.7v2.1h-3.7zM170.8 34.9h2.9v2.1h-2.9zM170.1 145h5.1v2.1h-5.1zM170.2 148h4.6v2.1h-4.6zM226.1 41h6v2.1h-6zM226.3 44h6.7v2.1h-6.7zM226.1 47h5.5v2.1h-5.5zM226 49.9h6.1v2.1h-6.1zM226.2 52.9h6.7v2.1h-6.7zM253.1 21h1.2v1.6h-1.2zM249.1 29.9h3.7v1.6h-3.7zM249.4 32.9h3.2v1.6h-3.2zM252.6 32.9h1.7v1.6h-1.7zM249.8 38.9h2.1v1.6h-2.1zM251.9 38.9h2.4v1.6h-2.4zM262.6 12.9h0.8v1.6h-0.8zM254.3 21h8.5v2.1h-8.5zM254.5 24h7.8v2.1h-7.8zM254.8 27h7.9v2.1h-7.9zM255.4 29.9h6.6v2.1h-6.6zM255 32.9h7.7v2.1h-7.7zM254.7 35.9h8.4v2.1h-8.4zM255.1 38.9h7.1v2.1h-7.1zM271.7 21h1.9v1.6h-1.9zM276.4 21h0.6v1.6h-0.6zM283.8 21h14.7v2.1h-14.7zM283.7 24h15.2v2.1h-15.2zM6.4 42.3h13.7v2.1h-13.7zM7.1 45.3h13.8v2.1h-13.8zM6.9 48.3h14.1v2.1h-14.1zM7.6 51.2h12.5v2.1h-12.5zM13.7 29.5h2.3v1.6h-2.3zM15.1 38.4h0.9v1.6h-0.9zM6 57h3.1v1.5h-3.1zM16.4 65h3.8v1.5h-3.8zM12.8 76.9h3.1v1.5h-3.1zM20 85h2.9v1.3h-2.9zM22.9 85h2.1v1.3h-2.1zM14.3 90.9h3.6v1.3h-3.6zM14.4 105.8h4.3v1.3h-4.3zM9.7 117.7h2v1.3h-2zM16.6 147.5h4v1.3h-4zM225.6 109h7.8v2.1h-7.8zM225.5 112h7.1v2.1h-7.1zM226.1 115h7v2.1h-7zM226.2 117.9h7.6v2.1h-7.6zM225.1 120.9h8.3v2.1h-8.3zM226.2 123.9h7.3v2.1h-7.3zM226.3 126.9h7v2.1h-7zM228.8 133h2.6v1.6h-2.6zM226.9 136h2v1.6h-2zM228.9 136h2.8v1.6h-2.8zM229.6 150.9h1.9v1.6h-1.9zM233 153.8h1v1.6h-1zM247.6 113.9h2.2v1.6h-2.2zM246.6 116.9h1.3v1.6h-1.3zM247 140.7h1.8v1.6h-1.8zM249.2 155.6h1.8v1.6h-1.8zM248.8 164.6h1v1.6h-1zM245 173.5h2.8v1.6h-2.8zM245 188.4h2.2v1.6h-2.2zM245 191.4h2v1.6h-2zM248.5 194.4h2.5v1.6h-2.5zM248.5 179.9h2.1v1.6h-2.1zM250.7 188.9h0.3v1.6h-0.3zM247.6 194.8h2.2v1.6h-2.2zM303.7 128h1.3v1.6h-1.3zM298 136.9h1.4v1.6h-1.4zM298 148.8h2.7v1.6h-2.7zM304.3 151.8h0.7v1.6h-0.7zM48.3 230.9h2.6v2.1h-2.6zM49.5 233.9h2.2v2.1h-2.2zM48.7 236.9h2.8v2.1h-2.8zM49.6 239.8h1.1v2.1h-1.1zM48.5 242.8h3.3v2.1h-3.3zM71 230.9h2v2.1h-2zM71 233.9h2v2.1h-2zM71 236.9h2v2.1h-2zM71 239.8h2v2.1h-2zM71 242.8h2v2.1h-2zM74.7 233.9h1.3v2.1h-1.3zM73.9 236.9h1.4v2.1h-1.4zM74.4 239.8h1.4v2.1h-1.4zM124.3 231h12.8v2.1h-12.8zM124.2 234h12v2.1h-12zM123.2 237h13.4v2.1h-13.4zM123.7 239.9h12.9v2.1h-12.9zM123.6 242.9h12.7v2.1h-12.7zM227.3 222h6.6v2.1h-6.6zM228 236.9h5.9v2.1h-5.9zM227.1 239.9h5.5v2.1h-5.5zM227.4 242.9h6.6v2.1h-6.6zM228.1 245h4.9v2.1h-4.9zM227.3 248h6v2.1h-6zM227.2 251h5.3v2.1h-5.3zM228.3 253.9h5.4v2.1h-5.4zM227.3 256.9h5.9v2.1h-5.9zM228.2 259.9h5.1v2.1h-5.1zM227.8 262.9h6v2.1h-6zM228.5 265.9h4v2.1h-4zM227.5 268.8h5.2v2.1h-5.2zM227 271.8h6.6v2.1h-6.6zM228.4 274.8h5.3v2.1h-5.3zM227.8 277.8h5.5v2.1h-5.5zM227.6 280.8h5.4v2.1h-5.4zM301.1 230.9h1.5v1.6h-1.5zM299 233.9h1v1.6h-1zM298 245.8h1.8v1.6h-1.8zM298 257.8h1.1v1.6h-1.1zM248.4 199h3.5v2.1h-3.5zM248.2 202h4.4v2.1h-4.4zM248.6 205h3v2.1h-3zM248.4 207.9h3.5v2.1h-3.5zM83.5 258.9h1.5v1.6h-1.5zM81 267.8h1v1.6h-1zM81 270.8h1.4v1.6h-1.4zM83.3 273.8h1.3v1.6h-1.3zM84.6 273.8h0.4v1.6h-0.4zM189 273h1.4v1.6h-1.4zM122.2 295h14.7v2.1h-14.7zM121.5 298h16.2v2.1h-16.2zM122.4 301h14.2v2.1h-14.2zM121.8 303.9h15.5v2.1h-15.5zM119.2 306.9h17.9v2.1h-17.9zM118.3 309.9h19v2.1h-19zM119.2 312.9h17.4v2.1h-17.4zM119.1 315.9h18.3v2.1h-18.3zM118.9 318.8h18.1v2.1h-18.1zM118 321.8h19.6v2.1h-19.6zM118.4 324.8h18.8v2.1h-18.8zM119 327.8h18.8v2.1h-18.8zM123.3 330.8h13.8v2.1h-13.8zM122.1 333.7h15.4v2.1h-15.4zM116.7 301h1.3v1.6h-1.3zM108.9 306.9h1.8v1.6h-1.8zM111.5 327.8h1.8v1.6h-1.8zM255.5 295.9h6.8v2.1h-6.8zM255.2 298.9h8v2.1h-8zM255.6 301.9h8.5v2.1h-8.5zM255.2 304.8h7.3v2.1h-7.3zM255 307.8h9.5v2.1h-9.5zM255.7 310.8h8.7v2.1h-8.7zM255.5 313.8h7.5v2.1h-7.5zM255.3 316.8h6.7v2.1h-6.7zM255.6 319.7h8.6v2.1h-8.6zM255.1 322.7h7.3v2.1h-7.3zM255.4 325.7h8v2.1h-8zM255.3 328.7h8.7v2.1h-8.7zM255.4 331.7h6v2.1h-6zM255.4 334.6h7v2.1h-7zM255.7 337.6h6.7v2.1h-6.7zM255.4 340.6h8v2.1h-8zM254.3 370h8.6v2.1h-8.6zM255.2 373h7.5v2.1h-7.5zM254.6 376h8.4v2.1h-8.4zM250.7 298h2.2v1.6h-2.2zM250.8 312.9h1.5v1.6h-1.5zM252 321.8h1.6v1.6h-1.6zM251.3 330.8h1v1.6h-1zM277.3 296.8h9.3v2.1h-9.3zM277.4 299.8h10v2.1h-10zM277.4 302.8h11.1v2.1h-11.1zM277.4 305.7h9.2v2.1h-9.2zM277.7 308.7h8.6v2.1h-8.6zM277.5 311.7h11.1v2.1h-11.1zM277.6 328.8h10.2v2.1h-10.2zM277.3 331.8h10.6v2.1h-10.6zM277.2 343.4h11.5v2.1h-11.5zM277.5 346.4h8.7v2.1h-8.7zM277.5 349.4h12v2.1h-12zM277.2 352.3h8.7v2.1h-8.7zM277.3 355.3h8.7v2.1h-8.7zM277.5 358.3h11.8v2.1h-11.8zM277.4 361.3h8.3v2.1h-8.3zM277.4 364.3h9.4v2.1h-9.4zM277.3 367.2h8.8v2.1h-8.8zM294.3 317.9h0.7v1.6h-0.7zM290.9 329.8h1.7v1.6h-1.7zM292.5 341.7h1v1.6h-1zM289 359.6h1.7v1.6h-1.7zM292 359.6h1.6v1.6h-1.6zM289 362.6h1v1.6h-1zM300.6 347h1.9v1.6h-1.9zM298 364.9h2.5v1.6h-2.5zM301.9 367.8h1.1v1.6h-1.1zM229.1 277h4.4v2.1h-4.4zM229.1 280h3.5v2.1h-3.5zM229.2 283h4.6v2.1h-4.6zM228.3 288.9h5.1v2.1h-5.1zM229.3 291.9h4.2v2.1h-4.2zM70.8 369h1.4v2.1h-1.4zM70.2 372h2.7v2.1h-2.7zM70.4 375h2.4v2.1h-2.4zM70.6 377.9h2.2v2.1h-2.2zM70.5 380.9h2.1v2.1h-2.1zM70 383.9h1.5v2.1h-1.5zM71 386.9h0.9v2.1h-0.9zM157.6 370h2.2v2.1h-2.2zM157.9 373h2.7v2.1h-2.7zM26.7 411h8.2v2.1h-8.2zM26.2 414h8v2.1h-8zM26.1 417h8.8v2.1h-8.8zM26.8 419.9h8v2.1h-8zM27.3 422.9h7.1v2.1h-7.1zM26.9 425.9h8.3v2.1h-8.3zM27.3 428.9h6.9v2.1h-6.9zM27.3 431.9h7.5v2.1h-7.5zM26.4 434.8h8.9v2.1h-8.9zM26 445.9h1.6v1.6h-1.6zM26 472.8h1.8v1.6h-1.8zM29.7 472.8h1.3v1.6h-1.3zM171 382h3.8v2.1h-3.8zM170.6 385h3.4v2.1h-3.4zM171.4 388h2.8v2.1h-2.8zM124.5 390h3v2.1h-3zM124 393h2.9v2.1h-2.9zM125.3 396h2.1v2.1h-2.1zM256.8 385h1.8v1.6h-1.8zM254 393.9h2.3v1.6h-2.3zM256.2 405.8h1.6v1.6h-1.6zM256.3 429.9h1.4v1.6h-1.4zM255.9 432.8h1.1v1.6h-1.1zM257.1 432.8h2.5v1.6h-2.5zM254 447.7h2.1v1.6h-2.1zM259.4 474.6h1.6v1.6h-1.6zM283 392h1.7v2.1h-1.7zM282.1 395h2.7v2.1h-2.7zM283.1 398h2.6v2.1h-2.6zM122.6 494h14.6v2.1h-14.6zM122.7 497h14.8v2.1h-14.8zM122.9 500h14.3v2.1h-14.3zM122.8 502.9h14.2v2.1h-14.2zM122.5 505.9h14.5v2.1h-14.5zM122.4 508.9h15v2.1h-15zM122.7 511.9h14.6v2.1h-14.6zM122.4 514.9h14.9v2.1h-14.9zM122.4 517.8h15.1v2.1h-15.1zM122.6 520.8h14.6v2.1h-14.6zM122.8 523.8h14.2v2.1h-14.2zM122.5 526.8h14.7v2.1h-14.7zM122.6 529.8h14.5v2.1h-14.5zM122.6 532.7h14.4v2.1h-14.4zM122.5 535.7h14.8v2.1h-14.8zM114.6 499h1.4v1.6h-1.4zM116.6 519.9h1.4v1.6h-1.4zM120.4 519.9h1.2v1.6h-1.2zM117.2 522.8h2.3v1.6h-2.3zM113 528.8h2.4v1.6h-2.4zM102 514.9h1.1v1.6h-1.1zM109.6 514.9h1.4v1.6h-1.4zM147 509h2.6v1.6h-2.6zM158.7 503h1.5v1.6h-1.5zM160.2 503h0.8v1.6h-0.8zM159.3 511.9h1.7v1.6h-1.7zM226.4 502h5.8v2.1h-5.8zM226.7 505h4.9v2.1h-4.9zM226.3 508h5.6v2.1h-5.6zM226.5 510.9h5.6v2.1h-5.6zM226.2 513.9h5.6v2.1h-5.6zM226.5 516.9h5.9v2.1h-5.9zM226.3 519.9h6.2v2.1h-6.2zM226.4 522.9h5.4v2.1h-5.4zM226.9 525.8h5.5v2.1h-5.5zM227.2 528.8h4.9v2.1h-4.9zM227 531.8h5.5v2.1h-5.5zM227.2 534.8h5.3v2.1h-5.3zM255.2 502h7.8v2.1h-7.8zM255.7 508h9.4v2.1h-9.4zM255.8 522.9h6.2v2.1h-6.2zM255.5 525.8h9.6v2.1h-9.6zM255 508h1.8v1.6h-1.8zM263.9 513.9h2v1.6h-2zM282.5 502h3.8v2.1h-3.8zM282.5 505h3.8v2.1h-3.8zM282.6 508h3.9v2.1h-3.9zM282.7 510.9h3.6v2.1h-3.6zM282.8 513.9h3.5v2.1h-3.5zM282.6 516.9h3.8v2.1h-3.8zM282.6 519.9h3.8v2.1h-3.8zM282.6 522.9h3.6v2.1h-3.6zM282.5 525.8h3.7v2.1h-3.7zM282.6 528.8h3.8v2.1h-3.8zM70.4 494h1.5v2.1h-1.5zM70.6 497h1.1v2.1h-1.1zM69.9 500h1.9v2.1h-1.9zM70.9 502.9h0.6v2.1h-0.6zM69.9 508.9h2.1v2.1h-2.1zM70.9 511.9h0.7v2.1h-0.7zM70.2 514.9h1.4v2.1h-1.4zM70 520.8h2.1v2.1h-2.1zM70.2 523.8h2.1v2.1h-2.1zM70.8 532.7h1.1v2.1h-1.1zM12 580h6.5v1.7h-6.5zM21.5 588.9h1.5v1.7h-1.5zM8.5 603.8h4.2v1.7h-4.2zM12.7 603.8h3.3v1.7h-3.3zM11.7 606.8h6.2v1.7h-6.2zM6 612.8h2.8v1.7h-2.8zM6 615.8h4.1v1.7h-4.1zM27.4 571h6.8v2.1h-6.8zM27.3 613h6.4v2.1h-6.4zM71.3 579h1.4v2.1h-1.4zM71 582h0.8v2.1h-0.8zM70.2 587.9h1.7v2.1h-1.7zM70.9 596.9h0.9v2.1h-0.9zM70.5 599.9h2.1v2.1h-2.1zM70.1 608.8h2.3v2.1h-2.3zM70.5 611.8h2v2.1h-2zM123.8 579h7v2.1h-7zM124 582h7.4v2.1h-7.4zM124.3 585h6.6v2.1h-6.6zM124.1 590.9h7v2.1h-7zM124.1 593.9h6.8v2.1h-6.8zM124.5 596.9h6.2v2.1h-6.2zM124.1 599.9h6.8v2.1h-6.8zM124.1 605.8h7.2v2.1h-7.2zM123.9 608.8h7.6v2.1h-7.6zM123.7 611.8h7.4v2.1h-7.4zM124.4 614.8h6.3v2.1h-6.3zM170.5 591.9h3.3v2.1h-3.3zM170.7 615h3.3v2.1h-3.3zM171.2 618h1.4v2.1h-1.4zM284.6 603.5h16.3v2.1h-16.3zM285.3 606.5h14v2.1h-14zM284.1 609.5h15.8v2.1h-15.8z"/><path fill="#ffffff" fill-opacity="0.5" d="M40.8 3h1.1v1.8h-1.1zM40.8 8.9h1.1v1.8h-1.1zM157.6 11.9h1.1v1.8h-1.1zM114.4 20.9h1.1v1.8h-1.1zM157.6 20.9h1.1v1.8h-1.1zM125 26.8h1.1v1.8h-1.1zM40.8 29.8h1.1v1.8h-1.1zM70.4 41.7h1.1v1.8h-1.1zM277.2 50.7h1.1v1.8h-1.1zM277.2 56.6h1.1v1.8h-1.1zM40.8 59.6h1.1v1.8h-1.1zM6.4 71.5h1.1v1.8h-1.1zM40.8 71.5h1.1v1.8h-1.1zM257.2 71.5h1.1v1.8h-1.1zM40.8 77.5h1.1v1.8h-1.1zM125 80.5h1.1v1.8h-1.1zM40.8 83.4h1.1v1.8h-1.1zM70.4 83.4h1.1v1.8h-1.1zM70.4 92.4h1.1v1.8h-1.1zM70.4 107.3h1.1v1.8h-1.1zM40.8 116.2h1.1v1.8h-1.1zM108.4 125.2h1.1v1.8h-1.1zM114.4 125.2h1.1v1.8h-1.1zM249.6 128.1h1.1v1.8h-1.1zM70.4 131.1h1.1v1.8h-1.1zM40.8 137.1h1.1v1.8h-1.1zM15.4 140.1h1.1v1.8h-1.1zM229.6 143h1.1v1.8h-1.1zM125 152h1.1v1.8h-1.1zM40.8 157.9h1.1v1.8h-1.1zM26.2 163.9h1.1v1.8h-1.1zM70.4 163.9h1.1v1.8h-1.1zM214.4 166.9h1.1v1.8h-1.1zM6.4 169.9h1.1v1.8h-1.1zM300.6 181.8h1.1v1.8h-1.1zM26.2 187.7h1.1v1.8h-1.1zM108.4 187.7h1.1v1.8h-1.1zM171.6 187.7h1.1v1.8h-1.1zM229.6 187.7h1.1v1.8h-1.1zM40.8 208.6h1.1v1.8h-1.1zM70.4 208.6h1.1v1.8h-1.1zM40.8 214.6h1.1v1.8h-1.1zM6.4 217.5h1.1v1.8h-1.1zM300.6 220.5h1.1v1.8h-1.1zM125 223.5h1.1v1.8h-1.1zM114.4 235.4h1.1v1.8h-1.1zM125 244.4h1.1v1.8h-1.1zM277.2 262.2h1.1v1.8h-1.1zM125 265.2h1.1v1.8h-1.1zM70.4 268.2h1.1v1.8h-1.1zM171.6 271.2h1.1v1.8h-1.1zM40.8 277.1h1.1v1.8h-1.1zM114.4 283.1h1.1v1.8h-1.1zM85.4 289.1h1.1v1.8h-1.1zM108.4 292h1.1v1.8h-1.1zM15.4 298h1.1v1.8h-1.1zM277.2 298h1.1v1.8h-1.1zM6.4 301h1.1v1.8h-1.1zM40.8 301h1.1v1.8h-1.1zM70.4 301h1.1v1.8h-1.1zM171.6 309.9h1.1v1.8h-1.1zM157.6 312.9h1.1v1.8h-1.1zM26.2 321.8h1.1v1.8h-1.1zM70.4 333.8h1.1v1.8h-1.1zM70.4 336.7h1.1v1.8h-1.1zM40.8 342.7h1.1v1.8h-1.1zM290.4 342.7h1.1v1.8h-1.1zM40.8 348.7h1.1v1.8h-1.1zM290.4 348.7h1.1v1.8h-1.1zM290.4 354.6h1.1v1.8h-1.1zM15.4 360.6h1.1v1.8h-1.1zM70.4 360.6h1.1v1.8h-1.1zM157.6 360.6h1.1v1.8h-1.1zM277.2 360.6h1.1v1.8h-1.1zM85.4 363.6h1.1v1.8h-1.1zM214.4 366.5h1.1v1.8h-1.1zM125 369.5h1.1v1.8h-1.1zM257.2 372.5h1.1v1.8h-1.1zM70.4 384.4h1.1v1.8h-1.1zM70.4 387.4h1.1v1.8h-1.1zM229.6 396.3h1.1v1.8h-1.1zM6.4 399.3h1.1v1.8h-1.1zM15.4 405.3h1.1v1.8h-1.1zM40.8 408.3h1.1v1.8h-1.1zM108.4 414.2h1.1v1.8h-1.1zM229.6 414.2h1.1v1.8h-1.1zM125 417.2h1.1v1.8h-1.1zM108.4 420.2h1.1v1.8h-1.1zM40.8 423.2h1.1v1.8h-1.1zM15.4 426.1h1.1v1.8h-1.1zM34.4 426.1h1.1v1.8h-1.1zM70.4 426.1h1.1v1.8h-1.1zM300.6 435.1h1.1v1.8h-1.1zM108.4 438.1h1.1v1.8h-1.1zM40.8 450h1.1v1.8h-1.1zM171.6 450h1.1v1.8h-1.1zM277.2 450h1.1v1.8h-1.1zM26.2 458.9h1.1v1.8h-1.1zM40.8 464.9h1.1v1.8h-1.1zM249.6 467.9h1.1v1.8h-1.1zM257.2 470.8h1.1v1.8h-1.1zM70.4 482.8h1.1v1.8h-1.1zM249.6 482.8h1.1v1.8h-1.1zM15.4 485.7h1.1v1.8h-1.1zM290.4 485.7h1.1v1.8h-1.1zM40.8 491.7h1.1v1.8h-1.1zM70.4 491.7h1.1v1.8h-1.1zM96.4 491.7h1.1v1.8h-1.1zM171.6 494.7h1.1v1.8h-1.1zM40.8 497.7h1.1v1.8h-1.1zM70.4 500.6h1.1v1.8h-1.1zM108.4 500.6h1.1v1.8h-1.1zM257.2 500.6h1.1v1.8h-1.1zM277.2 500.6h1.1v1.8h-1.1zM125 503.6h1.1v1.8h-1.1zM147.6 503.6h1.1v1.8h-1.1zM277.2 503.6h1.1v1.8h-1.1zM40.8 512.6h1.1v1.8h-1.1zM114.4 515.5h1.1v1.8h-1.1zM40.8 518.5h1.1v1.8h-1.1zM125 524.5h1.1v1.8h-1.1zM277.2 536.4h1.1v1.8h-1.1zM125 548.3h1.1v1.8h-1.1zM108.4 560.2h1.1v1.8h-1.1zM108.4 566.2h1.1v1.8h-1.1zM214.4 569.2h1.1v1.8h-1.1zM26.2 581.1h1.1v1.8h-1.1zM249.6 584.1h1.1v1.8h-1.1zM6.4 596h1.1v1.8h-1.1zM34.4 596h1.1v1.8h-1.1zM70.4 596h1.1v1.8h-1.1zM300.6 596h1.1v1.8h-1.1zM26.2 599h1.1v1.8h-1.1zM147.6 604.9h1.1v1.8h-1.1zM171.6 604.9h1.1v1.8h-1.1zM277.2 604.9h1.1v1.8h-1.1zM125 607.9h1.1v1.8h-1.1zM125 613.9h1.1v1.8h-1.1zM249.6 619.8h1.1v1.8h-1.1zM300.6 619.8h1.1v1.8h-1.1zM258 405.3h2.5v1.8h-2.5zM258 408.3h2.5v1.8h-2.5zM258 450h2.5v1.8h-2.5zM258 604.9h2.5v1.8h-2.5zM258 622.8h2.5v1.8h-2.5zM174.9 53.6h1.3v1.6h-1.3zM173.5 53.6h3.1v1.6h-3.1zM229.1 53.6h2.7v1.6h-2.7zM175.8 56.6h3.7v1.6h-3.7zM157.9 56.6h2.4v1.6h-2.4zM204.8 59.6h2.6v1.6h-2.6zM162.4 59.6h3.9v1.6h-3.9zM149.7 59.6h3.1v1.6h-3.1zM267.7 59.6h1.3v1.6h-1.3zM165.9 59.6h2v1.6h-2zM270.7 59.6h3.3v1.6h-3.3zM194 59.6h1.3v1.6h-1.3zM197.4 65.6h1.5v1.6h-1.5zM274.6 65.6h3.8v1.6h-3.8zM258.3 65.6h3.3v1.6h-3.3zM199.5 65.6h3.3v1.6h-3.3zM189.8 65.6h1.1v1.6h-1.1zM278.8 68.5h1.8v1.6h-1.8zM178.4 68.5h1.3v1.6h-1.3zM301.7 68.5h3.5v1.6h-3.5zM173.1 68.5h1.6v1.6h-1.6zM283.8 68.5h2.6v1.6h-2.6zM209.8 71.5h3.7v1.6h-3.7zM173.8 71.5h3.1v1.6h-3.1zM172.5 71.5h2.9v1.6h-2.9zM209.9 71.5h1.4v1.6h-1.4zM188.5 74.5h3.3v1.6h-3.3zM177 74.5h3.4v1.6h-3.4zM302.9 74.5h1.4v1.6h-1.4zM209.7 74.5h1.4v1.6h-1.4zM255.5 77.5h3.4v1.6h-3.4zM163.7 77.5h3.3v1.6h-3.3zM263.8 77.5h2.2v1.6h-2.2zM240.1 80.5h3.5v1.6h-3.5zM233.9 80.5h1.9v1.6h-1.9zM259.7 80.5h1.7v1.6h-1.7zM215.9 80.5h3.3v1.6h-3.3zM259.7 83.4h4v1.6h-4zM281.9 83.4h3v1.6h-3zM217 86.4h1.6v1.6h-1.6zM265.5 86.4h2.7v1.6h-2.7zM215 86.4h2.2v1.6h-2.2zM282 89.4h2.8v1.6h-2.8zM274.4 89.4h2v1.6h-2zM267.1 53.6h2.8v1.6h-2.8zM264.8 62.6h3v1.6h-3zM267.8 71.5h2.1v1.6h-2.1zM266.5 77.5h2v1.6h-2zM268.2 83.4h2.1v1.6h-2.1zM55 298h2.2v1.6h-2.2zM33.6 298h2.8v1.6h-2.8zM78 301h3.9v1.6h-3.9zM15.9 304h4v1.6h-4zM43.7 306.9h1.4v1.6h-1.4zM80.3 306.9h1.4v1.6h-1.4zM54 312.9h1.7v1.6h-1.7zM33.9 318.9h1.1v1.6h-1.1zM1.4 336.7h3.8v1.6h-3.8zM10.3 336.7h2.9v1.6h-2.9zM80.9 339.7h3.6v1.6h-3.6zM76.7 339.7h2.7v1.6h-2.7zM67.7 339.7h2.3v1.6h-2.3zM2.3 342.7h1.1v1.6h-1.1zM70.9 342.7h3.1v1.6h-3.1zM40.1 348.7h1.9v1.6h-1.9zM59.4 369.5h2.3v1.6h-2.3zM54 375.5h1.8v1.6h-1.8zM16.7 378.5h2v1.6h-2zM40.4 378.5h1.9v1.6h-1.9zM57.7 384.4h2.6v1.6h-2.6zM43.5 387.4h2.1v1.6h-2.1zM67.1 390.4h2.3v1.6h-2.3zM64.7 393.4h2.9v1.6h-2.9zM62.2 396.3h1.1v1.6h-1.1zM28.5 396.3h2.5v1.6h-2.5zM9.3 402.3h2.3v1.6h-2.3zM12.3 402.3h1.7v1.6h-1.7zM13.1 405.3h3.7v1.6h-3.7zM82.7 414.2h1.5v1.6h-1.5zM0.7 485.7h3.8v1.6h-3.8zM32.2 485.7h2.8v1.6h-2.8zM5.4 488.7h3.4v1.6h-3.4zM4.8 497.7h2.7v1.6h-2.7zM12.8 500.6h1.5v1.6h-1.5zM32.9 509.6h1.1v1.6h-1.1zM37.8 509.6h2.4v1.6h-2.4zM0.8 512.6h1.7v1.6h-1.7zM32.6 521.5h2.5v1.6h-2.5zM1 521.5h2.1v1.6h-2.1zM19.5 527.5h2v1.6h-2zM23.3 527.5h4v1.6h-4zM35.6 533.4h2v1.6h-2zM47.3 533.4h1.9v1.6h-1.9zM18.5 533.4h1.8v1.6h-1.8zM32.1 536.4h1.9v1.6h-1.9zM30.4 539.4h2v1.6h-2zM1.2 542.4h3.3v1.6h-3.3zM31.6 551.3h1.3v1.6h-1.3zM8.7 554.3h1.3v1.6h-1.3z"/><path fill="#d0e8ff" fill-opacity="0.8" d="M60.6 3h1.1v1.8h-1.1zM52.4 6h1.1v1.8h-1.1zM60.6 11.9h1.1v1.8h-1.1zM52.4 17.9h1.1v1.8h-1.1zM60.6 23.8h1.1v1.8h-1.1zM52.4 35.8h1.1v1.8h-1.1zM52.4 56.6h1.1v1.8h-1.1zM60.6 59.6h1.1v1.8h-1.1zM60.6 74.5h1.1v1.8h-1.1zM60.6 92.4h1.1v1.8h-1.1zM52.4 101.3h1.1v1.8h-1.1zM52.4 104.3h1.1v1.8h-1.1zM60.6 110.3h1.1v1.8h-1.1zM52.4 113.2h1.1v1.8h-1.1zM60.6 137.1h1.1v1.8h-1.1zM60.6 152h1.1v1.8h-1.1zM60.6 175.8h1.1v1.8h-1.1zM60.6 184.8h1.1v1.8h-1.1zM52.4 187.7h1.1v1.8h-1.1zM60.6 202.6h1.1v1.8h-1.1zM52.4 217.5h1.1v1.8h-1.1zM60.6 220.5h1.1v1.8h-1.1zM60.6 268.2h1.1v1.8h-1.1zM52.4 309.9h1.1v1.8h-1.1zM60.6 321.8h1.1v1.8h-1.1zM52.4 330.8h1.1v1.8h-1.1zM52.4 351.6h1.1v1.8h-1.1zM60.6 357.6h1.1v1.8h-1.1zM52.4 375.5h1.1v1.8h-1.1zM52.4 384.4h1.1v1.8h-1.1zM52.4 387.4h1.1v1.8h-1.1zM52.4 393.4h1.1v1.8h-1.1zM60.6 393.4h1.1v1.8h-1.1zM52.4 402.3h1.1v1.8h-1.1zM60.6 402.3h1.1v1.8h-1.1zM52.4 417.2h1.1v1.8h-1.1zM60.6 432.1h1.1v1.8h-1.1zM52.4 441h1.1v1.8h-1.1zM60.6 450h1.1v1.8h-1.1zM52.4 455.9h1.1v1.8h-1.1zM60.6 482.8h1.1v1.8h-1.1zM60.6 491.7h1.1v1.8h-1.1zM52.4 503.6h1.1v1.8h-1.1zM52.4 506.6h1.1v1.8h-1.1zM52.4 521.5h1.1v1.8h-1.1zM52.4 524.5h1.1v1.8h-1.1zM60.6 524.5h1.1v1.8h-1.1zM60.6 530.4h1.1v1.8h-1.1zM60.6 536.4h1.1v1.8h-1.1zM60.6 539.4h1.1v1.8h-1.1zM60.6 542.4h1.1v1.8h-1.1zM60.6 572.2h1.1v1.8h-1.1zM60.6 575.1h1.1v1.8h-1.1zM60.6 604.9h1.1v1.8h-1.1zM60.6 622.8h1.1v1.8h-1.1z"/><path fill="#d0e8ff" fill-opacity="0.6" d="M52.4 8.9h1.1v1.8h-1.1zM60.6 29.8h1.1v1.8h-1.1zM60.6 50.7h1.1v1.8h-1.1zM52.4 68.5h1.1v1.8h-1.1zM60.6 77.5h1.1v1.8h-1.1zM52.4 89.4h1.1v1.8h-1.1zM60.6 131.1h1.1v1.8h-1.1zM52.4 140.1h1.1v1.8h-1.1zM52.4 149h1.1v1.8h-1.1zM60.6 163.9h1.1v1.8h-1.1zM60.6 178.8h1.1v1.8h-1.1zM52.4 181.8h1.1v1.8h-1.1zM60.6 196.7h1.1v1.8h-1.1zM52.4 208.6h1.1v1.8h-1.1zM60.6 214.6h1.1v1.8h-1.1zM52.4 223.5h1.1v1.8h-1.1zM52.4 253.3h1.1v1.8h-1.1zM60.6 262.2h1.1v1.8h-1.1zM60.6 277.1h1.1v1.8h-1.1zM52.4 283.1h1.1v1.8h-1.1zM52.4 295h1.1v1.8h-1.1zM60.6 315.9h1.1v1.8h-1.1zM52.4 348.7h1.1v1.8h-1.1zM60.6 375.5h1.1v1.8h-1.1zM52.4 396.3h1.1v1.8h-1.1zM60.6 396.3h1.1v1.8h-1.1zM60.6 405.3h1.1v1.8h-1.1zM60.6 411.2h1.1v1.8h-1.1zM60.6 414.2h1.1v1.8h-1.1zM60.6 420.2h1.1v1.8h-1.1zM60.6 426.1h1.1v1.8h-1.1zM52.4 432.1h1.1v1.8h-1.1zM60.6 444h1.1v1.8h-1.1zM60.6 464.9h1.1v1.8h-1.1zM52.4 467.9h1.1v1.8h-1.1zM60.6 467.9h1.1v1.8h-1.1zM52.4 476.8h1.1v1.8h-1.1zM60.6 479.8h1.1v1.8h-1.1zM60.6 497.7h1.1v1.8h-1.1zM52.4 500.6h1.1v1.8h-1.1zM60.6 512.6h1.1v1.8h-1.1zM60.6 515.5h1.1v1.8h-1.1zM52.4 536.4h1.1v1.8h-1.1zM60.6 560.2h1.1v1.8h-1.1zM60.6 593h1.1v1.8h-1.1zM60.6 599h1.1v1.8h-1.1zM52.4 604.9h1.1v1.8h-1.1zM60.6 619.8h1.1v1.8h-1.1z"/><path fill="#d0e8ff" d="M60.6 8.9h1.1v1.8h-1.1zM60.6 17.9h1.1v1.8h-1.1zM52.4 98.3h1.1v1.8h-1.1zM52.4 110.3h1.1v1.8h-1.1zM60.6 122.2h1.1v1.8h-1.1zM52.4 143h1.1v1.8h-1.1zM60.6 149h1.1v1.8h-1.1zM52.4 152h1.1v1.8h-1.1zM52.4 155h1.1v1.8h-1.1zM52.4 193.7h1.1v1.8h-1.1zM52.4 226.5h1.1v1.8h-1.1zM52.4 235.4h1.1v1.8h-1.1zM60.6 235.4h1.1v1.8h-1.1zM52.4 241.4h1.1v1.8h-1.1zM60.6 256.3h1.1v1.8h-1.1zM60.6 265.2h1.1v1.8h-1.1zM60.6 292h1.1v1.8h-1.1zM52.4 315.9h1.1v1.8h-1.1zM60.6 342.7h1.1v1.8h-1.1zM60.6 354.6h1.1v1.8h-1.1zM52.4 363.6h1.1v1.8h-1.1zM60.6 366.5h1.1v1.8h-1.1zM60.6 378.5h1.1v1.8h-1.1zM52.4 390.4h1.1v1.8h-1.1zM52.4 405.3h1.1v1.8h-1.1zM60.6 473.8h1.1v1.8h-1.1zM60.6 488.7h1.1v1.8h-1.1zM60.6 509.6h1.1v1.8h-1.1zM52.4 548.3h1.1v1.8h-1.1zM52.4 563.2h1.1v1.8h-1.1zM60.6 587.1h1.1v1.8h-1.1zM52.4 599h1.1v1.8h-1.1zM52.4 619.8h1.1v1.8h-1.1z"/><path fill="#d0e8ff" fill-opacity="0.5" d="M52.4 14.9h1.1v1.8h-1.1zM60.6 26.8h1.1v1.8h-1.1zM52.4 29.8h1.1v1.8h-1.1zM60.6 32.8h1.1v1.8h-1.1zM60.6 35.8h1.1v1.8h-1.1zM52.4 83.4h1.1v1.8h-1.1zM60.6 104.3h1.1v1.8h-1.1zM60.6 125.2h1.1v1.8h-1.1zM52.4 128.1h1.1v1.8h-1.1zM60.6 134.1h1.1v1.8h-1.1zM52.4 160.9h1.1v1.8h-1.1zM52.4 178.8h1.1v1.8h-1.1zM60.6 181.8h1.1v1.8h-1.1zM60.6 250.3h1.1v1.8h-1.1zM60.6 253.3h1.1v1.8h-1.1zM60.6 286.1h1.1v1.8h-1.1zM52.4 292h1.1v1.8h-1.1zM52.4 298h1.1v1.8h-1.1zM60.6 301h1.1v1.8h-1.1zM60.6 306.9h1.1v1.8h-1.1zM60.6 372.5h1.1v1.8h-1.1zM52.4 444h1.1v1.8h-1.1zM52.4 453h1.1v1.8h-1.1zM60.6 455.9h1.1v1.8h-1.1zM60.6 518.5h1.1v1.8h-1.1zM60.6 521.5h1.1v1.8h-1.1zM52.4 542.4h1.1v1.8h-1.1zM60.6 557.3h1.1v1.8h-1.1zM60.6 590h1.1v1.8h-1.1zM52.4 593h1.1v1.8h-1.1zM60.6 602h1.1v1.8h-1.1zM52.4 607.9h1.1v1.8h-1.1z"/><path fill="#d0e8ff" fill-opacity="0.7" d="M60.6 14.9h1.1v1.8h-1.1zM52.4 20.9h1.1v1.8h-1.1zM60.6 20.9h1.1v1.8h-1.1zM52.4 38.7h1.1v1.8h-1.1zM52.4 44.7h1.1v1.8h-1.1zM52.4 47.7h1.1v1.8h-1.1zM52.4 50.7h1.1v1.8h-1.1zM52.4 53.6h1.1v1.8h-1.1zM52.4 62.6h1.1v1.8h-1.1zM52.4 65.6h1.1v1.8h-1.1zM52.4 80.5h1.1v1.8h-1.1zM60.6 89.4h1.1v1.8h-1.1zM52.4 134.1h1.1v1.8h-1.1zM52.4 137.1h1.1v1.8h-1.1zM60.6 157.9h1.1v1.8h-1.1zM52.4 166.9h1.1v1.8h-1.1zM60.6 172.8h1.1v1.8h-1.1zM60.6 187.7h1.1v1.8h-1.1zM60.6 193.7h1.1v1.8h-1.1zM52.4 199.7h1.1v1.8h-1.1zM52.4 205.6h1.1v1.8h-1.1zM52.4 229.5h1.1v1.8h-1.1zM52.4 238.4h1.1v1.8h-1.1zM60.6 238.4h1.1v1.8h-1.1zM52.4 259.3h1.1v1.8h-1.1zM52.4 274.2h1.1v1.8h-1.1zM60.6 274.2h1.1v1.8h-1.1zM60.6 283.1h1.1v1.8h-1.1zM60.6 298h1.1v1.8h-1.1zM60.6 318.9h1.1v1.8h-1.1zM52.4 333.8h1.1v1.8h-1.1zM52.4 336.7h1.1v1.8h-1.1zM52.4 339.7h1.1v1.8h-1.1zM60.6 339.7h1.1v1.8h-1.1zM52.4 360.6h1.1v1.8h-1.1zM60.6 363.6h1.1v1.8h-1.1zM52.4 366.5h1.1v1.8h-1.1zM52.4 378.5h1.1v1.8h-1.1zM52.4 399.3h1.1v1.8h-1.1zM60.6 399.3h1.1v1.8h-1.1zM60.6 435.1h1.1v1.8h-1.1zM60.6 447h1.1v1.8h-1.1zM52.4 450h1.1v1.8h-1.1zM60.6 458.9h1.1v1.8h-1.1zM52.4 491.7h1.1v1.8h-1.1zM52.4 494.7h1.1v1.8h-1.1zM60.6 494.7h1.1v1.8h-1.1zM52.4 515.5h1.1v1.8h-1.1zM60.6 527.5h1.1v1.8h-1.1zM52.4 530.4h1.1v1.8h-1.1zM60.6 554.3h1.1v1.8h-1.1zM60.6 563.2h1.1v1.8h-1.1zM52.4 581.1h1.1v1.8h-1.1zM60.6 581.1h1.1v1.8h-1.1zM60.6 584.1h1.1v1.8h-1.1zM52.4 596h1.1v1.8h-1.1zM60.6 613.9h1.1v1.8h-1.1zM52.4 616.9h1.1v1.8h-1.1z"/><path fill="#b0ec7c" d="M137.2 0h9.8v29h-9.8z"/><path fill="#6040e0" fill-opacity="0.5" d="M139.3 1h1.2v0.9h-1.2zM145.6 1h1.4v0.9h-1.4zM141.6 4h2.7v0.9h-2.7zM144.3 4h2.4v0.9h-2.4zM138.5 7h2.4v0.9h-2.4zM137.2 9.9h1.5v0.9h-1.5zM138.7 9.9h1.7v0.9h-1.7zM140.4 9.9h2.3v0.9h-2.3zM142.6 9.9h2.7v0.9h-2.7zM143.7 12.9h1.4v0.9h-1.4zM137.2 15.9h1.1v0.9h-1.1zM139.4 15.9h2.1v0.9h-2.1zM143.2 15.9h1.3v0.9h-1.3zM145.6 15.9h1.4v0.9h-1.4zM139 18.9h2.4v0.9h-2.4zM141.4 18.9h2.7v0.9h-2.7zM144.1 18.9h2.3v0.9h-2.3zM144.6 21.9h1.4v0.9h-1.4zM137.2 24.8h2.8v0.9h-2.8zM143.9 27.8h1v0.9h-1zM145 27.8h1.8v0.9h-1.8z"/><path fill="#6040e0" fill-opacity="0.6" d="M140.5 1h1.2v0.9h-1.2zM146.7 4h0.3v0.9h-0.3zM137.2 7h1.3v0.9h-1.3zM143.2 7h1.3v0.9h-1.3zM137.2 12.9h1.9v0.9h-1.9zM142.6 12.9h1.1v0.9h-1.1zM144.5 15.9h1.2v0.9h-1.2zM139.9 21.9h1v0.9h-1zM143.3 21.9h1.2v0.9h-1.2zM145.9 21.9h1.1v0.9h-1.1zM140 24.8h1.6v0.9h-1.6zM139 27.8h2.4v0.9h-2.4z"/><path fill="#6040e0" fill-opacity="0.4" d="M143.1 1h2.5v0.9h-2.5zM144.5 7h2.5v0.9h-2.5zM139.1 12.9h2.4v0.9h-2.4zM141.5 12.9h1.2v0.9h-1.2zM141.3 27.8h1.3v0.9h-1.3z"/><path fill="#a6e86a" fill-opacity="0.5" d="M137.8 31h8.7v2.1h-8.7zM137.7 37h8v2.1h-8z"/><path fill="#a8f070" fill-opacity="0.5" d="M140.9 52.9h2.7v1.6h-2.7zM146 55.9h1v1.6h-1zM143.6 61.9h2.3v1.6h-2.3zM141.3 73.8h2v1.6h-2zM144.6 79.7h1.1v1.6h-1.1zM142.9 85.7h1.9v1.6h-1.9zM140.4 94.6h1.8v1.6h-1.8zM146.4 97.6h0.6v1.6h-0.6zM139.8 106.6h2.4v1.6h-2.4zM145.6 106.6h1.4v1.6h-1.4zM139 109.5h1.4v1.6h-1.4zM142.2 118.5h2.5v1.6h-2.5zM141 127.4h1.4v1.6h-1.4zM141.6 142.3h1.9v1.6h-1.9zM139.6 148.3h1.8v1.6h-1.8zM141.3 148.3h1.5v1.6h-1.5zM145.5 154.2h1.4v1.6h-1.4zM141 157.2h2.5v1.6h-2.5zM137.5 160.2h1.5v1.6h-1.5zM138.9 184h2.8v1.6h-2.8zM142.7 184h1v1.6h-1zM146.9 190h0.1v1.6h-0.1zM143.9 193h2.6v1.6h-2.6zM145 207.9h1v1.6h-1zM146 207.9h1v1.6h-1zM145.3 210.9h1.7v1.6h-1.7zM142.1 213.8h2.5v1.6h-2.5zM140.3 216.8h1.9v1.6h-1.9zM144.2 216.8h2.6v1.6h-2.6zM137.5 225.8h2.5v1.6h-2.5zM145.5 231.7h1.5v1.6h-1.5zM137.5 234.7h2v1.6h-2zM137.5 237.7h1.7v1.6h-1.7zM137.5 243.6h1.6v1.6h-1.6zM145.1 246.6h1.9v1.6h-1.9zM145.1 258.5h1.8v1.6h-1.8zM142 261.5h1.4v1.6h-1.4zM139.9 270.5h2.6v1.6h-2.6zM141.8 276.4h1.8v1.6h-1.8zM141.8 285.4h1.1v1.6h-1.1z"/><path fill="#a8f070" fill-opacity="0.4" d="M139.6 64.8h1.2v1.6h-1.2zM143.5 115.5h2.4v1.6h-2.4zM146.8 139.3h0.2v1.6h-0.2zM139.2 142.3h2.3v1.6h-2.3zM142 166.2h1.4v1.6h-1.4zM139 169.1h2.2v1.6h-2.2zM144.1 181.1h1.3v1.6h-1.3zM137.5 204.9h1.3v1.6h-1.3z"/><path fill="#a8f070" fill-opacity="0.6" d="M137.5 121.5h2.5v1.6h-2.5zM146.5 121.5h0.5v1.6h-0.5zM137.5 136.4h1.1v1.6h-1.1zM137.5 154.2h1.8v1.6h-1.8zM137.5 163.2h1.7v1.6h-1.7zM144.9 163.2h1.6v1.6h-1.6zM137.5 166.2h2.1v1.6h-2.1zM137.5 196h2v1.6h-2zM146.9 216.8h0.1v1.6h-0.1zM137.5 219.8h2v1.6h-2zM141.1 222.8h1.8v1.6h-1.8zM146.6 225.8h0.4v1.6h-0.4zM143.6 237.7h2.2v1.6h-2.2zM139.1 243.6h1.7v1.6h-1.7zM146.4 249.6h0.6v1.6h-0.6zM137.5 279.4h1.9v1.6h-1.9zM139.1 285.4h2.7v1.6h-2.7z"/><path fill="#f0c0fa" fill-opacity="0.2" d="M263.4 1h8.3v3h-8.3zM263.4 4h8.3v3h-8.3zM263.4 7h8.3v3h-8.3zM263.4 9.9h8.3v3h-8.3zM263.4 12.9h8.3v3h-8.3zM263.4 15.9h8.3v3h-8.3zM263.4 18.9h8.3v3h-8.3z"/><path fill="#f0c0fa" d="M264.7 4h5.5v2.1h-5.5zM264.7 7h5.6v2.1h-5.6zM264.6 9.9h5.8v2.1h-5.8zM264.8 18.9h6.6v2.1h-6.6zM264.4 21h6v2.1h-6zM264.7 24h6.1v2.1h-6.1zM263.5 27h6.8v2.1h-6.8zM264.6 29.9h6.4v2.1h-6.4zM263.8 32.9h7.6v2.1h-7.6zM263.7 35.9h7.5v2.1h-7.5zM264 38.9h6.3v2.1h-6.3z"/><path fill="#f0c0fa" fill-opacity="0.4" d="M263.4 21h8.3v3h-8.3zM263.4 24h8.3v3h-8.3zM263.4 27h8.3v3h-8.3zM263.4 29.9h8.3v3h-8.3zM263.4 32.9h8.3v3h-8.3zM263.4 35.9h8.3v3h-8.3zM263.4 38.9h8.3v3h-8.3z"/><path fill="#9ff0ff" d="M68 54.9h0.6v2.1h-0.6zM68.4 57.9h0.5v2.1h-0.5zM67.5 60.9h1.2v2.1h-1.2z"/><path fill="#b0e8ff" fill-opacity="0.8" d="M53 88.5h18v1.2h-18zM53 154.5h22v1.2h-22z"/><path fill="#b0e6f6" fill-opacity="0.3" d="M51 230.9h20.5v3h-20.5zM51 233.9h20.5v3h-20.5zM51 236.9h20.5v3h-20.5zM51 239.8h20.5v3h-20.5zM51 242.8h20.5v3h-20.5z"/><path fill="#b0e6f6" d="M51.1 230.9h20.3v2.2h-20.3zM51.3 233.9h19.8v2.2h-19.8zM51.2 236.9h20.2v2.2h-20.2zM51.1 239.8h19.9v2.2h-19.9zM51 242.8h20v2.2h-20z"/><path fill="#c8f09a" d="M137.2 231h4.5v2.1h-4.5zM137.9 237h4.6v2.1h-4.6zM138 239.9h4.2v2.1h-4.2zM138.4 242.9h4.1v2.1h-4.1z"/><path fill="#b8f07a" d="M137.7 298h3.3v2.1h-3.3zM138.1 301h3v2.1h-3zM137.7 306.9h2.4v2.1h-2.4zM137.7 309.9h3.6v2.1h-3.6zM138.6 312.9h2.4v2.1h-2.4zM138.3 318.8h2.7v2.1h-2.7zM137.8 321.8h2.9v2.1h-2.9zM138.7 324.8h2v2.1h-2zM137.4 330.8h3.6v2.1h-3.6zM137.6 333.7h2.5v2.1h-2.5z"/><path fill="#f0c8fa" fill-opacity="0.8" d="M265.5 299h1.5v1.6h-1.5zM265.8 305h1.1v1.6h-1.1zM271.3 305h0.7v1.6h-0.7zM263.5 307.9h1.3v1.6h-1.3zM263.5 313.9h1.2v1.6h-1.2zM268.6 313.9h1.6v1.6h-1.6zM270.2 313.9h1.8v1.6h-1.8zM270.2 316.9h1.1v1.6h-1.1zM269 322.8h2.3v1.6h-2.3zM265.6 328.8h2.2v1.6h-2.2zM270.4 328.8h1.6v1.6h-1.6zM271.9 334.8h0.1v1.6h-0.1zM270.4 337.7h1.6v1.6h-1.6z"/><path fill="#f0c8fa" fill-opacity="0.9" d="M268.2 302h2.6v1.6h-2.6zM269.9 305h1.4v1.6h-1.4zM269.7 310.9h2.2v1.6h-2.2zM265.2 316.9h2.3v1.6h-2.3zM265.3 319.9h1.6v1.6h-1.6zM268.3 319.9h2.4v1.6h-2.4zM270.7 319.9h1.3v1.6h-1.3zM263.5 322.8h1.7v1.6h-1.7zM267.8 328.8h2.6v1.6h-2.6zM270.2 331.8h1.8v1.6h-1.8z"/><path fill="#f0c8fa" d="M268 305h1.9v1.6h-1.9zM267.3 307.9h2.7v1.6h-2.7zM266.5 310.9h1.1v1.6h-1.1zM264.7 313.9h1.4v1.6h-1.4zM267.5 316.9h2.7v1.6h-2.7zM263.5 331.8h1.5v1.6h-1.5zM268.3 334.8h2.2v1.6h-2.2z"/><path fill="#f0c8fa" fill-opacity="0.7" d="M264.8 307.9h2.4v1.6h-2.4zM265.9 337.7h1.9v1.6h-1.9z"/><path fill="#b0f080" fill-opacity="0.2" d="M137.5 501h4v3h-4zM137.5 504h4v3h-4zM137.5 507h4v3h-4zM137.5 509.9h4v3h-4zM137.5 512.9h4v3h-4zM137.5 515.9h4v3h-4zM137.5 518.9h4v3h-4zM137.5 521.9h4v3h-4zM137.5 524.8h4v3h-4zM137.5 527.8h4v3h-4zM137.5 530.8h4v3h-4z"/><path fill="#b0f080" d="M137.5 501h3.9v2.1h-3.9zM137.8 504h3.1v2.1h-3.1zM138.1 507h3.3v2.1h-3.3zM138.1 509.9h3v2.1h-3zM138.4 512.9h3v2.1h-3zM138.9 515.9h1.6v2.1h-1.6zM138.9 518.9h1.9v2.1h-1.9zM138.5 524.8h2.7v2.1h-2.7zM138 527.8h2.5v2.1h-2.5zM137.6 530.8h3.1v2.1h-3.1z"/><path fill="#f8ec40" d="M198.1 604h9.7v2.1h-9.7zM198.7 607h9.5v2.1h-9.5zM197.6 610h9.4v2.1h-9.4z"/><path fill="#f0c0fa" fill-opacity="0.9" d="M263 622h5v2.2h-5z"/></svg>
<div class="box" style="left:118px;top:21px;width:67px;height:17px;background:#a8d4f7"></div>
<div class="box" style="left:168px;top:37px;width:17px;height:4px;background:#a8d4f7"></div>
<div class="box" style="left:198px;top:21px;width:64px;height:17px;background:#a6e86a"></div>
<div class="box" style="left:252px;top:37px;width:10px;height:4px;background:#a6e86a"></div>
<div class="box" style="left:262px;top:21px;width:62px;height:17px;background:#fbf56e"></div>
<div class="box" style="left:312px;top:37px;width:12px;height:4px;background:#fbf56e"></div>
<div class="box" style="left:332px;top:21px;width:126px;height:17px;background:#e6a3f2"></div>
<div class="sq" style="left:169px;top:23px;width:7px;height:6px"></div>
<div class="sq" style="left:177px;top:30px;width:7px;height:6px"></div>
<div class="sq" style="left:253px;top:26px;width:8px;height:6px"></div>
<div class="sq" style="left:313px;top:26px;width:10px;height:6px"></div>
<div class="sq" style="left:379px;top:36px;width:8px;height:6px"></div>
<div class="t" style="left:124px;top:23px">B cells</div>
<div class="t" style="left:201px;top:23px">Neurons</div>
<div class="t" style="left:263px;top:23px">Thyroid</div>
<div class="t" style="left:333px;top:23px">Neurons/oligodend.</div>

<div class="t r" style="right:439.4px;top:49px">Neurons</div>
<div class="bar" style="left:111px;top:41px;height:29px"></div>
<div class="t r" style="right:439.4px;top:81px">Cardiomyocytes</div>
<div class="bar" style="left:111px;top:83px;height:11px"></div>
<div class="t r" style="right:439.4px;top:107px">Heart fibroblasts</div>
<div class="bar" style="left:111px;top:110px;height:11px"></div>
<div class="t r" style="right:439.4px;top:271px">B cells</div>
<div class="bar" style="left:111px;top:272px;height:13px"></div>
<div class="t r" style="right:439.4px;top:384px">Bladder epithelium</div>
<div class="bar" style="left:111px;top:385px;height:14px"></div>
<div class="t r" style="right:439.4px;top:458px">Colon epithelium</div>
<div class="bar" style="left:111px;top:453px;height:23px"></div>
<div class="t r" style="right:439.4px;top:500px">Gastric epithelium</div>
<div class="bar" style="left:111px;top:491px;height:32px"></div>
<div class="t r" style="right:439.4px;top:626px">Kidney epithelium</div>
<div class="bar" style="left:111px;top:622px;height:22px"></div>

<div class="bar" style="left:431.5px;top:70px;height:12px"></div>
<div class="t" style="left:436px;top:70px">Oligodend.</div>
<div class="bar" style="left:431.5px;top:94px;height:14px"></div>
<div class="t" style="left:436px;top:94px">Smooth muscle</div>
<div class="bar" style="left:431.5px;top:338px;height:39px"></div>
<div class="t" style="left:436px;top:350px">Oral epithelium</div>
<div class="bar" style="left:431.5px;top:401px;height:11px"></div>
<div class="t" style="left:436px;top:399px">Prostate epithelium</div>
<div class="bar" style="left:431.5px;top:478px;height:13px"></div>
<div class="t" style="left:436px;top:469px">Small intestine<br>epithelium</div>
<div class="bar" style="left:431.5px;top:537px;height:43px"></div>
<div class="t" style="left:436px;top:542px;line-height:16.7px">Endocrine<br>pancreas</div>
<div class="bar" style="left:431.5px;top:644px;height:10px"></div>
<div class="t" style="left:436px;top:642px">Thyroid epithelium</div>

<div class="t" style="left:177px;top:669px;font-size:12.8px">Chr. 2: 3255001-3273000 (hg19)</div>
</body></html>
